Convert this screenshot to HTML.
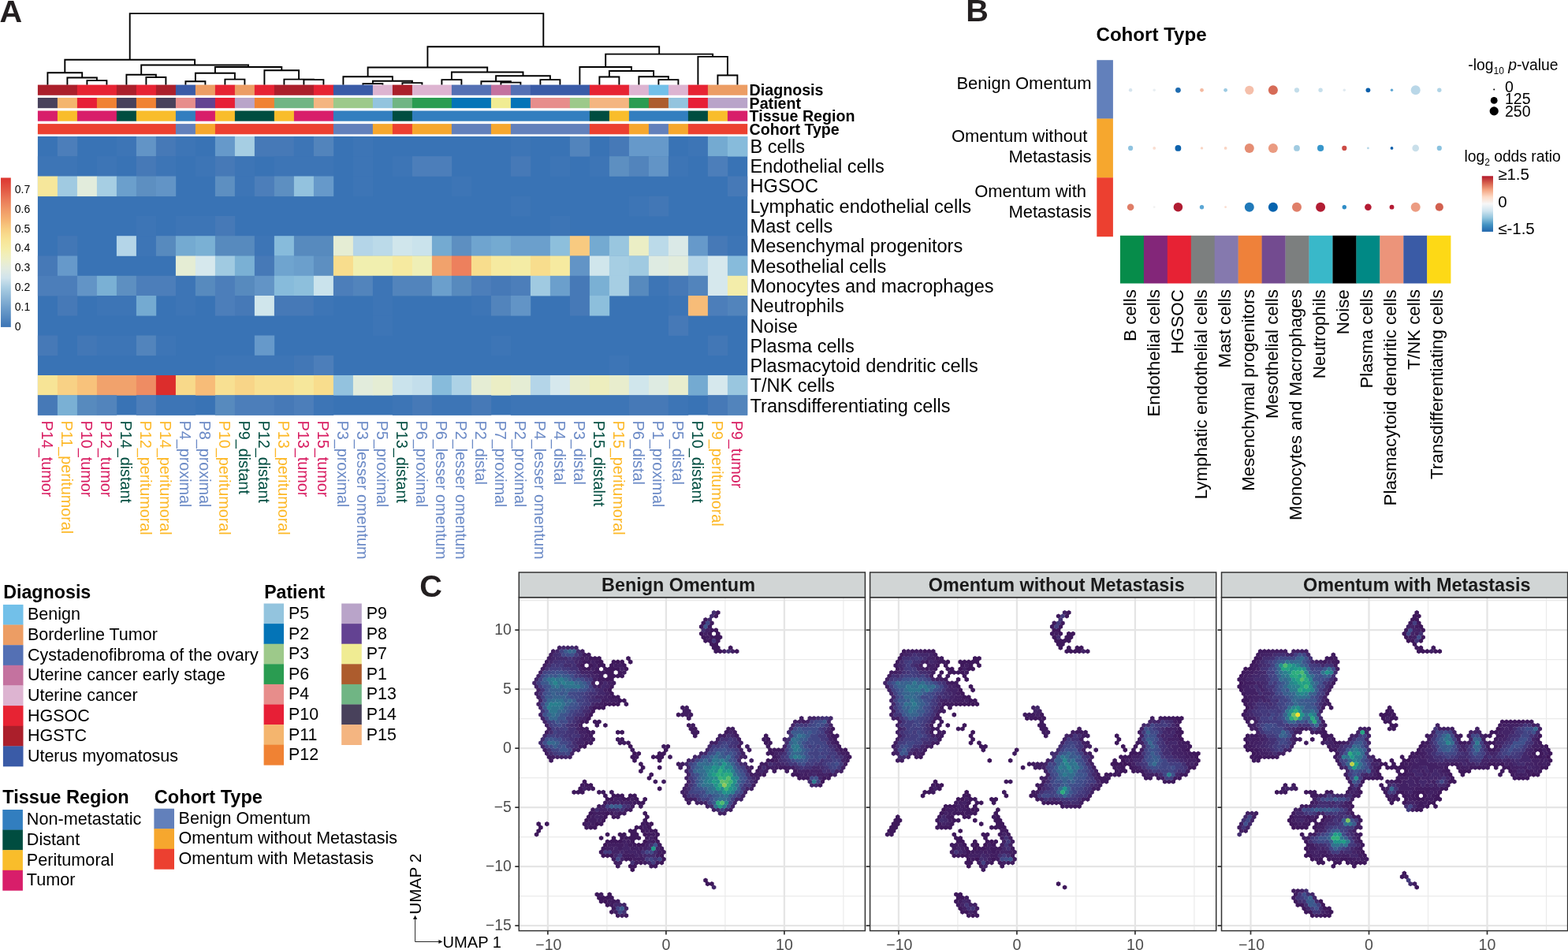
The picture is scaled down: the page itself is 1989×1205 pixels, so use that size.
<!DOCTYPE html>
<html lang="en">
<head>
<meta charset="utf-8">
<title>Figure</title>
<style>
html,body{margin:0;padding:0;background:#fff;}
body{width:1989px;height:1205px;overflow:hidden;}
svg{display:block;}
text{font-family:"Liberation Sans",sans-serif;}
.b{font-weight:bold;}
</style>
</head>
<body>
<svg width="1989" height="1205" viewBox="0 0 1989 1205">
<rect width="1989" height="1205" fill="#fff"/>
<g id="panelA">
<path d="M110.4 107.8V102.1H135.4V107.8M85.4 107.8V98.5H122.9V102.1M60.4 107.8V92.3H104.2V98.5M185.4 107.8V98H210.4V107.8M160.4 107.8V94.8H197.9V98M235.4 107.8V103.3H260.4V107.8M285.4 107.8V100.6H310.4V107.8M247.9 103.3V92.8H297.9V100.6M385.4 107.8V101.1H410.4V107.8M360.4 107.8V100.6H397.9V101.1M335.4 107.8V89.2H379.1V100.6M272.9 92.8V85H357.3V89.2M179.2 94.8V82.5H315.1V85M82.3 92.3V75.7H247.1V82.5M460.4 107.8V106.1H485.4V107.8M510.4 107.8V105.1H535.4V107.8M472.9 106.1V102.8H522.9V105.1M435.4 107.8V97.3H497.9V102.8M560.4 107.8V101.1H585.4V107.8M635.4 107.8V104.6H660.4V107.8M610.4 107.8V103.3H647.9V104.6M685.4 107.8V101.1H710.4V107.8M629.1 103.3V96.3H697.9V101.1M572.9 101.1V91.5H663.5V96.3M466.6 97.3V85.5H618.2V91.5M760.4 107.8V97.5H785.4V107.8M835.4 107.8V101.1H860.4V107.8M810.4 107.8V97.3H847.9V101.1M772.9 97.5V90H829.1V97.3M735.4 107.8V85H801V90M910.4 107.8V95.5H935.4V107.8M885.4 107.8V71.9H922.9V95.5M768.2 85V68.6H904.1V71.9M542.4 85.5V59.3H836.2V68.6M164.7 75.7V17.1H689.3V59.3" fill="none" stroke="#000" stroke-width="1.9" stroke-linejoin="miter"/>
<rect x="47.9" y="107.6" width="50.3" height="13.2" fill="#AB1F2B"/>
<rect x="97.9" y="107.6" width="50.3" height="13.2" fill="#E72333"/>
<rect x="147.9" y="107.6" width="25.3" height="13.2" fill="#AB1F2B"/>
<rect x="172.9" y="107.6" width="25.3" height="13.2" fill="#E72333"/>
<rect x="197.9" y="107.6" width="25.3" height="13.2" fill="#AB1F2B"/>
<rect x="222.9" y="107.6" width="25.3" height="13.2" fill="#3A5BA7"/>
<rect x="247.9" y="107.6" width="25.3" height="13.2" fill="#EC9D64"/>
<rect x="272.9" y="107.6" width="25.3" height="13.2" fill="#E72333"/>
<rect x="297.9" y="107.6" width="25.3" height="13.2" fill="#EC9D64"/>
<rect x="322.9" y="107.6" width="25.3" height="13.2" fill="#E72333"/>
<rect x="347.9" y="107.6" width="50.3" height="13.2" fill="#AB1F2B"/>
<rect x="397.9" y="107.6" width="25.3" height="13.2" fill="#E72333"/>
<rect x="422.9" y="107.6" width="50.3" height="13.2" fill="#3A5BA7"/>
<rect x="472.9" y="107.6" width="25.3" height="13.2" fill="#DDB4D1"/>
<rect x="497.9" y="107.6" width="25.3" height="13.2" fill="#AB1F2B"/>
<rect x="522.9" y="107.6" width="50.3" height="13.2" fill="#DDB4D1"/>
<rect x="572.9" y="107.6" width="50.3" height="13.2" fill="#5470B4"/>
<rect x="622.9" y="107.6" width="25.3" height="13.2" fill="#C4729F"/>
<rect x="647.9" y="107.6" width="25.3" height="13.2" fill="#5470B4"/>
<rect x="672.9" y="107.6" width="75.3" height="13.2" fill="#3A5BA7"/>
<rect x="747.9" y="107.6" width="50.3" height="13.2" fill="#E72333"/>
<rect x="797.9" y="107.6" width="25.3" height="13.2" fill="#DDB4D1"/>
<rect x="822.9" y="107.6" width="25.3" height="13.2" fill="#72C0E9"/>
<rect x="847.9" y="107.6" width="25.3" height="13.2" fill="#DDB4D1"/>
<rect x="872.9" y="107.6" width="25.3" height="13.2" fill="#E72333"/>
<rect x="897.9" y="107.6" width="50.3" height="13.2" fill="#EC9D64"/>
<rect x="47.9" y="124" width="25.3" height="13.2" fill="#48415B"/>
<rect x="72.9" y="124" width="25.3" height="13.2" fill="#F4B56E"/>
<rect x="97.9" y="124" width="25.3" height="13.2" fill="#E71F36"/>
<rect x="122.9" y="124" width="25.3" height="13.2" fill="#F08233"/>
<rect x="147.9" y="124" width="25.3" height="13.2" fill="#48415B"/>
<rect x="172.9" y="124" width="25.3" height="13.2" fill="#F08233"/>
<rect x="197.9" y="124" width="25.3" height="13.2" fill="#48415B"/>
<rect x="222.9" y="124" width="25.3" height="13.2" fill="#E78D8B"/>
<rect x="247.9" y="124" width="25.3" height="13.2" fill="#634292"/>
<rect x="272.9" y="124" width="25.3" height="13.2" fill="#E71F36"/>
<rect x="297.9" y="124" width="25.3" height="13.2" fill="#B9A4C9"/>
<rect x="322.9" y="124" width="25.3" height="13.2" fill="#F08233"/>
<rect x="347.9" y="124" width="50.3" height="13.2" fill="#70B584"/>
<rect x="397.9" y="124" width="25.3" height="13.2" fill="#F4B581"/>
<rect x="422.9" y="124" width="50.3" height="13.2" fill="#9DC98A"/>
<rect x="472.9" y="124" width="25.3" height="13.2" fill="#93C4DE"/>
<rect x="497.9" y="124" width="25.3" height="13.2" fill="#70B584"/>
<rect x="522.9" y="124" width="50.3" height="13.2" fill="#2A9C51"/>
<rect x="572.9" y="124" width="50.3" height="13.2" fill="#0474B7"/>
<rect x="622.9" y="124" width="25.3" height="13.2" fill="#F0EC93"/>
<rect x="647.9" y="124" width="25.3" height="13.2" fill="#0474B7"/>
<rect x="672.9" y="124" width="50.3" height="13.2" fill="#E78D8B"/>
<rect x="722.9" y="124" width="25.3" height="13.2" fill="#9DC98A"/>
<rect x="747.9" y="124" width="50.3" height="13.2" fill="#F4B581"/>
<rect x="797.9" y="124" width="25.3" height="13.2" fill="#2A9C51"/>
<rect x="822.9" y="124" width="25.3" height="13.2" fill="#AD5C2D"/>
<rect x="847.9" y="124" width="25.3" height="13.2" fill="#93C4DE"/>
<rect x="872.9" y="124" width="25.3" height="13.2" fill="#E71F36"/>
<rect x="897.9" y="124" width="50.3" height="13.2" fill="#B9A4C9"/>
<rect x="47.9" y="140.5" width="25.3" height="13.2" fill="#D81E6A"/>
<rect x="72.9" y="140.5" width="25.3" height="13.2" fill="#F9BD2B"/>
<rect x="97.9" y="140.5" width="50.3" height="13.2" fill="#D81E6A"/>
<rect x="147.9" y="140.5" width="25.3" height="13.2" fill="#004D40"/>
<rect x="172.9" y="140.5" width="50.3" height="13.2" fill="#F9BD2B"/>
<rect x="222.9" y="140.5" width="25.3" height="13.2" fill="#327EBF"/>
<rect x="247.9" y="140.5" width="25.3" height="13.2" fill="#D81E6A"/>
<rect x="272.9" y="140.5" width="25.3" height="13.2" fill="#F9BD2B"/>
<rect x="297.9" y="140.5" width="50.3" height="13.2" fill="#004D40"/>
<rect x="347.9" y="140.5" width="25.3" height="13.2" fill="#F9BD2B"/>
<rect x="372.9" y="140.5" width="50.3" height="13.2" fill="#D81E6A"/>
<rect x="422.9" y="140.5" width="75.3" height="13.2" fill="#327EBF"/>
<rect x="497.9" y="140.5" width="25.3" height="13.2" fill="#004D40"/>
<rect x="522.9" y="140.5" width="225.3" height="13.2" fill="#327EBF"/>
<rect x="747.9" y="140.5" width="25.3" height="13.2" fill="#004D40"/>
<rect x="772.9" y="140.5" width="25.3" height="13.2" fill="#F9BD2B"/>
<rect x="797.9" y="140.5" width="75.3" height="13.2" fill="#327EBF"/>
<rect x="872.9" y="140.5" width="25.3" height="13.2" fill="#004D40"/>
<rect x="897.9" y="140.5" width="25.3" height="13.2" fill="#F9BD2B"/>
<rect x="922.9" y="140.5" width="25.3" height="13.2" fill="#D81E6A"/>
<rect x="47.9" y="157.1" width="175.3" height="13.2" fill="#EC4030"/>
<rect x="222.9" y="157.1" width="25.3" height="13.2" fill="#6280BB"/>
<rect x="247.9" y="157.1" width="25.3" height="13.2" fill="#F6A72E"/>
<rect x="272.9" y="157.1" width="150.3" height="13.2" fill="#EC4030"/>
<rect x="422.9" y="157.1" width="50.3" height="13.2" fill="#6280BB"/>
<rect x="472.9" y="157.1" width="25.3" height="13.2" fill="#F6A72E"/>
<rect x="497.9" y="157.1" width="25.3" height="13.2" fill="#EC4030"/>
<rect x="522.9" y="157.1" width="50.3" height="13.2" fill="#F6A72E"/>
<rect x="572.9" y="157.1" width="50.3" height="13.2" fill="#6280BB"/>
<rect x="622.9" y="157.1" width="25.3" height="13.2" fill="#F6A72E"/>
<rect x="647.9" y="157.1" width="100.3" height="13.2" fill="#6280BB"/>
<rect x="747.9" y="157.1" width="50.3" height="13.2" fill="#EC4030"/>
<rect x="797.9" y="157.1" width="25.3" height="13.2" fill="#F6A72E"/>
<rect x="822.9" y="157.1" width="25.3" height="13.2" fill="#6280BB"/>
<rect x="847.9" y="157.1" width="25.3" height="13.2" fill="#F6A72E"/>
<rect x="872.9" y="157.1" width="75.3" height="13.2" fill="#EC4030"/>
<text x="950.6" y="121.2" class="b" font-size="19.65">Diagnosis</text>
<text x="950.6" y="137.6" class="b" font-size="19.65">Patient</text>
<text x="950.6" y="154.1" class="b" font-size="19.65">Tissue Region</text>
<text x="950.6" y="170.7" class="b" font-size="19.65">Cohort Type</text>
<rect x="47.9" y="173" width="900.3" height="353.5" fill="#3973B5"/>
<rect x="72.9" y="173" width="25.3" height="25.6" fill="#4C7EBA"/>
<rect x="147.9" y="173" width="25.3" height="25.6" fill="#3D75B6"/>
<rect x="172.9" y="173" width="25.3" height="25.6" fill="#6294C6"/>
<rect x="197.9" y="173" width="25.3" height="25.6" fill="#4679B7"/>
<rect x="222.9" y="173" width="25.3" height="25.6" fill="#3D75B6"/>
<rect x="272.9" y="173" width="25.3" height="25.6" fill="#6699CA"/>
<rect x="297.9" y="173" width="25.3" height="25.6" fill="#A6CEE3"/>
<rect x="322.9" y="173" width="50.3" height="25.6" fill="#4679B7"/>
<rect x="372.9" y="173" width="25.3" height="25.6" fill="#3D75B6"/>
<rect x="397.9" y="173" width="25.3" height="25.6" fill="#5284BC"/>
<rect x="447.9" y="173" width="25.3" height="25.6" fill="#3D75B6"/>
<rect x="647.9" y="173" width="25.3" height="25.6" fill="#3D75B6"/>
<rect x="722.9" y="173" width="25.3" height="25.6" fill="#5284BC"/>
<rect x="772.9" y="173" width="25.3" height="25.6" fill="#4679B7"/>
<rect x="797.9" y="173" width="50.3" height="25.6" fill="#6699CA"/>
<rect x="872.9" y="173" width="25.3" height="25.6" fill="#3D75B6"/>
<rect x="897.9" y="173" width="25.3" height="25.6" fill="#74AAD1"/>
<rect x="922.9" y="173" width="25.3" height="25.6" fill="#87BBDB"/>
<rect x="47.9" y="198.2" width="50.3" height="25.6" fill="#3D75B6"/>
<rect x="122.9" y="198.2" width="25.3" height="25.6" fill="#3D75B6"/>
<rect x="172.9" y="198.2" width="25.3" height="25.6" fill="#4679B7"/>
<rect x="197.9" y="198.2" width="25.3" height="25.6" fill="#3D75B6"/>
<rect x="247.9" y="198.2" width="25.3" height="25.6" fill="#3D75B6"/>
<rect x="272.9" y="198.2" width="25.3" height="25.6" fill="#4679B7"/>
<rect x="297.9" y="198.2" width="25.3" height="25.6" fill="#3D75B6"/>
<rect x="347.9" y="198.2" width="75.3" height="25.6" fill="#3D75B6"/>
<rect x="447.9" y="198.2" width="25.3" height="25.6" fill="#3D75B6"/>
<rect x="497.9" y="198.2" width="25.3" height="25.6" fill="#3D75B6"/>
<rect x="522.9" y="198.2" width="50.3" height="25.6" fill="#4C7EBA"/>
<rect x="647.9" y="198.2" width="25.3" height="25.6" fill="#4679B7"/>
<rect x="697.9" y="198.2" width="25.3" height="25.6" fill="#3D75B6"/>
<rect x="747.9" y="198.2" width="25.3" height="25.6" fill="#3D75B6"/>
<rect x="772.9" y="198.2" width="25.3" height="25.6" fill="#5D8FC1"/>
<rect x="797.9" y="198.2" width="25.3" height="25.6" fill="#5284BC"/>
<rect x="822.9" y="198.2" width="25.3" height="25.6" fill="#6294C6"/>
<rect x="847.9" y="198.2" width="25.3" height="25.6" fill="#3D75B6"/>
<rect x="897.9" y="198.2" width="25.3" height="25.6" fill="#4C7EBA"/>
<rect x="47.9" y="223.5" width="25.3" height="25.6" fill="#F6E79B"/>
<rect x="72.9" y="223.5" width="25.3" height="25.6" fill="#A0CAE1"/>
<rect x="97.9" y="223.5" width="25.3" height="25.6" fill="#E2ECDC"/>
<rect x="122.9" y="223.5" width="25.3" height="25.6" fill="#A6CEE3"/>
<rect x="147.9" y="223.5" width="25.3" height="25.6" fill="#6B9FCC"/>
<rect x="172.9" y="223.5" width="25.3" height="25.6" fill="#5D8FC1"/>
<rect x="197.9" y="223.5" width="25.3" height="25.6" fill="#6294C6"/>
<rect x="272.9" y="223.5" width="25.3" height="25.6" fill="#5D8FC1"/>
<rect x="297.9" y="223.5" width="25.3" height="25.6" fill="#3D75B6"/>
<rect x="322.9" y="223.5" width="25.3" height="25.6" fill="#4C7EBA"/>
<rect x="347.9" y="223.5" width="25.3" height="25.6" fill="#5D8FC1"/>
<rect x="372.9" y="223.5" width="25.3" height="25.6" fill="#93C2DE"/>
<rect x="397.9" y="223.5" width="25.3" height="25.6" fill="#6699CA"/>
<rect x="447.9" y="223.5" width="25.3" height="25.6" fill="#3D75B6"/>
<rect x="572.9" y="223.5" width="25.3" height="25.6" fill="#3D75B6"/>
<rect x="922.9" y="223.5" width="25.3" height="25.6" fill="#4679B7"/>
<rect x="647.9" y="248.8" width="25.3" height="25.6" fill="#3D75B6"/>
<rect x="797.9" y="248.8" width="25.3" height="25.6" fill="#3D75B6"/>
<rect x="822.9" y="248.8" width="25.3" height="25.6" fill="#4277B6"/>
<rect x="172.9" y="274" width="25.3" height="25.6" fill="#3D75B6"/>
<rect x="222.9" y="274" width="50.3" height="25.6" fill="#3D75B6"/>
<rect x="272.9" y="274" width="25.3" height="25.6" fill="#4679B7"/>
<rect x="697.9" y="274" width="25.3" height="25.6" fill="#3D75B6"/>
<rect x="72.9" y="299.2" width="25.3" height="25.6" fill="#4277B6"/>
<rect x="147.9" y="299.2" width="25.3" height="25.6" fill="#B4D5E8"/>
<rect x="172.9" y="299.2" width="25.3" height="25.6" fill="#3D75B6"/>
<rect x="197.9" y="299.2" width="25.3" height="25.6" fill="#578ABE"/>
<rect x="222.9" y="299.2" width="25.3" height="25.6" fill="#74AAD1"/>
<rect x="247.9" y="299.2" width="25.3" height="25.6" fill="#7AB0D4"/>
<rect x="272.9" y="299.2" width="50.3" height="25.6" fill="#578ABE"/>
<rect x="322.9" y="299.2" width="25.3" height="25.6" fill="#3D75B6"/>
<rect x="347.9" y="299.2" width="25.3" height="25.6" fill="#87BBDB"/>
<rect x="372.9" y="299.2" width="50.3" height="25.6" fill="#578ABE"/>
<rect x="422.9" y="299.2" width="25.3" height="25.6" fill="#E5EDD4"/>
<rect x="447.9" y="299.2" width="25.3" height="25.6" fill="#B4D5E8"/>
<rect x="472.9" y="299.2" width="25.3" height="25.6" fill="#BBDAE9"/>
<rect x="497.9" y="299.2" width="25.3" height="25.6" fill="#D0E6EC"/>
<rect x="522.9" y="299.2" width="25.3" height="25.6" fill="#CAE3EC"/>
<rect x="547.9" y="299.2" width="25.3" height="25.6" fill="#74AAD1"/>
<rect x="572.9" y="299.2" width="25.3" height="25.6" fill="#5D8FC1"/>
<rect x="597.9" y="299.2" width="25.3" height="25.6" fill="#6FA4CF"/>
<rect x="622.9" y="299.2" width="25.3" height="25.6" fill="#74AAD1"/>
<rect x="647.9" y="299.2" width="50.3" height="25.6" fill="#6B9FCC"/>
<rect x="697.9" y="299.2" width="25.3" height="25.6" fill="#8DBFDC"/>
<rect x="722.9" y="299.2" width="25.3" height="25.6" fill="#F8CA80"/>
<rect x="747.9" y="299.2" width="25.3" height="25.6" fill="#74AAD1"/>
<rect x="772.9" y="299.2" width="25.3" height="25.6" fill="#99C6DF"/>
<rect x="797.9" y="299.2" width="25.3" height="25.6" fill="#EBEEC5"/>
<rect x="822.9" y="299.2" width="25.3" height="25.6" fill="#BBDAE9"/>
<rect x="847.9" y="299.2" width="25.3" height="25.6" fill="#DAE9E7"/>
<rect x="872.9" y="299.2" width="25.3" height="25.6" fill="#6699CA"/>
<rect x="897.9" y="299.2" width="25.3" height="25.6" fill="#4679B7"/>
<rect x="922.9" y="299.2" width="25.3" height="25.6" fill="#3D75B6"/>
<rect x="47.9" y="324.5" width="25.3" height="25.6" fill="#4679B7"/>
<rect x="72.9" y="324.5" width="25.3" height="25.6" fill="#6699CA"/>
<rect x="222.9" y="324.5" width="25.3" height="25.6" fill="#E5EDD4"/>
<rect x="247.9" y="324.5" width="25.3" height="25.6" fill="#D6E8ED"/>
<rect x="272.9" y="324.5" width="25.3" height="25.6" fill="#A0CAE1"/>
<rect x="297.9" y="324.5" width="25.3" height="25.6" fill="#7AB0D4"/>
<rect x="322.9" y="324.5" width="25.3" height="25.6" fill="#4679B7"/>
<rect x="347.9" y="324.5" width="25.3" height="25.6" fill="#6FA4CF"/>
<rect x="372.9" y="324.5" width="25.3" height="25.6" fill="#6B9FCC"/>
<rect x="397.9" y="324.5" width="25.3" height="25.6" fill="#5D8FC1"/>
<rect x="422.9" y="324.5" width="25.3" height="25.6" fill="#F8DD8D"/>
<rect x="447.9" y="324.5" width="50.3" height="25.6" fill="#F1EFAF"/>
<rect x="497.9" y="324.5" width="25.3" height="25.6" fill="#F6EAA0"/>
<rect x="522.9" y="324.5" width="25.3" height="25.6" fill="#EFEFB6"/>
<rect x="547.9" y="324.5" width="25.3" height="25.6" fill="#F1A26C"/>
<rect x="572.9" y="324.5" width="25.3" height="25.6" fill="#ED805D"/>
<rect x="597.9" y="324.5" width="25.3" height="25.6" fill="#F8DD8D"/>
<rect x="622.9" y="324.5" width="25.3" height="25.6" fill="#F6EAA0"/>
<rect x="647.9" y="324.5" width="25.3" height="25.6" fill="#F4ECA5"/>
<rect x="672.9" y="324.5" width="25.3" height="25.6" fill="#F8DD8D"/>
<rect x="697.9" y="324.5" width="25.3" height="25.6" fill="#F6EAA0"/>
<rect x="722.9" y="324.5" width="25.3" height="25.6" fill="#6294C6"/>
<rect x="747.9" y="324.5" width="25.3" height="25.6" fill="#D0E6EC"/>
<rect x="772.9" y="324.5" width="25.3" height="25.6" fill="#A6CEE3"/>
<rect x="797.9" y="324.5" width="25.3" height="25.6" fill="#A0CAE1"/>
<rect x="822.9" y="324.5" width="25.3" height="25.6" fill="#DEEBE2"/>
<rect x="847.9" y="324.5" width="25.3" height="25.6" fill="#E2ECDC"/>
<rect x="872.9" y="324.5" width="25.3" height="25.6" fill="#B4D5E8"/>
<rect x="897.9" y="324.5" width="25.3" height="25.6" fill="#D6E8ED"/>
<rect x="922.9" y="324.5" width="25.3" height="25.6" fill="#87BBDB"/>
<rect x="47.9" y="349.8" width="50.3" height="25.6" fill="#4C7EBA"/>
<rect x="97.9" y="349.8" width="25.3" height="25.6" fill="#6294C6"/>
<rect x="122.9" y="349.8" width="25.3" height="25.6" fill="#7AB0D4"/>
<rect x="147.9" y="349.8" width="25.3" height="25.6" fill="#5D8FC1"/>
<rect x="172.9" y="349.8" width="50.3" height="25.6" fill="#4C7EBA"/>
<rect x="222.9" y="349.8" width="25.3" height="25.6" fill="#3D75B6"/>
<rect x="247.9" y="349.8" width="25.3" height="25.6" fill="#578ABE"/>
<rect x="272.9" y="349.8" width="25.3" height="25.6" fill="#4C7EBA"/>
<rect x="297.9" y="349.8" width="25.3" height="25.6" fill="#578ABE"/>
<rect x="322.9" y="349.8" width="25.3" height="25.6" fill="#6294C6"/>
<rect x="347.9" y="349.8" width="25.3" height="25.6" fill="#87BBDB"/>
<rect x="372.9" y="349.8" width="25.3" height="25.6" fill="#8DBFDC"/>
<rect x="397.9" y="349.8" width="25.3" height="25.6" fill="#CAE3EC"/>
<rect x="422.9" y="349.8" width="25.3" height="25.6" fill="#4C7EBA"/>
<rect x="447.9" y="349.8" width="25.3" height="25.6" fill="#5284BC"/>
<rect x="472.9" y="349.8" width="25.3" height="25.6" fill="#3D75B6"/>
<rect x="497.9" y="349.8" width="50.3" height="25.6" fill="#5284BC"/>
<rect x="547.9" y="349.8" width="25.3" height="25.6" fill="#6B9FCC"/>
<rect x="572.9" y="349.8" width="25.3" height="25.6" fill="#578ABE"/>
<rect x="597.9" y="349.8" width="25.3" height="25.6" fill="#4C7EBA"/>
<rect x="622.9" y="349.8" width="25.3" height="25.6" fill="#4679B7"/>
<rect x="647.9" y="349.8" width="25.3" height="25.6" fill="#4C7EBA"/>
<rect x="672.9" y="349.8" width="25.3" height="25.6" fill="#A0CAE1"/>
<rect x="697.9" y="349.8" width="25.3" height="25.6" fill="#6B9FCC"/>
<rect x="722.9" y="349.8" width="25.3" height="25.6" fill="#4679B7"/>
<rect x="747.9" y="349.8" width="25.3" height="25.6" fill="#7AB0D4"/>
<rect x="772.9" y="349.8" width="25.3" height="25.6" fill="#A6CEE3"/>
<rect x="797.9" y="349.8" width="25.3" height="25.6" fill="#578ABE"/>
<rect x="822.9" y="349.8" width="25.3" height="25.6" fill="#3D75B6"/>
<rect x="847.9" y="349.8" width="25.3" height="25.6" fill="#4679B7"/>
<rect x="872.9" y="349.8" width="25.3" height="25.6" fill="#5284BC"/>
<rect x="897.9" y="349.8" width="25.3" height="25.6" fill="#D6E8ED"/>
<rect x="922.9" y="349.8" width="25.3" height="25.6" fill="#F3EDAA"/>
<rect x="72.9" y="375" width="25.3" height="25.6" fill="#4679B7"/>
<rect x="122.9" y="375" width="50.3" height="25.6" fill="#3D75B6"/>
<rect x="172.9" y="375" width="25.3" height="25.6" fill="#74AAD1"/>
<rect x="222.9" y="375" width="25.3" height="25.6" fill="#3D75B6"/>
<rect x="272.9" y="375" width="25.3" height="25.6" fill="#4C7EBA"/>
<rect x="297.9" y="375" width="25.3" height="25.6" fill="#4679B7"/>
<rect x="322.9" y="375" width="25.3" height="25.6" fill="#D0E6EC"/>
<rect x="347.9" y="375" width="50.3" height="25.6" fill="#4679B7"/>
<rect x="397.9" y="375" width="25.3" height="25.6" fill="#3D75B6"/>
<rect x="472.9" y="375" width="25.3" height="25.6" fill="#3D75B6"/>
<rect x="597.9" y="375" width="25.3" height="25.6" fill="#3D75B6"/>
<rect x="622.9" y="375" width="25.3" height="25.6" fill="#5284BC"/>
<rect x="647.9" y="375" width="25.3" height="25.6" fill="#6294C6"/>
<rect x="722.9" y="375" width="25.3" height="25.6" fill="#4679B7"/>
<rect x="747.9" y="375" width="25.3" height="25.6" fill="#8DBFDC"/>
<rect x="847.9" y="375" width="25.3" height="25.6" fill="#3D75B6"/>
<rect x="872.9" y="375" width="25.3" height="25.6" fill="#F7BC78"/>
<rect x="897.9" y="375" width="25.3" height="25.6" fill="#4C7EBA"/>
<rect x="922.9" y="375" width="25.3" height="25.6" fill="#5284BC"/>
<rect x="472.9" y="400.2" width="25.3" height="25.6" fill="#3D75B6"/>
<rect x="847.9" y="400.2" width="25.3" height="25.6" fill="#4679B7"/>
<rect x="47.9" y="425.5" width="25.3" height="25.6" fill="#4679B7"/>
<rect x="97.9" y="425.5" width="25.3" height="25.6" fill="#4277B6"/>
<rect x="122.9" y="425.5" width="50.3" height="25.6" fill="#3D75B6"/>
<rect x="172.9" y="425.5" width="25.3" height="25.6" fill="#5284BC"/>
<rect x="197.9" y="425.5" width="25.3" height="25.6" fill="#3D75B6"/>
<rect x="322.9" y="425.5" width="25.3" height="25.6" fill="#6699CA"/>
<rect x="622.9" y="425.5" width="25.3" height="25.6" fill="#3D75B6"/>
<rect x="897.9" y="425.5" width="25.3" height="25.6" fill="#4277B6"/>
<rect x="272.9" y="450.8" width="100.3" height="25.6" fill="#3D75B6"/>
<rect x="372.9" y="450.8" width="25.3" height="25.6" fill="#4277B6"/>
<rect x="397.9" y="450.8" width="25.3" height="25.6" fill="#4C7EBA"/>
<rect x="772.9" y="450.8" width="25.3" height="25.6" fill="#3D75B6"/>
<rect x="47.9" y="476" width="25.3" height="25.6" fill="#F7E496"/>
<rect x="72.9" y="476" width="25.3" height="25.6" fill="#F8D185"/>
<rect x="97.9" y="476" width="25.3" height="25.6" fill="#F8C27B"/>
<rect x="122.9" y="476" width="50.3" height="25.6" fill="#F1A26C"/>
<rect x="172.9" y="476" width="25.3" height="25.6" fill="#EE8C63"/>
<rect x="197.9" y="476" width="25.3" height="25.6" fill="#DC2D2C"/>
<rect x="222.9" y="476" width="25.3" height="25.6" fill="#F8D98A"/>
<rect x="247.9" y="476" width="25.3" height="25.6" fill="#F7BC78"/>
<rect x="272.9" y="476" width="25.3" height="25.6" fill="#F8E092"/>
<rect x="297.9" y="476" width="25.3" height="25.6" fill="#F8D588"/>
<rect x="322.9" y="476" width="50.3" height="25.6" fill="#F8E092"/>
<rect x="372.9" y="476" width="25.3" height="25.6" fill="#F6E79B"/>
<rect x="397.9" y="476" width="25.3" height="25.6" fill="#F8DD8D"/>
<rect x="422.9" y="476" width="25.3" height="25.6" fill="#93C2DE"/>
<rect x="447.9" y="476" width="25.3" height="25.6" fill="#E2ECDC"/>
<rect x="472.9" y="476" width="25.3" height="25.6" fill="#E5EDD4"/>
<rect x="497.9" y="476" width="25.3" height="25.6" fill="#CAE3EC"/>
<rect x="522.9" y="476" width="25.3" height="25.6" fill="#C3DEEB"/>
<rect x="547.9" y="476" width="25.3" height="25.6" fill="#87BBDB"/>
<rect x="572.9" y="476" width="25.3" height="25.6" fill="#ADD2E6"/>
<rect x="597.9" y="476" width="25.3" height="25.6" fill="#E5EDD4"/>
<rect x="622.9" y="476" width="25.3" height="25.6" fill="#EBEEC5"/>
<rect x="647.9" y="476" width="25.3" height="25.6" fill="#E5EDD4"/>
<rect x="672.9" y="476" width="25.3" height="25.6" fill="#B4D5E8"/>
<rect x="697.9" y="476" width="25.3" height="25.6" fill="#D6E8ED"/>
<rect x="722.9" y="476" width="25.3" height="25.6" fill="#E8EDCD"/>
<rect x="747.9" y="476" width="25.3" height="25.6" fill="#EDEEBE"/>
<rect x="772.9" y="476" width="25.3" height="25.6" fill="#E8EDCD"/>
<rect x="797.9" y="476" width="25.3" height="25.6" fill="#D0E6EC"/>
<rect x="822.9" y="476" width="25.3" height="25.6" fill="#DEEBE2"/>
<rect x="847.9" y="476" width="25.3" height="25.6" fill="#E8EDCD"/>
<rect x="872.9" y="476" width="25.3" height="25.6" fill="#74AAD1"/>
<rect x="897.9" y="476" width="25.3" height="25.6" fill="#D6E8ED"/>
<rect x="922.9" y="476" width="25.3" height="25.6" fill="#99C6DF"/>
<rect x="47.9" y="501.2" width="25.3" height="25.6" fill="#4679B7"/>
<rect x="72.9" y="501.2" width="25.3" height="25.6" fill="#7AB0D4"/>
<rect x="97.9" y="501.2" width="25.3" height="25.6" fill="#578ABE"/>
<rect x="122.9" y="501.2" width="25.3" height="25.6" fill="#5284BC"/>
<rect x="172.9" y="501.2" width="25.3" height="25.6" fill="#4C7EBA"/>
<rect x="197.9" y="501.2" width="50.3" height="25.6" fill="#3D75B6"/>
<rect x="272.9" y="501.2" width="25.3" height="25.6" fill="#578ABE"/>
<rect x="297.9" y="501.2" width="50.3" height="25.6" fill="#4C7EBA"/>
<rect x="347.9" y="501.2" width="25.3" height="25.6" fill="#4679B7"/>
<rect x="372.9" y="501.2" width="25.3" height="25.6" fill="#4C7EBA"/>
<rect x="397.9" y="501.2" width="25.3" height="25.6" fill="#3D75B6"/>
<rect x="497.9" y="501.2" width="25.3" height="25.6" fill="#3D75B6"/>
<rect x="522.9" y="501.2" width="25.3" height="25.6" fill="#4679B7"/>
<rect x="547.9" y="501.2" width="50.3" height="25.6" fill="#3D75B6"/>
<rect x="597.9" y="501.2" width="25.3" height="25.6" fill="#4679B7"/>
<rect x="647.9" y="501.2" width="150.3" height="25.6" fill="#3D75B6"/>
<rect x="797.9" y="501.2" width="50.3" height="25.6" fill="#4679B7"/>
<rect x="847.9" y="501.2" width="25.3" height="25.6" fill="#3D75B6"/>
<rect x="897.9" y="501.2" width="25.3" height="25.6" fill="#4679B7"/>
<rect x="922.9" y="501.2" width="25.3" height="25.6" fill="#5284BC"/>
<text x="951.6" y="193.6" font-size="23.55">B cells</text>
<text x="951.6" y="218.9" font-size="23.55">Endothelial cells</text>
<text x="951.6" y="244.2" font-size="23.55">HGSOC</text>
<text x="951.6" y="269.6" font-size="23.55">Lymphatic endothelial cells</text>
<text x="951.6" y="294.9" font-size="23.55">Mast cells</text>
<text x="951.6" y="320.2" font-size="23.55">Mesenchymal progenitors</text>
<text x="951.6" y="345.5" font-size="23.55">Mesothelial cells</text>
<text x="951.6" y="370.8" font-size="23.55">Monocytes and macrophages</text>
<text x="951.6" y="396.2" font-size="23.55">Neutrophils</text>
<text x="951.6" y="421.5" font-size="23.55">Noise</text>
<text x="951.6" y="446.8" font-size="23.55">Plasma cells</text>
<text x="951.6" y="472.1" font-size="23.55">Plasmacytoid dendritic cells</text>
<text x="951.6" y="497.4" font-size="23.55">T/NK cells</text>
<text x="951.6" y="522.8" font-size="23.55">Transdifferentiating cells</text>
<text transform="translate(53.2 533.5) rotate(90)" font-size="19.8" fill="#D81B60">P14_tumor</text>
<text transform="translate(78.2 533.5) rotate(90)" font-size="19.8" fill="#FDB827">P11_peritumoral</text>
<text transform="translate(103.2 533.5) rotate(90)" font-size="19.8" fill="#D81B60">P10_tumor</text>
<text transform="translate(128.2 533.5) rotate(90)" font-size="19.8" fill="#D81B60">P12_tumor</text>
<text transform="translate(153.2 533.5) rotate(90)" font-size="19.8" fill="#004D40">P14_distant</text>
<text transform="translate(178.2 533.5) rotate(90)" font-size="19.8" fill="#FDB827">P12_peritumoral</text>
<text transform="translate(203.2 533.5) rotate(90)" font-size="19.8" fill="#FDB827">P14_peritumoral</text>
<text transform="translate(228.2 533.5) rotate(90)" font-size="19.8" fill="#6B8AC6">P4_proximal</text>
<text transform="translate(253.2 533.5) rotate(90)" font-size="19.8" fill="#6B8AC6">P8_proximal</text>
<text transform="translate(278.2 533.5) rotate(90)" font-size="19.8" fill="#FDB827">P10_peritumoral</text>
<text transform="translate(303.2 533.5) rotate(90)" font-size="19.8" fill="#004D40">P9_distant</text>
<text transform="translate(328.2 533.5) rotate(90)" font-size="19.8" fill="#004D40">P12_distant</text>
<text transform="translate(353.2 533.5) rotate(90)" font-size="19.8" fill="#FDB827">P13_peritumoral</text>
<text transform="translate(378.2 533.5) rotate(90)" font-size="19.8" fill="#D81B60">P13_tumor</text>
<text transform="translate(403.2 533.5) rotate(90)" font-size="19.8" fill="#D81B60">P15_tumor</text>
<text transform="translate(428.2 533.5) rotate(90)" font-size="19.8" fill="#6B8AC6">P3_proximal</text>
<text transform="translate(453.2 533.5) rotate(90)" font-size="19.8" fill="#6B8AC6">P3_lesser omentum</text>
<text transform="translate(478.2 533.5) rotate(90)" font-size="19.8" fill="#6B8AC6">P5_proximal</text>
<text transform="translate(503.2 533.5) rotate(90)" font-size="19.8" fill="#004D40">P13_distant</text>
<text transform="translate(528.2 533.5) rotate(90)" font-size="19.8" fill="#6B8AC6">P6_proximal</text>
<text transform="translate(553.2 533.5) rotate(90)" font-size="19.8" fill="#6B8AC6">P6_lesser omentum</text>
<text transform="translate(578.2 533.5) rotate(90)" font-size="19.8" fill="#6B8AC6">P2_lesser omentum</text>
<text transform="translate(603.2 533.5) rotate(90)" font-size="19.8" fill="#6B8AC6">P2_distal</text>
<text transform="translate(628.2 533.5) rotate(90)" font-size="19.8" fill="#6B8AC6">P7_proximal</text>
<text transform="translate(653.2 533.5) rotate(90)" font-size="19.8" fill="#6B8AC6">P2_proximal</text>
<text transform="translate(678.2 533.5) rotate(90)" font-size="19.8" fill="#6B8AC6">P4_lesser omentum</text>
<text transform="translate(703.2 533.5) rotate(90)" font-size="19.8" fill="#6B8AC6">P4_distal</text>
<text transform="translate(728.2 533.5) rotate(90)" font-size="19.8" fill="#6B8AC6">P3_distal</text>
<text transform="translate(753.2 533.5) rotate(90)" font-size="19.8" fill="#004D40">P15_distalnt</text>
<text transform="translate(778.2 533.5) rotate(90)" font-size="19.8" fill="#FDB827">P15_peritumoral</text>
<text transform="translate(803.2 533.5) rotate(90)" font-size="19.8" fill="#6B8AC6">P6_distal</text>
<text transform="translate(828.2 533.5) rotate(90)" font-size="19.8" fill="#6B8AC6">P1_proximal</text>
<text transform="translate(853.2 533.5) rotate(90)" font-size="19.8" fill="#6B8AC6">P5_distal</text>
<text transform="translate(878.2 533.5) rotate(90)" font-size="19.8" fill="#004D40">P10_distant</text>
<text transform="translate(903.2 533.5) rotate(90)" font-size="19.8" fill="#FDB827">P9_peritumoral</text>
<text transform="translate(928.2 533.5) rotate(90)" font-size="19.8" fill="#D81B60">P9_tumor</text>
<defs><linearGradient id="hg" x1="0" y1="1" x2="0" y2="0">
<stop offset="0.000" stop-color="#3B74B5"/>
<stop offset="0.131" stop-color="#6F9FCB"/>
<stop offset="0.262" stop-color="#A9CDE2"/>
<stop offset="0.328" stop-color="#D0E3EC"/>
<stop offset="0.393" stop-color="#E2EBE0"/>
<stop offset="0.459" stop-color="#EEEFC5"/>
<stop offset="0.524" stop-color="#F5EDA8"/>
<stop offset="0.590" stop-color="#F8E394"/>
<stop offset="0.655" stop-color="#F8CF82"/>
<stop offset="0.721" stop-color="#F5B271"/>
<stop offset="0.786" stop-color="#F09866"/>
<stop offset="0.852" stop-color="#EA7A58"/>
<stop offset="0.917" stop-color="#E35A45"/>
<stop offset="1.000" stop-color="#DC3530"/>
</linearGradient></defs>
<rect x="1" y="225.5" width="12.8" height="189.4" fill="url(#hg)"/>
<text x="18.8" y="418.6" font-size="14">0</text>
<text x="18.8" y="393.8" font-size="14">0.1</text>
<text x="18.8" y="368.9" font-size="14">0.2</text>
<text x="18.8" y="344.1" font-size="14">0.3</text>
<text x="18.8" y="319.3" font-size="14">0.4</text>
<text x="18.8" y="294.5" font-size="14">0.5</text>
<text x="18.8" y="269.6" font-size="14">0.6</text>
<text x="18.8" y="244.8" font-size="14">0.7</text>
<text x="-0.6" y="27.6" class="b" font-size="39.7" fill="#231F20">A</text>
</g>
<g id="legends">
<text x="4.2" y="758.6" class="b" font-size="23.25">Diagnosis</text>
<rect x="3.9" y="766.9" width="25.6" height="25.9" fill="#72C0E9"/>
<text x="34.9" y="786.4" font-size="21.5">Benign</text>
<rect x="3.9" y="792.5" width="25.6" height="25.9" fill="#EC9D64"/>
<text x="34.9" y="812" font-size="21.5">Borderline Tumor</text>
<rect x="3.9" y="818.2" width="25.6" height="25.9" fill="#5470B4"/>
<text x="34.9" y="837.7" font-size="21.5">Cystadenofibroma of the ovary</text>
<rect x="3.9" y="843.8" width="25.6" height="25.9" fill="#C4729F"/>
<text x="34.9" y="863.3" font-size="21.5">Uterine cancer early stage</text>
<rect x="3.9" y="869.5" width="25.6" height="25.9" fill="#DDB4D1"/>
<text x="34.9" y="889" font-size="21.5">Uterine cancer</text>
<rect x="3.9" y="895.1" width="25.6" height="25.9" fill="#E72333"/>
<text x="34.9" y="914.6" font-size="21.5">HGSOC</text>
<rect x="3.9" y="920.8" width="25.6" height="25.9" fill="#AB1F2B"/>
<text x="34.9" y="940.3" font-size="21.5">HGSTC</text>
<rect x="3.9" y="946.4" width="25.6" height="25.9" fill="#3A5BA7"/>
<text x="34.9" y="965.9" font-size="21.5">Uterus myomatosus</text>
<text x="335.2" y="758.6" class="b" font-size="23.1">Patient</text>
<rect x="334.6" y="765.5" width="25.4" height="25.9" fill="#93C4DE"/>
<text x="366" y="784.9" font-size="21.4">P5</text>
<rect x="334.6" y="791.1" width="25.4" height="25.9" fill="#0474B7"/>
<text x="366" y="810.5" font-size="21.4">P2</text>
<rect x="334.6" y="816.7" width="25.4" height="25.9" fill="#9DC98A"/>
<text x="366" y="836.1" font-size="21.4">P3</text>
<rect x="334.6" y="842.3" width="25.4" height="25.9" fill="#2A9C51"/>
<text x="366" y="861.7" font-size="21.4">P6</text>
<rect x="334.6" y="867.9" width="25.4" height="25.9" fill="#E78D8B"/>
<text x="366" y="887.3" font-size="21.4">P4</text>
<rect x="334.6" y="893.5" width="25.4" height="25.9" fill="#E71F36"/>
<text x="366" y="912.9" font-size="21.4">P10</text>
<rect x="334.6" y="919.1" width="25.4" height="25.9" fill="#F4B56E"/>
<text x="366" y="938.5" font-size="21.4">P11</text>
<rect x="334.6" y="944.7" width="25.4" height="25.9" fill="#F08233"/>
<text x="366" y="964.1" font-size="21.4">P12</text>
<rect x="433.2" y="765.5" width="25.6" height="25.9" fill="#B9A4C9"/>
<text x="464.8" y="784.9" font-size="21.4">P9</text>
<rect x="433.2" y="791.1" width="25.6" height="25.9" fill="#634292"/>
<text x="464.8" y="810.5" font-size="21.4">P8</text>
<rect x="433.2" y="816.7" width="25.6" height="25.9" fill="#F0EC93"/>
<text x="464.8" y="836.1" font-size="21.4">P7</text>
<rect x="433.2" y="842.3" width="25.6" height="25.9" fill="#AD5C2D"/>
<text x="464.8" y="861.7" font-size="21.4">P1</text>
<rect x="433.2" y="867.9" width="25.6" height="25.9" fill="#70B584"/>
<text x="464.8" y="887.3" font-size="21.4">P13</text>
<rect x="433.2" y="893.5" width="25.6" height="25.9" fill="#48415B"/>
<text x="464.8" y="912.9" font-size="21.4">P14</text>
<rect x="433.2" y="919.1" width="25.6" height="25.9" fill="#F4B581"/>
<text x="464.8" y="938.5" font-size="21.4">P15</text>
<text x="3.2" y="1018.6" class="b" font-size="23.55">Tissue Region</text>
<rect x="3.3" y="1027" width="25.6" height="25.9" fill="#327EBF"/>
<text x="33.8" y="1046.3" font-size="21.65">Non-metastatic</text>
<rect x="3.3" y="1052.6" width="25.6" height="25.9" fill="#004D40"/>
<text x="33.8" y="1071.9" font-size="21.65">Distant</text>
<rect x="3.3" y="1078.2" width="25.6" height="25.9" fill="#F9BD2B"/>
<text x="33.8" y="1097.5" font-size="21.65">Peritumoral</text>
<rect x="3.3" y="1103.8" width="25.6" height="25.9" fill="#D81E6A"/>
<text x="33.8" y="1123.1" font-size="21.65">Tumor</text>
<text x="195.8" y="1018.6" class="b" font-size="23.6">Cohort Type</text>
<rect x="195.4" y="1025.7" width="25.6" height="25.9" fill="#6280BB"/>
<text x="226.6" y="1044.8" font-size="21.53">Benign Omentum</text>
<rect x="195.4" y="1051.2" width="25.6" height="25.9" fill="#F6A72E"/>
<text x="226.6" y="1070.3" font-size="21.53">Omentum without Metastasis</text>
<rect x="195.4" y="1076.8" width="25.6" height="25.9" fill="#EC4030"/>
<text x="226.6" y="1095.9" font-size="21.53">Omentum with Metastasis</text>
</g>
<g id="panelB">
<text x="1225.2" y="27.4" class="b" font-size="39.7" fill="#231F20">B</text>
<text x="1390.5" y="52" class="b" font-size="24.1">Cohort Type</text>
<rect x="1391.3" y="76.2" width="20.6" height="74.6" fill="#6280BB"/>
<rect x="1391.3" y="150.5" width="20.6" height="75.1" fill="#F6A72E"/>
<rect x="1391.3" y="225.3" width="20.6" height="74.9" fill="#EC4030"/>
<text x="1384.6" y="113" font-size="22" text-anchor="end">Benign Omentum</text>
<text x="1379.3" y="180.2" font-size="22" text-anchor="end">Omentum without</text>
<text x="1384.6" y="206.2" font-size="22" text-anchor="end">Metastasis</text>
<text x="1378" y="250.1" font-size="22" text-anchor="end">Omentum with</text>
<text x="1384.6" y="275.8" font-size="22" text-anchor="end">Metastasis</text>
<circle cx="1434.1" cy="114.3" r="2.2" fill="#D5E4EE"/>
<circle cx="1464.2" cy="114.3" r="1.7" fill="#E8EEF2"/>
<circle cx="1494.4" cy="114.3" r="3.4" fill="#1F6CB0"/>
<circle cx="1524.5" cy="114.3" r="2.4" fill="#F4B9A0"/>
<circle cx="1554.6" cy="114.3" r="2.4" fill="#9CCAE2"/>
<circle cx="1584.8" cy="114.3" r="5.6" fill="#F5BFAA"/>
<circle cx="1614.9" cy="114.3" r="6" fill="#D66B57"/>
<circle cx="1645" cy="114.3" r="3.1" fill="#C3DDEA"/>
<circle cx="1675.1" cy="114.3" r="2.7" fill="#C6DFEC"/>
<circle cx="1705.3" cy="114.3" r="1.7" fill="#E0EAF0"/>
<circle cx="1735.4" cy="114.3" r="2.9" fill="#0A5FAB"/>
<circle cx="1765.5" cy="114.3" r="1.7" fill="#5CA5D3"/>
<circle cx="1795.7" cy="114.3" r="6" fill="#B9D7E8"/>
<circle cx="1825.8" cy="114.3" r="2.7" fill="#B0D4E6"/>
<circle cx="1434.1" cy="187.9" r="3.1" fill="#8FC3E0"/>
<circle cx="1464.2" cy="187.9" r="1.9" fill="#FADDD0"/>
<circle cx="1494.4" cy="187.9" r="3.9" fill="#0D62AC"/>
<circle cx="1524.5" cy="187.9" r="1.7" fill="#F9D5C3"/>
<circle cx="1554.6" cy="187.9" r="1.9" fill="#FAD4C2"/>
<circle cx="1584.8" cy="187.9" r="6" fill="#E58D73"/>
<circle cx="1614.9" cy="187.9" r="6" fill="#EA9B81"/>
<circle cx="1645" cy="187.9" r="3.9" fill="#A1CBE1"/>
<circle cx="1675.1" cy="187.9" r="4.1" fill="#3796CB"/>
<circle cx="1705.3" cy="187.9" r="3.1" fill="#CC4B45"/>
<circle cx="1735.4" cy="187.9" r="1.4" fill="#B5D6E8"/>
<circle cx="1765.5" cy="187.9" r="1.9" fill="#0A5FAB"/>
<circle cx="1795.7" cy="187.9" r="4.3" fill="#C9DFEA"/>
<circle cx="1825.8" cy="187.9" r="3.1" fill="#8AC2DF"/>
<circle cx="1434.1" cy="262.7" r="4.3" fill="#DF7D67"/>
<circle cx="1464.2" cy="262.7" r="1.4" fill="#F2F2F2"/>
<circle cx="1494.4" cy="262.7" r="5.8" fill="#B01C32"/>
<circle cx="1524.5" cy="262.7" r="2.7" fill="#5BA7D5"/>
<circle cx="1554.6" cy="262.7" r="1.4" fill="#FBDDD0"/>
<circle cx="1584.8" cy="262.7" r="6" fill="#2079B9"/>
<circle cx="1614.9" cy="262.7" r="6" fill="#0563AE"/>
<circle cx="1645" cy="262.7" r="6" fill="#E07F69"/>
<circle cx="1675.1" cy="262.7" r="6" fill="#B21D33"/>
<circle cx="1705.3" cy="262.7" r="2.7" fill="#2E8CC6"/>
<circle cx="1735.4" cy="262.7" r="4.3" fill="#B41B33"/>
<circle cx="1765.5" cy="262.7" r="2.9" fill="#B41B33"/>
<circle cx="1795.7" cy="262.7" r="6" fill="#EC9C82"/>
<circle cx="1825.8" cy="262.7" r="5.1" fill="#D2604F"/>
<rect x="1420.9" y="298.8" width="30.2" height="60.7" fill="#068C4A"/>
<text transform="translate(1441.1 367.2) rotate(-90)" font-size="22.33" text-anchor="end">B cells</text>
<rect x="1450.9" y="298.8" width="30.2" height="60.7" fill="#832679"/>
<text transform="translate(1471 367.2) rotate(-90)" font-size="22.33" text-anchor="end">Endothelial cells</text>
<rect x="1480.8" y="298.8" width="30.2" height="60.7" fill="#E72234"/>
<text transform="translate(1501 367.2) rotate(-90)" font-size="22.33" text-anchor="end">HGSOC</text>
<rect x="1510.8" y="298.8" width="30.2" height="60.7" fill="#7C7F7F"/>
<text transform="translate(1530.9 367.2) rotate(-90)" font-size="22.33" text-anchor="end">Lymphatic endothelial cells</text>
<rect x="1540.7" y="298.8" width="30.2" height="60.7" fill="#8579AE"/>
<text transform="translate(1560.9 367.2) rotate(-90)" font-size="22.33" text-anchor="end">Mast cells</text>
<rect x="1570.7" y="298.8" width="30.2" height="60.7" fill="#EF813A"/>
<text transform="translate(1590.8 367.2) rotate(-90)" font-size="22.33" text-anchor="end">Mesenchymal progenitors</text>
<rect x="1600.6" y="298.8" width="30.2" height="60.7" fill="#734B90"/>
<text transform="translate(1620.8 367.2) rotate(-90)" font-size="22.33" text-anchor="end">Mesothelial cells</text>
<rect x="1630.6" y="298.8" width="30.2" height="60.7" fill="#7C7F7F"/>
<text transform="translate(1650.7 367.2) rotate(-90)" font-size="22.33" text-anchor="end">Monocytes and Macrophages</text>
<rect x="1660.5" y="298.8" width="30.2" height="60.7" fill="#39B8C9"/>
<text transform="translate(1680.7 367.2) rotate(-90)" font-size="22.33" text-anchor="end">Neutrophils</text>
<rect x="1690.5" y="298.8" width="30.2" height="60.7" fill="#000000"/>
<text transform="translate(1710.6 367.2) rotate(-90)" font-size="22.33" text-anchor="end">Noise</text>
<rect x="1720.4" y="298.8" width="30.2" height="60.7" fill="#008985"/>
<text transform="translate(1740.6 367.2) rotate(-90)" font-size="22.33" text-anchor="end">Plasma cells</text>
<rect x="1750.3" y="298.8" width="30.2" height="60.7" fill="#EC947A"/>
<text transform="translate(1770.5 367.2) rotate(-90)" font-size="22.33" text-anchor="end">Plasmacytoid dendritic cells</text>
<rect x="1780.3" y="298.8" width="30.2" height="60.7" fill="#3A5BA6"/>
<text transform="translate(1800.5 367.2) rotate(-90)" font-size="22.33" text-anchor="end">T/NK cells</text>
<rect x="1810.2" y="298.8" width="30.2" height="60.7" fill="#FDD916"/>
<text transform="translate(1830.4 367.2) rotate(-90)" font-size="22.33" text-anchor="end">Transdifferentiating cells</text>
<text x="1862.3" y="89.3" font-size="19.3">-log<tspan font-size="12" dy="5">10</tspan><tspan dy="-5"> </tspan><tspan font-style="italic">p</tspan>-value</text>
<circle cx="1895.2" cy="113.5" r="1" fill="#000"/>
<circle cx="1895.2" cy="127.4" r="4.4" fill="#000"/>
<circle cx="1895.2" cy="140.9" r="5.6" fill="#000"/>
<text x="1909" y="116.7" font-size="19.5">0</text>
<text x="1909" y="132.3" font-size="19.5">125</text>
<text x="1909" y="148.4" font-size="19.5">250</text>
<text x="1857.4" y="205.2" font-size="19.3">log<tspan font-size="12" dy="5">2</tspan><tspan dy="-5"> odds ratio</tspan></text>
<defs><linearGradient id="rb" x1="0" y1="0" x2="0" y2="1">
<stop offset="0.000" stop-color="#B2182B"/>
<stop offset="0.125" stop-color="#D6604D"/>
<stop offset="0.250" stop-color="#F4A582"/>
<stop offset="0.375" stop-color="#FDDBC7"/>
<stop offset="0.500" stop-color="#F7F7F7"/>
<stop offset="0.625" stop-color="#D1E5F0"/>
<stop offset="0.750" stop-color="#92C5DE"/>
<stop offset="0.875" stop-color="#4393C3"/>
<stop offset="1.000" stop-color="#2166AC"/>
</linearGradient></defs>
<rect x="1879.8" y="223.3" width="14.2" height="70.6" fill="url(#rb)"/>
<text x="1900.2" y="228.2" font-size="20.5">&#8805;1.5</text>
<text x="1900.2" y="262.6" font-size="20.5">0</text>
<text x="1900.2" y="297.4" font-size="20.5">&#8804;-1.5</text>
</g>
<g id="panelC">
<text x="532.3" y="756.9" class="b" font-size="39.7" fill="#231F20">C</text>
<clipPath id="cp0"><rect x="658.3" y="757.7" width="439.1" height="422.9"/></clipPath>
<g clip-path="url(#cp0)">
<path d="M769.9 757.7V1180.6M919.9 757.7V1180.6M1069.9 757.7V1180.6M658.3 761.7H1097.4M658.3 836.7H1097.4M658.3 911.7H1097.4M658.3 986.7H1097.4M658.3 1061.7H1097.4M658.3 1136.7H1097.4" stroke="#EBEBEB" stroke-width="1.2" fill="none"/>
<path d="M694.9 757.7V1180.6M844.9 757.7V1180.6M994.9 757.7V1180.6M658.3 799.2H1097.4M658.3 874.2H1097.4M658.3 949.2H1097.4M658.3 1024.2H1097.4M658.3 1099.2H1097.4M658.3 1174.2H1097.4" stroke="#E5E5E5" stroke-width="2.3" fill="none"/>
<g><path fill="#432467" d="M678 863.3l2.77 1.55v3.1l-2.77 1.55l-2.77 -1.55v-3.1zM683.2 854.4l2.77 1.55v3.1l-2.77 1.55l-2.77 -1.55v-3.1zM680.6 867.8l2.77 1.55v3.1l-2.77 1.55l-2.77 -1.55v-3.1zM685.9 885.6l2.77 1.55v3.1l-2.77 1.55l-2.77 -1.55v-3.1zM685.9 903.5l2.77 1.55v3.1l-2.77 1.55l-2.77 -1.55v-3.1zM688.5 908l2.77 1.55v3.1l-2.77 1.55l-2.77 -1.55v-3.1zM691.2 912.4l2.77 1.55v3.1l-2.77 1.55l-2.77 -1.55v-3.1zM712.4 957.1l2.77 1.55v3.1l-2.77 1.55l-2.77 -1.55v-3.1zM720.3 818.6l2.77 1.55v3.1l-2.77 1.55l-2.77 -1.55v-3.1zM725.6 952.7l2.77 1.55v3.1l-2.77 1.55l-2.77 -1.55v-3.1zM730.9 818.6l2.77 1.55v3.1l-2.77 1.55l-2.77 -1.55v-3.1zM728.2 948.2l2.77 1.55v3.1l-2.77 1.55l-2.77 -1.55v-3.1zM736.2 836.5l2.77 1.55v3.1l-2.77 1.55l-2.77 -1.55v-3.1zM733.5 841l2.77 1.55v3.1l-2.77 1.55l-2.77 -1.55v-3.1zM736.2 845.4l2.77 1.55v3.1l-2.77 1.55l-2.77 -1.55v-3.1zM733.5 921.4l2.77 1.55v3.1l-2.77 1.55l-2.77 -1.55v-3.1zM736.2 934.8l2.77 1.55v3.1l-2.77 1.55l-2.77 -1.55v-3.1zM733.5 939.2l2.77 1.55v3.1l-2.77 1.55l-2.77 -1.55v-3.1zM738.8 849.9l2.77 1.55v3.1l-2.77 1.55l-2.77 -1.55v-3.1zM741.5 908l2.77 1.55v3.1l-2.77 1.55l-2.77 -1.55v-3.1zM738.8 930.3l2.77 1.55v3.1l-2.77 1.55l-2.77 -1.55v-3.1zM738.8 939.2l2.77 1.55v3.1l-2.77 1.55l-2.77 -1.55v-3.1zM741.5 997.3l2.77 1.55v3.1l-2.77 1.55l-2.77 -1.55v-3.1zM744.1 849.9l2.77 1.55v3.1l-2.77 1.55l-2.77 -1.55v-3.1zM744.1 903.5l2.77 1.55v3.1l-2.77 1.55l-2.77 -1.55v-3.1zM749.4 849.9l2.77 1.55v3.1l-2.77 1.55l-2.77 -1.55v-3.1zM752.1 854.4l2.77 1.55v3.1l-2.77 1.55l-2.77 -1.55v-3.1zM749.4 894.6l2.77 1.55v3.1l-2.77 1.55l-2.77 -1.55v-3.1zM754.7 867.8l2.77 1.55v3.1l-2.77 1.55l-2.77 -1.55v-3.1zM757.3 881.2l2.77 1.55v3.1l-2.77 1.55l-2.77 -1.55v-3.1zM757.3 1033.1l2.77 1.55v3.1l-2.77 1.55l-2.77 -1.55v-3.1zM762.6 881.2l2.77 1.55v3.1l-2.77 1.55l-2.77 -1.55v-3.1zM762.6 1024.1l2.77 1.55v3.1l-2.77 1.55l-2.77 -1.55v-3.1zM767.9 1024.1l2.77 1.55v3.1l-2.77 1.55l-2.77 -1.55v-3.1zM770.6 867.8l2.77 1.55v3.1l-2.77 1.55l-2.77 -1.55v-3.1zM773.2 1015.2l2.77 1.55v3.1l-2.77 1.55l-2.77 -1.55v-3.1zM778.5 1077.8l2.77 1.55v3.1l-2.77 1.55l-2.77 -1.55v-3.1zM783.8 1015.2l2.77 1.55v3.1l-2.77 1.55l-2.77 -1.55v-3.1zM781.2 1028.6l2.77 1.55v3.1l-2.77 1.55l-2.77 -1.55v-3.1zM781.2 1073.3l2.77 1.55v3.1l-2.77 1.55l-2.77 -1.55v-3.1zM783.8 1077.8l2.77 1.55v3.1l-2.77 1.55l-2.77 -1.55v-3.1zM789.1 1086.7l2.77 1.55v3.1l-2.77 1.55l-2.77 -1.55v-3.1zM794.4 1015.2l2.77 1.55v3.1l-2.77 1.55l-2.77 -1.55v-3.1zM794.4 1068.8l2.77 1.55v3.1l-2.77 1.55l-2.77 -1.55v-3.1zM791.8 1073.3l2.77 1.55v3.1l-2.77 1.55l-2.77 -1.55v-3.1zM791.8 1144.8l2.77 1.55v3.1l-2.77 1.55l-2.77 -1.55v-3.1zM794.4 1149.2l2.77 1.55v3.1l-2.77 1.55l-2.77 -1.55v-3.1zM797 1073.3l2.77 1.55v3.1l-2.77 1.55l-2.77 -1.55v-3.1zM799.7 1077.8l2.77 1.55v3.1l-2.77 1.55l-2.77 -1.55v-3.1zM805 1077.8l2.77 1.55v3.1l-2.77 1.55l-2.77 -1.55v-3.1zM807.6 1082.2l2.77 1.55v3.1l-2.77 1.55l-2.77 -1.55v-3.1zM834.1 1073.3l2.77 1.55v3.1l-2.77 1.55l-2.77 -1.55v-3.1zM873.8 961.6l2.77 1.55v3.1l-2.77 1.55l-2.77 -1.55v-3.1zM871.1 975l2.77 1.55v3.1l-2.77 1.55l-2.77 -1.55v-3.1zM873.8 979.5l2.77 1.55v3.1l-2.77 1.55l-2.77 -1.55v-3.1zM873.8 988.4l2.77 1.55v3.1l-2.77 1.55l-2.77 -1.55v-3.1zM881.7 957.1l2.77 1.55v3.1l-2.77 1.55l-2.77 -1.55v-3.1zM889.7 952.7l2.77 1.55v3.1l-2.77 1.55l-2.77 -1.55v-3.1zM895 1015.2l2.77 1.55v3.1l-2.77 1.55l-2.77 -1.55v-3.1zM897.6 1019.7l2.77 1.55v3.1l-2.77 1.55l-2.77 -1.55v-3.1zM926.7 925.8l2.77 1.55v3.1l-2.77 1.55l-2.77 -1.55v-3.1zM932 1015.2l2.77 1.55v3.1l-2.77 1.55l-2.77 -1.55v-3.1zM929.4 1019.7l2.77 1.55v3.1l-2.77 1.55l-2.77 -1.55v-3.1zM934.7 1010.7l2.77 1.55v3.1l-2.77 1.55l-2.77 -1.55v-3.1zM940 957.1l2.77 1.55v3.1l-2.77 1.55l-2.77 -1.55v-3.1zM942.6 1006.3l2.77 1.55v3.1l-2.77 1.55l-2.77 -1.55v-3.1zM940 1010.7l2.77 1.55v3.1l-2.77 1.55l-2.77 -1.55v-3.1zM947.9 970.5l2.77 1.55v3.1l-2.77 1.55l-2.77 -1.55v-3.1zM947.9 997.3l2.77 1.55v3.1l-2.77 1.55l-2.77 -1.55v-3.1zM987.6 957.1l2.77 1.55v3.1l-2.77 1.55l-2.77 -1.55v-3.1zM987.6 966.1l2.77 1.55v3.1l-2.77 1.55l-2.77 -1.55v-3.1zM995.5 934.8l2.77 1.55v3.1l-2.77 1.55l-2.77 -1.55v-3.1zM1006.1 916.9l2.77 1.55v3.1l-2.77 1.55l-2.77 -1.55v-3.1zM1014.1 975l2.77 1.55v3.1l-2.77 1.55l-2.77 -1.55v-3.1zM1019.4 975l2.77 1.55v3.1l-2.77 1.55l-2.77 -1.55v-3.1zM1027.3 908l2.77 1.55v3.1l-2.77 1.55l-2.77 -1.55v-3.1zM1024.6 912.4l2.77 1.55v3.1l-2.77 1.55l-2.77 -1.55v-3.1zM1027.3 979.5l2.77 1.55v3.1l-2.77 1.55l-2.77 -1.55v-3.1zM1032.6 908l2.77 1.55v3.1l-2.77 1.55l-2.77 -1.55v-3.1zM1029.9 975l2.77 1.55v3.1l-2.77 1.55l-2.77 -1.55v-3.1zM1035.2 975l2.77 1.55v3.1l-2.77 1.55l-2.77 -1.55v-3.1zM1040.5 975l2.77 1.55v3.1l-2.77 1.55l-2.77 -1.55v-3.1zM1040.5 983.9l2.77 1.55v3.1l-2.77 1.55l-2.77 -1.55v-3.1zM1048.5 979.5l2.77 1.55v3.1l-2.77 1.55l-2.77 -1.55v-3.1zM1053.8 916.9l2.77 1.55v3.1l-2.77 1.55l-2.77 -1.55v-3.1zM1051.1 930.3l2.77 1.55v3.1l-2.77 1.55l-2.77 -1.55v-3.1zM1053.8 934.8l2.77 1.55v3.1l-2.77 1.55l-2.77 -1.55v-3.1zM1061.7 948.2l2.77 1.55v3.1l-2.77 1.55l-2.77 -1.55v-3.1zM1061.7 975l2.77 1.55v3.1l-2.77 1.55l-2.77 -1.55v-3.1zM1069.6 961.6l2.77 1.55v3.1l-2.77 1.55l-2.77 -1.55v-3.1zM1072.3 957.1l2.77 1.55v3.1l-2.77 1.55l-2.77 -1.55v-3.1z"/><path fill="#43286B" d="M680.6 858.8l2.77 1.55v3.1l-2.77 1.55l-2.77 -1.55v-3.1zM685.9 894.6l2.77 1.55v3.1l-2.77 1.55l-2.77 -1.55v-3.1zM688.5 943.7l2.77 1.55v3.1l-2.77 1.55l-2.77 -1.55v-3.1zM691.2 930.3l2.77 1.55v3.1l-2.77 1.55l-2.77 -1.55v-3.1zM699.1 836.5l2.77 1.55v3.1l-2.77 1.55l-2.77 -1.55v-3.1zM701.8 832l2.77 1.55v3.1l-2.77 1.55l-2.77 -1.55v-3.1zM707.1 823.1l2.77 1.55v3.1l-2.77 1.55l-2.77 -1.55v-3.1zM715 818.6l2.77 1.55v3.1l-2.77 1.55l-2.77 -1.55v-3.1zM717.6 957.1l2.77 1.55v3.1l-2.77 1.55l-2.77 -1.55v-3.1zM730.9 836.5l2.77 1.55v3.1l-2.77 1.55l-2.77 -1.55v-3.1zM730.9 916.9l2.77 1.55v3.1l-2.77 1.55l-2.77 -1.55v-3.1zM730.9 934.8l2.77 1.55v3.1l-2.77 1.55l-2.77 -1.55v-3.1zM733.5 832l2.77 1.55v3.1l-2.77 1.55l-2.77 -1.55v-3.1zM736.2 908l2.77 1.55v3.1l-2.77 1.55l-2.77 -1.55v-3.1zM733.5 912.4l2.77 1.55v3.1l-2.77 1.55l-2.77 -1.55v-3.1zM746.8 854.4l2.77 1.55v3.1l-2.77 1.55l-2.77 -1.55v-3.1zM746.8 899l2.77 1.55v3.1l-2.77 1.55l-2.77 -1.55v-3.1zM752.1 890.1l2.77 1.55v3.1l-2.77 1.55l-2.77 -1.55v-3.1zM762.6 872.2l2.77 1.55v3.1l-2.77 1.55l-2.77 -1.55v-3.1zM760 876.7l2.77 1.55v3.1l-2.77 1.55l-2.77 -1.55v-3.1zM767.9 863.3l2.77 1.55v3.1l-2.77 1.55l-2.77 -1.55v-3.1zM765.3 867.8l2.77 1.55v3.1l-2.77 1.55l-2.77 -1.55v-3.1zM765.3 876.7l2.77 1.55v3.1l-2.77 1.55l-2.77 -1.55v-3.1zM773.2 1024.1l2.77 1.55v3.1l-2.77 1.55l-2.77 -1.55v-3.1zM778.5 1024.1l2.77 1.55v3.1l-2.77 1.55l-2.77 -1.55v-3.1zM781.2 1082.2l2.77 1.55v3.1l-2.77 1.55l-2.77 -1.55v-3.1zM781.2 1144.8l2.77 1.55v3.1l-2.77 1.55l-2.77 -1.55v-3.1zM789.1 1077.8l2.77 1.55v3.1l-2.77 1.55l-2.77 -1.55v-3.1zM786.5 1144.8l2.77 1.55v3.1l-2.77 1.55l-2.77 -1.55v-3.1zM818.2 1082.2l2.77 1.55v3.1l-2.77 1.55l-2.77 -1.55v-3.1zM823.5 1073.3l2.77 1.55v3.1l-2.77 1.55l-2.77 -1.55v-3.1zM823.5 1091.2l2.77 1.55v3.1l-2.77 1.55l-2.77 -1.55v-3.1zM871.1 966.1l2.77 1.55v3.1l-2.77 1.55l-2.77 -1.55v-3.1zM873.8 970.5l2.77 1.55v3.1l-2.77 1.55l-2.77 -1.55v-3.1zM871.1 1001.8l2.77 1.55v3.1l-2.77 1.55l-2.77 -1.55v-3.1zM887 957.1l2.77 1.55v3.1l-2.77 1.55l-2.77 -1.55v-3.1zM895 952.7l2.77 1.55v3.1l-2.77 1.55l-2.77 -1.55v-3.1zM900.3 943.7l2.77 1.55v3.1l-2.77 1.55l-2.77 -1.55v-3.1zM897.6 948.2l2.77 1.55v3.1l-2.77 1.55l-2.77 -1.55v-3.1zM905.6 1122.4l2.77 1.55v3.1l-2.77 1.55l-2.77 -1.55v-3.1zM921.4 1024.1l2.77 1.55v3.1l-2.77 1.55l-2.77 -1.55v-3.1zM929.4 930.3l2.77 1.55v3.1l-2.77 1.55l-2.77 -1.55v-3.1zM937.3 961.6l2.77 1.55v3.1l-2.77 1.55l-2.77 -1.55v-3.1zM945.2 966.1l2.77 1.55v3.1l-2.77 1.55l-2.77 -1.55v-3.1zM955.8 983.9l2.77 1.55v3.1l-2.77 1.55l-2.77 -1.55v-3.1zM966.4 975l2.77 1.55v3.1l-2.77 1.55l-2.77 -1.55v-3.1zM982.3 966.1l2.77 1.55v3.1l-2.77 1.55l-2.77 -1.55v-3.1zM990.2 952.7l2.77 1.55v3.1l-2.77 1.55l-2.77 -1.55v-3.1zM992.9 966.1l2.77 1.55v3.1l-2.77 1.55l-2.77 -1.55v-3.1zM1003.5 921.4l2.77 1.55v3.1l-2.77 1.55l-2.77 -1.55v-3.1zM1032.6 970.5l2.77 1.55v3.1l-2.77 1.55l-2.77 -1.55v-3.1zM1032.6 979.5l2.77 1.55v3.1l-2.77 1.55l-2.77 -1.55v-3.1zM1029.9 992.9l2.77 1.55v3.1l-2.77 1.55l-2.77 -1.55v-3.1zM1037.9 970.5l2.77 1.55v3.1l-2.77 1.55l-2.77 -1.55v-3.1zM1035.2 992.9l2.77 1.55v3.1l-2.77 1.55l-2.77 -1.55v-3.1zM1048.5 925.8l2.77 1.55v3.1l-2.77 1.55l-2.77 -1.55v-3.1zM1053.8 908l2.77 1.55v3.1l-2.77 1.55l-2.77 -1.55v-3.1zM1051.1 912.4l2.77 1.55v3.1l-2.77 1.55l-2.77 -1.55v-3.1zM1051.1 921.4l2.77 1.55v3.1l-2.77 1.55l-2.77 -1.55v-3.1zM1059 943.7l2.77 1.55v3.1l-2.77 1.55l-2.77 -1.55v-3.1zM1064.3 952.7l2.77 1.55v3.1l-2.77 1.55l-2.77 -1.55v-3.1z"/><path fill="#433E80" d="M683.2 863.3l2.77 1.55v3.1l-2.77 1.55l-2.77 -1.55v-3.1zM685.9 867.8l2.77 1.55v3.1l-2.77 1.55l-2.77 -1.55v-3.1zM688.5 881.2l2.77 1.55v3.1l-2.77 1.55l-2.77 -1.55v-3.1zM699.1 845.4l2.77 1.55v3.1l-2.77 1.55l-2.77 -1.55v-3.1zM696.5 912.4l2.77 1.55v3.1l-2.77 1.55l-2.77 -1.55v-3.1zM699.1 916.9l2.77 1.55v3.1l-2.77 1.55l-2.77 -1.55v-3.1zM696.5 930.3l2.77 1.55v3.1l-2.77 1.55l-2.77 -1.55v-3.1zM704.4 845.4l2.77 1.55v3.1l-2.77 1.55l-2.77 -1.55v-3.1zM701.8 921.4l2.77 1.55v3.1l-2.77 1.55l-2.77 -1.55v-3.1zM712.4 921.4l2.77 1.55v3.1l-2.77 1.55l-2.77 -1.55v-3.1zM712.4 930.3l2.77 1.55v3.1l-2.77 1.55l-2.77 -1.55v-3.1zM715 934.8l2.77 1.55v3.1l-2.77 1.55l-2.77 -1.55v-3.1zM720.3 908l2.77 1.55v3.1l-2.77 1.55l-2.77 -1.55v-3.1zM720.3 943.7l2.77 1.55v3.1l-2.77 1.55l-2.77 -1.55v-3.1zM722.9 849.9l2.77 1.55v3.1l-2.77 1.55l-2.77 -1.55v-3.1zM725.6 908l2.77 1.55v3.1l-2.77 1.55l-2.77 -1.55v-3.1zM722.9 939.2l2.77 1.55v3.1l-2.77 1.55l-2.77 -1.55v-3.1zM728.2 849.9l2.77 1.55v3.1l-2.77 1.55l-2.77 -1.55v-3.1zM730.9 899l2.77 1.55v3.1l-2.77 1.55l-2.77 -1.55v-3.1zM728.2 903.5l2.77 1.55v3.1l-2.77 1.55l-2.77 -1.55v-3.1zM741.5 881.2l2.77 1.55v3.1l-2.77 1.55l-2.77 -1.55v-3.1zM741.5 890.1l2.77 1.55v3.1l-2.77 1.55l-2.77 -1.55v-3.1zM749.4 867.8l2.77 1.55v3.1l-2.77 1.55l-2.77 -1.55v-3.1zM767.9 1077.8l2.77 1.55v3.1l-2.77 1.55l-2.77 -1.55v-3.1zM773.2 1077.8l2.77 1.55v3.1l-2.77 1.55l-2.77 -1.55v-3.1zM828.8 1091.2l2.77 1.55v3.1l-2.77 1.55l-2.77 -1.55v-3.1zM876.4 975l2.77 1.55v3.1l-2.77 1.55l-2.77 -1.55v-3.1zM897.6 1010.7l2.77 1.55v3.1l-2.77 1.55l-2.77 -1.55v-3.1zM905.6 943.7l2.77 1.55v3.1l-2.77 1.55l-2.77 -1.55v-3.1zM902.9 948.2l2.77 1.55v3.1l-2.77 1.55l-2.77 -1.55v-3.1zM924.1 939.2l2.77 1.55v3.1l-2.77 1.55l-2.77 -1.55v-3.1zM942.6 970.5l2.77 1.55v3.1l-2.77 1.55l-2.77 -1.55v-3.1zM945.2 975l2.77 1.55v3.1l-2.77 1.55l-2.77 -1.55v-3.1zM947.9 988.4l2.77 1.55v3.1l-2.77 1.55l-2.77 -1.55v-3.1zM998.2 948.2l2.77 1.55v3.1l-2.77 1.55l-2.77 -1.55v-3.1zM998.2 957.1l2.77 1.55v3.1l-2.77 1.55l-2.77 -1.55v-3.1zM1027.3 943.7l2.77 1.55v3.1l-2.77 1.55l-2.77 -1.55v-3.1zM1029.9 912.4l2.77 1.55v3.1l-2.77 1.55l-2.77 -1.55v-3.1zM1032.6 961.6l2.77 1.55v3.1l-2.77 1.55l-2.77 -1.55v-3.1zM1029.9 966.1l2.77 1.55v3.1l-2.77 1.55l-2.77 -1.55v-3.1zM1037.9 943.7l2.77 1.55v3.1l-2.77 1.55l-2.77 -1.55v-3.1zM1040.5 921.4l2.77 1.55v3.1l-2.77 1.55l-2.77 -1.55v-3.1zM1043.2 925.8l2.77 1.55v3.1l-2.77 1.55l-2.77 -1.55v-3.1zM1043.2 952.7l2.77 1.55v3.1l-2.77 1.55l-2.77 -1.55v-3.1zM1051.1 948.2l2.77 1.55v3.1l-2.77 1.55l-2.77 -1.55v-3.1zM1064.3 961.6l2.77 1.55v3.1l-2.77 1.55l-2.77 -1.55v-3.1z"/><path fill="#422164" d="M683.2 872.2l2.77 1.55v3.1l-2.77 1.55l-2.77 -1.55v-3.1zM680.6 876.7l2.77 1.55v3.1l-2.77 1.55l-2.77 -1.55v-3.1zM683.2 881.2l2.77 1.55v3.1l-2.77 1.55l-2.77 -1.55v-3.1zM683.2 890.1l2.77 1.55v3.1l-2.77 1.55l-2.77 -1.55v-3.1zM685.9 849.9l2.77 1.55v3.1l-2.77 1.55l-2.77 -1.55v-3.1zM693.8 916.9l2.77 1.55v3.1l-2.77 1.55l-2.77 -1.55v-3.1zM696.5 921.4l2.77 1.55v3.1l-2.77 1.55l-2.77 -1.55v-3.1zM709.7 818.6l2.77 1.55v3.1l-2.77 1.55l-2.77 -1.55v-3.1zM707.1 957.1l2.77 1.55v3.1l-2.77 1.55l-2.77 -1.55v-3.1zM722.9 957.1l2.77 1.55v3.1l-2.77 1.55l-2.77 -1.55v-3.1zM736.2 925.8l2.77 1.55v3.1l-2.77 1.55l-2.77 -1.55v-3.1zM733.5 948.2l2.77 1.55v3.1l-2.77 1.55l-2.77 -1.55v-3.1zM738.8 823.1l2.77 1.55v3.1l-2.77 1.55l-2.77 -1.55v-3.1zM741.5 925.8l2.77 1.55v3.1l-2.77 1.55l-2.77 -1.55v-3.1zM744.1 832l2.77 1.55v3.1l-2.77 1.55l-2.77 -1.55v-3.1zM746.8 934.8l2.77 1.55v3.1l-2.77 1.55l-2.77 -1.55v-3.1zM746.8 1042l2.77 1.55v3.1l-2.77 1.55l-2.77 -1.55v-3.1zM752.1 836.5l2.77 1.55v3.1l-2.77 1.55l-2.77 -1.55v-3.1zM752.1 845.4l2.77 1.55v3.1l-2.77 1.55l-2.77 -1.55v-3.1zM752.1 863.3l2.77 1.55v3.1l-2.77 1.55l-2.77 -1.55v-3.1zM754.7 841l2.77 1.55v3.1l-2.77 1.55l-2.77 -1.55v-3.1zM757.3 854.4l2.77 1.55v3.1l-2.77 1.55l-2.77 -1.55v-3.1zM757.3 890.1l2.77 1.55v3.1l-2.77 1.55l-2.77 -1.55v-3.1zM762.6 1033.1l2.77 1.55v3.1l-2.77 1.55l-2.77 -1.55v-3.1zM760 1037.5l2.77 1.55v3.1l-2.77 1.55l-2.77 -1.55v-3.1zM767.9 881.2l2.77 1.55v3.1l-2.77 1.55l-2.77 -1.55v-3.1zM765.3 1019.7l2.77 1.55v3.1l-2.77 1.55l-2.77 -1.55v-3.1zM773.2 863.3l2.77 1.55v3.1l-2.77 1.55l-2.77 -1.55v-3.1zM770.6 876.7l2.77 1.55v3.1l-2.77 1.55l-2.77 -1.55v-3.1zM770.6 885.6l2.77 1.55v3.1l-2.77 1.55l-2.77 -1.55v-3.1zM770.6 1073.3l2.77 1.55v3.1l-2.77 1.55l-2.77 -1.55v-3.1zM778.5 1015.2l2.77 1.55v3.1l-2.77 1.55l-2.77 -1.55v-3.1zM775.9 1073.3l2.77 1.55v3.1l-2.77 1.55l-2.77 -1.55v-3.1zM781.2 1010.7l2.77 1.55v3.1l-2.77 1.55l-2.77 -1.55v-3.1zM781.2 1153.7l2.77 1.55v3.1l-2.77 1.55l-2.77 -1.55v-3.1zM789.1 845.4l2.77 1.55v3.1l-2.77 1.55l-2.77 -1.55v-3.1zM786.5 1010.7l2.77 1.55v3.1l-2.77 1.55l-2.77 -1.55v-3.1zM789.1 1015.2l2.77 1.55v3.1l-2.77 1.55l-2.77 -1.55v-3.1zM786.5 1091.2l2.77 1.55v3.1l-2.77 1.55l-2.77 -1.55v-3.1zM789.1 1158.2l2.77 1.55v3.1l-2.77 1.55l-2.77 -1.55v-3.1zM791.8 1064.4l2.77 1.55v3.1l-2.77 1.55l-2.77 -1.55v-3.1zM794.4 1077.8l2.77 1.55v3.1l-2.77 1.55l-2.77 -1.55v-3.1zM799.7 1015.2l2.77 1.55v3.1l-2.77 1.55l-2.77 -1.55v-3.1zM807.6 1073.3l2.77 1.55v3.1l-2.77 1.55l-2.77 -1.55v-3.1zM810.3 1077.8l2.77 1.55v3.1l-2.77 1.55l-2.77 -1.55v-3.1zM812.9 1082.2l2.77 1.55v3.1l-2.77 1.55l-2.77 -1.55v-3.1zM815.6 1086.7l2.77 1.55v3.1l-2.77 1.55l-2.77 -1.55v-3.1zM820.9 1068.8l2.77 1.55v3.1l-2.77 1.55l-2.77 -1.55v-3.1zM818.2 1073.3l2.77 1.55v3.1l-2.77 1.55l-2.77 -1.55v-3.1zM826.2 1059.9l2.77 1.55v3.1l-2.77 1.55l-2.77 -1.55v-3.1zM823.5 1064.4l2.77 1.55v3.1l-2.77 1.55l-2.77 -1.55v-3.1zM868.5 997.3l2.77 1.55v3.1l-2.77 1.55l-2.77 -1.55v-3.1zM865.9 1001.8l2.77 1.55v3.1l-2.77 1.55l-2.77 -1.55v-3.1zM871.1 983.9l2.77 1.55v3.1l-2.77 1.55l-2.77 -1.55v-3.1zM881.7 1010.7l2.77 1.55v3.1l-2.77 1.55l-2.77 -1.55v-3.1zM884.4 1015.2l2.77 1.55v3.1l-2.77 1.55l-2.77 -1.55v-3.1zM889.7 1015.2l2.77 1.55v3.1l-2.77 1.55l-2.77 -1.55v-3.1zM895 800.7l2.77 1.55v3.1l-2.77 1.55l-2.77 -1.55v-3.1zM897.6 796.3l2.77 1.55v3.1l-2.77 1.55l-2.77 -1.55v-3.1zM902.9 939.2l2.77 1.55v3.1l-2.77 1.55l-2.77 -1.55v-3.1zM905.6 1024.1l2.77 1.55v3.1l-2.77 1.55l-2.77 -1.55v-3.1zM910.8 934.8l2.77 1.55v3.1l-2.77 1.55l-2.77 -1.55v-3.1zM908.2 939.2l2.77 1.55v3.1l-2.77 1.55l-2.77 -1.55v-3.1zM913.5 930.3l2.77 1.55v3.1l-2.77 1.55l-2.77 -1.55v-3.1zM913.5 1028.6l2.77 1.55v3.1l-2.77 1.55l-2.77 -1.55v-3.1zM918.8 823.1l2.77 1.55v3.1l-2.77 1.55l-2.77 -1.55v-3.1zM918.8 1028.6l2.77 1.55v3.1l-2.77 1.55l-2.77 -1.55v-3.1zM929.4 823.1l2.77 1.55v3.1l-2.77 1.55l-2.77 -1.55v-3.1zM940 948.2l2.77 1.55v3.1l-2.77 1.55l-2.77 -1.55v-3.1zM942.6 952.7l2.77 1.55v3.1l-2.77 1.55l-2.77 -1.55v-3.1zM945.2 957.1l2.77 1.55v3.1l-2.77 1.55l-2.77 -1.55v-3.1zM945.2 1001.8l2.77 1.55v3.1l-2.77 1.55l-2.77 -1.55v-3.1zM953.2 961.6l2.77 1.55v3.1l-2.77 1.55l-2.77 -1.55v-3.1zM950.5 975l2.77 1.55v3.1l-2.77 1.55l-2.77 -1.55v-3.1zM953.2 997.3l2.77 1.55v3.1l-2.77 1.55l-2.77 -1.55v-3.1zM958.5 979.5l2.77 1.55v3.1l-2.77 1.55l-2.77 -1.55v-3.1zM958.5 988.4l2.77 1.55v3.1l-2.77 1.55l-2.77 -1.55v-3.1zM961.1 983.9l2.77 1.55v3.1l-2.77 1.55l-2.77 -1.55v-3.1zM979.7 970.5l2.77 1.55v3.1l-2.77 1.55l-2.77 -1.55v-3.1zM984.9 952.7l2.77 1.55v3.1l-2.77 1.55l-2.77 -1.55v-3.1zM995.5 943.7l2.77 1.55v3.1l-2.77 1.55l-2.77 -1.55v-3.1zM1008.8 912.4l2.77 1.55v3.1l-2.77 1.55l-2.77 -1.55v-3.1zM1014.1 912.4l2.77 1.55v3.1l-2.77 1.55l-2.77 -1.55v-3.1zM1016.7 979.5l2.77 1.55v3.1l-2.77 1.55l-2.77 -1.55v-3.1zM1024.6 975l2.77 1.55v3.1l-2.77 1.55l-2.77 -1.55v-3.1zM1037.9 979.5l2.77 1.55v3.1l-2.77 1.55l-2.77 -1.55v-3.1zM1043.2 979.5l2.77 1.55v3.1l-2.77 1.55l-2.77 -1.55v-3.1zM1056.4 939.2l2.77 1.55v3.1l-2.77 1.55l-2.77 -1.55v-3.1zM1059 979.5l2.77 1.55v3.1l-2.77 1.55l-2.77 -1.55v-3.1zM1069.6 970.5l2.77 1.55v3.1l-2.77 1.55l-2.77 -1.55v-3.1zM1067 975l2.77 1.55v3.1l-2.77 1.55l-2.77 -1.55v-3.1z"/><path fill="#3E185B" d="M683.2 1042l2.77 1.55v3.1l-2.77 1.55l-2.77 -1.55v-3.1zM683.2 1050.9l2.77 1.55v3.1l-2.77 1.55l-2.77 -1.55v-3.1zM680.6 1055.4l2.77 1.55v3.1l-2.77 1.55l-2.77 -1.55v-3.1zM685.9 1046.5l2.77 1.55v3.1l-2.77 1.55l-2.77 -1.55v-3.1zM693.8 1042l2.77 1.55v3.1l-2.77 1.55l-2.77 -1.55v-3.1zM728.2 1001.8l2.77 1.55v3.1l-2.77 1.55l-2.77 -1.55v-3.1zM736.2 997.3l2.77 1.55v3.1l-2.77 1.55l-2.77 -1.55v-3.1zM733.5 1001.8l2.77 1.55v3.1l-2.77 1.55l-2.77 -1.55v-3.1zM738.8 841l2.77 1.55v3.1l-2.77 1.55l-2.77 -1.55v-3.1zM741.5 943.7l2.77 1.55v3.1l-2.77 1.55l-2.77 -1.55v-3.1zM741.5 988.4l2.77 1.55v3.1l-2.77 1.55l-2.77 -1.55v-3.1zM738.8 1001.8l2.77 1.55v3.1l-2.77 1.55l-2.77 -1.55v-3.1zM746.8 845.4l2.77 1.55v3.1l-2.77 1.55l-2.77 -1.55v-3.1zM746.8 908l2.77 1.55v3.1l-2.77 1.55l-2.77 -1.55v-3.1zM744.1 912.4l2.77 1.55v3.1l-2.77 1.55l-2.77 -1.55v-3.1zM744.1 939.2l2.77 1.55v3.1l-2.77 1.55l-2.77 -1.55v-3.1zM744.1 992.9l2.77 1.55v3.1l-2.77 1.55l-2.77 -1.55v-3.1zM746.8 1033.1l2.77 1.55v3.1l-2.77 1.55l-2.77 -1.55v-3.1zM749.4 832l2.77 1.55v3.1l-2.77 1.55l-2.77 -1.55v-3.1zM749.4 841l2.77 1.55v3.1l-2.77 1.55l-2.77 -1.55v-3.1zM752.1 899l2.77 1.55v3.1l-2.77 1.55l-2.77 -1.55v-3.1zM749.4 903.5l2.77 1.55v3.1l-2.77 1.55l-2.77 -1.55v-3.1zM752.1 925.8l2.77 1.55v3.1l-2.77 1.55l-2.77 -1.55v-3.1zM752.1 934.8l2.77 1.55v3.1l-2.77 1.55l-2.77 -1.55v-3.1zM749.4 992.9l2.77 1.55v3.1l-2.77 1.55l-2.77 -1.55v-3.1zM752.1 997.3l2.77 1.55v3.1l-2.77 1.55l-2.77 -1.55v-3.1zM749.4 1028.6l2.77 1.55v3.1l-2.77 1.55l-2.77 -1.55v-3.1zM749.4 1046.5l2.77 1.55v3.1l-2.77 1.55l-2.77 -1.55v-3.1zM754.7 832l2.77 1.55v3.1l-2.77 1.55l-2.77 -1.55v-3.1zM754.7 894.6l2.77 1.55v3.1l-2.77 1.55l-2.77 -1.55v-3.1zM754.7 912.4l2.77 1.55v3.1l-2.77 1.55l-2.77 -1.55v-3.1zM757.3 916.9l2.77 1.55v3.1l-2.77 1.55l-2.77 -1.55v-3.1zM754.7 1046.5l2.77 1.55v3.1l-2.77 1.55l-2.77 -1.55v-3.1zM757.3 1131.4l2.77 1.55v3.1l-2.77 1.55l-2.77 -1.55v-3.1zM760 832l2.77 1.55v3.1l-2.77 1.55l-2.77 -1.55v-3.1zM762.6 836.5l2.77 1.55v3.1l-2.77 1.55l-2.77 -1.55v-3.1zM760 841l2.77 1.55v3.1l-2.77 1.55l-2.77 -1.55v-3.1zM760 894.6l2.77 1.55v3.1l-2.77 1.55l-2.77 -1.55v-3.1zM760 912.4l2.77 1.55v3.1l-2.77 1.55l-2.77 -1.55v-3.1zM760 1001.8l2.77 1.55v3.1l-2.77 1.55l-2.77 -1.55v-3.1zM762.6 1042l2.77 1.55v3.1l-2.77 1.55l-2.77 -1.55v-3.1zM762.6 1059.9l2.77 1.55v3.1l-2.77 1.55l-2.77 -1.55v-3.1zM760 1135.8l2.77 1.55v3.1l-2.77 1.55l-2.77 -1.55v-3.1zM762.6 1140.3l2.77 1.55v3.1l-2.77 1.55l-2.77 -1.55v-3.1zM765.3 841l2.77 1.55v3.1l-2.77 1.55l-2.77 -1.55v-3.1zM767.9 845.4l2.77 1.55v3.1l-2.77 1.55l-2.77 -1.55v-3.1zM767.9 890.1l2.77 1.55v3.1l-2.77 1.55l-2.77 -1.55v-3.1zM765.3 894.6l2.77 1.55v3.1l-2.77 1.55l-2.77 -1.55v-3.1zM767.9 916.9l2.77 1.55v3.1l-2.77 1.55l-2.77 -1.55v-3.1zM767.9 1006.3l2.77 1.55v3.1l-2.77 1.55l-2.77 -1.55v-3.1zM767.9 1033.1l2.77 1.55v3.1l-2.77 1.55l-2.77 -1.55v-3.1zM765.3 1037.5l2.77 1.55v3.1l-2.77 1.55l-2.77 -1.55v-3.1zM765.3 1082.2l2.77 1.55v3.1l-2.77 1.55l-2.77 -1.55v-3.1zM765.3 1135.8l2.77 1.55v3.1l-2.77 1.55l-2.77 -1.55v-3.1zM773.2 845.4l2.77 1.55v3.1l-2.77 1.55l-2.77 -1.55v-3.1zM770.6 849.9l2.77 1.55v3.1l-2.77 1.55l-2.77 -1.55v-3.1zM773.2 854.4l2.77 1.55v3.1l-2.77 1.55l-2.77 -1.55v-3.1zM770.6 858.8l2.77 1.55v3.1l-2.77 1.55l-2.77 -1.55v-3.1zM773.2 872.2l2.77 1.55v3.1l-2.77 1.55l-2.77 -1.55v-3.1zM773.2 890.1l2.77 1.55v3.1l-2.77 1.55l-2.77 -1.55v-3.1zM770.6 1010.7l2.77 1.55v3.1l-2.77 1.55l-2.77 -1.55v-3.1zM770.6 1028.6l2.77 1.55v3.1l-2.77 1.55l-2.77 -1.55v-3.1zM770.6 1055.4l2.77 1.55v3.1l-2.77 1.55l-2.77 -1.55v-3.1zM770.6 1064.4l2.77 1.55v3.1l-2.77 1.55l-2.77 -1.55v-3.1zM770.6 1082.2l2.77 1.55v3.1l-2.77 1.55l-2.77 -1.55v-3.1zM773.2 1131.4l2.77 1.55v3.1l-2.77 1.55l-2.77 -1.55v-3.1zM770.6 1135.8l2.77 1.55v3.1l-2.77 1.55l-2.77 -1.55v-3.1zM770.6 1144.8l2.77 1.55v3.1l-2.77 1.55l-2.77 -1.55v-3.1zM778.5 836.5l2.77 1.55v3.1l-2.77 1.55l-2.77 -1.55v-3.1zM775.9 841l2.77 1.55v3.1l-2.77 1.55l-2.77 -1.55v-3.1zM778.5 845.4l2.77 1.55v3.1l-2.77 1.55l-2.77 -1.55v-3.1zM775.9 849.9l2.77 1.55v3.1l-2.77 1.55l-2.77 -1.55v-3.1zM778.5 854.4l2.77 1.55v3.1l-2.77 1.55l-2.77 -1.55v-3.1zM775.9 858.8l2.77 1.55v3.1l-2.77 1.55l-2.77 -1.55v-3.1zM775.9 867.8l2.77 1.55v3.1l-2.77 1.55l-2.77 -1.55v-3.1zM775.9 876.7l2.77 1.55v3.1l-2.77 1.55l-2.77 -1.55v-3.1zM778.5 881.2l2.77 1.55v3.1l-2.77 1.55l-2.77 -1.55v-3.1zM778.5 1006.3l2.77 1.55v3.1l-2.77 1.55l-2.77 -1.55v-3.1zM775.9 1010.7l2.77 1.55v3.1l-2.77 1.55l-2.77 -1.55v-3.1zM778.5 1033.1l2.77 1.55v3.1l-2.77 1.55l-2.77 -1.55v-3.1zM778.5 1059.9l2.77 1.55v3.1l-2.77 1.55l-2.77 -1.55v-3.1zM775.9 1064.4l2.77 1.55v3.1l-2.77 1.55l-2.77 -1.55v-3.1zM775.9 1082.2l2.77 1.55v3.1l-2.77 1.55l-2.77 -1.55v-3.1zM775.9 1135.8l2.77 1.55v3.1l-2.77 1.55l-2.77 -1.55v-3.1zM775.9 1153.7l2.77 1.55v3.1l-2.77 1.55l-2.77 -1.55v-3.1zM783.8 845.4l2.77 1.55v3.1l-2.77 1.55l-2.77 -1.55v-3.1zM783.8 854.4l2.77 1.55v3.1l-2.77 1.55l-2.77 -1.55v-3.1zM783.8 881.2l2.77 1.55v3.1l-2.77 1.55l-2.77 -1.55v-3.1zM783.8 890.1l2.77 1.55v3.1l-2.77 1.55l-2.77 -1.55v-3.1zM783.8 925.8l2.77 1.55v3.1l-2.77 1.55l-2.77 -1.55v-3.1zM783.8 1006.3l2.77 1.55v3.1l-2.77 1.55l-2.77 -1.55v-3.1zM781.2 1064.4l2.77 1.55v3.1l-2.77 1.55l-2.77 -1.55v-3.1zM789.1 836.5l2.77 1.55v3.1l-2.77 1.55l-2.77 -1.55v-3.1zM786.5 849.9l2.77 1.55v3.1l-2.77 1.55l-2.77 -1.55v-3.1zM789.1 854.4l2.77 1.55v3.1l-2.77 1.55l-2.77 -1.55v-3.1zM786.5 885.6l2.77 1.55v3.1l-2.77 1.55l-2.77 -1.55v-3.1zM789.1 925.8l2.77 1.55v3.1l-2.77 1.55l-2.77 -1.55v-3.1zM789.1 934.8l2.77 1.55v3.1l-2.77 1.55l-2.77 -1.55v-3.1zM789.1 1006.3l2.77 1.55v3.1l-2.77 1.55l-2.77 -1.55v-3.1zM786.5 1055.4l2.77 1.55v3.1l-2.77 1.55l-2.77 -1.55v-3.1zM789.1 1059.9l2.77 1.55v3.1l-2.77 1.55l-2.77 -1.55v-3.1zM786.5 1064.4l2.77 1.55v3.1l-2.77 1.55l-2.77 -1.55v-3.1zM791.8 841l2.77 1.55v3.1l-2.77 1.55l-2.77 -1.55v-3.1zM794.4 845.4l2.77 1.55v3.1l-2.77 1.55l-2.77 -1.55v-3.1zM791.8 885.6l2.77 1.55v3.1l-2.77 1.55l-2.77 -1.55v-3.1zM791.8 1010.7l2.77 1.55v3.1l-2.77 1.55l-2.77 -1.55v-3.1zM791.8 1055.4l2.77 1.55v3.1l-2.77 1.55l-2.77 -1.55v-3.1zM794.4 1086.7l2.77 1.55v3.1l-2.77 1.55l-2.77 -1.55v-3.1zM797 832l2.77 1.55v3.1l-2.77 1.55l-2.77 -1.55v-3.1zM799.7 836.5l2.77 1.55v3.1l-2.77 1.55l-2.77 -1.55v-3.1zM797 939.2l2.77 1.55v3.1l-2.77 1.55l-2.77 -1.55v-3.1zM799.7 1006.3l2.77 1.55v3.1l-2.77 1.55l-2.77 -1.55v-3.1zM797 1010.7l2.77 1.55v3.1l-2.77 1.55l-2.77 -1.55v-3.1zM799.7 1050.9l2.77 1.55v3.1l-2.77 1.55l-2.77 -1.55v-3.1zM799.7 1059.9l2.77 1.55v3.1l-2.77 1.55l-2.77 -1.55v-3.1zM799.7 1086.7l2.77 1.55v3.1l-2.77 1.55l-2.77 -1.55v-3.1zM799.7 1095.6l2.77 1.55v3.1l-2.77 1.55l-2.77 -1.55v-3.1zM802.3 957.1l2.77 1.55v3.1l-2.77 1.55l-2.77 -1.55v-3.1zM805 961.6l2.77 1.55v3.1l-2.77 1.55l-2.77 -1.55v-3.1zM805 1006.3l2.77 1.55v3.1l-2.77 1.55l-2.77 -1.55v-3.1zM805 1050.9l2.77 1.55v3.1l-2.77 1.55l-2.77 -1.55v-3.1zM802.3 1055.4l2.77 1.55v3.1l-2.77 1.55l-2.77 -1.55v-3.1zM805 1059.9l2.77 1.55v3.1l-2.77 1.55l-2.77 -1.55v-3.1zM802.3 1064.4l2.77 1.55v3.1l-2.77 1.55l-2.77 -1.55v-3.1zM805 1068.8l2.77 1.55v3.1l-2.77 1.55l-2.77 -1.55v-3.1zM805 1095.6l2.77 1.55v3.1l-2.77 1.55l-2.77 -1.55v-3.1zM810.3 952.7l2.77 1.55v3.1l-2.77 1.55l-2.77 -1.55v-3.1zM807.6 1010.7l2.77 1.55v3.1l-2.77 1.55l-2.77 -1.55v-3.1zM810.3 1015.2l2.77 1.55v3.1l-2.77 1.55l-2.77 -1.55v-3.1zM807.6 1046.5l2.77 1.55v3.1l-2.77 1.55l-2.77 -1.55v-3.1zM807.6 1055.4l2.77 1.55v3.1l-2.77 1.55l-2.77 -1.55v-3.1zM810.3 1059.9l2.77 1.55v3.1l-2.77 1.55l-2.77 -1.55v-3.1zM812.9 966.1l2.77 1.55v3.1l-2.77 1.55l-2.77 -1.55v-3.1zM815.6 970.5l2.77 1.55v3.1l-2.77 1.55l-2.77 -1.55v-3.1zM812.9 975l2.77 1.55v3.1l-2.77 1.55l-2.77 -1.55v-3.1zM815.6 1015.2l2.77 1.55v3.1l-2.77 1.55l-2.77 -1.55v-3.1zM812.9 1046.5l2.77 1.55v3.1l-2.77 1.55l-2.77 -1.55v-3.1zM815.6 1050.9l2.77 1.55v3.1l-2.77 1.55l-2.77 -1.55v-3.1zM815.6 1068.8l2.77 1.55v3.1l-2.77 1.55l-2.77 -1.55v-3.1zM812.9 1091.2l2.77 1.55v3.1l-2.77 1.55l-2.77 -1.55v-3.1zM818.2 1010.7l2.77 1.55v3.1l-2.77 1.55l-2.77 -1.55v-3.1zM818.2 1028.6l2.77 1.55v3.1l-2.77 1.55l-2.77 -1.55v-3.1zM820.9 1033.1l2.77 1.55v3.1l-2.77 1.55l-2.77 -1.55v-3.1zM818.2 1037.5l2.77 1.55v3.1l-2.77 1.55l-2.77 -1.55v-3.1zM820.9 1042l2.77 1.55v3.1l-2.77 1.55l-2.77 -1.55v-3.1zM826.2 979.5l2.77 1.55v3.1l-2.77 1.55l-2.77 -1.55v-3.1zM823.5 983.9l2.77 1.55v3.1l-2.77 1.55l-2.77 -1.55v-3.1zM823.5 1046.5l2.77 1.55v3.1l-2.77 1.55l-2.77 -1.55v-3.1zM826.2 1050.9l2.77 1.55v3.1l-2.77 1.55l-2.77 -1.55v-3.1zM828.8 957.1l2.77 1.55v3.1l-2.77 1.55l-2.77 -1.55v-3.1zM831.4 1050.9l2.77 1.55v3.1l-2.77 1.55l-2.77 -1.55v-3.1zM831.4 1059.9l2.77 1.55v3.1l-2.77 1.55l-2.77 -1.55v-3.1zM836.7 952.7l2.77 1.55v3.1l-2.77 1.55l-2.77 -1.55v-3.1zM834.1 957.1l2.77 1.55v3.1l-2.77 1.55l-2.77 -1.55v-3.1zM836.7 961.6l2.77 1.55v3.1l-2.77 1.55l-2.77 -1.55v-3.1zM836.7 970.5l2.77 1.55v3.1l-2.77 1.55l-2.77 -1.55v-3.1zM836.7 997.3l2.77 1.55v3.1l-2.77 1.55l-2.77 -1.55v-3.1zM834.1 1055.4l2.77 1.55v3.1l-2.77 1.55l-2.77 -1.55v-3.1zM834.1 1064.4l2.77 1.55v3.1l-2.77 1.55l-2.77 -1.55v-3.1zM842 952.7l2.77 1.55v3.1l-2.77 1.55l-2.77 -1.55v-3.1zM839.4 957.1l2.77 1.55v3.1l-2.77 1.55l-2.77 -1.55v-3.1zM839.4 1082.2l2.77 1.55v3.1l-2.77 1.55l-2.77 -1.55v-3.1zM842 1086.7l2.77 1.55v3.1l-2.77 1.55l-2.77 -1.55v-3.1zM839.4 1091.2l2.77 1.55v3.1l-2.77 1.55l-2.77 -1.55v-3.1zM847.3 943.7l2.77 1.55v3.1l-2.77 1.55l-2.77 -1.55v-3.1zM844.7 948.2l2.77 1.55v3.1l-2.77 1.55l-2.77 -1.55v-3.1zM860.6 903.5l2.77 1.55v3.1l-2.77 1.55l-2.77 -1.55v-3.1zM873.8 916.9l2.77 1.55v3.1l-2.77 1.55l-2.77 -1.55v-3.1zM881.7 921.4l2.77 1.55v3.1l-2.77 1.55l-2.77 -1.55v-3.1zM889.7 800.7l2.77 1.55v3.1l-2.77 1.55l-2.77 -1.55v-3.1zM892.3 787.3l2.77 1.55v3.1l-2.77 1.55l-2.77 -1.55v-3.1zM892.3 805.2l2.77 1.55v3.1l-2.77 1.55l-2.77 -1.55v-3.1zM895 809.7l2.77 1.55v3.1l-2.77 1.55l-2.77 -1.55v-3.1zM895 1113.5l2.77 1.55v3.1l-2.77 1.55l-2.77 -1.55v-3.1zM900.3 800.7l2.77 1.55v3.1l-2.77 1.55l-2.77 -1.55v-3.1zM900.3 809.7l2.77 1.55v3.1l-2.77 1.55l-2.77 -1.55v-3.1zM897.6 1118l2.77 1.55v3.1l-2.77 1.55l-2.77 -1.55v-3.1zM902.9 796.3l2.77 1.55v3.1l-2.77 1.55l-2.77 -1.55v-3.1zM902.9 805.2l2.77 1.55v3.1l-2.77 1.55l-2.77 -1.55v-3.1zM902.9 814.1l2.77 1.55v3.1l-2.77 1.55l-2.77 -1.55v-3.1zM905.6 818.6l2.77 1.55v3.1l-2.77 1.55l-2.77 -1.55v-3.1zM902.9 1118l2.77 1.55v3.1l-2.77 1.55l-2.77 -1.55v-3.1zM908.2 796.3l2.77 1.55v3.1l-2.77 1.55l-2.77 -1.55v-3.1zM910.8 800.7l2.77 1.55v3.1l-2.77 1.55l-2.77 -1.55v-3.1zM908.2 805.2l2.77 1.55v3.1l-2.77 1.55l-2.77 -1.55v-3.1zM910.8 809.7l2.77 1.55v3.1l-2.77 1.55l-2.77 -1.55v-3.1zM908.2 814.1l2.77 1.55v3.1l-2.77 1.55l-2.77 -1.55v-3.1zM910.8 818.6l2.77 1.55v3.1l-2.77 1.55l-2.77 -1.55v-3.1zM908.2 823.1l2.77 1.55v3.1l-2.77 1.55l-2.77 -1.55v-3.1zM913.5 805.2l2.77 1.55v3.1l-2.77 1.55l-2.77 -1.55v-3.1zM913.5 823.1l2.77 1.55v3.1l-2.77 1.55l-2.77 -1.55v-3.1zM926.7 818.6l2.77 1.55v3.1l-2.77 1.55l-2.77 -1.55v-3.1zM934.7 823.1l2.77 1.55v3.1l-2.77 1.55l-2.77 -1.55v-3.1zM969.1 979.5l2.77 1.55v3.1l-2.77 1.55l-2.77 -1.55v-3.1zM971.7 930.3l2.77 1.55v3.1l-2.77 1.55l-2.77 -1.55v-3.1zM974.4 934.8l2.77 1.55v3.1l-2.77 1.55l-2.77 -1.55v-3.1zM971.7 939.2l2.77 1.55v3.1l-2.77 1.55l-2.77 -1.55v-3.1zM974.4 961.6l2.77 1.55v3.1l-2.77 1.55l-2.77 -1.55v-3.1zM977 948.2l2.77 1.55v3.1l-2.77 1.55l-2.77 -1.55v-3.1zM979.7 952.7l2.77 1.55v3.1l-2.77 1.55l-2.77 -1.55v-3.1zM979.7 961.6l2.77 1.55v3.1l-2.77 1.55l-2.77 -1.55v-3.1zM1006.1 979.5l2.77 1.55v3.1l-2.77 1.55l-2.77 -1.55v-3.1zM1011.4 979.5l2.77 1.55v3.1l-2.77 1.55l-2.77 -1.55v-3.1zM1014.1 983.9l2.77 1.55v3.1l-2.77 1.55l-2.77 -1.55v-3.1zM1043.2 988.4l2.77 1.55v3.1l-2.77 1.55l-2.77 -1.55v-3.1zM1045.8 983.9l2.77 1.55v3.1l-2.77 1.55l-2.77 -1.55v-3.1zM1056.4 921.4l2.77 1.55v3.1l-2.77 1.55l-2.77 -1.55v-3.1zM1072.3 948.2l2.77 1.55v3.1l-2.77 1.55l-2.77 -1.55v-3.1zM1077.6 957.1l2.77 1.55v3.1l-2.77 1.55l-2.77 -1.55v-3.1z"/><path fill="#411E61" d="M688.5 845.4l2.77 1.55v3.1l-2.77 1.55l-2.77 -1.55v-3.1zM691.2 841l2.77 1.55v3.1l-2.77 1.55l-2.77 -1.55v-3.1zM693.8 925.8l2.77 1.55v3.1l-2.77 1.55l-2.77 -1.55v-3.1zM691.2 948.2l2.77 1.55v3.1l-2.77 1.55l-2.77 -1.55v-3.1zM693.8 952.7l2.77 1.55v3.1l-2.77 1.55l-2.77 -1.55v-3.1zM699.1 827.5l2.77 1.55v3.1l-2.77 1.55l-2.77 -1.55v-3.1zM696.5 832l2.77 1.55v3.1l-2.77 1.55l-2.77 -1.55v-3.1zM701.8 823.1l2.77 1.55v3.1l-2.77 1.55l-2.77 -1.55v-3.1zM701.8 957.1l2.77 1.55v3.1l-2.77 1.55l-2.77 -1.55v-3.1zM738.8 832l2.77 1.55v3.1l-2.77 1.55l-2.77 -1.55v-3.1zM741.5 934.8l2.77 1.55v3.1l-2.77 1.55l-2.77 -1.55v-3.1zM744.1 930.3l2.77 1.55v3.1l-2.77 1.55l-2.77 -1.55v-3.1zM752.1 1033.1l2.77 1.55v3.1l-2.77 1.55l-2.77 -1.55v-3.1zM749.4 1037.5l2.77 1.55v3.1l-2.77 1.55l-2.77 -1.55v-3.1zM752.1 1042l2.77 1.55v3.1l-2.77 1.55l-2.77 -1.55v-3.1zM754.7 858.8l2.77 1.55v3.1l-2.77 1.55l-2.77 -1.55v-3.1zM754.7 1028.6l2.77 1.55v3.1l-2.77 1.55l-2.77 -1.55v-3.1zM754.7 1037.5l2.77 1.55v3.1l-2.77 1.55l-2.77 -1.55v-3.1zM762.6 863.3l2.77 1.55v3.1l-2.77 1.55l-2.77 -1.55v-3.1zM760 867.8l2.77 1.55v3.1l-2.77 1.55l-2.77 -1.55v-3.1zM762.6 890.1l2.77 1.55v3.1l-2.77 1.55l-2.77 -1.55v-3.1zM760 1028.6l2.77 1.55v3.1l-2.77 1.55l-2.77 -1.55v-3.1zM767.9 872.2l2.77 1.55v3.1l-2.77 1.55l-2.77 -1.55v-3.1zM765.3 885.6l2.77 1.55v3.1l-2.77 1.55l-2.77 -1.55v-3.1zM765.3 1028.6l2.77 1.55v3.1l-2.77 1.55l-2.77 -1.55v-3.1zM773.2 881.2l2.77 1.55v3.1l-2.77 1.55l-2.77 -1.55v-3.1zM773.2 1068.8l2.77 1.55v3.1l-2.77 1.55l-2.77 -1.55v-3.1zM773.2 1140.3l2.77 1.55v3.1l-2.77 1.55l-2.77 -1.55v-3.1zM775.9 885.6l2.77 1.55v3.1l-2.77 1.55l-2.77 -1.55v-3.1zM778.5 1068.8l2.77 1.55v3.1l-2.77 1.55l-2.77 -1.55v-3.1zM781.2 885.6l2.77 1.55v3.1l-2.77 1.55l-2.77 -1.55v-3.1zM783.8 1068.8l2.77 1.55v3.1l-2.77 1.55l-2.77 -1.55v-3.1zM781.2 1091.2l2.77 1.55v3.1l-2.77 1.55l-2.77 -1.55v-3.1zM783.8 1140.3l2.77 1.55v3.1l-2.77 1.55l-2.77 -1.55v-3.1zM786.5 841l2.77 1.55v3.1l-2.77 1.55l-2.77 -1.55v-3.1zM789.1 1068.8l2.77 1.55v3.1l-2.77 1.55l-2.77 -1.55v-3.1zM786.5 1073.3l2.77 1.55v3.1l-2.77 1.55l-2.77 -1.55v-3.1zM794.4 1024.1l2.77 1.55v3.1l-2.77 1.55l-2.77 -1.55v-3.1zM791.8 1082.2l2.77 1.55v3.1l-2.77 1.55l-2.77 -1.55v-3.1zM797 1064.4l2.77 1.55v3.1l-2.77 1.55l-2.77 -1.55v-3.1zM797 1082.2l2.77 1.55v3.1l-2.77 1.55l-2.77 -1.55v-3.1zM802.3 1010.7l2.77 1.55v3.1l-2.77 1.55l-2.77 -1.55v-3.1zM802.3 1019.7l2.77 1.55v3.1l-2.77 1.55l-2.77 -1.55v-3.1zM802.3 1073.3l2.77 1.55v3.1l-2.77 1.55l-2.77 -1.55v-3.1zM802.3 1082.2l2.77 1.55v3.1l-2.77 1.55l-2.77 -1.55v-3.1zM805 1086.7l2.77 1.55v3.1l-2.77 1.55l-2.77 -1.55v-3.1zM810.3 1086.7l2.77 1.55v3.1l-2.77 1.55l-2.77 -1.55v-3.1zM812.9 1073.3l2.77 1.55v3.1l-2.77 1.55l-2.77 -1.55v-3.1zM818.2 1046.5l2.77 1.55v3.1l-2.77 1.55l-2.77 -1.55v-3.1zM820.9 1050.9l2.77 1.55v3.1l-2.77 1.55l-2.77 -1.55v-3.1zM818.2 1091.2l2.77 1.55v3.1l-2.77 1.55l-2.77 -1.55v-3.1zM828.8 1064.4l2.77 1.55v3.1l-2.77 1.55l-2.77 -1.55v-3.1zM836.7 1077.8l2.77 1.55v3.1l-2.77 1.55l-2.77 -1.55v-3.1zM834.1 1082.2l2.77 1.55v3.1l-2.77 1.55l-2.77 -1.55v-3.1zM863.2 970.5l2.77 1.55v3.1l-2.77 1.55l-2.77 -1.55v-3.1zM868.5 899l2.77 1.55v3.1l-2.77 1.55l-2.77 -1.55v-3.1zM865.9 903.5l2.77 1.55v3.1l-2.77 1.55l-2.77 -1.55v-3.1zM865.9 966.1l2.77 1.55v3.1l-2.77 1.55l-2.77 -1.55v-3.1zM868.5 1006.3l2.77 1.55v3.1l-2.77 1.55l-2.77 -1.55v-3.1zM871.1 894.6l2.77 1.55v3.1l-2.77 1.55l-2.77 -1.55v-3.1zM873.8 899l2.77 1.55v3.1l-2.77 1.55l-2.77 -1.55v-3.1zM871.1 903.5l2.77 1.55v3.1l-2.77 1.55l-2.77 -1.55v-3.1zM871.1 992.9l2.77 1.55v3.1l-2.77 1.55l-2.77 -1.55v-3.1zM871.1 1010.7l2.77 1.55v3.1l-2.77 1.55l-2.77 -1.55v-3.1zM876.4 1010.7l2.77 1.55v3.1l-2.77 1.55l-2.77 -1.55v-3.1zM897.6 805.2l2.77 1.55v3.1l-2.77 1.55l-2.77 -1.55v-3.1zM918.8 930.3l2.77 1.55v3.1l-2.77 1.55l-2.77 -1.55v-3.1zM926.7 1024.1l2.77 1.55v3.1l-2.77 1.55l-2.77 -1.55v-3.1zM929.4 921.4l2.77 1.55v3.1l-2.77 1.55l-2.77 -1.55v-3.1zM937.3 934.8l2.77 1.55v3.1l-2.77 1.55l-2.77 -1.55v-3.1zM937.3 943.7l2.77 1.55v3.1l-2.77 1.55l-2.77 -1.55v-3.1zM940 939.2l2.77 1.55v3.1l-2.77 1.55l-2.77 -1.55v-3.1zM947.9 943.7l2.77 1.55v3.1l-2.77 1.55l-2.77 -1.55v-3.1zM950.5 948.2l2.77 1.55v3.1l-2.77 1.55l-2.77 -1.55v-3.1zM953.2 970.5l2.77 1.55v3.1l-2.77 1.55l-2.77 -1.55v-3.1zM953.2 979.5l2.77 1.55v3.1l-2.77 1.55l-2.77 -1.55v-3.1zM955.8 992.9l2.77 1.55v3.1l-2.77 1.55l-2.77 -1.55v-3.1zM963.8 979.5l2.77 1.55v3.1l-2.77 1.55l-2.77 -1.55v-3.1zM966.4 966.1l2.77 1.55v3.1l-2.77 1.55l-2.77 -1.55v-3.1zM971.7 966.1l2.77 1.55v3.1l-2.77 1.55l-2.77 -1.55v-3.1zM974.4 970.5l2.77 1.55v3.1l-2.77 1.55l-2.77 -1.55v-3.1zM971.7 975l2.77 1.55v3.1l-2.77 1.55l-2.77 -1.55v-3.1zM984.9 961.6l2.77 1.55v3.1l-2.77 1.55l-2.77 -1.55v-3.1zM984.9 970.5l2.77 1.55v3.1l-2.77 1.55l-2.77 -1.55v-3.1zM1000.8 970.5l2.77 1.55v3.1l-2.77 1.55l-2.77 -1.55v-3.1zM1006.1 970.5l2.77 1.55v3.1l-2.77 1.55l-2.77 -1.55v-3.1zM1016.7 908l2.77 1.55v3.1l-2.77 1.55l-2.77 -1.55v-3.1zM1019.4 912.4l2.77 1.55v3.1l-2.77 1.55l-2.77 -1.55v-3.1zM1022 979.5l2.77 1.55v3.1l-2.77 1.55l-2.77 -1.55v-3.1zM1053.8 925.8l2.77 1.55v3.1l-2.77 1.55l-2.77 -1.55v-3.1zM1069.6 952.7l2.77 1.55v3.1l-2.77 1.55l-2.77 -1.55v-3.1zM1072.3 966.1l2.77 1.55v3.1l-2.77 1.55l-2.77 -1.55v-3.1z"/><path fill="#414685" d="M688.5 854.4l2.77 1.55v3.1l-2.77 1.55l-2.77 -1.55v-3.1zM688.5 890.1l2.77 1.55v3.1l-2.77 1.55l-2.77 -1.55v-3.1zM693.8 908l2.77 1.55v3.1l-2.77 1.55l-2.77 -1.55v-3.1zM701.8 912.4l2.77 1.55v3.1l-2.77 1.55l-2.77 -1.55v-3.1zM704.4 916.9l2.77 1.55v3.1l-2.77 1.55l-2.77 -1.55v-3.1zM701.8 948.2l2.77 1.55v3.1l-2.77 1.55l-2.77 -1.55v-3.1zM707.1 948.2l2.77 1.55v3.1l-2.77 1.55l-2.77 -1.55v-3.1zM717.6 939.2l2.77 1.55v3.1l-2.77 1.55l-2.77 -1.55v-3.1zM720.3 952.7l2.77 1.55v3.1l-2.77 1.55l-2.77 -1.55v-3.1zM725.6 899l2.77 1.55v3.1l-2.77 1.55l-2.77 -1.55v-3.1zM722.9 903.5l2.77 1.55v3.1l-2.77 1.55l-2.77 -1.55v-3.1zM722.9 948.2l2.77 1.55v3.1l-2.77 1.55l-2.77 -1.55v-3.1zM733.5 876.7l2.77 1.55v3.1l-2.77 1.55l-2.77 -1.55v-3.1zM736.2 881.2l2.77 1.55v3.1l-2.77 1.55l-2.77 -1.55v-3.1zM736.2 890.1l2.77 1.55v3.1l-2.77 1.55l-2.77 -1.55v-3.1zM783.8 1149.2l2.77 1.55v3.1l-2.77 1.55l-2.77 -1.55v-3.1zM820.9 1077.8l2.77 1.55v3.1l-2.77 1.55l-2.77 -1.55v-3.1zM826.2 1086.7l2.77 1.55v3.1l-2.77 1.55l-2.77 -1.55v-3.1zM836.7 1086.7l2.77 1.55v3.1l-2.77 1.55l-2.77 -1.55v-3.1zM879.1 979.5l2.77 1.55v3.1l-2.77 1.55l-2.77 -1.55v-3.1zM884.4 961.6l2.77 1.55v3.1l-2.77 1.55l-2.77 -1.55v-3.1zM881.7 992.9l2.77 1.55v3.1l-2.77 1.55l-2.77 -1.55v-3.1zM881.7 1001.8l2.77 1.55v3.1l-2.77 1.55l-2.77 -1.55v-3.1zM887 1001.8l2.77 1.55v3.1l-2.77 1.55l-2.77 -1.55v-3.1zM916.1 943.7l2.77 1.55v3.1l-2.77 1.55l-2.77 -1.55v-3.1zM926.7 1015.2l2.77 1.55v3.1l-2.77 1.55l-2.77 -1.55v-3.1zM929.4 948.2l2.77 1.55v3.1l-2.77 1.55l-2.77 -1.55v-3.1zM940 1001.8l2.77 1.55v3.1l-2.77 1.55l-2.77 -1.55v-3.1zM1014.1 966.1l2.77 1.55v3.1l-2.77 1.55l-2.77 -1.55v-3.1zM1024.6 939.2l2.77 1.55v3.1l-2.77 1.55l-2.77 -1.55v-3.1zM1029.9 930.3l2.77 1.55v3.1l-2.77 1.55l-2.77 -1.55v-3.1zM1032.6 934.8l2.77 1.55v3.1l-2.77 1.55l-2.77 -1.55v-3.1zM1032.6 943.7l2.77 1.55v3.1l-2.77 1.55l-2.77 -1.55v-3.1zM1029.9 948.2l2.77 1.55v3.1l-2.77 1.55l-2.77 -1.55v-3.1zM1029.9 957.1l2.77 1.55v3.1l-2.77 1.55l-2.77 -1.55v-3.1zM1037.9 925.8l2.77 1.55v3.1l-2.77 1.55l-2.77 -1.55v-3.1zM1035.2 930.3l2.77 1.55v3.1l-2.77 1.55l-2.77 -1.55v-3.1zM1037.9 934.8l2.77 1.55v3.1l-2.77 1.55l-2.77 -1.55v-3.1zM1035.2 939.2l2.77 1.55v3.1l-2.77 1.55l-2.77 -1.55v-3.1zM1040.5 939.2l2.77 1.55v3.1l-2.77 1.55l-2.77 -1.55v-3.1zM1043.2 943.7l2.77 1.55v3.1l-2.77 1.55l-2.77 -1.55v-3.1zM1045.8 957.1l2.77 1.55v3.1l-2.77 1.55l-2.77 -1.55v-3.1zM1056.4 966.1l2.77 1.55v3.1l-2.77 1.55l-2.77 -1.55v-3.1zM1059 970.5l2.77 1.55v3.1l-2.77 1.55l-2.77 -1.55v-3.1z"/><path fill="#424282" d="M685.9 858.8l2.77 1.55v3.1l-2.77 1.55l-2.77 -1.55v-3.1zM691.2 849.9l2.77 1.55v3.1l-2.77 1.55l-2.77 -1.55v-3.1zM693.8 943.7l2.77 1.55v3.1l-2.77 1.55l-2.77 -1.55v-3.1zM704.4 925.8l2.77 1.55v3.1l-2.77 1.55l-2.77 -1.55v-3.1zM701.8 930.3l2.77 1.55v3.1l-2.77 1.55l-2.77 -1.55v-3.1zM709.7 845.4l2.77 1.55v3.1l-2.77 1.55l-2.77 -1.55v-3.1zM709.7 952.7l2.77 1.55v3.1l-2.77 1.55l-2.77 -1.55v-3.1zM712.4 823.1l2.77 1.55v3.1l-2.77 1.55l-2.77 -1.55v-3.1zM715 916.9l2.77 1.55v3.1l-2.77 1.55l-2.77 -1.55v-3.1zM715 952.7l2.77 1.55v3.1l-2.77 1.55l-2.77 -1.55v-3.1zM717.6 921.4l2.77 1.55v3.1l-2.77 1.55l-2.77 -1.55v-3.1zM733.5 885.6l2.77 1.55v3.1l-2.77 1.55l-2.77 -1.55v-3.1zM738.8 876.7l2.77 1.55v3.1l-2.77 1.55l-2.77 -1.55v-3.1zM738.8 885.6l2.77 1.55v3.1l-2.77 1.55l-2.77 -1.55v-3.1zM746.8 872.2l2.77 1.55v3.1l-2.77 1.55l-2.77 -1.55v-3.1zM770.6 1019.7l2.77 1.55v3.1l-2.77 1.55l-2.77 -1.55v-3.1zM876.4 966.1l2.77 1.55v3.1l-2.77 1.55l-2.77 -1.55v-3.1zM879.1 997.3l2.77 1.55v3.1l-2.77 1.55l-2.77 -1.55v-3.1zM876.4 1001.8l2.77 1.55v3.1l-2.77 1.55l-2.77 -1.55v-3.1zM892.3 1010.7l2.77 1.55v3.1l-2.77 1.55l-2.77 -1.55v-3.1zM900.3 1015.2l2.77 1.55v3.1l-2.77 1.55l-2.77 -1.55v-3.1zM916.1 1024.1l2.77 1.55v3.1l-2.77 1.55l-2.77 -1.55v-3.1zM918.8 939.2l2.77 1.55v3.1l-2.77 1.55l-2.77 -1.55v-3.1zM929.4 1010.7l2.77 1.55v3.1l-2.77 1.55l-2.77 -1.55v-3.1zM1027.3 916.9l2.77 1.55v3.1l-2.77 1.55l-2.77 -1.55v-3.1zM1027.3 952.7l2.77 1.55v3.1l-2.77 1.55l-2.77 -1.55v-3.1zM1027.3 961.6l2.77 1.55v3.1l-2.77 1.55l-2.77 -1.55v-3.1zM1032.6 952.7l2.77 1.55v3.1l-2.77 1.55l-2.77 -1.55v-3.1zM1035.2 948.2l2.77 1.55v3.1l-2.77 1.55l-2.77 -1.55v-3.1zM1037.9 952.7l2.77 1.55v3.1l-2.77 1.55l-2.77 -1.55v-3.1zM1035.2 957.1l2.77 1.55v3.1l-2.77 1.55l-2.77 -1.55v-3.1zM1037.9 961.6l2.77 1.55v3.1l-2.77 1.55l-2.77 -1.55v-3.1zM1037.9 988.4l2.77 1.55v3.1l-2.77 1.55l-2.77 -1.55v-3.1zM1045.8 939.2l2.77 1.55v3.1l-2.77 1.55l-2.77 -1.55v-3.1zM1048.5 943.7l2.77 1.55v3.1l-2.77 1.55l-2.77 -1.55v-3.1zM1045.8 948.2l2.77 1.55v3.1l-2.77 1.55l-2.77 -1.55v-3.1zM1048.5 952.7l2.77 1.55v3.1l-2.77 1.55l-2.77 -1.55v-3.1zM1051.1 966.1l2.77 1.55v3.1l-2.77 1.55l-2.77 -1.55v-3.1zM1053.8 970.5l2.77 1.55v3.1l-2.77 1.55l-2.77 -1.55v-3.1zM1056.4 957.1l2.77 1.55v3.1l-2.77 1.55l-2.77 -1.55v-3.1zM1059 961.6l2.77 1.55v3.1l-2.77 1.55l-2.77 -1.55v-3.1z"/><path fill="#3D568D" d="M688.5 863.3l2.77 1.55v3.1l-2.77 1.55l-2.77 -1.55v-3.1zM693.8 854.4l2.77 1.55v3.1l-2.77 1.55l-2.77 -1.55v-3.1zM691.2 894.6l2.77 1.55v3.1l-2.77 1.55l-2.77 -1.55v-3.1zM696.5 867.8l2.77 1.55v3.1l-2.77 1.55l-2.77 -1.55v-3.1zM696.5 876.7l2.77 1.55v3.1l-2.77 1.55l-2.77 -1.55v-3.1zM699.1 934.8l2.77 1.55v3.1l-2.77 1.55l-2.77 -1.55v-3.1zM704.4 854.4l2.77 1.55v3.1l-2.77 1.55l-2.77 -1.55v-3.1zM709.7 908l2.77 1.55v3.1l-2.77 1.55l-2.77 -1.55v-3.1zM707.1 912.4l2.77 1.55v3.1l-2.77 1.55l-2.77 -1.55v-3.1zM712.4 876.7l2.77 1.55v3.1l-2.77 1.55l-2.77 -1.55v-3.1zM712.4 903.5l2.77 1.55v3.1l-2.77 1.55l-2.77 -1.55v-3.1zM715 908l2.77 1.55v3.1l-2.77 1.55l-2.77 -1.55v-3.1zM715 943.7l2.77 1.55v3.1l-2.77 1.55l-2.77 -1.55v-3.1zM712.4 948.2l2.77 1.55v3.1l-2.77 1.55l-2.77 -1.55v-3.1zM720.3 881.2l2.77 1.55v3.1l-2.77 1.55l-2.77 -1.55v-3.1zM720.3 899l2.77 1.55v3.1l-2.77 1.55l-2.77 -1.55v-3.1zM717.6 948.2l2.77 1.55v3.1l-2.77 1.55l-2.77 -1.55v-3.1zM725.6 872.2l2.77 1.55v3.1l-2.77 1.55l-2.77 -1.55v-3.1zM725.6 890.1l2.77 1.55v3.1l-2.77 1.55l-2.77 -1.55v-3.1zM730.9 872.2l2.77 1.55v3.1l-2.77 1.55l-2.77 -1.55v-3.1zM733.5 858.8l2.77 1.55v3.1l-2.77 1.55l-2.77 -1.55v-3.1zM744.1 867.8l2.77 1.55v3.1l-2.77 1.55l-2.77 -1.55v-3.1zM884.4 988.4l2.77 1.55v3.1l-2.77 1.55l-2.77 -1.55v-3.1zM889.7 961.6l2.77 1.55v3.1l-2.77 1.55l-2.77 -1.55v-3.1zM889.7 997.3l2.77 1.55v3.1l-2.77 1.55l-2.77 -1.55v-3.1zM895 791.8l2.77 1.55v3.1l-2.77 1.55l-2.77 -1.55v-3.1zM900.3 961.6l2.77 1.55v3.1l-2.77 1.55l-2.77 -1.55v-3.1zM918.8 948.2l2.77 1.55v3.1l-2.77 1.55l-2.77 -1.55v-3.1zM926.7 952.7l2.77 1.55v3.1l-2.77 1.55l-2.77 -1.55v-3.1zM926.7 961.6l2.77 1.55v3.1l-2.77 1.55l-2.77 -1.55v-3.1zM934.7 1001.8l2.77 1.55v3.1l-2.77 1.55l-2.77 -1.55v-3.1zM940 983.9l2.77 1.55v3.1l-2.77 1.55l-2.77 -1.55v-3.1zM1011.4 961.6l2.77 1.55v3.1l-2.77 1.55l-2.77 -1.55v-3.1zM1014.1 921.4l2.77 1.55v3.1l-2.77 1.55l-2.77 -1.55v-3.1zM1016.7 961.6l2.77 1.55v3.1l-2.77 1.55l-2.77 -1.55v-3.1z"/><path fill="#433578" d="M688.5 872.2l2.77 1.55v3.1l-2.77 1.55l-2.77 -1.55v-3.1zM688.5 899l2.77 1.55v3.1l-2.77 1.55l-2.77 -1.55v-3.1zM709.7 836.5l2.77 1.55v3.1l-2.77 1.55l-2.77 -1.55v-3.1zM707.1 841l2.77 1.55v3.1l-2.77 1.55l-2.77 -1.55v-3.1zM715 836.5l2.77 1.55v3.1l-2.77 1.55l-2.77 -1.55v-3.1zM720.3 916.9l2.77 1.55v3.1l-2.77 1.55l-2.77 -1.55v-3.1zM720.3 925.8l2.77 1.55v3.1l-2.77 1.55l-2.77 -1.55v-3.1zM717.6 930.3l2.77 1.55v3.1l-2.77 1.55l-2.77 -1.55v-3.1zM722.9 832l2.77 1.55v3.1l-2.77 1.55l-2.77 -1.55v-3.1zM725.6 943.7l2.77 1.55v3.1l-2.77 1.55l-2.77 -1.55v-3.1zM728.2 930.3l2.77 1.55v3.1l-2.77 1.55l-2.77 -1.55v-3.1zM736.2 854.4l2.77 1.55v3.1l-2.77 1.55l-2.77 -1.55v-3.1zM733.5 903.5l2.77 1.55v3.1l-2.77 1.55l-2.77 -1.55v-3.1zM746.8 881.2l2.77 1.55v3.1l-2.77 1.55l-2.77 -1.55v-3.1zM749.4 858.8l2.77 1.55v3.1l-2.77 1.55l-2.77 -1.55v-3.1zM791.8 1019.7l2.77 1.55v3.1l-2.77 1.55l-2.77 -1.55v-3.1zM831.4 1086.7l2.77 1.55v3.1l-2.77 1.55l-2.77 -1.55v-3.1zM876.4 992.9l2.77 1.55v3.1l-2.77 1.55l-2.77 -1.55v-3.1zM879.1 1006.3l2.77 1.55v3.1l-2.77 1.55l-2.77 -1.55v-3.1zM887 1010.7l2.77 1.55v3.1l-2.77 1.55l-2.77 -1.55v-3.1zM905.6 809.7l2.77 1.55v3.1l-2.77 1.55l-2.77 -1.55v-3.1zM926.7 943.7l2.77 1.55v3.1l-2.77 1.55l-2.77 -1.55v-3.1zM929.4 939.2l2.77 1.55v3.1l-2.77 1.55l-2.77 -1.55v-3.1zM937.3 952.7l2.77 1.55v3.1l-2.77 1.55l-2.77 -1.55v-3.1zM947.9 979.5l2.77 1.55v3.1l-2.77 1.55l-2.77 -1.55v-3.1zM945.2 992.9l2.77 1.55v3.1l-2.77 1.55l-2.77 -1.55v-3.1zM950.5 983.9l2.77 1.55v3.1l-2.77 1.55l-2.77 -1.55v-3.1zM992.9 957.1l2.77 1.55v3.1l-2.77 1.55l-2.77 -1.55v-3.1zM1008.8 966.1l2.77 1.55v3.1l-2.77 1.55l-2.77 -1.55v-3.1zM1016.7 970.5l2.77 1.55v3.1l-2.77 1.55l-2.77 -1.55v-3.1zM1022 916.9l2.77 1.55v3.1l-2.77 1.55l-2.77 -1.55v-3.1zM1035.2 966.1l2.77 1.55v3.1l-2.77 1.55l-2.77 -1.55v-3.1zM1048.5 908l2.77 1.55v3.1l-2.77 1.55l-2.77 -1.55v-3.1zM1045.8 921.4l2.77 1.55v3.1l-2.77 1.55l-2.77 -1.55v-3.1zM1048.5 934.8l2.77 1.55v3.1l-2.77 1.55l-2.77 -1.55v-3.1zM1048.5 970.5l2.77 1.55v3.1l-2.77 1.55l-2.77 -1.55v-3.1zM1051.1 957.1l2.77 1.55v3.1l-2.77 1.55l-2.77 -1.55v-3.1zM1056.4 948.2l2.77 1.55v3.1l-2.77 1.55l-2.77 -1.55v-3.1zM1061.7 957.1l2.77 1.55v3.1l-2.77 1.55l-2.77 -1.55v-3.1z"/><path fill="#433174" d="M685.9 876.7l2.77 1.55v3.1l-2.77 1.55l-2.77 -1.55v-3.1zM693.8 845.4l2.77 1.55v3.1l-2.77 1.55l-2.77 -1.55v-3.1zM696.5 948.2l2.77 1.55v3.1l-2.77 1.55l-2.77 -1.55v-3.1zM704.4 836.5l2.77 1.55v3.1l-2.77 1.55l-2.77 -1.55v-3.1zM709.7 827.5l2.77 1.55v3.1l-2.77 1.55l-2.77 -1.55v-3.1zM720.3 836.5l2.77 1.55v3.1l-2.77 1.55l-2.77 -1.55v-3.1zM725.6 836.5l2.77 1.55v3.1l-2.77 1.55l-2.77 -1.55v-3.1zM725.6 845.4l2.77 1.55v3.1l-2.77 1.55l-2.77 -1.55v-3.1zM722.9 921.4l2.77 1.55v3.1l-2.77 1.55l-2.77 -1.55v-3.1zM725.6 925.8l2.77 1.55v3.1l-2.77 1.55l-2.77 -1.55v-3.1zM722.9 930.3l2.77 1.55v3.1l-2.77 1.55l-2.77 -1.55v-3.1zM725.6 934.8l2.77 1.55v3.1l-2.77 1.55l-2.77 -1.55v-3.1zM728.2 841l2.77 1.55v3.1l-2.77 1.55l-2.77 -1.55v-3.1zM730.9 845.4l2.77 1.55v3.1l-2.77 1.55l-2.77 -1.55v-3.1zM728.2 912.4l2.77 1.55v3.1l-2.77 1.55l-2.77 -1.55v-3.1zM728.2 921.4l2.77 1.55v3.1l-2.77 1.55l-2.77 -1.55v-3.1zM733.5 849.9l2.77 1.55v3.1l-2.77 1.55l-2.77 -1.55v-3.1zM733.5 930.3l2.77 1.55v3.1l-2.77 1.55l-2.77 -1.55v-3.1zM741.5 854.4l2.77 1.55v3.1l-2.77 1.55l-2.77 -1.55v-3.1zM738.8 903.5l2.77 1.55v3.1l-2.77 1.55l-2.77 -1.55v-3.1zM744.1 894.6l2.77 1.55v3.1l-2.77 1.55l-2.77 -1.55v-3.1zM749.4 876.7l2.77 1.55v3.1l-2.77 1.55l-2.77 -1.55v-3.1zM749.4 885.6l2.77 1.55v3.1l-2.77 1.55l-2.77 -1.55v-3.1zM754.7 876.7l2.77 1.55v3.1l-2.77 1.55l-2.77 -1.55v-3.1zM789.1 1024.1l2.77 1.55v3.1l-2.77 1.55l-2.77 -1.55v-3.1zM791.8 1153.7l2.77 1.55v3.1l-2.77 1.55l-2.77 -1.55v-3.1zM802.3 1091.2l2.77 1.55v3.1l-2.77 1.55l-2.77 -1.55v-3.1zM815.6 1077.8l2.77 1.55v3.1l-2.77 1.55l-2.77 -1.55v-3.1zM873.8 1006.3l2.77 1.55v3.1l-2.77 1.55l-2.77 -1.55v-3.1zM916.1 934.8l2.77 1.55v3.1l-2.77 1.55l-2.77 -1.55v-3.1zM921.4 934.8l2.77 1.55v3.1l-2.77 1.55l-2.77 -1.55v-3.1zM932 934.8l2.77 1.55v3.1l-2.77 1.55l-2.77 -1.55v-3.1zM932 943.7l2.77 1.55v3.1l-2.77 1.55l-2.77 -1.55v-3.1zM934.7 939.2l2.77 1.55v3.1l-2.77 1.55l-2.77 -1.55v-3.1zM953.2 988.4l2.77 1.55v3.1l-2.77 1.55l-2.77 -1.55v-3.1zM995.5 952.7l2.77 1.55v3.1l-2.77 1.55l-2.77 -1.55v-3.1zM995.5 961.6l2.77 1.55v3.1l-2.77 1.55l-2.77 -1.55v-3.1zM1000.8 934.8l2.77 1.55v3.1l-2.77 1.55l-2.77 -1.55v-3.1zM1022 970.5l2.77 1.55v3.1l-2.77 1.55l-2.77 -1.55v-3.1zM1027.3 970.5l2.77 1.55v3.1l-2.77 1.55l-2.77 -1.55v-3.1zM1043.2 908l2.77 1.55v3.1l-2.77 1.55l-2.77 -1.55v-3.1zM1043.2 961.6l2.77 1.55v3.1l-2.77 1.55l-2.77 -1.55v-3.1zM1040.5 966.1l2.77 1.55v3.1l-2.77 1.55l-2.77 -1.55v-3.1zM1045.8 975l2.77 1.55v3.1l-2.77 1.55l-2.77 -1.55v-3.1zM1053.8 943.7l2.77 1.55v3.1l-2.77 1.55l-2.77 -1.55v-3.1zM1067 957.1l2.77 1.55v3.1l-2.77 1.55l-2.77 -1.55v-3.1z"/><path fill="#432D6F" d="M688.5 934.8l2.77 1.55v3.1l-2.77 1.55l-2.77 -1.55v-3.1zM685.9 939.2l2.77 1.55v3.1l-2.77 1.55l-2.77 -1.55v-3.1zM696.5 841l2.77 1.55v3.1l-2.77 1.55l-2.77 -1.55v-3.1zM699.1 925.8l2.77 1.55v3.1l-2.77 1.55l-2.77 -1.55v-3.1zM699.1 952.7l2.77 1.55v3.1l-2.77 1.55l-2.77 -1.55v-3.1zM704.4 827.5l2.77 1.55v3.1l-2.77 1.55l-2.77 -1.55v-3.1zM707.1 832l2.77 1.55v3.1l-2.77 1.55l-2.77 -1.55v-3.1zM712.4 832l2.77 1.55v3.1l-2.77 1.55l-2.77 -1.55v-3.1zM717.6 832l2.77 1.55v3.1l-2.77 1.55l-2.77 -1.55v-3.1zM717.6 841l2.77 1.55v3.1l-2.77 1.55l-2.77 -1.55v-3.1zM725.6 818.6l2.77 1.55v3.1l-2.77 1.55l-2.77 -1.55v-3.1zM722.9 841l2.77 1.55v3.1l-2.77 1.55l-2.77 -1.55v-3.1zM725.6 916.9l2.77 1.55v3.1l-2.77 1.55l-2.77 -1.55v-3.1zM728.2 832l2.77 1.55v3.1l-2.77 1.55l-2.77 -1.55v-3.1zM730.9 908l2.77 1.55v3.1l-2.77 1.55l-2.77 -1.55v-3.1zM730.9 925.8l2.77 1.55v3.1l-2.77 1.55l-2.77 -1.55v-3.1zM728.2 939.2l2.77 1.55v3.1l-2.77 1.55l-2.77 -1.55v-3.1zM730.9 943.7l2.77 1.55v3.1l-2.77 1.55l-2.77 -1.55v-3.1zM733.5 823.1l2.77 1.55v3.1l-2.77 1.55l-2.77 -1.55v-3.1zM736.2 827.5l2.77 1.55v3.1l-2.77 1.55l-2.77 -1.55v-3.1zM741.5 899l2.77 1.55v3.1l-2.77 1.55l-2.77 -1.55v-3.1zM752.1 881.2l2.77 1.55v3.1l-2.77 1.55l-2.77 -1.55v-3.1zM757.3 872.2l2.77 1.55v3.1l-2.77 1.55l-2.77 -1.55v-3.1zM754.7 885.6l2.77 1.55v3.1l-2.77 1.55l-2.77 -1.55v-3.1zM757.3 1024.1l2.77 1.55v3.1l-2.77 1.55l-2.77 -1.55v-3.1zM760 885.6l2.77 1.55v3.1l-2.77 1.55l-2.77 -1.55v-3.1zM783.8 1024.1l2.77 1.55v3.1l-2.77 1.55l-2.77 -1.55v-3.1zM797 1019.7l2.77 1.55v3.1l-2.77 1.55l-2.77 -1.55v-3.1zM826.2 1068.8l2.77 1.55v3.1l-2.77 1.55l-2.77 -1.55v-3.1zM823.5 1082.2l2.77 1.55v3.1l-2.77 1.55l-2.77 -1.55v-3.1zM831.4 1077.8l2.77 1.55v3.1l-2.77 1.55l-2.77 -1.55v-3.1zM828.8 1082.2l2.77 1.55v3.1l-2.77 1.55l-2.77 -1.55v-3.1zM873.8 997.3l2.77 1.55v3.1l-2.77 1.55l-2.77 -1.55v-3.1zM879.1 961.6l2.77 1.55v3.1l-2.77 1.55l-2.77 -1.55v-3.1zM892.3 796.3l2.77 1.55v3.1l-2.77 1.55l-2.77 -1.55v-3.1zM900.3 782.9l2.77 1.55v3.1l-2.77 1.55l-2.77 -1.55v-3.1zM905.6 773.9l2.77 1.55v3.1l-2.77 1.55l-2.77 -1.55v-3.1zM902.9 778.4l2.77 1.55v3.1l-2.77 1.55l-2.77 -1.55v-3.1zM902.9 1019.7l2.77 1.55v3.1l-2.77 1.55l-2.77 -1.55v-3.1zM910.8 1024.1l2.77 1.55v3.1l-2.77 1.55l-2.77 -1.55v-3.1zM924.1 823.1l2.77 1.55v3.1l-2.77 1.55l-2.77 -1.55v-3.1zM924.1 930.3l2.77 1.55v3.1l-2.77 1.55l-2.77 -1.55v-3.1zM940 966.1l2.77 1.55v3.1l-2.77 1.55l-2.77 -1.55v-3.1zM969.1 970.5l2.77 1.55v3.1l-2.77 1.55l-2.77 -1.55v-3.1zM977 966.1l2.77 1.55v3.1l-2.77 1.55l-2.77 -1.55v-3.1zM990.2 961.6l2.77 1.55v3.1l-2.77 1.55l-2.77 -1.55v-3.1zM1000.8 925.8l2.77 1.55v3.1l-2.77 1.55l-2.77 -1.55v-3.1zM998.2 939.2l2.77 1.55v3.1l-2.77 1.55l-2.77 -1.55v-3.1zM998.2 966.1l2.77 1.55v3.1l-2.77 1.55l-2.77 -1.55v-3.1zM1011.4 970.5l2.77 1.55v3.1l-2.77 1.55l-2.77 -1.55v-3.1zM1027.3 988.4l2.77 1.55v3.1l-2.77 1.55l-2.77 -1.55v-3.1zM1037.9 908l2.77 1.55v3.1l-2.77 1.55l-2.77 -1.55v-3.1zM1043.2 970.5l2.77 1.55v3.1l-2.77 1.55l-2.77 -1.55v-3.1zM1051.1 939.2l2.77 1.55v3.1l-2.77 1.55l-2.77 -1.55v-3.1zM1051.1 975l2.77 1.55v3.1l-2.77 1.55l-2.77 -1.55v-3.1z"/><path fill="#3F1B5E" d="M693.8 836.5l2.77 1.55v3.1l-2.77 1.55l-2.77 -1.55v-3.1zM696.5 957.1l2.77 1.55v3.1l-2.77 1.55l-2.77 -1.55v-3.1zM699.1 961.6l2.77 1.55v3.1l-2.77 1.55l-2.77 -1.55v-3.1zM736.2 916.9l2.77 1.55v3.1l-2.77 1.55l-2.77 -1.55v-3.1zM736.2 943.7l2.77 1.55v3.1l-2.77 1.55l-2.77 -1.55v-3.1zM741.5 827.5l2.77 1.55v3.1l-2.77 1.55l-2.77 -1.55v-3.1zM741.5 836.5l2.77 1.55v3.1l-2.77 1.55l-2.77 -1.55v-3.1zM741.5 845.4l2.77 1.55v3.1l-2.77 1.55l-2.77 -1.55v-3.1zM738.8 912.4l2.77 1.55v3.1l-2.77 1.55l-2.77 -1.55v-3.1zM738.8 921.4l2.77 1.55v3.1l-2.77 1.55l-2.77 -1.55v-3.1zM738.8 992.9l2.77 1.55v3.1l-2.77 1.55l-2.77 -1.55v-3.1zM741.5 1042l2.77 1.55v3.1l-2.77 1.55l-2.77 -1.55v-3.1zM746.8 827.5l2.77 1.55v3.1l-2.77 1.55l-2.77 -1.55v-3.1zM746.8 836.5l2.77 1.55v3.1l-2.77 1.55l-2.77 -1.55v-3.1zM744.1 921.4l2.77 1.55v3.1l-2.77 1.55l-2.77 -1.55v-3.1zM746.8 925.8l2.77 1.55v3.1l-2.77 1.55l-2.77 -1.55v-3.1zM746.8 997.3l2.77 1.55v3.1l-2.77 1.55l-2.77 -1.55v-3.1zM744.1 1046.5l2.77 1.55v3.1l-2.77 1.55l-2.77 -1.55v-3.1zM749.4 930.3l2.77 1.55v3.1l-2.77 1.55l-2.77 -1.55v-3.1zM749.4 939.2l2.77 1.55v3.1l-2.77 1.55l-2.77 -1.55v-3.1zM752.1 1024.1l2.77 1.55v3.1l-2.77 1.55l-2.77 -1.55v-3.1zM757.3 836.5l2.77 1.55v3.1l-2.77 1.55l-2.77 -1.55v-3.1zM757.3 845.4l2.77 1.55v3.1l-2.77 1.55l-2.77 -1.55v-3.1zM754.7 849.9l2.77 1.55v3.1l-2.77 1.55l-2.77 -1.55v-3.1zM760 849.9l2.77 1.55v3.1l-2.77 1.55l-2.77 -1.55v-3.1zM762.6 854.4l2.77 1.55v3.1l-2.77 1.55l-2.77 -1.55v-3.1zM760 858.8l2.77 1.55v3.1l-2.77 1.55l-2.77 -1.55v-3.1zM760 1019.7l2.77 1.55v3.1l-2.77 1.55l-2.77 -1.55v-3.1zM762.6 1077.8l2.77 1.55v3.1l-2.77 1.55l-2.77 -1.55v-3.1zM762.6 1131.4l2.77 1.55v3.1l-2.77 1.55l-2.77 -1.55v-3.1zM765.3 849.9l2.77 1.55v3.1l-2.77 1.55l-2.77 -1.55v-3.1zM765.3 858.8l2.77 1.55v3.1l-2.77 1.55l-2.77 -1.55v-3.1zM765.3 1001.8l2.77 1.55v3.1l-2.77 1.55l-2.77 -1.55v-3.1zM767.9 1015.2l2.77 1.55v3.1l-2.77 1.55l-2.77 -1.55v-3.1zM765.3 1073.3l2.77 1.55v3.1l-2.77 1.55l-2.77 -1.55v-3.1zM778.5 863.3l2.77 1.55v3.1l-2.77 1.55l-2.77 -1.55v-3.1zM775.9 1001.8l2.77 1.55v3.1l-2.77 1.55l-2.77 -1.55v-3.1zM775.9 1028.6l2.77 1.55v3.1l-2.77 1.55l-2.77 -1.55v-3.1zM778.5 1086.7l2.77 1.55v3.1l-2.77 1.55l-2.77 -1.55v-3.1zM778.5 1140.3l2.77 1.55v3.1l-2.77 1.55l-2.77 -1.55v-3.1zM775.9 1144.8l2.77 1.55v3.1l-2.77 1.55l-2.77 -1.55v-3.1zM778.5 1149.2l2.77 1.55v3.1l-2.77 1.55l-2.77 -1.55v-3.1zM781.2 841l2.77 1.55v3.1l-2.77 1.55l-2.77 -1.55v-3.1zM783.8 934.8l2.77 1.55v3.1l-2.77 1.55l-2.77 -1.55v-3.1zM783.8 1033.1l2.77 1.55v3.1l-2.77 1.55l-2.77 -1.55v-3.1zM783.8 1095.6l2.77 1.55v3.1l-2.77 1.55l-2.77 -1.55v-3.1zM783.8 1158.2l2.77 1.55v3.1l-2.77 1.55l-2.77 -1.55v-3.1zM786.5 939.2l2.77 1.55v3.1l-2.77 1.55l-2.77 -1.55v-3.1zM786.5 1028.6l2.77 1.55v3.1l-2.77 1.55l-2.77 -1.55v-3.1zM791.8 849.9l2.77 1.55v3.1l-2.77 1.55l-2.77 -1.55v-3.1zM794.4 890.1l2.77 1.55v3.1l-2.77 1.55l-2.77 -1.55v-3.1zM791.8 939.2l2.77 1.55v3.1l-2.77 1.55l-2.77 -1.55v-3.1zM791.8 1028.6l2.77 1.55v3.1l-2.77 1.55l-2.77 -1.55v-3.1zM794.4 1059.9l2.77 1.55v3.1l-2.77 1.55l-2.77 -1.55v-3.1zM794.4 1158.2l2.77 1.55v3.1l-2.77 1.55l-2.77 -1.55v-3.1zM799.7 1024.1l2.77 1.55v3.1l-2.77 1.55l-2.77 -1.55v-3.1zM799.7 1068.8l2.77 1.55v3.1l-2.77 1.55l-2.77 -1.55v-3.1zM802.3 948.2l2.77 1.55v3.1l-2.77 1.55l-2.77 -1.55v-3.1zM805 1015.2l2.77 1.55v3.1l-2.77 1.55l-2.77 -1.55v-3.1zM807.6 957.1l2.77 1.55v3.1l-2.77 1.55l-2.77 -1.55v-3.1zM807.6 1091.2l2.77 1.55v3.1l-2.77 1.55l-2.77 -1.55v-3.1zM812.9 1019.7l2.77 1.55v3.1l-2.77 1.55l-2.77 -1.55v-3.1zM815.6 1042l2.77 1.55v3.1l-2.77 1.55l-2.77 -1.55v-3.1zM820.9 1059.9l2.77 1.55v3.1l-2.77 1.55l-2.77 -1.55v-3.1zM823.5 1055.4l2.77 1.55v3.1l-2.77 1.55l-2.77 -1.55v-3.1zM826.2 1095.6l2.77 1.55v3.1l-2.77 1.55l-2.77 -1.55v-3.1zM831.4 988.4l2.77 1.55v3.1l-2.77 1.55l-2.77 -1.55v-3.1zM828.8 1055.4l2.77 1.55v3.1l-2.77 1.55l-2.77 -1.55v-3.1zM831.4 1095.6l2.77 1.55v3.1l-2.77 1.55l-2.77 -1.55v-3.1zM836.7 1068.8l2.77 1.55v3.1l-2.77 1.55l-2.77 -1.55v-3.1zM834.1 1091.2l2.77 1.55v3.1l-2.77 1.55l-2.77 -1.55v-3.1zM842 943.7l2.77 1.55v3.1l-2.77 1.55l-2.77 -1.55v-3.1zM842 988.4l2.77 1.55v3.1l-2.77 1.55l-2.77 -1.55v-3.1zM839.4 1073.3l2.77 1.55v3.1l-2.77 1.55l-2.77 -1.55v-3.1zM842 1077.8l2.77 1.55v3.1l-2.77 1.55l-2.77 -1.55v-3.1zM850 957.1l2.77 1.55v3.1l-2.77 1.55l-2.77 -1.55v-3.1zM860.6 966.1l2.77 1.55v3.1l-2.77 1.55l-2.77 -1.55v-3.1zM865.9 894.6l2.77 1.55v3.1l-2.77 1.55l-2.77 -1.55v-3.1zM873.8 908l2.77 1.55v3.1l-2.77 1.55l-2.77 -1.55v-3.1zM873.8 1015.2l2.77 1.55v3.1l-2.77 1.55l-2.77 -1.55v-3.1zM876.4 903.5l2.77 1.55v3.1l-2.77 1.55l-2.77 -1.55v-3.1zM879.1 916.9l2.77 1.55v3.1l-2.77 1.55l-2.77 -1.55v-3.1zM876.4 921.4l2.77 1.55v3.1l-2.77 1.55l-2.77 -1.55v-3.1zM879.1 925.8l2.77 1.55v3.1l-2.77 1.55l-2.77 -1.55v-3.1zM884.4 925.8l2.77 1.55v3.1l-2.77 1.55l-2.77 -1.55v-3.1zM881.7 930.3l2.77 1.55v3.1l-2.77 1.55l-2.77 -1.55v-3.1zM889.7 791.8l2.77 1.55v3.1l-2.77 1.55l-2.77 -1.55v-3.1zM895 782.9l2.77 1.55v3.1l-2.77 1.55l-2.77 -1.55v-3.1zM900.3 791.8l2.77 1.55v3.1l-2.77 1.55l-2.77 -1.55v-3.1zM902.9 787.3l2.77 1.55v3.1l-2.77 1.55l-2.77 -1.55v-3.1zM910.8 773.9l2.77 1.55v3.1l-2.77 1.55l-2.77 -1.55v-3.1zM908.2 778.4l2.77 1.55v3.1l-2.77 1.55l-2.77 -1.55v-3.1zM921.4 925.8l2.77 1.55v3.1l-2.77 1.55l-2.77 -1.55v-3.1zM924.1 921.4l2.77 1.55v3.1l-2.77 1.55l-2.77 -1.55v-3.1zM932 925.8l2.77 1.55v3.1l-2.77 1.55l-2.77 -1.55v-3.1zM934.7 930.3l2.77 1.55v3.1l-2.77 1.55l-2.77 -1.55v-3.1zM963.8 970.5l2.77 1.55v3.1l-2.77 1.55l-2.77 -1.55v-3.1zM961.1 975l2.77 1.55v3.1l-2.77 1.55l-2.77 -1.55v-3.1zM969.1 934.8l2.77 1.55v3.1l-2.77 1.55l-2.77 -1.55v-3.1zM974.4 943.7l2.77 1.55v3.1l-2.77 1.55l-2.77 -1.55v-3.1zM974.4 952.7l2.77 1.55v3.1l-2.77 1.55l-2.77 -1.55v-3.1zM977 939.2l2.77 1.55v3.1l-2.77 1.55l-2.77 -1.55v-3.1zM982.3 948.2l2.77 1.55v3.1l-2.77 1.55l-2.77 -1.55v-3.1zM982.3 957.1l2.77 1.55v3.1l-2.77 1.55l-2.77 -1.55v-3.1zM982.3 975l2.77 1.55v3.1l-2.77 1.55l-2.77 -1.55v-3.1zM987.6 948.2l2.77 1.55v3.1l-2.77 1.55l-2.77 -1.55v-3.1zM990.2 970.5l2.77 1.55v3.1l-2.77 1.55l-2.77 -1.55v-3.1zM992.9 948.2l2.77 1.55v3.1l-2.77 1.55l-2.77 -1.55v-3.1zM995.5 970.5l2.77 1.55v3.1l-2.77 1.55l-2.77 -1.55v-3.1zM998.2 975l2.77 1.55v3.1l-2.77 1.55l-2.77 -1.55v-3.1zM1008.8 975l2.77 1.55v3.1l-2.77 1.55l-2.77 -1.55v-3.1zM1019.4 983.9l2.77 1.55v3.1l-2.77 1.55l-2.77 -1.55v-3.1zM1024.6 983.9l2.77 1.55v3.1l-2.77 1.55l-2.77 -1.55v-3.1zM1040.5 992.9l2.77 1.55v3.1l-2.77 1.55l-2.77 -1.55v-3.1zM1053.8 979.5l2.77 1.55v3.1l-2.77 1.55l-2.77 -1.55v-3.1zM1051.1 983.9l2.77 1.55v3.1l-2.77 1.55l-2.77 -1.55v-3.1zM1056.4 930.3l2.77 1.55v3.1l-2.77 1.55l-2.77 -1.55v-3.1zM1059 934.8l2.77 1.55v3.1l-2.77 1.55l-2.77 -1.55v-3.1zM1061.7 930.3l2.77 1.55v3.1l-2.77 1.55l-2.77 -1.55v-3.1zM1061.7 939.2l2.77 1.55v3.1l-2.77 1.55l-2.77 -1.55v-3.1zM1064.3 943.7l2.77 1.55v3.1l-2.77 1.55l-2.77 -1.55v-3.1zM1067 948.2l2.77 1.55v3.1l-2.77 1.55l-2.77 -1.55v-3.1zM1074.9 952.7l2.77 1.55v3.1l-2.77 1.55l-2.77 -1.55v-3.1zM1074.9 961.6l2.77 1.55v3.1l-2.77 1.55l-2.77 -1.55v-3.1z"/><path fill="#3A5F8E" d="M691.2 858.8l2.77 1.55v3.1l-2.77 1.55l-2.77 -1.55v-3.1zM699.1 872.2l2.77 1.55v3.1l-2.77 1.55l-2.77 -1.55v-3.1zM704.4 872.2l2.77 1.55v3.1l-2.77 1.55l-2.77 -1.55v-3.1zM704.4 943.7l2.77 1.55v3.1l-2.77 1.55l-2.77 -1.55v-3.1zM707.1 939.2l2.77 1.55v3.1l-2.77 1.55l-2.77 -1.55v-3.1zM717.6 876.7l2.77 1.55v3.1l-2.77 1.55l-2.77 -1.55v-3.1zM717.6 885.6l2.77 1.55v3.1l-2.77 1.55l-2.77 -1.55v-3.1zM722.9 858.8l2.77 1.55v3.1l-2.77 1.55l-2.77 -1.55v-3.1zM775.9 1019.7l2.77 1.55v3.1l-2.77 1.55l-2.77 -1.55v-3.1zM786.5 1019.7l2.77 1.55v3.1l-2.77 1.55l-2.77 -1.55v-3.1zM789.1 1149.2l2.77 1.55v3.1l-2.77 1.55l-2.77 -1.55v-3.1zM884.4 970.5l2.77 1.55v3.1l-2.77 1.55l-2.77 -1.55v-3.1zM887 983.9l2.77 1.55v3.1l-2.77 1.55l-2.77 -1.55v-3.1zM895 997.3l2.77 1.55v3.1l-2.77 1.55l-2.77 -1.55v-3.1zM910.8 1006.3l2.77 1.55v3.1l-2.77 1.55l-2.77 -1.55v-3.1zM924.1 1010.7l2.77 1.55v3.1l-2.77 1.55l-2.77 -1.55v-3.1zM932 970.5l2.77 1.55v3.1l-2.77 1.55l-2.77 -1.55v-3.1zM934.7 975l2.77 1.55v3.1l-2.77 1.55l-2.77 -1.55v-3.1zM937.3 979.5l2.77 1.55v3.1l-2.77 1.55l-2.77 -1.55v-3.1zM937.3 997.3l2.77 1.55v3.1l-2.77 1.55l-2.77 -1.55v-3.1zM1003.5 948.2l2.77 1.55v3.1l-2.77 1.55l-2.77 -1.55v-3.1zM1008.8 930.3l2.77 1.55v3.1l-2.77 1.55l-2.77 -1.55v-3.1zM1016.7 934.8l2.77 1.55v3.1l-2.77 1.55l-2.77 -1.55v-3.1zM1016.7 943.7l2.77 1.55v3.1l-2.77 1.55l-2.77 -1.55v-3.1zM1016.7 952.7l2.77 1.55v3.1l-2.77 1.55l-2.77 -1.55v-3.1zM1019.4 948.2l2.77 1.55v3.1l-2.77 1.55l-2.77 -1.55v-3.1z"/><path fill="#3B5A8D" d="M693.8 863.3l2.77 1.55v3.1l-2.77 1.55l-2.77 -1.55v-3.1zM693.8 881.2l2.77 1.55v3.1l-2.77 1.55l-2.77 -1.55v-3.1zM699.1 854.4l2.77 1.55v3.1l-2.77 1.55l-2.77 -1.55v-3.1zM699.1 881.2l2.77 1.55v3.1l-2.77 1.55l-2.77 -1.55v-3.1zM707.1 876.7l2.77 1.55v3.1l-2.77 1.55l-2.77 -1.55v-3.1zM715 854.4l2.77 1.55v3.1l-2.77 1.55l-2.77 -1.55v-3.1zM715 872.2l2.77 1.55v3.1l-2.77 1.55l-2.77 -1.55v-3.1zM717.6 823.1l2.77 1.55v3.1l-2.77 1.55l-2.77 -1.55v-3.1zM720.3 854.4l2.77 1.55v3.1l-2.77 1.55l-2.77 -1.55v-3.1zM717.6 894.6l2.77 1.55v3.1l-2.77 1.55l-2.77 -1.55v-3.1zM728.2 885.6l2.77 1.55v3.1l-2.77 1.55l-2.77 -1.55v-3.1zM741.5 863.3l2.77 1.55v3.1l-2.77 1.55l-2.77 -1.55v-3.1zM781.2 1019.7l2.77 1.55v3.1l-2.77 1.55l-2.77 -1.55v-3.1zM905.6 1006.3l2.77 1.55v3.1l-2.77 1.55l-2.77 -1.55v-3.1zM905.6 1015.2l2.77 1.55v3.1l-2.77 1.55l-2.77 -1.55v-3.1zM916.1 952.7l2.77 1.55v3.1l-2.77 1.55l-2.77 -1.55v-3.1zM918.8 957.1l2.77 1.55v3.1l-2.77 1.55l-2.77 -1.55v-3.1zM926.7 1006.3l2.77 1.55v3.1l-2.77 1.55l-2.77 -1.55v-3.1zM1006.1 925.8l2.77 1.55v3.1l-2.77 1.55l-2.77 -1.55v-3.1zM1011.4 925.8l2.77 1.55v3.1l-2.77 1.55l-2.77 -1.55v-3.1zM1016.7 925.8l2.77 1.55v3.1l-2.77 1.55l-2.77 -1.55v-3.1zM1022 934.8l2.77 1.55v3.1l-2.77 1.55l-2.77 -1.55v-3.1zM1027.3 925.8l2.77 1.55v3.1l-2.77 1.55l-2.77 -1.55v-3.1zM1024.6 930.3l2.77 1.55v3.1l-2.77 1.55l-2.77 -1.55v-3.1zM1045.8 912.4l2.77 1.55v3.1l-2.77 1.55l-2.77 -1.55v-3.1z"/><path fill="#404D8A" d="M691.2 867.8l2.77 1.55v3.1l-2.77 1.55l-2.77 -1.55v-3.1zM691.2 876.7l2.77 1.55v3.1l-2.77 1.55l-2.77 -1.55v-3.1zM693.8 934.8l2.77 1.55v3.1l-2.77 1.55l-2.77 -1.55v-3.1zM691.2 939.2l2.77 1.55v3.1l-2.77 1.55l-2.77 -1.55v-3.1zM699.1 943.7l2.77 1.55v3.1l-2.77 1.55l-2.77 -1.55v-3.1zM701.8 849.9l2.77 1.55v3.1l-2.77 1.55l-2.77 -1.55v-3.1zM709.7 916.9l2.77 1.55v3.1l-2.77 1.55l-2.77 -1.55v-3.1zM709.7 934.8l2.77 1.55v3.1l-2.77 1.55l-2.77 -1.55v-3.1zM720.3 827.5l2.77 1.55v3.1l-2.77 1.55l-2.77 -1.55v-3.1zM717.6 912.4l2.77 1.55v3.1l-2.77 1.55l-2.77 -1.55v-3.1zM725.6 854.4l2.77 1.55v3.1l-2.77 1.55l-2.77 -1.55v-3.1zM725.6 881.2l2.77 1.55v3.1l-2.77 1.55l-2.77 -1.55v-3.1zM728.2 858.8l2.77 1.55v3.1l-2.77 1.55l-2.77 -1.55v-3.1zM879.1 970.5l2.77 1.55v3.1l-2.77 1.55l-2.77 -1.55v-3.1zM884.4 997.3l2.77 1.55v3.1l-2.77 1.55l-2.77 -1.55v-3.1zM908.2 948.2l2.77 1.55v3.1l-2.77 1.55l-2.77 -1.55v-3.1zM921.4 952.7l2.77 1.55v3.1l-2.77 1.55l-2.77 -1.55v-3.1zM932 961.6l2.77 1.55v3.1l-2.77 1.55l-2.77 -1.55v-3.1zM940 975l2.77 1.55v3.1l-2.77 1.55l-2.77 -1.55v-3.1zM940 992.9l2.77 1.55v3.1l-2.77 1.55l-2.77 -1.55v-3.1zM945.2 983.9l2.77 1.55v3.1l-2.77 1.55l-2.77 -1.55v-3.1zM1000.8 952.7l2.77 1.55v3.1l-2.77 1.55l-2.77 -1.55v-3.1zM1019.4 921.4l2.77 1.55v3.1l-2.77 1.55l-2.77 -1.55v-3.1zM1019.4 966.1l2.77 1.55v3.1l-2.77 1.55l-2.77 -1.55v-3.1zM1024.6 921.4l2.77 1.55v3.1l-2.77 1.55l-2.77 -1.55v-3.1zM1029.9 921.4l2.77 1.55v3.1l-2.77 1.55l-2.77 -1.55v-3.1zM1032.6 925.8l2.77 1.55v3.1l-2.77 1.55l-2.77 -1.55v-3.1zM1035.2 921.4l2.77 1.55v3.1l-2.77 1.55l-2.77 -1.55v-3.1zM1040.5 912.4l2.77 1.55v3.1l-2.77 1.55l-2.77 -1.55v-3.1zM1061.7 966.1l2.77 1.55v3.1l-2.77 1.55l-2.77 -1.55v-3.1z"/><path fill="#3F518C" d="M693.8 872.2l2.77 1.55v3.1l-2.77 1.55l-2.77 -1.55v-3.1zM693.8 899l2.77 1.55v3.1l-2.77 1.55l-2.77 -1.55v-3.1zM691.2 903.5l2.77 1.55v3.1l-2.77 1.55l-2.77 -1.55v-3.1zM704.4 934.8l2.77 1.55v3.1l-2.77 1.55l-2.77 -1.55v-3.1zM707.1 849.9l2.77 1.55v3.1l-2.77 1.55l-2.77 -1.55v-3.1zM709.7 943.7l2.77 1.55v3.1l-2.77 1.55l-2.77 -1.55v-3.1zM712.4 849.9l2.77 1.55v3.1l-2.77 1.55l-2.77 -1.55v-3.1zM717.6 903.5l2.77 1.55v3.1l-2.77 1.55l-2.77 -1.55v-3.1zM725.6 827.5l2.77 1.55v3.1l-2.77 1.55l-2.77 -1.55v-3.1zM722.9 894.6l2.77 1.55v3.1l-2.77 1.55l-2.77 -1.55v-3.1zM730.9 890.1l2.77 1.55v3.1l-2.77 1.55l-2.77 -1.55v-3.1zM728.2 894.6l2.77 1.55v3.1l-2.77 1.55l-2.77 -1.55v-3.1zM736.2 872.2l2.77 1.55v3.1l-2.77 1.55l-2.77 -1.55v-3.1zM741.5 872.2l2.77 1.55v3.1l-2.77 1.55l-2.77 -1.55v-3.1zM831.4 1068.8l2.77 1.55v3.1l-2.77 1.55l-2.77 -1.55v-3.1zM881.7 966.1l2.77 1.55v3.1l-2.77 1.55l-2.77 -1.55v-3.1zM884.4 979.5l2.77 1.55v3.1l-2.77 1.55l-2.77 -1.55v-3.1zM895 1006.3l2.77 1.55v3.1l-2.77 1.55l-2.77 -1.55v-3.1zM897.6 957.1l2.77 1.55v3.1l-2.77 1.55l-2.77 -1.55v-3.1zM905.6 952.7l2.77 1.55v3.1l-2.77 1.55l-2.77 -1.55v-3.1zM902.9 1010.7l2.77 1.55v3.1l-2.77 1.55l-2.77 -1.55v-3.1zM913.5 948.2l2.77 1.55v3.1l-2.77 1.55l-2.77 -1.55v-3.1zM929.4 957.1l2.77 1.55v3.1l-2.77 1.55l-2.77 -1.55v-3.1zM942.6 979.5l2.77 1.55v3.1l-2.77 1.55l-2.77 -1.55v-3.1zM942.6 988.4l2.77 1.55v3.1l-2.77 1.55l-2.77 -1.55v-3.1zM1022 925.8l2.77 1.55v3.1l-2.77 1.55l-2.77 -1.55v-3.1zM1019.4 939.2l2.77 1.55v3.1l-2.77 1.55l-2.77 -1.55v-3.1zM1022 952.7l2.77 1.55v3.1l-2.77 1.55l-2.77 -1.55v-3.1zM1022 961.6l2.77 1.55v3.1l-2.77 1.55l-2.77 -1.55v-3.1zM1024.6 948.2l2.77 1.55v3.1l-2.77 1.55l-2.77 -1.55v-3.1zM1024.6 957.1l2.77 1.55v3.1l-2.77 1.55l-2.77 -1.55v-3.1zM1037.9 916.9l2.77 1.55v3.1l-2.77 1.55l-2.77 -1.55v-3.1zM1035.2 983.9l2.77 1.55v3.1l-2.77 1.55l-2.77 -1.55v-3.1z"/><path fill="#414987" d="M691.2 885.6l2.77 1.55v3.1l-2.77 1.55l-2.77 -1.55v-3.1zM696.5 849.9l2.77 1.55v3.1l-2.77 1.55l-2.77 -1.55v-3.1zM715 827.5l2.77 1.55v3.1l-2.77 1.55l-2.77 -1.55v-3.1zM712.4 912.4l2.77 1.55v3.1l-2.77 1.55l-2.77 -1.55v-3.1zM712.4 939.2l2.77 1.55v3.1l-2.77 1.55l-2.77 -1.55v-3.1zM717.6 849.9l2.77 1.55v3.1l-2.77 1.55l-2.77 -1.55v-3.1zM722.9 876.7l2.77 1.55v3.1l-2.77 1.55l-2.77 -1.55v-3.1zM728.2 876.7l2.77 1.55v3.1l-2.77 1.55l-2.77 -1.55v-3.1zM730.9 881.2l2.77 1.55v3.1l-2.77 1.55l-2.77 -1.55v-3.1zM733.5 894.6l2.77 1.55v3.1l-2.77 1.55l-2.77 -1.55v-3.1zM738.8 858.8l2.77 1.55v3.1l-2.77 1.55l-2.77 -1.55v-3.1zM746.8 863.3l2.77 1.55v3.1l-2.77 1.55l-2.77 -1.55v-3.1zM783.8 1086.7l2.77 1.55v3.1l-2.77 1.55l-2.77 -1.55v-3.1zM786.5 1153.7l2.77 1.55v3.1l-2.77 1.55l-2.77 -1.55v-3.1zM826.2 1077.8l2.77 1.55v3.1l-2.77 1.55l-2.77 -1.55v-3.1zM881.7 983.9l2.77 1.55v3.1l-2.77 1.55l-2.77 -1.55v-3.1zM889.7 1006.3l2.77 1.55v3.1l-2.77 1.55l-2.77 -1.55v-3.1zM892.3 957.1l2.77 1.55v3.1l-2.77 1.55l-2.77 -1.55v-3.1zM892.3 1001.8l2.77 1.55v3.1l-2.77 1.55l-2.77 -1.55v-3.1zM897.6 787.3l2.77 1.55v3.1l-2.77 1.55l-2.77 -1.55v-3.1zM900.3 952.7l2.77 1.55v3.1l-2.77 1.55l-2.77 -1.55v-3.1zM900.3 1006.3l2.77 1.55v3.1l-2.77 1.55l-2.77 -1.55v-3.1zM921.4 943.7l2.77 1.55v3.1l-2.77 1.55l-2.77 -1.55v-3.1zM924.1 948.2l2.77 1.55v3.1l-2.77 1.55l-2.77 -1.55v-3.1zM924.1 1019.7l2.77 1.55v3.1l-2.77 1.55l-2.77 -1.55v-3.1zM932 952.7l2.77 1.55v3.1l-2.77 1.55l-2.77 -1.55v-3.1zM932 1006.3l2.77 1.55v3.1l-2.77 1.55l-2.77 -1.55v-3.1zM934.7 966.1l2.77 1.55v3.1l-2.77 1.55l-2.77 -1.55v-3.1zM937.3 970.5l2.77 1.55v3.1l-2.77 1.55l-2.77 -1.55v-3.1zM1000.8 943.7l2.77 1.55v3.1l-2.77 1.55l-2.77 -1.55v-3.1zM1006.1 961.6l2.77 1.55v3.1l-2.77 1.55l-2.77 -1.55v-3.1zM1008.8 921.4l2.77 1.55v3.1l-2.77 1.55l-2.77 -1.55v-3.1zM1022 943.7l2.77 1.55v3.1l-2.77 1.55l-2.77 -1.55v-3.1zM1027.3 934.8l2.77 1.55v3.1l-2.77 1.55l-2.77 -1.55v-3.1zM1032.6 916.9l2.77 1.55v3.1l-2.77 1.55l-2.77 -1.55v-3.1zM1029.9 939.2l2.77 1.55v3.1l-2.77 1.55l-2.77 -1.55v-3.1zM1029.9 983.9l2.77 1.55v3.1l-2.77 1.55l-2.77 -1.55v-3.1zM1035.2 912.4l2.77 1.55v3.1l-2.77 1.55l-2.77 -1.55v-3.1zM1043.2 916.9l2.77 1.55v3.1l-2.77 1.55l-2.77 -1.55v-3.1zM1040.5 948.2l2.77 1.55v3.1l-2.77 1.55l-2.77 -1.55v-3.1zM1040.5 957.1l2.77 1.55v3.1l-2.77 1.55l-2.77 -1.55v-3.1z"/><path fill="#36688F" d="M693.8 890.1l2.77 1.55v3.1l-2.77 1.55l-2.77 -1.55v-3.1zM696.5 885.6l2.77 1.55v3.1l-2.77 1.55l-2.77 -1.55v-3.1zM699.1 908l2.77 1.55v3.1l-2.77 1.55l-2.77 -1.55v-3.1zM704.4 908l2.77 1.55v3.1l-2.77 1.55l-2.77 -1.55v-3.1zM701.8 939.2l2.77 1.55v3.1l-2.77 1.55l-2.77 -1.55v-3.1zM709.7 899l2.77 1.55v3.1l-2.77 1.55l-2.77 -1.55v-3.1zM707.1 903.5l2.77 1.55v3.1l-2.77 1.55l-2.77 -1.55v-3.1zM722.9 823.1l2.77 1.55v3.1l-2.77 1.55l-2.77 -1.55v-3.1zM722.9 885.6l2.77 1.55v3.1l-2.77 1.55l-2.77 -1.55v-3.1zM730.9 863.3l2.77 1.55v3.1l-2.77 1.55l-2.77 -1.55v-3.1zM889.7 970.5l2.77 1.55v3.1l-2.77 1.55l-2.77 -1.55v-3.1zM889.7 979.5l2.77 1.55v3.1l-2.77 1.55l-2.77 -1.55v-3.1zM889.7 988.4l2.77 1.55v3.1l-2.77 1.55l-2.77 -1.55v-3.1zM895 961.6l2.77 1.55v3.1l-2.77 1.55l-2.77 -1.55v-3.1zM897.6 966.1l2.77 1.55v3.1l-2.77 1.55l-2.77 -1.55v-3.1zM910.8 952.7l2.77 1.55v3.1l-2.77 1.55l-2.77 -1.55v-3.1zM908.2 1001.8l2.77 1.55v3.1l-2.77 1.55l-2.77 -1.55v-3.1zM916.1 1006.3l2.77 1.55v3.1l-2.77 1.55l-2.77 -1.55v-3.1zM1006.1 952.7l2.77 1.55v3.1l-2.77 1.55l-2.77 -1.55v-3.1zM1003.5 957.1l2.77 1.55v3.1l-2.77 1.55l-2.77 -1.55v-3.1zM1011.4 952.7l2.77 1.55v3.1l-2.77 1.55l-2.77 -1.55v-3.1zM1019.4 930.3l2.77 1.55v3.1l-2.77 1.55l-2.77 -1.55v-3.1zM1019.4 957.1l2.77 1.55v3.1l-2.77 1.55l-2.77 -1.55v-3.1z"/><path fill="#31728F" d="M696.5 858.8l2.77 1.55v3.1l-2.77 1.55l-2.77 -1.55v-3.1zM699.1 863.3l2.77 1.55v3.1l-2.77 1.55l-2.77 -1.55v-3.1zM701.8 903.5l2.77 1.55v3.1l-2.77 1.55l-2.77 -1.55v-3.1zM707.1 858.8l2.77 1.55v3.1l-2.77 1.55l-2.77 -1.55v-3.1zM709.7 863.3l2.77 1.55v3.1l-2.77 1.55l-2.77 -1.55v-3.1zM707.1 885.6l2.77 1.55v3.1l-2.77 1.55l-2.77 -1.55v-3.1zM712.4 885.6l2.77 1.55v3.1l-2.77 1.55l-2.77 -1.55v-3.1zM715 890.1l2.77 1.55v3.1l-2.77 1.55l-2.77 -1.55v-3.1zM712.4 894.6l2.77 1.55v3.1l-2.77 1.55l-2.77 -1.55v-3.1zM717.6 867.8l2.77 1.55v3.1l-2.77 1.55l-2.77 -1.55v-3.1zM722.9 867.8l2.77 1.55v3.1l-2.77 1.55l-2.77 -1.55v-3.1zM728.2 867.8l2.77 1.55v3.1l-2.77 1.55l-2.77 -1.55v-3.1zM895 979.5l2.77 1.55v3.1l-2.77 1.55l-2.77 -1.55v-3.1zM892.3 992.9l2.77 1.55v3.1l-2.77 1.55l-2.77 -1.55v-3.1zM902.9 966.1l2.77 1.55v3.1l-2.77 1.55l-2.77 -1.55v-3.1zM908.2 957.1l2.77 1.55v3.1l-2.77 1.55l-2.77 -1.55v-3.1zM908.2 1019.7l2.77 1.55v3.1l-2.77 1.55l-2.77 -1.55v-3.1zM913.5 966.1l2.77 1.55v3.1l-2.77 1.55l-2.77 -1.55v-3.1zM913.5 1010.7l2.77 1.55v3.1l-2.77 1.55l-2.77 -1.55v-3.1zM932 979.5l2.77 1.55v3.1l-2.77 1.55l-2.77 -1.55v-3.1zM934.7 992.9l2.77 1.55v3.1l-2.77 1.55l-2.77 -1.55v-3.1zM1006.1 934.8l2.77 1.55v3.1l-2.77 1.55l-2.77 -1.55v-3.1zM1008.8 939.2l2.77 1.55v3.1l-2.77 1.55l-2.77 -1.55v-3.1zM1014.1 930.3l2.77 1.55v3.1l-2.77 1.55l-2.77 -1.55v-3.1zM1014.1 948.2l2.77 1.55v3.1l-2.77 1.55l-2.77 -1.55v-3.1z"/><path fill="#2A808E" d="M699.1 890.1l2.77 1.55v3.1l-2.77 1.55l-2.77 -1.55v-3.1zM696.5 894.6l2.77 1.55v3.1l-2.77 1.55l-2.77 -1.55v-3.1zM704.4 890.1l2.77 1.55v3.1l-2.77 1.55l-2.77 -1.55v-3.1zM715 863.3l2.77 1.55v3.1l-2.77 1.55l-2.77 -1.55v-3.1zM897.6 975l2.77 1.55v3.1l-2.77 1.55l-2.77 -1.55v-3.1zM908.2 966.1l2.77 1.55v3.1l-2.77 1.55l-2.77 -1.55v-3.1zM916.1 961.6l2.77 1.55v3.1l-2.77 1.55l-2.77 -1.55v-3.1zM921.4 970.5l2.77 1.55v3.1l-2.77 1.55l-2.77 -1.55v-3.1zM929.4 975l2.77 1.55v3.1l-2.77 1.55l-2.77 -1.55v-3.1zM929.4 1001.8l2.77 1.55v3.1l-2.77 1.55l-2.77 -1.55v-3.1zM934.7 983.9l2.77 1.55v3.1l-2.77 1.55l-2.77 -1.55v-3.1zM1008.8 957.1l2.77 1.55v3.1l-2.77 1.55l-2.77 -1.55v-3.1z"/><path fill="#2F768E" d="M699.1 899l2.77 1.55v3.1l-2.77 1.55l-2.77 -1.55v-3.1zM701.8 894.6l2.77 1.55v3.1l-2.77 1.55l-2.77 -1.55v-3.1zM704.4 899l2.77 1.55v3.1l-2.77 1.55l-2.77 -1.55v-3.1zM707.1 867.8l2.77 1.55v3.1l-2.77 1.55l-2.77 -1.55v-3.1zM707.1 894.6l2.77 1.55v3.1l-2.77 1.55l-2.77 -1.55v-3.1zM720.3 863.3l2.77 1.55v3.1l-2.77 1.55l-2.77 -1.55v-3.1zM733.5 867.8l2.77 1.55v3.1l-2.77 1.55l-2.77 -1.55v-3.1zM897.6 992.9l2.77 1.55v3.1l-2.77 1.55l-2.77 -1.55v-3.1zM902.9 992.9l2.77 1.55v3.1l-2.77 1.55l-2.77 -1.55v-3.1zM905.6 997.3l2.77 1.55v3.1l-2.77 1.55l-2.77 -1.55v-3.1zM910.8 961.6l2.77 1.55v3.1l-2.77 1.55l-2.77 -1.55v-3.1zM913.5 1001.8l2.77 1.55v3.1l-2.77 1.55l-2.77 -1.55v-3.1zM921.4 1006.3l2.77 1.55v3.1l-2.77 1.55l-2.77 -1.55v-3.1zM1006.1 943.7l2.77 1.55v3.1l-2.77 1.55l-2.77 -1.55v-3.1zM1014.1 957.1l2.77 1.55v3.1l-2.77 1.55l-2.77 -1.55v-3.1z"/><path fill="#38638E" d="M696.5 903.5l2.77 1.55v3.1l-2.77 1.55l-2.77 -1.55v-3.1zM701.8 876.7l2.77 1.55v3.1l-2.77 1.55l-2.77 -1.55v-3.1zM704.4 881.2l2.77 1.55v3.1l-2.77 1.55l-2.77 -1.55v-3.1zM709.7 854.4l2.77 1.55v3.1l-2.77 1.55l-2.77 -1.55v-3.1zM709.7 872.2l2.77 1.55v3.1l-2.77 1.55l-2.77 -1.55v-3.1zM709.7 881.2l2.77 1.55v3.1l-2.77 1.55l-2.77 -1.55v-3.1zM712.4 867.8l2.77 1.55v3.1l-2.77 1.55l-2.77 -1.55v-3.1zM715 881.2l2.77 1.55v3.1l-2.77 1.55l-2.77 -1.55v-3.1zM715 899l2.77 1.55v3.1l-2.77 1.55l-2.77 -1.55v-3.1zM720.3 872.2l2.77 1.55v3.1l-2.77 1.55l-2.77 -1.55v-3.1zM720.3 890.1l2.77 1.55v3.1l-2.77 1.55l-2.77 -1.55v-3.1zM728.2 823.1l2.77 1.55v3.1l-2.77 1.55l-2.77 -1.55v-3.1zM736.2 863.3l2.77 1.55v3.1l-2.77 1.55l-2.77 -1.55v-3.1zM738.8 867.8l2.77 1.55v3.1l-2.77 1.55l-2.77 -1.55v-3.1zM881.7 975l2.77 1.55v3.1l-2.77 1.55l-2.77 -1.55v-3.1zM887 992.9l2.77 1.55v3.1l-2.77 1.55l-2.77 -1.55v-3.1zM897.6 1001.8l2.77 1.55v3.1l-2.77 1.55l-2.77 -1.55v-3.1zM902.9 957.1l2.77 1.55v3.1l-2.77 1.55l-2.77 -1.55v-3.1zM908.2 1010.7l2.77 1.55v3.1l-2.77 1.55l-2.77 -1.55v-3.1zM913.5 957.1l2.77 1.55v3.1l-2.77 1.55l-2.77 -1.55v-3.1zM929.4 966.1l2.77 1.55v3.1l-2.77 1.55l-2.77 -1.55v-3.1zM937.3 988.4l2.77 1.55v3.1l-2.77 1.55l-2.77 -1.55v-3.1zM1003.5 939.2l2.77 1.55v3.1l-2.77 1.55l-2.77 -1.55v-3.1zM1014.1 939.2l2.77 1.55v3.1l-2.77 1.55l-2.77 -1.55v-3.1z"/><path fill="#346D8F" d="M696.5 939.2l2.77 1.55v3.1l-2.77 1.55l-2.77 -1.55v-3.1zM701.8 867.8l2.77 1.55v3.1l-2.77 1.55l-2.77 -1.55v-3.1zM701.8 885.6l2.77 1.55v3.1l-2.77 1.55l-2.77 -1.55v-3.1zM717.6 858.8l2.77 1.55v3.1l-2.77 1.55l-2.77 -1.55v-3.1zM887 966.1l2.77 1.55v3.1l-2.77 1.55l-2.77 -1.55v-3.1zM887 975l2.77 1.55v3.1l-2.77 1.55l-2.77 -1.55v-3.1zM892.3 966.1l2.77 1.55v3.1l-2.77 1.55l-2.77 -1.55v-3.1zM892.3 975l2.77 1.55v3.1l-2.77 1.55l-2.77 -1.55v-3.1zM892.3 983.9l2.77 1.55v3.1l-2.77 1.55l-2.77 -1.55v-3.1zM900.3 997.3l2.77 1.55v3.1l-2.77 1.55l-2.77 -1.55v-3.1zM902.9 1001.8l2.77 1.55v3.1l-2.77 1.55l-2.77 -1.55v-3.1zM921.4 961.6l2.77 1.55v3.1l-2.77 1.55l-2.77 -1.55v-3.1zM918.8 1010.7l2.77 1.55v3.1l-2.77 1.55l-2.77 -1.55v-3.1zM924.1 957.1l2.77 1.55v3.1l-2.77 1.55l-2.77 -1.55v-3.1zM1011.4 934.8l2.77 1.55v3.1l-2.77 1.55l-2.77 -1.55v-3.1z"/><path fill="#433A7C" d="M701.8 841l2.77 1.55v3.1l-2.77 1.55l-2.77 -1.55v-3.1zM704.4 952.7l2.77 1.55v3.1l-2.77 1.55l-2.77 -1.55v-3.1zM707.1 921.4l2.77 1.55v3.1l-2.77 1.55l-2.77 -1.55v-3.1zM709.7 925.8l2.77 1.55v3.1l-2.77 1.55l-2.77 -1.55v-3.1zM707.1 930.3l2.77 1.55v3.1l-2.77 1.55l-2.77 -1.55v-3.1zM712.4 841l2.77 1.55v3.1l-2.77 1.55l-2.77 -1.55v-3.1zM715 845.4l2.77 1.55v3.1l-2.77 1.55l-2.77 -1.55v-3.1zM715 925.8l2.77 1.55v3.1l-2.77 1.55l-2.77 -1.55v-3.1zM720.3 845.4l2.77 1.55v3.1l-2.77 1.55l-2.77 -1.55v-3.1zM720.3 934.8l2.77 1.55v3.1l-2.77 1.55l-2.77 -1.55v-3.1zM722.9 912.4l2.77 1.55v3.1l-2.77 1.55l-2.77 -1.55v-3.1zM730.9 827.5l2.77 1.55v3.1l-2.77 1.55l-2.77 -1.55v-3.1zM730.9 854.4l2.77 1.55v3.1l-2.77 1.55l-2.77 -1.55v-3.1zM736.2 899l2.77 1.55v3.1l-2.77 1.55l-2.77 -1.55v-3.1zM738.8 894.6l2.77 1.55v3.1l-2.77 1.55l-2.77 -1.55v-3.1zM744.1 858.8l2.77 1.55v3.1l-2.77 1.55l-2.77 -1.55v-3.1zM744.1 876.7l2.77 1.55v3.1l-2.77 1.55l-2.77 -1.55v-3.1zM744.1 885.6l2.77 1.55v3.1l-2.77 1.55l-2.77 -1.55v-3.1zM746.8 890.1l2.77 1.55v3.1l-2.77 1.55l-2.77 -1.55v-3.1zM752.1 872.2l2.77 1.55v3.1l-2.77 1.55l-2.77 -1.55v-3.1zM786.5 1082.2l2.77 1.55v3.1l-2.77 1.55l-2.77 -1.55v-3.1zM820.9 1086.7l2.77 1.55v3.1l-2.77 1.55l-2.77 -1.55v-3.1zM876.4 983.9l2.77 1.55v3.1l-2.77 1.55l-2.77 -1.55v-3.1zM879.1 988.4l2.77 1.55v3.1l-2.77 1.55l-2.77 -1.55v-3.1zM884.4 1006.3l2.77 1.55v3.1l-2.77 1.55l-2.77 -1.55v-3.1zM910.8 943.7l2.77 1.55v3.1l-2.77 1.55l-2.77 -1.55v-3.1zM913.5 939.2l2.77 1.55v3.1l-2.77 1.55l-2.77 -1.55v-3.1zM926.7 934.8l2.77 1.55v3.1l-2.77 1.55l-2.77 -1.55v-3.1zM934.7 948.2l2.77 1.55v3.1l-2.77 1.55l-2.77 -1.55v-3.1zM934.7 957.1l2.77 1.55v3.1l-2.77 1.55l-2.77 -1.55v-3.1zM937.3 1006.3l2.77 1.55v3.1l-2.77 1.55l-2.77 -1.55v-3.1zM942.6 997.3l2.77 1.55v3.1l-2.77 1.55l-2.77 -1.55v-3.1zM950.5 992.9l2.77 1.55v3.1l-2.77 1.55l-2.77 -1.55v-3.1zM1000.8 961.6l2.77 1.55v3.1l-2.77 1.55l-2.77 -1.55v-3.1zM1003.5 930.3l2.77 1.55v3.1l-2.77 1.55l-2.77 -1.55v-3.1zM1003.5 966.1l2.77 1.55v3.1l-2.77 1.55l-2.77 -1.55v-3.1zM1011.4 916.9l2.77 1.55v3.1l-2.77 1.55l-2.77 -1.55v-3.1zM1016.7 916.9l2.77 1.55v3.1l-2.77 1.55l-2.77 -1.55v-3.1zM1024.6 966.1l2.77 1.55v3.1l-2.77 1.55l-2.77 -1.55v-3.1zM1040.5 930.3l2.77 1.55v3.1l-2.77 1.55l-2.77 -1.55v-3.1zM1043.2 934.8l2.77 1.55v3.1l-2.77 1.55l-2.77 -1.55v-3.1zM1048.5 916.9l2.77 1.55v3.1l-2.77 1.55l-2.77 -1.55v-3.1zM1045.8 930.3l2.77 1.55v3.1l-2.77 1.55l-2.77 -1.55v-3.1zM1048.5 961.6l2.77 1.55v3.1l-2.77 1.55l-2.77 -1.55v-3.1zM1045.8 966.1l2.77 1.55v3.1l-2.77 1.55l-2.77 -1.55v-3.1zM1053.8 952.7l2.77 1.55v3.1l-2.77 1.55l-2.77 -1.55v-3.1zM1053.8 961.6l2.77 1.55v3.1l-2.77 1.55l-2.77 -1.55v-3.1zM1059 952.7l2.77 1.55v3.1l-2.77 1.55l-2.77 -1.55v-3.1zM1056.4 975l2.77 1.55v3.1l-2.77 1.55l-2.77 -1.55v-3.1zM1064.3 970.5l2.77 1.55v3.1l-2.77 1.55l-2.77 -1.55v-3.1zM1067 966.1l2.77 1.55v3.1l-2.77 1.55l-2.77 -1.55v-3.1z"/><path fill="#2C7B8E" d="M701.8 858.8l2.77 1.55v3.1l-2.77 1.55l-2.77 -1.55v-3.1zM709.7 890.1l2.77 1.55v3.1l-2.77 1.55l-2.77 -1.55v-3.1zM712.4 858.8l2.77 1.55v3.1l-2.77 1.55l-2.77 -1.55v-3.1zM725.6 863.3l2.77 1.55v3.1l-2.77 1.55l-2.77 -1.55v-3.1zM895 970.5l2.77 1.55v3.1l-2.77 1.55l-2.77 -1.55v-3.1zM895 988.4l2.77 1.55v3.1l-2.77 1.55l-2.77 -1.55v-3.1zM900.3 970.5l2.77 1.55v3.1l-2.77 1.55l-2.77 -1.55v-3.1zM897.6 983.9l2.77 1.55v3.1l-2.77 1.55l-2.77 -1.55v-3.1zM905.6 961.6l2.77 1.55v3.1l-2.77 1.55l-2.77 -1.55v-3.1zM918.8 1019.7l2.77 1.55v3.1l-2.77 1.55l-2.77 -1.55v-3.1zM924.1 966.1l2.77 1.55v3.1l-2.77 1.55l-2.77 -1.55v-3.1zM1011.4 943.7l2.77 1.55v3.1l-2.77 1.55l-2.77 -1.55v-3.1zM1008.8 948.2l2.77 1.55v3.1l-2.77 1.55l-2.77 -1.55v-3.1zM1032.6 988.4l2.77 1.55v3.1l-2.77 1.55l-2.77 -1.55v-3.1z"/><path fill="#28858D" d="M704.4 863.3l2.77 1.55v3.1l-2.77 1.55l-2.77 -1.55v-3.1zM900.3 988.4l2.77 1.55v3.1l-2.77 1.55l-2.77 -1.55v-3.1zM902.9 983.9l2.77 1.55v3.1l-2.77 1.55l-2.77 -1.55v-3.1zM921.4 1015.2l2.77 1.55v3.1l-2.77 1.55l-2.77 -1.55v-3.1zM926.7 970.5l2.77 1.55v3.1l-2.77 1.55l-2.77 -1.55v-3.1zM932 997.3l2.77 1.55v3.1l-2.77 1.55l-2.77 -1.55v-3.1z"/><path fill="#3D1558" d="M744.1 1037.5l2.77 1.55v3.1l-2.77 1.55l-2.77 -1.55v-3.1zM757.3 1042l2.77 1.55v3.1l-2.77 1.55l-2.77 -1.55v-3.1zM767.9 1068.8l2.77 1.55v3.1l-2.77 1.55l-2.77 -1.55v-3.1zM767.9 1140.3l2.77 1.55v3.1l-2.77 1.55l-2.77 -1.55v-3.1zM778.5 890.1l2.77 1.55v3.1l-2.77 1.55l-2.77 -1.55v-3.1zM783.8 836.5l2.77 1.55v3.1l-2.77 1.55l-2.77 -1.55v-3.1zM799.7 943.7l2.77 1.55v3.1l-2.77 1.55l-2.77 -1.55v-3.1zM805 952.7l2.77 1.55v3.1l-2.77 1.55l-2.77 -1.55v-3.1zM802.3 1100.1l2.77 1.55v3.1l-2.77 1.55l-2.77 -1.55v-3.1zM810.3 1068.8l2.77 1.55v3.1l-2.77 1.55l-2.77 -1.55v-3.1zM818.2 1055.4l2.77 1.55v3.1l-2.77 1.55l-2.77 -1.55v-3.1zM818.2 1064.4l2.77 1.55v3.1l-2.77 1.55l-2.77 -1.55v-3.1zM826.2 1042l2.77 1.55v3.1l-2.77 1.55l-2.77 -1.55v-3.1z"/><path fill="#1F9A89" d="M828.8 1073.3l2.77 1.55v3.1l-2.77 1.55l-2.77 -1.55v-3.1zM910.8 997.3l2.77 1.55v3.1l-2.77 1.55l-2.77 -1.55v-3.1zM924.1 975l2.77 1.55v3.1l-2.77 1.55l-2.77 -1.55v-3.1z"/><path fill="#268A8C" d="M900.3 979.5l2.77 1.55v3.1l-2.77 1.55l-2.77 -1.55v-3.1zM910.8 970.5l2.77 1.55v3.1l-2.77 1.55l-2.77 -1.55v-3.1zM908.2 975l2.77 1.55v3.1l-2.77 1.55l-2.77 -1.55v-3.1zM908.2 983.9l2.77 1.55v3.1l-2.77 1.55l-2.77 -1.55v-3.1zM916.1 997.3l2.77 1.55v3.1l-2.77 1.55l-2.77 -1.55v-3.1z"/><path fill="#21958A" d="M905.6 970.5l2.77 1.55v3.1l-2.77 1.55l-2.77 -1.55v-3.1zM910.8 988.4l2.77 1.55v3.1l-2.77 1.55l-2.77 -1.55v-3.1zM918.8 966.1l2.77 1.55v3.1l-2.77 1.55l-2.77 -1.55v-3.1zM918.8 975l2.77 1.55v3.1l-2.77 1.55l-2.77 -1.55v-3.1zM918.8 1001.8l2.77 1.55v3.1l-2.77 1.55l-2.77 -1.55v-3.1zM926.7 997.3l2.77 1.55v3.1l-2.77 1.55l-2.77 -1.55v-3.1z"/><path fill="#23908B" d="M902.9 975l2.77 1.55v3.1l-2.77 1.55l-2.77 -1.55v-3.1zM908.2 992.9l2.77 1.55v3.1l-2.77 1.55l-2.77 -1.55v-3.1zM924.1 1001.8l2.77 1.55v3.1l-2.77 1.55l-2.77 -1.55v-3.1zM929.4 983.9l2.77 1.55v3.1l-2.77 1.55l-2.77 -1.55v-3.1zM932 988.4l2.77 1.55v3.1l-2.77 1.55l-2.77 -1.55v-3.1zM929.4 992.9l2.77 1.55v3.1l-2.77 1.55l-2.77 -1.55v-3.1z"/><path fill="#229E86" d="M905.6 979.5l2.77 1.55v3.1l-2.77 1.55l-2.77 -1.55v-3.1zM905.6 988.4l2.77 1.55v3.1l-2.77 1.55l-2.77 -1.55v-3.1zM916.1 970.5l2.77 1.55v3.1l-2.77 1.55l-2.77 -1.55v-3.1zM913.5 1019.7l2.77 1.55v3.1l-2.77 1.55l-2.77 -1.55v-3.1z"/><path fill="#2CAC7E" d="M910.8 979.5l2.77 1.55v3.1l-2.77 1.55l-2.77 -1.55v-3.1zM913.5 992.9l2.77 1.55v3.1l-2.77 1.55l-2.77 -1.55v-3.1zM921.4 979.5l2.77 1.55v3.1l-2.77 1.55l-2.77 -1.55v-3.1zM918.8 983.9l2.77 1.55v3.1l-2.77 1.55l-2.77 -1.55v-3.1z"/><path fill="#29A781" d="M910.8 1015.2l2.77 1.55v3.1l-2.77 1.55l-2.77 -1.55v-3.1zM926.7 979.5l2.77 1.55v3.1l-2.77 1.55l-2.77 -1.55v-3.1z"/><path fill="#2FB07B" d="M913.5 975l2.77 1.55v3.1l-2.77 1.55l-2.77 -1.55v-3.1z"/><path fill="#25A383" d="M916.1 979.5l2.77 1.55v3.1l-2.77 1.55l-2.77 -1.55v-3.1z"/><path fill="#39B377" d="M913.5 983.9l2.77 1.55v3.1l-2.77 1.55l-2.77 -1.55v-3.1zM921.4 997.3l2.77 1.55v3.1l-2.77 1.55l-2.77 -1.55v-3.1zM926.7 988.4l2.77 1.55v3.1l-2.77 1.55l-2.77 -1.55v-3.1zM924.1 992.9l2.77 1.55v3.1l-2.77 1.55l-2.77 -1.55v-3.1z"/><path fill="#62BF68" d="M916.1 988.4l2.77 1.55v3.1l-2.77 1.55l-2.77 -1.55v-3.1z"/><path fill="#4EB970" d="M916.1 1015.2l2.77 1.55v3.1l-2.77 1.55l-2.77 -1.55v-3.1z"/><path fill="#58BC6C" d="M921.4 988.4l2.77 1.55v3.1l-2.77 1.55l-2.77 -1.55v-3.1zM924.1 983.9l2.77 1.55v3.1l-2.77 1.55l-2.77 -1.55v-3.1z"/><path fill="#8EC85A" d="M918.8 992.9l2.77 1.55v3.1l-2.77 1.55l-2.77 -1.55v-3.1z"/></g>
</g>
<rect x="658.3" y="757.7" width="439.1" height="422.9" fill="none" stroke="#333" stroke-width="1.5"/>
<rect x="658.3" y="726" width="439.1" height="31.7" fill="#D1D5D5" stroke="#333" stroke-width="1.5"/>
<text x="860.5" y="749.6" class="b" font-size="23.4" fill="#1A1A1A" text-anchor="middle">Benign Omentum</text>
<text x="695.9" y="1205.3" font-size="19.6" fill="#4D4D4D" text-anchor="middle">&#8722;10</text>
<text x="844.9" y="1205.3" font-size="19.6" fill="#4D4D4D" text-anchor="middle">0</text>
<text x="994.9" y="1205.3" font-size="19.6" fill="#4D4D4D" text-anchor="middle">10</text>
<text x="648.8" y="805.2" font-size="19.4" fill="#4D4D4D" text-anchor="end">10</text>
<text x="648.8" y="880.2" font-size="19.4" fill="#4D4D4D" text-anchor="end">5</text>
<text x="648.8" y="955.2" font-size="19.4" fill="#4D4D4D" text-anchor="end">0</text>
<text x="648.8" y="1030.2" font-size="19.4" fill="#4D4D4D" text-anchor="end">&#8722;5</text>
<text x="648.8" y="1105.2" font-size="19.4" fill="#4D4D4D" text-anchor="end">&#8722;10</text>
<text x="648.8" y="1180.2" font-size="19.4" fill="#4D4D4D" text-anchor="end">&#8722;15</text>
<path d="M694.9 1180.6v5M844.9 1180.6v5M994.9 1180.6v5M658.3 799.2h-5M658.3 874.2h-5M658.3 949.2h-5M658.3 1024.2h-5M658.3 1099.2h-5M658.3 1174.2h-5" stroke="#333" stroke-width="1.7" fill="none"/>
<clipPath id="cp1"><rect x="1103.6" y="757.7" width="439.1" height="422.9"/></clipPath>
<g clip-path="url(#cp1)">
<path d="M1214.9 757.7V1180.6M1364.9 757.7V1180.6M1514.9 757.7V1180.6M1103.6 761.7H1542.7M1103.6 836.7H1542.7M1103.6 911.7H1542.7M1103.6 986.7H1542.7M1103.6 1061.7H1542.7M1103.6 1136.7H1542.7" stroke="#EBEBEB" stroke-width="1.2" fill="none"/>
<path d="M1139.9 757.7V1180.6M1289.9 757.7V1180.6M1439.9 757.7V1180.6M1103.6 799.2H1542.7M1103.6 874.2H1542.7M1103.6 949.2H1542.7M1103.6 1024.2H1542.7M1103.6 1099.2H1542.7M1103.6 1174.2H1542.7" stroke="#E5E5E5" stroke-width="2.3" fill="none"/>
<g><path fill="#432467" d="M1123 863.3l2.77 1.55v3.1l-2.77 1.55l-2.77 -1.55v-3.1zM1128.2 872.2l2.77 1.55v3.1l-2.77 1.55l-2.77 -1.55v-3.1zM1130.9 876.7l2.77 1.55v3.1l-2.77 1.55l-2.77 -1.55v-3.1zM1130.9 885.6l2.77 1.55v3.1l-2.77 1.55l-2.77 -1.55v-3.1zM1136.2 948.2l2.77 1.55v3.1l-2.77 1.55l-2.77 -1.55v-3.1zM1138.8 952.7l2.77 1.55v3.1l-2.77 1.55l-2.77 -1.55v-3.1zM1141.5 849.9l2.77 1.55v3.1l-2.77 1.55l-2.77 -1.55v-3.1zM1149.4 827.5l2.77 1.55v3.1l-2.77 1.55l-2.77 -1.55v-3.1zM1162.6 948.2l2.77 1.55v3.1l-2.77 1.55l-2.77 -1.55v-3.1zM1165.3 952.7l2.77 1.55v3.1l-2.77 1.55l-2.77 -1.55v-3.1zM1181.2 827.5l2.77 1.55v3.1l-2.77 1.55l-2.77 -1.55v-3.1zM1178.5 832l2.77 1.55v3.1l-2.77 1.55l-2.77 -1.55v-3.1zM1186.5 836.5l2.77 1.55v3.1l-2.77 1.55l-2.77 -1.55v-3.1zM1183.8 858.8l2.77 1.55v3.1l-2.77 1.55l-2.77 -1.55v-3.1zM1186.5 997.3l2.77 1.55v3.1l-2.77 1.55l-2.77 -1.55v-3.1zM1194.4 885.6l2.77 1.55v3.1l-2.77 1.55l-2.77 -1.55v-3.1zM1197.1 1042l2.77 1.55v3.1l-2.77 1.55l-2.77 -1.55v-3.1zM1205 867.8l2.77 1.55v3.1l-2.77 1.55l-2.77 -1.55v-3.1zM1207.6 872.2l2.77 1.55v3.1l-2.77 1.55l-2.77 -1.55v-3.1zM1207.6 881.2l2.77 1.55v3.1l-2.77 1.55l-2.77 -1.55v-3.1zM1205 885.6l2.77 1.55v3.1l-2.77 1.55l-2.77 -1.55v-3.1zM1212.9 872.2l2.77 1.55v3.1l-2.77 1.55l-2.77 -1.55v-3.1zM1210.3 876.7l2.77 1.55v3.1l-2.77 1.55l-2.77 -1.55v-3.1zM1215.6 1073.3l2.77 1.55v3.1l-2.77 1.55l-2.77 -1.55v-3.1zM1220.9 1144.8l2.77 1.55v3.1l-2.77 1.55l-2.77 -1.55v-3.1zM1228.8 1140.3l2.77 1.55v3.1l-2.77 1.55l-2.77 -1.55v-3.1zM1231.5 1144.8l2.77 1.55v3.1l-2.77 1.55l-2.77 -1.55v-3.1zM1231.5 1153.7l2.77 1.55v3.1l-2.77 1.55l-2.77 -1.55v-3.1zM1250 1095.6l2.77 1.55v3.1l-2.77 1.55l-2.77 -1.55v-3.1zM1252.6 1082.2l2.77 1.55v3.1l-2.77 1.55l-2.77 -1.55v-3.1zM1271.2 1077.8l2.77 1.55v3.1l-2.77 1.55l-2.77 -1.55v-3.1zM1273.8 1055.4l2.77 1.55v3.1l-2.77 1.55l-2.77 -1.55v-3.1zM1273.8 1064.4l2.77 1.55v3.1l-2.77 1.55l-2.77 -1.55v-3.1zM1276.4 1077.8l2.77 1.55v3.1l-2.77 1.55l-2.77 -1.55v-3.1zM1313.5 899l2.77 1.55v3.1l-2.77 1.55l-2.77 -1.55v-3.1zM1329.4 961.6l2.77 1.55v3.1l-2.77 1.55l-2.77 -1.55v-3.1zM1326.7 966.1l2.77 1.55v3.1l-2.77 1.55l-2.77 -1.55v-3.1zM1326.7 975l2.77 1.55v3.1l-2.77 1.55l-2.77 -1.55v-3.1zM1350.6 934.8l2.77 1.55v3.1l-2.77 1.55l-2.77 -1.55v-3.1zM1347.9 939.2l2.77 1.55v3.1l-2.77 1.55l-2.77 -1.55v-3.1zM1353.2 930.3l2.77 1.55v3.1l-2.77 1.55l-2.77 -1.55v-3.1zM1374.4 823.1l2.77 1.55v3.1l-2.77 1.55l-2.77 -1.55v-3.1zM1390.2 983.9l2.77 1.55v3.1l-2.77 1.55l-2.77 -1.55v-3.1zM1392.9 988.4l2.77 1.55v3.1l-2.77 1.55l-2.77 -1.55v-3.1zM1445.8 970.5l2.77 1.55v3.1l-2.77 1.55l-2.77 -1.55v-3.1zM1456.4 979.5l2.77 1.55v3.1l-2.77 1.55l-2.77 -1.55v-3.1zM1459.1 912.4l2.77 1.55v3.1l-2.77 1.55l-2.77 -1.55v-3.1zM1469.6 912.4l2.77 1.55v3.1l-2.77 1.55l-2.77 -1.55v-3.1zM1474.9 930.3l2.77 1.55v3.1l-2.77 1.55l-2.77 -1.55v-3.1zM1480.2 921.4l2.77 1.55v3.1l-2.77 1.55l-2.77 -1.55v-3.1zM1482.9 925.8l2.77 1.55v3.1l-2.77 1.55l-2.77 -1.55v-3.1zM1480.2 939.2l2.77 1.55v3.1l-2.77 1.55l-2.77 -1.55v-3.1zM1485.5 921.4l2.77 1.55v3.1l-2.77 1.55l-2.77 -1.55v-3.1zM1488.2 943.7l2.77 1.55v3.1l-2.77 1.55l-2.77 -1.55v-3.1zM1488.2 952.7l2.77 1.55v3.1l-2.77 1.55l-2.77 -1.55v-3.1zM1493.5 943.7l2.77 1.55v3.1l-2.77 1.55l-2.77 -1.55v-3.1zM1490.8 948.2l2.77 1.55v3.1l-2.77 1.55l-2.77 -1.55v-3.1zM1493.5 952.7l2.77 1.55v3.1l-2.77 1.55l-2.77 -1.55v-3.1zM1496.1 957.1l2.77 1.55v3.1l-2.77 1.55l-2.77 -1.55v-3.1zM1501.4 957.1l2.77 1.55v3.1l-2.77 1.55l-2.77 -1.55v-3.1zM1504 961.6l2.77 1.55v3.1l-2.77 1.55l-2.77 -1.55v-3.1zM1512 966.1l2.77 1.55v3.1l-2.77 1.55l-2.77 -1.55v-3.1z"/><path fill="#411E61" d="M1128.2 854.4l2.77 1.55v3.1l-2.77 1.55l-2.77 -1.55v-3.1zM1130.9 849.9l2.77 1.55v3.1l-2.77 1.55l-2.77 -1.55v-3.1zM1130.9 903.5l2.77 1.55v3.1l-2.77 1.55l-2.77 -1.55v-3.1zM1133.5 943.7l2.77 1.55v3.1l-2.77 1.55l-2.77 -1.55v-3.1zM1133.5 952.7l2.77 1.55v3.1l-2.77 1.55l-2.77 -1.55v-3.1zM1136.2 849.9l2.77 1.55v3.1l-2.77 1.55l-2.77 -1.55v-3.1zM1136.2 939.2l2.77 1.55v3.1l-2.77 1.55l-2.77 -1.55v-3.1zM1138.8 961.6l2.77 1.55v3.1l-2.77 1.55l-2.77 -1.55v-3.1zM1144.1 961.6l2.77 1.55v3.1l-2.77 1.55l-2.77 -1.55v-3.1zM1152.1 823.1l2.77 1.55v3.1l-2.77 1.55l-2.77 -1.55v-3.1zM1162.6 823.1l2.77 1.55v3.1l-2.77 1.55l-2.77 -1.55v-3.1zM1162.6 957.1l2.77 1.55v3.1l-2.77 1.55l-2.77 -1.55v-3.1zM1167.9 841l2.77 1.55v3.1l-2.77 1.55l-2.77 -1.55v-3.1zM1175.9 943.7l2.77 1.55v3.1l-2.77 1.55l-2.77 -1.55v-3.1zM1178.5 841l2.77 1.55v3.1l-2.77 1.55l-2.77 -1.55v-3.1zM1181.2 854.4l2.77 1.55v3.1l-2.77 1.55l-2.77 -1.55v-3.1zM1181.2 943.7l2.77 1.55v3.1l-2.77 1.55l-2.77 -1.55v-3.1zM1183.8 849.9l2.77 1.55v3.1l-2.77 1.55l-2.77 -1.55v-3.1zM1186.5 908l2.77 1.55v3.1l-2.77 1.55l-2.77 -1.55v-3.1zM1183.8 912.4l2.77 1.55v3.1l-2.77 1.55l-2.77 -1.55v-3.1zM1183.8 939.2l2.77 1.55v3.1l-2.77 1.55l-2.77 -1.55v-3.1zM1189.1 858.8l2.77 1.55v3.1l-2.77 1.55l-2.77 -1.55v-3.1zM1191.8 899l2.77 1.55v3.1l-2.77 1.55l-2.77 -1.55v-3.1zM1191.8 925.8l2.77 1.55v3.1l-2.77 1.55l-2.77 -1.55v-3.1zM1189.1 930.3l2.77 1.55v3.1l-2.77 1.55l-2.77 -1.55v-3.1zM1189.1 939.2l2.77 1.55v3.1l-2.77 1.55l-2.77 -1.55v-3.1zM1197.1 899l2.77 1.55v3.1l-2.77 1.55l-2.77 -1.55v-3.1zM1202.3 863.3l2.77 1.55v3.1l-2.77 1.55l-2.77 -1.55v-3.1zM1202.3 1024.1l2.77 1.55v3.1l-2.77 1.55l-2.77 -1.55v-3.1zM1202.3 1033.1l2.77 1.55v3.1l-2.77 1.55l-2.77 -1.55v-3.1zM1207.6 1024.1l2.77 1.55v3.1l-2.77 1.55l-2.77 -1.55v-3.1zM1205 1028.6l2.77 1.55v3.1l-2.77 1.55l-2.77 -1.55v-3.1zM1205 1037.5l2.77 1.55v3.1l-2.77 1.55l-2.77 -1.55v-3.1zM1207.6 1077.8l2.77 1.55v3.1l-2.77 1.55l-2.77 -1.55v-3.1zM1215.6 876.7l2.77 1.55v3.1l-2.77 1.55l-2.77 -1.55v-3.1zM1215.6 885.6l2.77 1.55v3.1l-2.77 1.55l-2.77 -1.55v-3.1zM1218.2 1015.2l2.77 1.55v3.1l-2.77 1.55l-2.77 -1.55v-3.1zM1218.2 1140.3l2.77 1.55v3.1l-2.77 1.55l-2.77 -1.55v-3.1zM1220.9 885.6l2.77 1.55v3.1l-2.77 1.55l-2.77 -1.55v-3.1zM1220.9 1019.7l2.77 1.55v3.1l-2.77 1.55l-2.77 -1.55v-3.1zM1223.5 1024.1l2.77 1.55v3.1l-2.77 1.55l-2.77 -1.55v-3.1zM1226.2 841l2.77 1.55v3.1l-2.77 1.55l-2.77 -1.55v-3.1zM1226.2 1135.8l2.77 1.55v3.1l-2.77 1.55l-2.77 -1.55v-3.1zM1239.4 1077.8l2.77 1.55v3.1l-2.77 1.55l-2.77 -1.55v-3.1zM1239.4 1149.2l2.77 1.55v3.1l-2.77 1.55l-2.77 -1.55v-3.1zM1244.7 1095.6l2.77 1.55v3.1l-2.77 1.55l-2.77 -1.55v-3.1zM1250 1077.8l2.77 1.55v3.1l-2.77 1.55l-2.77 -1.55v-3.1zM1252.6 1091.2l2.77 1.55v3.1l-2.77 1.55l-2.77 -1.55v-3.1zM1257.9 1082.2l2.77 1.55v3.1l-2.77 1.55l-2.77 -1.55v-3.1zM1265.9 1077.8l2.77 1.55v3.1l-2.77 1.55l-2.77 -1.55v-3.1zM1263.2 1082.2l2.77 1.55v3.1l-2.77 1.55l-2.77 -1.55v-3.1zM1265.9 1086.7l2.77 1.55v3.1l-2.77 1.55l-2.77 -1.55v-3.1zM1271.2 1059.9l2.77 1.55v3.1l-2.77 1.55l-2.77 -1.55v-3.1zM1271.2 1068.8l2.77 1.55v3.1l-2.77 1.55l-2.77 -1.55v-3.1zM1281.7 1059.9l2.77 1.55v3.1l-2.77 1.55l-2.77 -1.55v-3.1zM1284.4 1064.4l2.77 1.55v3.1l-2.77 1.55l-2.77 -1.55v-3.1zM1284.4 1091.2l2.77 1.55v3.1l-2.77 1.55l-2.77 -1.55v-3.1zM1310.9 894.6l2.77 1.55v3.1l-2.77 1.55l-2.77 -1.55v-3.1zM1313.5 970.5l2.77 1.55v3.1l-2.77 1.55l-2.77 -1.55v-3.1zM1316.1 966.1l2.77 1.55v3.1l-2.77 1.55l-2.77 -1.55v-3.1zM1318.8 970.5l2.77 1.55v3.1l-2.77 1.55l-2.77 -1.55v-3.1zM1316.1 1001.8l2.77 1.55v3.1l-2.77 1.55l-2.77 -1.55v-3.1zM1321.4 966.1l2.77 1.55v3.1l-2.77 1.55l-2.77 -1.55v-3.1zM1324.1 988.4l2.77 1.55v3.1l-2.77 1.55l-2.77 -1.55v-3.1zM1321.4 992.9l2.77 1.55v3.1l-2.77 1.55l-2.77 -1.55v-3.1zM1329.4 925.8l2.77 1.55v3.1l-2.77 1.55l-2.77 -1.55v-3.1zM1340 800.7l2.77 1.55v3.1l-2.77 1.55l-2.77 -1.55v-3.1zM1353.2 1019.7l2.77 1.55v3.1l-2.77 1.55l-2.77 -1.55v-3.1zM1361.1 925.8l2.77 1.55v3.1l-2.77 1.55l-2.77 -1.55v-3.1zM1358.5 1019.7l2.77 1.55v3.1l-2.77 1.55l-2.77 -1.55v-3.1zM1369.1 921.4l2.77 1.55v3.1l-2.77 1.55l-2.77 -1.55v-3.1zM1371.7 934.8l2.77 1.55v3.1l-2.77 1.55l-2.77 -1.55v-3.1zM1371.7 1015.2l2.77 1.55v3.1l-2.77 1.55l-2.77 -1.55v-3.1zM1374.4 930.3l2.77 1.55v3.1l-2.77 1.55l-2.77 -1.55v-3.1zM1377 943.7l2.77 1.55v3.1l-2.77 1.55l-2.77 -1.55v-3.1zM1374.4 1010.7l2.77 1.55v3.1l-2.77 1.55l-2.77 -1.55v-3.1zM1382.3 943.7l2.77 1.55v3.1l-2.77 1.55l-2.77 -1.55v-3.1zM1382.3 952.7l2.77 1.55v3.1l-2.77 1.55l-2.77 -1.55v-3.1zM1382.3 1006.3l2.77 1.55v3.1l-2.77 1.55l-2.77 -1.55v-3.1zM1385 957.1l2.77 1.55v3.1l-2.77 1.55l-2.77 -1.55v-3.1zM1387.6 970.5l2.77 1.55v3.1l-2.77 1.55l-2.77 -1.55v-3.1zM1387.6 997.3l2.77 1.55v3.1l-2.77 1.55l-2.77 -1.55v-3.1zM1395.5 992.9l2.77 1.55v3.1l-2.77 1.55l-2.77 -1.55v-3.1zM1419.4 970.5l2.77 1.55v3.1l-2.77 1.55l-2.77 -1.55v-3.1zM1435.2 961.6l2.77 1.55v3.1l-2.77 1.55l-2.77 -1.55v-3.1zM1440.5 970.5l2.77 1.55v3.1l-2.77 1.55l-2.77 -1.55v-3.1zM1445.8 925.8l2.77 1.55v3.1l-2.77 1.55l-2.77 -1.55v-3.1zM1445.8 934.8l2.77 1.55v3.1l-2.77 1.55l-2.77 -1.55v-3.1zM1448.5 948.2l2.77 1.55v3.1l-2.77 1.55l-2.77 -1.55v-3.1zM1461.7 908l2.77 1.55v3.1l-2.77 1.55l-2.77 -1.55v-3.1zM1467 979.5l2.77 1.55v3.1l-2.77 1.55l-2.77 -1.55v-3.1zM1474.9 983.9l2.77 1.55v3.1l-2.77 1.55l-2.77 -1.55v-3.1zM1490.8 912.4l2.77 1.55v3.1l-2.77 1.55l-2.77 -1.55v-3.1zM1490.8 930.3l2.77 1.55v3.1l-2.77 1.55l-2.77 -1.55v-3.1zM1496.1 939.2l2.77 1.55v3.1l-2.77 1.55l-2.77 -1.55v-3.1zM1498.8 943.7l2.77 1.55v3.1l-2.77 1.55l-2.77 -1.55v-3.1zM1504 943.7l2.77 1.55v3.1l-2.77 1.55l-2.77 -1.55v-3.1zM1501.4 948.2l2.77 1.55v3.1l-2.77 1.55l-2.77 -1.55v-3.1zM1504 952.7l2.77 1.55v3.1l-2.77 1.55l-2.77 -1.55v-3.1zM1506.7 957.1l2.77 1.55v3.1l-2.77 1.55l-2.77 -1.55v-3.1zM1506.7 975l2.77 1.55v3.1l-2.77 1.55l-2.77 -1.55v-3.1z"/><path fill="#422164" d="M1125.6 858.8l2.77 1.55v3.1l-2.77 1.55l-2.77 -1.55v-3.1zM1125.6 867.8l2.77 1.55v3.1l-2.77 1.55l-2.77 -1.55v-3.1zM1130.9 894.6l2.77 1.55v3.1l-2.77 1.55l-2.77 -1.55v-3.1zM1133.5 899l2.77 1.55v3.1l-2.77 1.55l-2.77 -1.55v-3.1zM1133.5 908l2.77 1.55v3.1l-2.77 1.55l-2.77 -1.55v-3.1zM1138.8 908l2.77 1.55v3.1l-2.77 1.55l-2.77 -1.55v-3.1zM1138.8 916.9l2.77 1.55v3.1l-2.77 1.55l-2.77 -1.55v-3.1zM1138.8 925.8l2.77 1.55v3.1l-2.77 1.55l-2.77 -1.55v-3.1zM1138.8 934.8l2.77 1.55v3.1l-2.77 1.55l-2.77 -1.55v-3.1zM1141.5 912.4l2.77 1.55v3.1l-2.77 1.55l-2.77 -1.55v-3.1zM1141.5 921.4l2.77 1.55v3.1l-2.77 1.55l-2.77 -1.55v-3.1zM1141.5 930.3l2.77 1.55v3.1l-2.77 1.55l-2.77 -1.55v-3.1zM1152.1 957.1l2.77 1.55v3.1l-2.77 1.55l-2.77 -1.55v-3.1zM1170.6 836.5l2.77 1.55v3.1l-2.77 1.55l-2.77 -1.55v-3.1zM1170.6 845.4l2.77 1.55v3.1l-2.77 1.55l-2.77 -1.55v-3.1zM1181.2 845.4l2.77 1.55v3.1l-2.77 1.55l-2.77 -1.55v-3.1zM1183.8 832l2.77 1.55v3.1l-2.77 1.55l-2.77 -1.55v-3.1zM1183.8 841l2.77 1.55v3.1l-2.77 1.55l-2.77 -1.55v-3.1zM1183.8 930.3l2.77 1.55v3.1l-2.77 1.55l-2.77 -1.55v-3.1zM1194.4 858.8l2.77 1.55v3.1l-2.77 1.55l-2.77 -1.55v-3.1zM1199.7 885.6l2.77 1.55v3.1l-2.77 1.55l-2.77 -1.55v-3.1zM1199.7 1028.6l2.77 1.55v3.1l-2.77 1.55l-2.77 -1.55v-3.1zM1202.3 1042l2.77 1.55v3.1l-2.77 1.55l-2.77 -1.55v-3.1zM1210.3 867.8l2.77 1.55v3.1l-2.77 1.55l-2.77 -1.55v-3.1zM1212.9 881.2l2.77 1.55v3.1l-2.77 1.55l-2.77 -1.55v-3.1zM1210.3 885.6l2.77 1.55v3.1l-2.77 1.55l-2.77 -1.55v-3.1zM1218.2 881.2l2.77 1.55v3.1l-2.77 1.55l-2.77 -1.55v-3.1zM1215.6 1019.7l2.77 1.55v3.1l-2.77 1.55l-2.77 -1.55v-3.1zM1218.2 1024.1l2.77 1.55v3.1l-2.77 1.55l-2.77 -1.55v-3.1zM1218.2 1068.8l2.77 1.55v3.1l-2.77 1.55l-2.77 -1.55v-3.1zM1223.5 845.4l2.77 1.55v3.1l-2.77 1.55l-2.77 -1.55v-3.1zM1223.5 1015.2l2.77 1.55v3.1l-2.77 1.55l-2.77 -1.55v-3.1zM1220.9 1073.3l2.77 1.55v3.1l-2.77 1.55l-2.77 -1.55v-3.1zM1223.5 1077.8l2.77 1.55v3.1l-2.77 1.55l-2.77 -1.55v-3.1zM1223.5 1149.2l2.77 1.55v3.1l-2.77 1.55l-2.77 -1.55v-3.1zM1226.2 885.6l2.77 1.55v3.1l-2.77 1.55l-2.77 -1.55v-3.1zM1226.2 1010.7l2.77 1.55v3.1l-2.77 1.55l-2.77 -1.55v-3.1zM1231.5 1082.2l2.77 1.55v3.1l-2.77 1.55l-2.77 -1.55v-3.1zM1236.8 1082.2l2.77 1.55v3.1l-2.77 1.55l-2.77 -1.55v-3.1zM1236.8 1144.8l2.77 1.55v3.1l-2.77 1.55l-2.77 -1.55v-3.1zM1244.7 1077.8l2.77 1.55v3.1l-2.77 1.55l-2.77 -1.55v-3.1zM1242 1082.2l2.77 1.55v3.1l-2.77 1.55l-2.77 -1.55v-3.1zM1255.3 1068.8l2.77 1.55v3.1l-2.77 1.55l-2.77 -1.55v-3.1zM1252.6 1073.3l2.77 1.55v3.1l-2.77 1.55l-2.77 -1.55v-3.1zM1255.3 1077.8l2.77 1.55v3.1l-2.77 1.55l-2.77 -1.55v-3.1zM1255.3 1086.7l2.77 1.55v3.1l-2.77 1.55l-2.77 -1.55v-3.1zM1273.8 1091.2l2.77 1.55v3.1l-2.77 1.55l-2.77 -1.55v-3.1zM1281.7 1068.8l2.77 1.55v3.1l-2.77 1.55l-2.77 -1.55v-3.1zM1281.7 1077.8l2.77 1.55v3.1l-2.77 1.55l-2.77 -1.55v-3.1zM1318.8 899l2.77 1.55v3.1l-2.77 1.55l-2.77 -1.55v-3.1zM1316.1 903.5l2.77 1.55v3.1l-2.77 1.55l-2.77 -1.55v-3.1zM1324.1 970.5l2.77 1.55v3.1l-2.77 1.55l-2.77 -1.55v-3.1zM1321.4 983.9l2.77 1.55v3.1l-2.77 1.55l-2.77 -1.55v-3.1zM1321.4 1010.7l2.77 1.55v3.1l-2.77 1.55l-2.77 -1.55v-3.1zM1329.4 979.5l2.77 1.55v3.1l-2.77 1.55l-2.77 -1.55v-3.1zM1326.7 983.9l2.77 1.55v3.1l-2.77 1.55l-2.77 -1.55v-3.1zM1350.6 773.9l2.77 1.55v3.1l-2.77 1.55l-2.77 -1.55v-3.1zM1358.5 930.3l2.77 1.55v3.1l-2.77 1.55l-2.77 -1.55v-3.1zM1374.4 939.2l2.77 1.55v3.1l-2.77 1.55l-2.77 -1.55v-3.1zM1374.4 948.2l2.77 1.55v3.1l-2.77 1.55l-2.77 -1.55v-3.1zM1377 952.7l2.77 1.55v3.1l-2.77 1.55l-2.77 -1.55v-3.1zM1382.3 961.6l2.77 1.55v3.1l-2.77 1.55l-2.77 -1.55v-3.1zM1385 966.1l2.77 1.55v3.1l-2.77 1.55l-2.77 -1.55v-3.1zM1385 1001.8l2.77 1.55v3.1l-2.77 1.55l-2.77 -1.55v-3.1zM1390.2 975l2.77 1.55v3.1l-2.77 1.55l-2.77 -1.55v-3.1zM1429.9 961.6l2.77 1.55v3.1l-2.77 1.55l-2.77 -1.55v-3.1zM1437.9 957.1l2.77 1.55v3.1l-2.77 1.55l-2.77 -1.55v-3.1zM1437.9 966.1l2.77 1.55v3.1l-2.77 1.55l-2.77 -1.55v-3.1zM1443.2 957.1l2.77 1.55v3.1l-2.77 1.55l-2.77 -1.55v-3.1zM1448.5 921.4l2.77 1.55v3.1l-2.77 1.55l-2.77 -1.55v-3.1zM1448.5 930.3l2.77 1.55v3.1l-2.77 1.55l-2.77 -1.55v-3.1zM1448.5 939.2l2.77 1.55v3.1l-2.77 1.55l-2.77 -1.55v-3.1zM1461.7 979.5l2.77 1.55v3.1l-2.77 1.55l-2.77 -1.55v-3.1zM1482.9 934.8l2.77 1.55v3.1l-2.77 1.55l-2.77 -1.55v-3.1zM1488.2 934.8l2.77 1.55v3.1l-2.77 1.55l-2.77 -1.55v-3.1zM1490.8 921.4l2.77 1.55v3.1l-2.77 1.55l-2.77 -1.55v-3.1zM1493.5 934.8l2.77 1.55v3.1l-2.77 1.55l-2.77 -1.55v-3.1zM1496.1 948.2l2.77 1.55v3.1l-2.77 1.55l-2.77 -1.55v-3.1zM1498.8 952.7l2.77 1.55v3.1l-2.77 1.55l-2.77 -1.55v-3.1zM1509.3 961.6l2.77 1.55v3.1l-2.77 1.55l-2.77 -1.55v-3.1zM1506.7 966.1l2.77 1.55v3.1l-2.77 1.55l-2.77 -1.55v-3.1zM1514.6 961.6l2.77 1.55v3.1l-2.77 1.55l-2.77 -1.55v-3.1z"/><path fill="#424282" d="M1128.2 863.3l2.77 1.55v3.1l-2.77 1.55l-2.77 -1.55v-3.1zM1133.5 872.2l2.77 1.55v3.1l-2.77 1.55l-2.77 -1.55v-3.1zM1136.2 876.7l2.77 1.55v3.1l-2.77 1.55l-2.77 -1.55v-3.1zM1136.2 885.6l2.77 1.55v3.1l-2.77 1.55l-2.77 -1.55v-3.1zM1141.5 858.8l2.77 1.55v3.1l-2.77 1.55l-2.77 -1.55v-3.1zM1149.4 854.4l2.77 1.55v3.1l-2.77 1.55l-2.77 -1.55v-3.1zM1154.7 836.5l2.77 1.55v3.1l-2.77 1.55l-2.77 -1.55v-3.1zM1154.7 854.4l2.77 1.55v3.1l-2.77 1.55l-2.77 -1.55v-3.1zM1154.7 925.8l2.77 1.55v3.1l-2.77 1.55l-2.77 -1.55v-3.1zM1152.1 948.2l2.77 1.55v3.1l-2.77 1.55l-2.77 -1.55v-3.1zM1160 916.9l2.77 1.55v3.1l-2.77 1.55l-2.77 -1.55v-3.1zM1157.4 921.4l2.77 1.55v3.1l-2.77 1.55l-2.77 -1.55v-3.1zM1165.3 934.8l2.77 1.55v3.1l-2.77 1.55l-2.77 -1.55v-3.1zM1170.6 854.4l2.77 1.55v3.1l-2.77 1.55l-2.77 -1.55v-3.1zM1170.6 908l2.77 1.55v3.1l-2.77 1.55l-2.77 -1.55v-3.1zM1167.9 912.4l2.77 1.55v3.1l-2.77 1.55l-2.77 -1.55v-3.1zM1178.5 858.8l2.77 1.55v3.1l-2.77 1.55l-2.77 -1.55v-3.1zM1181.2 890.1l2.77 1.55v3.1l-2.77 1.55l-2.77 -1.55v-3.1zM1247.3 1091.2l2.77 1.55v3.1l-2.77 1.55l-2.77 -1.55v-3.1zM1332 975l2.77 1.55v3.1l-2.77 1.55l-2.77 -1.55v-3.1zM1334.7 1006.3l2.77 1.55v3.1l-2.77 1.55l-2.77 -1.55v-3.1zM1337.3 966.1l2.77 1.55v3.1l-2.77 1.55l-2.77 -1.55v-3.1zM1337.3 1001.8l2.77 1.55v3.1l-2.77 1.55l-2.77 -1.55v-3.1zM1350.6 943.7l2.77 1.55v3.1l-2.77 1.55l-2.77 -1.55v-3.1zM1347.9 948.2l2.77 1.55v3.1l-2.77 1.55l-2.77 -1.55v-3.1zM1361.1 1006.3l2.77 1.55v3.1l-2.77 1.55l-2.77 -1.55v-3.1zM1371.7 997.3l2.77 1.55v3.1l-2.77 1.55l-2.77 -1.55v-3.1zM1379.7 975l2.77 1.55v3.1l-2.77 1.55l-2.77 -1.55v-3.1zM1379.7 983.9l2.77 1.55v3.1l-2.77 1.55l-2.77 -1.55v-3.1zM1453.8 939.2l2.77 1.55v3.1l-2.77 1.55l-2.77 -1.55v-3.1zM1453.8 948.2l2.77 1.55v3.1l-2.77 1.55l-2.77 -1.55v-3.1zM1456.4 970.5l2.77 1.55v3.1l-2.77 1.55l-2.77 -1.55v-3.1zM1474.9 975l2.77 1.55v3.1l-2.77 1.55l-2.77 -1.55v-3.1zM1480.2 975l2.77 1.55v3.1l-2.77 1.55l-2.77 -1.55v-3.1z"/><path fill="#3E185B" d="M1128.2 1050.9l2.77 1.55v3.1l-2.77 1.55l-2.77 -1.55v-3.1zM1133.5 1042l2.77 1.55v3.1l-2.77 1.55l-2.77 -1.55v-3.1zM1130.9 1046.5l2.77 1.55v3.1l-2.77 1.55l-2.77 -1.55v-3.1zM1133.5 1050.9l2.77 1.55v3.1l-2.77 1.55l-2.77 -1.55v-3.1zM1130.9 1055.4l2.77 1.55v3.1l-2.77 1.55l-2.77 -1.55v-3.1zM1138.8 1033.1l2.77 1.55v3.1l-2.77 1.55l-2.77 -1.55v-3.1zM1136.2 1037.5l2.77 1.55v3.1l-2.77 1.55l-2.77 -1.55v-3.1zM1138.8 1042l2.77 1.55v3.1l-2.77 1.55l-2.77 -1.55v-3.1zM1136.2 1046.5l2.77 1.55v3.1l-2.77 1.55l-2.77 -1.55v-3.1zM1141.5 1037.5l2.77 1.55v3.1l-2.77 1.55l-2.77 -1.55v-3.1zM1146.8 823.1l2.77 1.55v3.1l-2.77 1.55l-2.77 -1.55v-3.1zM1167.9 957.1l2.77 1.55v3.1l-2.77 1.55l-2.77 -1.55v-3.1zM1170.6 1006.3l2.77 1.55v3.1l-2.77 1.55l-2.77 -1.55v-3.1zM1173.2 823.1l2.77 1.55v3.1l-2.77 1.55l-2.77 -1.55v-3.1zM1173.2 1001.8l2.77 1.55v3.1l-2.77 1.55l-2.77 -1.55v-3.1zM1181.2 997.3l2.77 1.55v3.1l-2.77 1.55l-2.77 -1.55v-3.1zM1178.5 1001.8l2.77 1.55v3.1l-2.77 1.55l-2.77 -1.55v-3.1zM1183.8 823.1l2.77 1.55v3.1l-2.77 1.55l-2.77 -1.55v-3.1zM1186.5 988.4l2.77 1.55v3.1l-2.77 1.55l-2.77 -1.55v-3.1zM1189.1 832l2.77 1.55v3.1l-2.77 1.55l-2.77 -1.55v-3.1zM1189.1 841l2.77 1.55v3.1l-2.77 1.55l-2.77 -1.55v-3.1zM1189.1 992.9l2.77 1.55v3.1l-2.77 1.55l-2.77 -1.55v-3.1zM1191.8 997.3l2.77 1.55v3.1l-2.77 1.55l-2.77 -1.55v-3.1zM1194.4 849.9l2.77 1.55v3.1l-2.77 1.55l-2.77 -1.55v-3.1zM1194.4 1028.6l2.77 1.55v3.1l-2.77 1.55l-2.77 -1.55v-3.1zM1194.4 1046.5l2.77 1.55v3.1l-2.77 1.55l-2.77 -1.55v-3.1zM1202.3 836.5l2.77 1.55v3.1l-2.77 1.55l-2.77 -1.55v-3.1zM1199.7 841l2.77 1.55v3.1l-2.77 1.55l-2.77 -1.55v-3.1zM1202.3 916.9l2.77 1.55v3.1l-2.77 1.55l-2.77 -1.55v-3.1zM1199.7 1019.7l2.77 1.55v3.1l-2.77 1.55l-2.77 -1.55v-3.1zM1199.7 1046.5l2.77 1.55v3.1l-2.77 1.55l-2.77 -1.55v-3.1zM1207.6 845.4l2.77 1.55v3.1l-2.77 1.55l-2.77 -1.55v-3.1zM1205 849.9l2.77 1.55v3.1l-2.77 1.55l-2.77 -1.55v-3.1zM1205 894.6l2.77 1.55v3.1l-2.77 1.55l-2.77 -1.55v-3.1zM1205 1019.7l2.77 1.55v3.1l-2.77 1.55l-2.77 -1.55v-3.1zM1207.6 1033.1l2.77 1.55v3.1l-2.77 1.55l-2.77 -1.55v-3.1zM1207.6 1042l2.77 1.55v3.1l-2.77 1.55l-2.77 -1.55v-3.1zM1205 1046.5l2.77 1.55v3.1l-2.77 1.55l-2.77 -1.55v-3.1zM1210.3 849.9l2.77 1.55v3.1l-2.77 1.55l-2.77 -1.55v-3.1zM1212.9 890.1l2.77 1.55v3.1l-2.77 1.55l-2.77 -1.55v-3.1zM1210.3 903.5l2.77 1.55v3.1l-2.77 1.55l-2.77 -1.55v-3.1zM1210.3 1019.7l2.77 1.55v3.1l-2.77 1.55l-2.77 -1.55v-3.1zM1210.3 1037.5l2.77 1.55v3.1l-2.77 1.55l-2.77 -1.55v-3.1zM1210.3 1055.4l2.77 1.55v3.1l-2.77 1.55l-2.77 -1.55v-3.1zM1212.9 1059.9l2.77 1.55v3.1l-2.77 1.55l-2.77 -1.55v-3.1zM1210.3 1082.2l2.77 1.55v3.1l-2.77 1.55l-2.77 -1.55v-3.1zM1212.9 1131.4l2.77 1.55v3.1l-2.77 1.55l-2.77 -1.55v-3.1zM1212.9 1140.3l2.77 1.55v3.1l-2.77 1.55l-2.77 -1.55v-3.1zM1218.2 836.5l2.77 1.55v3.1l-2.77 1.55l-2.77 -1.55v-3.1zM1215.6 849.9l2.77 1.55v3.1l-2.77 1.55l-2.77 -1.55v-3.1zM1215.6 858.8l2.77 1.55v3.1l-2.77 1.55l-2.77 -1.55v-3.1zM1218.2 872.2l2.77 1.55v3.1l-2.77 1.55l-2.77 -1.55v-3.1zM1218.2 890.1l2.77 1.55v3.1l-2.77 1.55l-2.77 -1.55v-3.1zM1215.6 1010.7l2.77 1.55v3.1l-2.77 1.55l-2.77 -1.55v-3.1zM1215.6 1028.6l2.77 1.55v3.1l-2.77 1.55l-2.77 -1.55v-3.1zM1215.6 1037.5l2.77 1.55v3.1l-2.77 1.55l-2.77 -1.55v-3.1zM1218.2 1059.9l2.77 1.55v3.1l-2.77 1.55l-2.77 -1.55v-3.1zM1215.6 1064.4l2.77 1.55v3.1l-2.77 1.55l-2.77 -1.55v-3.1zM1218.2 1131.4l2.77 1.55v3.1l-2.77 1.55l-2.77 -1.55v-3.1zM1215.6 1135.8l2.77 1.55v3.1l-2.77 1.55l-2.77 -1.55v-3.1zM1218.2 1149.2l2.77 1.55v3.1l-2.77 1.55l-2.77 -1.55v-3.1zM1223.5 836.5l2.77 1.55v3.1l-2.77 1.55l-2.77 -1.55v-3.1zM1220.9 841l2.77 1.55v3.1l-2.77 1.55l-2.77 -1.55v-3.1zM1220.9 849.9l2.77 1.55v3.1l-2.77 1.55l-2.77 -1.55v-3.1zM1223.5 854.4l2.77 1.55v3.1l-2.77 1.55l-2.77 -1.55v-3.1zM1220.9 876.7l2.77 1.55v3.1l-2.77 1.55l-2.77 -1.55v-3.1zM1223.5 881.2l2.77 1.55v3.1l-2.77 1.55l-2.77 -1.55v-3.1zM1223.5 890.1l2.77 1.55v3.1l-2.77 1.55l-2.77 -1.55v-3.1zM1223.5 916.9l2.77 1.55v3.1l-2.77 1.55l-2.77 -1.55v-3.1zM1220.9 921.4l2.77 1.55v3.1l-2.77 1.55l-2.77 -1.55v-3.1zM1220.9 1028.6l2.77 1.55v3.1l-2.77 1.55l-2.77 -1.55v-3.1zM1223.5 1033.1l2.77 1.55v3.1l-2.77 1.55l-2.77 -1.55v-3.1zM1220.9 1064.4l2.77 1.55v3.1l-2.77 1.55l-2.77 -1.55v-3.1zM1223.5 1068.8l2.77 1.55v3.1l-2.77 1.55l-2.77 -1.55v-3.1zM1220.9 1082.2l2.77 1.55v3.1l-2.77 1.55l-2.77 -1.55v-3.1zM1220.9 1135.8l2.77 1.55v3.1l-2.77 1.55l-2.77 -1.55v-3.1zM1220.9 1153.7l2.77 1.55v3.1l-2.77 1.55l-2.77 -1.55v-3.1zM1228.8 836.5l2.77 1.55v3.1l-2.77 1.55l-2.77 -1.55v-3.1zM1228.8 845.4l2.77 1.55v3.1l-2.77 1.55l-2.77 -1.55v-3.1zM1226.2 858.8l2.77 1.55v3.1l-2.77 1.55l-2.77 -1.55v-3.1zM1228.8 881.2l2.77 1.55v3.1l-2.77 1.55l-2.77 -1.55v-3.1zM1228.8 890.1l2.77 1.55v3.1l-2.77 1.55l-2.77 -1.55v-3.1zM1228.8 1006.3l2.77 1.55v3.1l-2.77 1.55l-2.77 -1.55v-3.1zM1228.8 1015.2l2.77 1.55v3.1l-2.77 1.55l-2.77 -1.55v-3.1zM1226.2 1019.7l2.77 1.55v3.1l-2.77 1.55l-2.77 -1.55v-3.1zM1228.8 1033.1l2.77 1.55v3.1l-2.77 1.55l-2.77 -1.55v-3.1zM1226.2 1073.3l2.77 1.55v3.1l-2.77 1.55l-2.77 -1.55v-3.1zM1228.8 1077.8l2.77 1.55v3.1l-2.77 1.55l-2.77 -1.55v-3.1zM1226.2 1082.2l2.77 1.55v3.1l-2.77 1.55l-2.77 -1.55v-3.1zM1228.8 1086.7l2.77 1.55v3.1l-2.77 1.55l-2.77 -1.55v-3.1zM1226.2 1091.2l2.77 1.55v3.1l-2.77 1.55l-2.77 -1.55v-3.1zM1226.2 1153.7l2.77 1.55v3.1l-2.77 1.55l-2.77 -1.55v-3.1zM1234.1 836.5l2.77 1.55v3.1l-2.77 1.55l-2.77 -1.55v-3.1zM1231.5 841l2.77 1.55v3.1l-2.77 1.55l-2.77 -1.55v-3.1zM1234.1 845.4l2.77 1.55v3.1l-2.77 1.55l-2.77 -1.55v-3.1zM1231.5 867.8l2.77 1.55v3.1l-2.77 1.55l-2.77 -1.55v-3.1zM1234.1 872.2l2.77 1.55v3.1l-2.77 1.55l-2.77 -1.55v-3.1zM1231.5 885.6l2.77 1.55v3.1l-2.77 1.55l-2.77 -1.55v-3.1zM1231.5 930.3l2.77 1.55v3.1l-2.77 1.55l-2.77 -1.55v-3.1zM1234.1 934.8l2.77 1.55v3.1l-2.77 1.55l-2.77 -1.55v-3.1zM1231.5 939.2l2.77 1.55v3.1l-2.77 1.55l-2.77 -1.55v-3.1zM1231.5 1010.7l2.77 1.55v3.1l-2.77 1.55l-2.77 -1.55v-3.1zM1234.1 1068.8l2.77 1.55v3.1l-2.77 1.55l-2.77 -1.55v-3.1zM1231.5 1091.2l2.77 1.55v3.1l-2.77 1.55l-2.77 -1.55v-3.1zM1234.1 1158.2l2.77 1.55v3.1l-2.77 1.55l-2.77 -1.55v-3.1zM1236.8 832l2.77 1.55v3.1l-2.77 1.55l-2.77 -1.55v-3.1zM1239.4 836.5l2.77 1.55v3.1l-2.77 1.55l-2.77 -1.55v-3.1zM1236.8 885.6l2.77 1.55v3.1l-2.77 1.55l-2.77 -1.55v-3.1zM1239.4 890.1l2.77 1.55v3.1l-2.77 1.55l-2.77 -1.55v-3.1zM1239.4 1015.2l2.77 1.55v3.1l-2.77 1.55l-2.77 -1.55v-3.1zM1236.8 1019.7l2.77 1.55v3.1l-2.77 1.55l-2.77 -1.55v-3.1zM1239.4 1024.1l2.77 1.55v3.1l-2.77 1.55l-2.77 -1.55v-3.1zM1236.8 1028.6l2.77 1.55v3.1l-2.77 1.55l-2.77 -1.55v-3.1zM1236.8 1037.5l2.77 1.55v3.1l-2.77 1.55l-2.77 -1.55v-3.1zM1236.8 1064.4l2.77 1.55v3.1l-2.77 1.55l-2.77 -1.55v-3.1zM1242 832l2.77 1.55v3.1l-2.77 1.55l-2.77 -1.55v-3.1zM1242 841l2.77 1.55v3.1l-2.77 1.55l-2.77 -1.55v-3.1zM1242 939.2l2.77 1.55v3.1l-2.77 1.55l-2.77 -1.55v-3.1zM1244.7 943.7l2.77 1.55v3.1l-2.77 1.55l-2.77 -1.55v-3.1zM1244.7 1015.2l2.77 1.55v3.1l-2.77 1.55l-2.77 -1.55v-3.1zM1244.7 1042l2.77 1.55v3.1l-2.77 1.55l-2.77 -1.55v-3.1zM1242 1073.3l2.77 1.55v3.1l-2.77 1.55l-2.77 -1.55v-3.1zM1250 943.7l2.77 1.55v3.1l-2.77 1.55l-2.77 -1.55v-3.1zM1247.3 948.2l2.77 1.55v3.1l-2.77 1.55l-2.77 -1.55v-3.1zM1247.3 1055.4l2.77 1.55v3.1l-2.77 1.55l-2.77 -1.55v-3.1zM1250 1059.9l2.77 1.55v3.1l-2.77 1.55l-2.77 -1.55v-3.1zM1247.3 1073.3l2.77 1.55v3.1l-2.77 1.55l-2.77 -1.55v-3.1zM1252.6 1055.4l2.77 1.55v3.1l-2.77 1.55l-2.77 -1.55v-3.1zM1252.6 1064.4l2.77 1.55v3.1l-2.77 1.55l-2.77 -1.55v-3.1zM1257.9 1010.7l2.77 1.55v3.1l-2.77 1.55l-2.77 -1.55v-3.1zM1260.6 1015.2l2.77 1.55v3.1l-2.77 1.55l-2.77 -1.55v-3.1zM1257.9 1046.5l2.77 1.55v3.1l-2.77 1.55l-2.77 -1.55v-3.1zM1260.6 1068.8l2.77 1.55v3.1l-2.77 1.55l-2.77 -1.55v-3.1zM1260.6 1086.7l2.77 1.55v3.1l-2.77 1.55l-2.77 -1.55v-3.1zM1257.9 1091.2l2.77 1.55v3.1l-2.77 1.55l-2.77 -1.55v-3.1zM1263.2 1010.7l2.77 1.55v3.1l-2.77 1.55l-2.77 -1.55v-3.1zM1265.9 1024.1l2.77 1.55v3.1l-2.77 1.55l-2.77 -1.55v-3.1zM1263.2 1028.6l2.77 1.55v3.1l-2.77 1.55l-2.77 -1.55v-3.1zM1265.9 1033.1l2.77 1.55v3.1l-2.77 1.55l-2.77 -1.55v-3.1zM1263.2 1037.5l2.77 1.55v3.1l-2.77 1.55l-2.77 -1.55v-3.1zM1265.9 1042l2.77 1.55v3.1l-2.77 1.55l-2.77 -1.55v-3.1zM1263.2 1046.5l2.77 1.55v3.1l-2.77 1.55l-2.77 -1.55v-3.1zM1263.2 1064.4l2.77 1.55v3.1l-2.77 1.55l-2.77 -1.55v-3.1zM1268.5 1037.5l2.77 1.55v3.1l-2.77 1.55l-2.77 -1.55v-3.1zM1271.2 1042l2.77 1.55v3.1l-2.77 1.55l-2.77 -1.55v-3.1zM1268.5 1046.5l2.77 1.55v3.1l-2.77 1.55l-2.77 -1.55v-3.1zM1271.2 1095.6l2.77 1.55v3.1l-2.77 1.55l-2.77 -1.55v-3.1zM1276.4 988.4l2.77 1.55v3.1l-2.77 1.55l-2.77 -1.55v-3.1zM1276.4 1006.3l2.77 1.55v3.1l-2.77 1.55l-2.77 -1.55v-3.1zM1273.8 1046.5l2.77 1.55v3.1l-2.77 1.55l-2.77 -1.55v-3.1zM1281.7 961.6l2.77 1.55v3.1l-2.77 1.55l-2.77 -1.55v-3.1zM1289.7 948.2l2.77 1.55v3.1l-2.77 1.55l-2.77 -1.55v-3.1zM1297.6 970.5l2.77 1.55v3.1l-2.77 1.55l-2.77 -1.55v-3.1zM1302.9 908l2.77 1.55v3.1l-2.77 1.55l-2.77 -1.55v-3.1zM1308.2 1006.3l2.77 1.55v3.1l-2.77 1.55l-2.77 -1.55v-3.1zM1313.5 908l2.77 1.55v3.1l-2.77 1.55l-2.77 -1.55v-3.1zM1318.8 997.3l2.77 1.55v3.1l-2.77 1.55l-2.77 -1.55v-3.1zM1321.4 903.5l2.77 1.55v3.1l-2.77 1.55l-2.77 -1.55v-3.1zM1324.1 908l2.77 1.55v3.1l-2.77 1.55l-2.77 -1.55v-3.1zM1329.4 1015.2l2.77 1.55v3.1l-2.77 1.55l-2.77 -1.55v-3.1zM1337.3 796.3l2.77 1.55v3.1l-2.77 1.55l-2.77 -1.55v-3.1zM1337.3 805.2l2.77 1.55v3.1l-2.77 1.55l-2.77 -1.55v-3.1zM1340 809.7l2.77 1.55v3.1l-2.77 1.55l-2.77 -1.55v-3.1zM1342.6 778.4l2.77 1.55v3.1l-2.77 1.55l-2.77 -1.55v-3.1zM1345.3 791.8l2.77 1.55v3.1l-2.77 1.55l-2.77 -1.55v-3.1zM1342.6 796.3l2.77 1.55v3.1l-2.77 1.55l-2.77 -1.55v-3.1zM1345.3 800.7l2.77 1.55v3.1l-2.77 1.55l-2.77 -1.55v-3.1zM1345.3 809.7l2.77 1.55v3.1l-2.77 1.55l-2.77 -1.55v-3.1zM1342.6 814.1l2.77 1.55v3.1l-2.77 1.55l-2.77 -1.55v-3.1zM1345.3 818.6l2.77 1.55v3.1l-2.77 1.55l-2.77 -1.55v-3.1zM1342.6 1118l2.77 1.55v3.1l-2.77 1.55l-2.77 -1.55v-3.1zM1350.6 809.7l2.77 1.55v3.1l-2.77 1.55l-2.77 -1.55v-3.1zM1347.9 814.1l2.77 1.55v3.1l-2.77 1.55l-2.77 -1.55v-3.1zM1350.6 1122.4l2.77 1.55v3.1l-2.77 1.55l-2.77 -1.55v-3.1zM1355.8 773.9l2.77 1.55v3.1l-2.77 1.55l-2.77 -1.55v-3.1zM1353.2 778.4l2.77 1.55v3.1l-2.77 1.55l-2.77 -1.55v-3.1zM1355.8 800.7l2.77 1.55v3.1l-2.77 1.55l-2.77 -1.55v-3.1zM1353.2 805.2l2.77 1.55v3.1l-2.77 1.55l-2.77 -1.55v-3.1zM1355.8 809.7l2.77 1.55v3.1l-2.77 1.55l-2.77 -1.55v-3.1zM1355.8 818.6l2.77 1.55v3.1l-2.77 1.55l-2.77 -1.55v-3.1zM1353.2 823.1l2.77 1.55v3.1l-2.77 1.55l-2.77 -1.55v-3.1zM1361.1 800.7l2.77 1.55v3.1l-2.77 1.55l-2.77 -1.55v-3.1zM1358.5 805.2l2.77 1.55v3.1l-2.77 1.55l-2.77 -1.55v-3.1zM1358.5 823.1l2.77 1.55v3.1l-2.77 1.55l-2.77 -1.55v-3.1zM1366.4 818.6l2.77 1.55v3.1l-2.77 1.55l-2.77 -1.55v-3.1zM1363.8 823.1l2.77 1.55v3.1l-2.77 1.55l-2.77 -1.55v-3.1zM1371.7 818.6l2.77 1.55v3.1l-2.77 1.55l-2.77 -1.55v-3.1zM1369.1 823.1l2.77 1.55v3.1l-2.77 1.55l-2.77 -1.55v-3.1zM1377 925.8l2.77 1.55v3.1l-2.77 1.55l-2.77 -1.55v-3.1zM1403.5 979.5l2.77 1.55v3.1l-2.77 1.55l-2.77 -1.55v-3.1zM1408.8 979.5l2.77 1.55v3.1l-2.77 1.55l-2.77 -1.55v-3.1zM1414.1 961.6l2.77 1.55v3.1l-2.77 1.55l-2.77 -1.55v-3.1zM1411.4 966.1l2.77 1.55v3.1l-2.77 1.55l-2.77 -1.55v-3.1zM1416.7 930.3l2.77 1.55v3.1l-2.77 1.55l-2.77 -1.55v-3.1zM1419.4 934.8l2.77 1.55v3.1l-2.77 1.55l-2.77 -1.55v-3.1zM1416.7 939.2l2.77 1.55v3.1l-2.77 1.55l-2.77 -1.55v-3.1zM1416.7 966.1l2.77 1.55v3.1l-2.77 1.55l-2.77 -1.55v-3.1zM1419.4 979.5l2.77 1.55v3.1l-2.77 1.55l-2.77 -1.55v-3.1zM1424.7 943.7l2.77 1.55v3.1l-2.77 1.55l-2.77 -1.55v-3.1zM1422 957.1l2.77 1.55v3.1l-2.77 1.55l-2.77 -1.55v-3.1zM1422 966.1l2.77 1.55v3.1l-2.77 1.55l-2.77 -1.55v-3.1zM1424.7 970.5l2.77 1.55v3.1l-2.77 1.55l-2.77 -1.55v-3.1zM1422 975l2.77 1.55v3.1l-2.77 1.55l-2.77 -1.55v-3.1zM1427.3 957.1l2.77 1.55v3.1l-2.77 1.55l-2.77 -1.55v-3.1zM1427.3 975l2.77 1.55v3.1l-2.77 1.55l-2.77 -1.55v-3.1zM1435.2 952.7l2.77 1.55v3.1l-2.77 1.55l-2.77 -1.55v-3.1zM1432.6 957.1l2.77 1.55v3.1l-2.77 1.55l-2.77 -1.55v-3.1zM1432.6 966.1l2.77 1.55v3.1l-2.77 1.55l-2.77 -1.55v-3.1zM1435.2 970.5l2.77 1.55v3.1l-2.77 1.55l-2.77 -1.55v-3.1zM1440.5 943.7l2.77 1.55v3.1l-2.77 1.55l-2.77 -1.55v-3.1zM1437.9 948.2l2.77 1.55v3.1l-2.77 1.55l-2.77 -1.55v-3.1zM1440.5 952.7l2.77 1.55v3.1l-2.77 1.55l-2.77 -1.55v-3.1zM1437.9 975l2.77 1.55v3.1l-2.77 1.55l-2.77 -1.55v-3.1zM1493.5 908l2.77 1.55v3.1l-2.77 1.55l-2.77 -1.55v-3.1zM1498.8 908l2.77 1.55v3.1l-2.77 1.55l-2.77 -1.55v-3.1zM1496.1 912.4l2.77 1.55v3.1l-2.77 1.55l-2.77 -1.55v-3.1zM1496.1 921.4l2.77 1.55v3.1l-2.77 1.55l-2.77 -1.55v-3.1zM1498.8 925.8l2.77 1.55v3.1l-2.77 1.55l-2.77 -1.55v-3.1zM1496.1 930.3l2.77 1.55v3.1l-2.77 1.55l-2.77 -1.55v-3.1zM1496.1 983.9l2.77 1.55v3.1l-2.77 1.55l-2.77 -1.55v-3.1zM1506.7 939.2l2.77 1.55v3.1l-2.77 1.55l-2.77 -1.55v-3.1zM1509.3 943.7l2.77 1.55v3.1l-2.77 1.55l-2.77 -1.55v-3.1zM1506.7 948.2l2.77 1.55v3.1l-2.77 1.55l-2.77 -1.55v-3.1zM1514.6 952.7l2.77 1.55v3.1l-2.77 1.55l-2.77 -1.55v-3.1zM1514.6 970.5l2.77 1.55v3.1l-2.77 1.55l-2.77 -1.55v-3.1zM1519.9 952.7l2.77 1.55v3.1l-2.77 1.55l-2.77 -1.55v-3.1zM1517.3 957.1l2.77 1.55v3.1l-2.77 1.55l-2.77 -1.55v-3.1zM1519.9 961.6l2.77 1.55v3.1l-2.77 1.55l-2.77 -1.55v-3.1z"/><path fill="#3F1B5E" d="M1125.6 1055.4l2.77 1.55v3.1l-2.77 1.55l-2.77 -1.55v-3.1zM1138.8 836.5l2.77 1.55v3.1l-2.77 1.55l-2.77 -1.55v-3.1zM1136.2 841l2.77 1.55v3.1l-2.77 1.55l-2.77 -1.55v-3.1zM1138.8 845.4l2.77 1.55v3.1l-2.77 1.55l-2.77 -1.55v-3.1zM1144.1 827.5l2.77 1.55v3.1l-2.77 1.55l-2.77 -1.55v-3.1zM1141.5 832l2.77 1.55v3.1l-2.77 1.55l-2.77 -1.55v-3.1zM1157.4 823.1l2.77 1.55v3.1l-2.77 1.55l-2.77 -1.55v-3.1zM1160 952.7l2.77 1.55v3.1l-2.77 1.55l-2.77 -1.55v-3.1zM1167.9 823.1l2.77 1.55v3.1l-2.77 1.55l-2.77 -1.55v-3.1zM1170.6 952.7l2.77 1.55v3.1l-2.77 1.55l-2.77 -1.55v-3.1zM1175.9 836.5l2.77 1.55v3.1l-2.77 1.55l-2.77 -1.55v-3.1zM1175.9 845.4l2.77 1.55v3.1l-2.77 1.55l-2.77 -1.55v-3.1zM1173.2 948.2l2.77 1.55v3.1l-2.77 1.55l-2.77 -1.55v-3.1zM1178.5 823.1l2.77 1.55v3.1l-2.77 1.55l-2.77 -1.55v-3.1zM1181.2 916.9l2.77 1.55v3.1l-2.77 1.55l-2.77 -1.55v-3.1zM1181.2 925.8l2.77 1.55v3.1l-2.77 1.55l-2.77 -1.55v-3.1zM1186.5 827.5l2.77 1.55v3.1l-2.77 1.55l-2.77 -1.55v-3.1zM1186.5 845.4l2.77 1.55v3.1l-2.77 1.55l-2.77 -1.55v-3.1zM1183.8 921.4l2.77 1.55v3.1l-2.77 1.55l-2.77 -1.55v-3.1zM1183.8 992.9l2.77 1.55v3.1l-2.77 1.55l-2.77 -1.55v-3.1zM1183.8 1001.8l2.77 1.55v3.1l-2.77 1.55l-2.77 -1.55v-3.1zM1191.8 836.5l2.77 1.55v3.1l-2.77 1.55l-2.77 -1.55v-3.1zM1191.8 854.4l2.77 1.55v3.1l-2.77 1.55l-2.77 -1.55v-3.1zM1189.1 903.5l2.77 1.55v3.1l-2.77 1.55l-2.77 -1.55v-3.1zM1191.8 908l2.77 1.55v3.1l-2.77 1.55l-2.77 -1.55v-3.1zM1191.8 916.9l2.77 1.55v3.1l-2.77 1.55l-2.77 -1.55v-3.1zM1189.1 921.4l2.77 1.55v3.1l-2.77 1.55l-2.77 -1.55v-3.1zM1191.8 934.8l2.77 1.55v3.1l-2.77 1.55l-2.77 -1.55v-3.1zM1191.8 1033.1l2.77 1.55v3.1l-2.77 1.55l-2.77 -1.55v-3.1zM1189.1 1037.5l2.77 1.55v3.1l-2.77 1.55l-2.77 -1.55v-3.1zM1191.8 1042l2.77 1.55v3.1l-2.77 1.55l-2.77 -1.55v-3.1zM1189.1 1046.5l2.77 1.55v3.1l-2.77 1.55l-2.77 -1.55v-3.1zM1194.4 832l2.77 1.55v3.1l-2.77 1.55l-2.77 -1.55v-3.1zM1197.1 836.5l2.77 1.55v3.1l-2.77 1.55l-2.77 -1.55v-3.1zM1197.1 890.1l2.77 1.55v3.1l-2.77 1.55l-2.77 -1.55v-3.1zM1194.4 894.6l2.77 1.55v3.1l-2.77 1.55l-2.77 -1.55v-3.1zM1194.4 912.4l2.77 1.55v3.1l-2.77 1.55l-2.77 -1.55v-3.1zM1197.1 925.8l2.77 1.55v3.1l-2.77 1.55l-2.77 -1.55v-3.1zM1194.4 930.3l2.77 1.55v3.1l-2.77 1.55l-2.77 -1.55v-3.1zM1202.3 845.4l2.77 1.55v3.1l-2.77 1.55l-2.77 -1.55v-3.1zM1202.3 854.4l2.77 1.55v3.1l-2.77 1.55l-2.77 -1.55v-3.1zM1199.7 858.8l2.77 1.55v3.1l-2.77 1.55l-2.77 -1.55v-3.1zM1202.3 890.1l2.77 1.55v3.1l-2.77 1.55l-2.77 -1.55v-3.1zM1207.6 863.3l2.77 1.55v3.1l-2.77 1.55l-2.77 -1.55v-3.1zM1207.6 890.1l2.77 1.55v3.1l-2.77 1.55l-2.77 -1.55v-3.1zM1207.6 1068.8l2.77 1.55v3.1l-2.77 1.55l-2.77 -1.55v-3.1zM1212.9 863.3l2.77 1.55v3.1l-2.77 1.55l-2.77 -1.55v-3.1zM1212.9 1015.2l2.77 1.55v3.1l-2.77 1.55l-2.77 -1.55v-3.1zM1212.9 1024.1l2.77 1.55v3.1l-2.77 1.55l-2.77 -1.55v-3.1zM1210.3 1028.6l2.77 1.55v3.1l-2.77 1.55l-2.77 -1.55v-3.1zM1212.9 1068.8l2.77 1.55v3.1l-2.77 1.55l-2.77 -1.55v-3.1zM1210.3 1073.3l2.77 1.55v3.1l-2.77 1.55l-2.77 -1.55v-3.1zM1215.6 867.8l2.77 1.55v3.1l-2.77 1.55l-2.77 -1.55v-3.1zM1215.6 921.4l2.77 1.55v3.1l-2.77 1.55l-2.77 -1.55v-3.1zM1215.6 1082.2l2.77 1.55v3.1l-2.77 1.55l-2.77 -1.55v-3.1zM1215.6 1144.8l2.77 1.55v3.1l-2.77 1.55l-2.77 -1.55v-3.1zM1223.5 1006.3l2.77 1.55v3.1l-2.77 1.55l-2.77 -1.55v-3.1zM1226.2 849.9l2.77 1.55v3.1l-2.77 1.55l-2.77 -1.55v-3.1zM1228.8 1024.1l2.77 1.55v3.1l-2.77 1.55l-2.77 -1.55v-3.1zM1226.2 1028.6l2.77 1.55v3.1l-2.77 1.55l-2.77 -1.55v-3.1zM1228.8 1158.2l2.77 1.55v3.1l-2.77 1.55l-2.77 -1.55v-3.1zM1231.5 1028.6l2.77 1.55v3.1l-2.77 1.55l-2.77 -1.55v-3.1zM1234.1 1077.8l2.77 1.55v3.1l-2.77 1.55l-2.77 -1.55v-3.1zM1234.1 1086.7l2.77 1.55v3.1l-2.77 1.55l-2.77 -1.55v-3.1zM1236.8 1010.7l2.77 1.55v3.1l-2.77 1.55l-2.77 -1.55v-3.1zM1236.8 1153.7l2.77 1.55v3.1l-2.77 1.55l-2.77 -1.55v-3.1zM1239.4 1158.2l2.77 1.55v3.1l-2.77 1.55l-2.77 -1.55v-3.1zM1242 1091.2l2.77 1.55v3.1l-2.77 1.55l-2.77 -1.55v-3.1zM1247.3 1100.1l2.77 1.55v3.1l-2.77 1.55l-2.77 -1.55v-3.1zM1260.6 1033.1l2.77 1.55v3.1l-2.77 1.55l-2.77 -1.55v-3.1zM1257.9 1073.3l2.77 1.55v3.1l-2.77 1.55l-2.77 -1.55v-3.1zM1260.6 1077.8l2.77 1.55v3.1l-2.77 1.55l-2.77 -1.55v-3.1zM1263.2 1073.3l2.77 1.55v3.1l-2.77 1.55l-2.77 -1.55v-3.1zM1271.2 1050.9l2.77 1.55v3.1l-2.77 1.55l-2.77 -1.55v-3.1zM1268.5 1055.4l2.77 1.55v3.1l-2.77 1.55l-2.77 -1.55v-3.1zM1268.5 1073.3l2.77 1.55v3.1l-2.77 1.55l-2.77 -1.55v-3.1zM1268.5 1091.2l2.77 1.55v3.1l-2.77 1.55l-2.77 -1.55v-3.1zM1273.8 1001.8l2.77 1.55v3.1l-2.77 1.55l-2.77 -1.55v-3.1zM1276.4 1050.9l2.77 1.55v3.1l-2.77 1.55l-2.77 -1.55v-3.1zM1281.7 988.4l2.77 1.55v3.1l-2.77 1.55l-2.77 -1.55v-3.1zM1279.1 1055.4l2.77 1.55v3.1l-2.77 1.55l-2.77 -1.55v-3.1zM1279.1 1091.2l2.77 1.55v3.1l-2.77 1.55l-2.77 -1.55v-3.1zM1287 952.7l2.77 1.55v3.1l-2.77 1.55l-2.77 -1.55v-3.1zM1284.4 1073.3l2.77 1.55v3.1l-2.77 1.55l-2.77 -1.55v-3.1zM1287 1077.8l2.77 1.55v3.1l-2.77 1.55l-2.77 -1.55v-3.1zM1284.4 1082.2l2.77 1.55v3.1l-2.77 1.55l-2.77 -1.55v-3.1zM1287 1086.7l2.77 1.55v3.1l-2.77 1.55l-2.77 -1.55v-3.1zM1300.3 903.5l2.77 1.55v3.1l-2.77 1.55l-2.77 -1.55v-3.1zM1305.6 903.5l2.77 1.55v3.1l-2.77 1.55l-2.77 -1.55v-3.1zM1308.2 908l2.77 1.55v3.1l-2.77 1.55l-2.77 -1.55v-3.1zM1305.6 966.1l2.77 1.55v3.1l-2.77 1.55l-2.77 -1.55v-3.1zM1310.9 903.5l2.77 1.55v3.1l-2.77 1.55l-2.77 -1.55v-3.1zM1310.9 966.1l2.77 1.55v3.1l-2.77 1.55l-2.77 -1.55v-3.1zM1310.9 1001.8l2.77 1.55v3.1l-2.77 1.55l-2.77 -1.55v-3.1zM1313.5 1006.3l2.77 1.55v3.1l-2.77 1.55l-2.77 -1.55v-3.1zM1318.8 908l2.77 1.55v3.1l-2.77 1.55l-2.77 -1.55v-3.1zM1318.8 916.9l2.77 1.55v3.1l-2.77 1.55l-2.77 -1.55v-3.1zM1316.1 992.9l2.77 1.55v3.1l-2.77 1.55l-2.77 -1.55v-3.1zM1316.1 1010.7l2.77 1.55v3.1l-2.77 1.55l-2.77 -1.55v-3.1zM1321.4 912.4l2.77 1.55v3.1l-2.77 1.55l-2.77 -1.55v-3.1zM1324.1 916.9l2.77 1.55v3.1l-2.77 1.55l-2.77 -1.55v-3.1zM1321.4 921.4l2.77 1.55v3.1l-2.77 1.55l-2.77 -1.55v-3.1zM1324.1 925.8l2.77 1.55v3.1l-2.77 1.55l-2.77 -1.55v-3.1zM1324.1 1015.2l2.77 1.55v3.1l-2.77 1.55l-2.77 -1.55v-3.1zM1326.7 921.4l2.77 1.55v3.1l-2.77 1.55l-2.77 -1.55v-3.1zM1326.7 930.3l2.77 1.55v3.1l-2.77 1.55l-2.77 -1.55v-3.1zM1334.7 791.8l2.77 1.55v3.1l-2.77 1.55l-2.77 -1.55v-3.1zM1334.7 800.7l2.77 1.55v3.1l-2.77 1.55l-2.77 -1.55v-3.1zM1334.7 1015.2l2.77 1.55v3.1l-2.77 1.55l-2.77 -1.55v-3.1zM1337.3 787.3l2.77 1.55v3.1l-2.77 1.55l-2.77 -1.55v-3.1zM1340 1015.2l2.77 1.55v3.1l-2.77 1.55l-2.77 -1.55v-3.1zM1345.3 1015.2l2.77 1.55v3.1l-2.77 1.55l-2.77 -1.55v-3.1zM1347.9 787.3l2.77 1.55v3.1l-2.77 1.55l-2.77 -1.55v-3.1zM1347.9 1019.7l2.77 1.55v3.1l-2.77 1.55l-2.77 -1.55v-3.1zM1366.4 925.8l2.77 1.55v3.1l-2.77 1.55l-2.77 -1.55v-3.1zM1363.8 1019.7l2.77 1.55v3.1l-2.77 1.55l-2.77 -1.55v-3.1zM1371.7 925.8l2.77 1.55v3.1l-2.77 1.55l-2.77 -1.55v-3.1zM1369.1 1019.7l2.77 1.55v3.1l-2.77 1.55l-2.77 -1.55v-3.1zM1379.7 823.1l2.77 1.55v3.1l-2.77 1.55l-2.77 -1.55v-3.1zM1379.7 930.3l2.77 1.55v3.1l-2.77 1.55l-2.77 -1.55v-3.1zM1379.7 939.2l2.77 1.55v3.1l-2.77 1.55l-2.77 -1.55v-3.1zM1379.7 1010.7l2.77 1.55v3.1l-2.77 1.55l-2.77 -1.55v-3.1zM1390.2 948.2l2.77 1.55v3.1l-2.77 1.55l-2.77 -1.55v-3.1zM1392.9 979.5l2.77 1.55v3.1l-2.77 1.55l-2.77 -1.55v-3.1zM1392.9 997.3l2.77 1.55v3.1l-2.77 1.55l-2.77 -1.55v-3.1zM1395.5 983.9l2.77 1.55v3.1l-2.77 1.55l-2.77 -1.55v-3.1zM1398.2 988.4l2.77 1.55v3.1l-2.77 1.55l-2.77 -1.55v-3.1zM1400.8 983.9l2.77 1.55v3.1l-2.77 1.55l-2.77 -1.55v-3.1zM1403.5 988.4l2.77 1.55v3.1l-2.77 1.55l-2.77 -1.55v-3.1zM1406.1 983.9l2.77 1.55v3.1l-2.77 1.55l-2.77 -1.55v-3.1zM1414.1 970.5l2.77 1.55v3.1l-2.77 1.55l-2.77 -1.55v-3.1zM1414.1 979.5l2.77 1.55v3.1l-2.77 1.55l-2.77 -1.55v-3.1zM1416.7 975l2.77 1.55v3.1l-2.77 1.55l-2.77 -1.55v-3.1zM1443.2 939.2l2.77 1.55v3.1l-2.77 1.55l-2.77 -1.55v-3.1zM1445.8 952.7l2.77 1.55v3.1l-2.77 1.55l-2.77 -1.55v-3.1zM1443.2 975l2.77 1.55v3.1l-2.77 1.55l-2.77 -1.55v-3.1zM1448.5 975l2.77 1.55v3.1l-2.77 1.55l-2.77 -1.55v-3.1zM1451.1 979.5l2.77 1.55v3.1l-2.77 1.55l-2.77 -1.55v-3.1zM1453.8 983.9l2.77 1.55v3.1l-2.77 1.55l-2.77 -1.55v-3.1zM1459.1 983.9l2.77 1.55v3.1l-2.77 1.55l-2.77 -1.55v-3.1zM1472.3 908l2.77 1.55v3.1l-2.77 1.55l-2.77 -1.55v-3.1zM1469.6 983.9l2.77 1.55v3.1l-2.77 1.55l-2.77 -1.55v-3.1zM1477.6 908l2.77 1.55v3.1l-2.77 1.55l-2.77 -1.55v-3.1zM1477.6 988.4l2.77 1.55v3.1l-2.77 1.55l-2.77 -1.55v-3.1zM1482.9 908l2.77 1.55v3.1l-2.77 1.55l-2.77 -1.55v-3.1zM1482.9 988.4l2.77 1.55v3.1l-2.77 1.55l-2.77 -1.55v-3.1zM1488.2 908l2.77 1.55v3.1l-2.77 1.55l-2.77 -1.55v-3.1zM1488.2 988.4l2.77 1.55v3.1l-2.77 1.55l-2.77 -1.55v-3.1zM1493.5 916.9l2.77 1.55v3.1l-2.77 1.55l-2.77 -1.55v-3.1zM1493.5 925.8l2.77 1.55v3.1l-2.77 1.55l-2.77 -1.55v-3.1zM1490.8 983.9l2.77 1.55v3.1l-2.77 1.55l-2.77 -1.55v-3.1zM1498.8 979.5l2.77 1.55v3.1l-2.77 1.55l-2.77 -1.55v-3.1zM1501.4 939.2l2.77 1.55v3.1l-2.77 1.55l-2.77 -1.55v-3.1zM1504 979.5l2.77 1.55v3.1l-2.77 1.55l-2.77 -1.55v-3.1zM1509.3 952.7l2.77 1.55v3.1l-2.77 1.55l-2.77 -1.55v-3.1zM1509.3 970.5l2.77 1.55v3.1l-2.77 1.55l-2.77 -1.55v-3.1zM1512 957.1l2.77 1.55v3.1l-2.77 1.55l-2.77 -1.55v-3.1zM1517.3 966.1l2.77 1.55v3.1l-2.77 1.55l-2.77 -1.55v-3.1z"/><path fill="#433174" d="M1133.5 854.4l2.77 1.55v3.1l-2.77 1.55l-2.77 -1.55v-3.1zM1138.8 943.7l2.77 1.55v3.1l-2.77 1.55l-2.77 -1.55v-3.1zM1144.1 925.8l2.77 1.55v3.1l-2.77 1.55l-2.77 -1.55v-3.1zM1144.1 934.8l2.77 1.55v3.1l-2.77 1.55l-2.77 -1.55v-3.1zM1146.8 832l2.77 1.55v3.1l-2.77 1.55l-2.77 -1.55v-3.1zM1146.8 841l2.77 1.55v3.1l-2.77 1.55l-2.77 -1.55v-3.1zM1146.8 849.9l2.77 1.55v3.1l-2.77 1.55l-2.77 -1.55v-3.1zM1146.8 930.3l2.77 1.55v3.1l-2.77 1.55l-2.77 -1.55v-3.1zM1152.1 832l2.77 1.55v3.1l-2.77 1.55l-2.77 -1.55v-3.1zM1160 827.5l2.77 1.55v3.1l-2.77 1.55l-2.77 -1.55v-3.1zM1160 836.5l2.77 1.55v3.1l-2.77 1.55l-2.77 -1.55v-3.1zM1157.4 841l2.77 1.55v3.1l-2.77 1.55l-2.77 -1.55v-3.1zM1165.3 836.5l2.77 1.55v3.1l-2.77 1.55l-2.77 -1.55v-3.1zM1175.9 854.4l2.77 1.55v3.1l-2.77 1.55l-2.77 -1.55v-3.1zM1181.2 908l2.77 1.55v3.1l-2.77 1.55l-2.77 -1.55v-3.1zM1178.5 912.4l2.77 1.55v3.1l-2.77 1.55l-2.77 -1.55v-3.1zM1178.5 930.3l2.77 1.55v3.1l-2.77 1.55l-2.77 -1.55v-3.1zM1183.8 903.5l2.77 1.55v3.1l-2.77 1.55l-2.77 -1.55v-3.1zM1189.1 885.6l2.77 1.55v3.1l-2.77 1.55l-2.77 -1.55v-3.1zM1197.1 863.3l2.77 1.55v3.1l-2.77 1.55l-2.77 -1.55v-3.1zM1197.1 881.2l2.77 1.55v3.1l-2.77 1.55l-2.77 -1.55v-3.1zM1199.7 867.8l2.77 1.55v3.1l-2.77 1.55l-2.77 -1.55v-3.1zM1228.8 1149.2l2.77 1.55v3.1l-2.77 1.55l-2.77 -1.55v-3.1zM1276.4 1059.9l2.77 1.55v3.1l-2.77 1.55l-2.77 -1.55v-3.1zM1279.1 1073.3l2.77 1.55v3.1l-2.77 1.55l-2.77 -1.55v-3.1zM1321.4 1001.8l2.77 1.55v3.1l-2.77 1.55l-2.77 -1.55v-3.1zM1326.7 992.9l2.77 1.55v3.1l-2.77 1.55l-2.77 -1.55v-3.1zM1329.4 997.3l2.77 1.55v3.1l-2.77 1.55l-2.77 -1.55v-3.1zM1326.7 1010.7l2.77 1.55v3.1l-2.77 1.55l-2.77 -1.55v-3.1zM1334.7 961.6l2.77 1.55v3.1l-2.77 1.55l-2.77 -1.55v-3.1zM1337.3 957.1l2.77 1.55v3.1l-2.77 1.55l-2.77 -1.55v-3.1zM1345.3 782.9l2.77 1.55v3.1l-2.77 1.55l-2.77 -1.55v-3.1zM1342.6 1010.7l2.77 1.55v3.1l-2.77 1.55l-2.77 -1.55v-3.1zM1361.1 934.8l2.77 1.55v3.1l-2.77 1.55l-2.77 -1.55v-3.1zM1366.4 934.8l2.77 1.55v3.1l-2.77 1.55l-2.77 -1.55v-3.1zM1377 1006.3l2.77 1.55v3.1l-2.77 1.55l-2.77 -1.55v-3.1zM1379.7 957.1l2.77 1.55v3.1l-2.77 1.55l-2.77 -1.55v-3.1zM1379.7 966.1l2.77 1.55v3.1l-2.77 1.55l-2.77 -1.55v-3.1zM1382.3 997.3l2.77 1.55v3.1l-2.77 1.55l-2.77 -1.55v-3.1zM1379.7 1001.8l2.77 1.55v3.1l-2.77 1.55l-2.77 -1.55v-3.1zM1385 975l2.77 1.55v3.1l-2.77 1.55l-2.77 -1.55v-3.1zM1451.1 970.5l2.77 1.55v3.1l-2.77 1.55l-2.77 -1.55v-3.1zM1459.1 975l2.77 1.55v3.1l-2.77 1.55l-2.77 -1.55v-3.1zM1469.6 930.3l2.77 1.55v3.1l-2.77 1.55l-2.77 -1.55v-3.1zM1474.9 939.2l2.77 1.55v3.1l-2.77 1.55l-2.77 -1.55v-3.1zM1477.6 943.7l2.77 1.55v3.1l-2.77 1.55l-2.77 -1.55v-3.1zM1474.9 948.2l2.77 1.55v3.1l-2.77 1.55l-2.77 -1.55v-3.1zM1480.2 912.4l2.77 1.55v3.1l-2.77 1.55l-2.77 -1.55v-3.1zM1480.2 957.1l2.77 1.55v3.1l-2.77 1.55l-2.77 -1.55v-3.1zM1485.5 957.1l2.77 1.55v3.1l-2.77 1.55l-2.77 -1.55v-3.1zM1493.5 961.6l2.77 1.55v3.1l-2.77 1.55l-2.77 -1.55v-3.1zM1496.1 975l2.77 1.55v3.1l-2.77 1.55l-2.77 -1.55v-3.1zM1501.4 966.1l2.77 1.55v3.1l-2.77 1.55l-2.77 -1.55v-3.1zM1504 970.5l2.77 1.55v3.1l-2.77 1.55l-2.77 -1.55v-3.1z"/><path fill="#433578" d="M1130.9 858.8l2.77 1.55v3.1l-2.77 1.55l-2.77 -1.55v-3.1zM1136.2 903.5l2.77 1.55v3.1l-2.77 1.55l-2.77 -1.55v-3.1zM1141.5 903.5l2.77 1.55v3.1l-2.77 1.55l-2.77 -1.55v-3.1zM1144.1 908l2.77 1.55v3.1l-2.77 1.55l-2.77 -1.55v-3.1zM1144.1 916.9l2.77 1.55v3.1l-2.77 1.55l-2.77 -1.55v-3.1zM1146.8 912.4l2.77 1.55v3.1l-2.77 1.55l-2.77 -1.55v-3.1zM1152.1 849.9l2.77 1.55v3.1l-2.77 1.55l-2.77 -1.55v-3.1zM1157.4 832l2.77 1.55v3.1l-2.77 1.55l-2.77 -1.55v-3.1zM1160 943.7l2.77 1.55v3.1l-2.77 1.55l-2.77 -1.55v-3.1zM1165.3 943.7l2.77 1.55v3.1l-2.77 1.55l-2.77 -1.55v-3.1zM1167.9 832l2.77 1.55v3.1l-2.77 1.55l-2.77 -1.55v-3.1zM1170.6 934.8l2.77 1.55v3.1l-2.77 1.55l-2.77 -1.55v-3.1zM1173.2 921.4l2.77 1.55v3.1l-2.77 1.55l-2.77 -1.55v-3.1zM1175.9 934.8l2.77 1.55v3.1l-2.77 1.55l-2.77 -1.55v-3.1zM1183.8 894.6l2.77 1.55v3.1l-2.77 1.55l-2.77 -1.55v-3.1zM1197.1 872.2l2.77 1.55v3.1l-2.77 1.55l-2.77 -1.55v-3.1zM1194.4 876.7l2.77 1.55v3.1l-2.77 1.55l-2.77 -1.55v-3.1zM1212.9 1077.8l2.77 1.55v3.1l-2.77 1.55l-2.77 -1.55v-3.1zM1226.2 1144.8l2.77 1.55v3.1l-2.77 1.55l-2.77 -1.55v-3.1zM1234.1 1149.2l2.77 1.55v3.1l-2.77 1.55l-2.77 -1.55v-3.1zM1276.4 1068.8l2.77 1.55v3.1l-2.77 1.55l-2.77 -1.55v-3.1zM1332 983.9l2.77 1.55v3.1l-2.77 1.55l-2.77 -1.55v-3.1zM1347.9 1010.7l2.77 1.55v3.1l-2.77 1.55l-2.77 -1.55v-3.1zM1353.2 1010.7l2.77 1.55v3.1l-2.77 1.55l-2.77 -1.55v-3.1zM1363.8 930.3l2.77 1.55v3.1l-2.77 1.55l-2.77 -1.55v-3.1zM1363.8 1010.7l2.77 1.55v3.1l-2.77 1.55l-2.77 -1.55v-3.1zM1369.1 939.2l2.77 1.55v3.1l-2.77 1.55l-2.77 -1.55v-3.1zM1371.7 943.7l2.77 1.55v3.1l-2.77 1.55l-2.77 -1.55v-3.1zM1369.1 948.2l2.77 1.55v3.1l-2.77 1.55l-2.77 -1.55v-3.1zM1371.7 1006.3l2.77 1.55v3.1l-2.77 1.55l-2.77 -1.55v-3.1zM1377 997.3l2.77 1.55v3.1l-2.77 1.55l-2.77 -1.55v-3.1zM1382.3 970.5l2.77 1.55v3.1l-2.77 1.55l-2.77 -1.55v-3.1zM1451.1 952.7l2.77 1.55v3.1l-2.77 1.55l-2.77 -1.55v-3.1zM1448.5 966.1l2.77 1.55v3.1l-2.77 1.55l-2.77 -1.55v-3.1zM1469.6 921.4l2.77 1.55v3.1l-2.77 1.55l-2.77 -1.55v-3.1zM1472.3 925.8l2.77 1.55v3.1l-2.77 1.55l-2.77 -1.55v-3.1zM1472.3 934.8l2.77 1.55v3.1l-2.77 1.55l-2.77 -1.55v-3.1zM1472.3 943.7l2.77 1.55v3.1l-2.77 1.55l-2.77 -1.55v-3.1zM1482.9 916.9l2.77 1.55v3.1l-2.77 1.55l-2.77 -1.55v-3.1zM1482.9 961.6l2.77 1.55v3.1l-2.77 1.55l-2.77 -1.55v-3.1zM1488.2 961.6l2.77 1.55v3.1l-2.77 1.55l-2.77 -1.55v-3.1zM1501.4 975l2.77 1.55v3.1l-2.77 1.55l-2.77 -1.55v-3.1z"/><path fill="#3F518C" d="M1133.5 863.3l2.77 1.55v3.1l-2.77 1.55l-2.77 -1.55v-3.1zM1138.8 872.2l2.77 1.55v3.1l-2.77 1.55l-2.77 -1.55v-3.1zM1144.1 881.2l2.77 1.55v3.1l-2.77 1.55l-2.77 -1.55v-3.1zM1144.1 899l2.77 1.55v3.1l-2.77 1.55l-2.77 -1.55v-3.1zM1146.8 858.8l2.77 1.55v3.1l-2.77 1.55l-2.77 -1.55v-3.1zM1149.4 943.7l2.77 1.55v3.1l-2.77 1.55l-2.77 -1.55v-3.1zM1149.4 952.7l2.77 1.55v3.1l-2.77 1.55l-2.77 -1.55v-3.1zM1152.1 858.8l2.77 1.55v3.1l-2.77 1.55l-2.77 -1.55v-3.1zM1160 908l2.77 1.55v3.1l-2.77 1.55l-2.77 -1.55v-3.1zM1173.2 885.6l2.77 1.55v3.1l-2.77 1.55l-2.77 -1.55v-3.1zM1175.9 890.1l2.77 1.55v3.1l-2.77 1.55l-2.77 -1.55v-3.1zM1337.3 975l2.77 1.55v3.1l-2.77 1.55l-2.77 -1.55v-3.1zM1340 988.4l2.77 1.55v3.1l-2.77 1.55l-2.77 -1.55v-3.1zM1345.3 952.7l2.77 1.55v3.1l-2.77 1.55l-2.77 -1.55v-3.1zM1345.3 988.4l2.77 1.55v3.1l-2.77 1.55l-2.77 -1.55v-3.1zM1353.2 948.2l2.77 1.55v3.1l-2.77 1.55l-2.77 -1.55v-3.1zM1355.8 1006.3l2.77 1.55v3.1l-2.77 1.55l-2.77 -1.55v-3.1zM1358.5 992.9l2.77 1.55v3.1l-2.77 1.55l-2.77 -1.55v-3.1zM1363.8 948.2l2.77 1.55v3.1l-2.77 1.55l-2.77 -1.55v-3.1zM1366.4 961.6l2.77 1.55v3.1l-2.77 1.55l-2.77 -1.55v-3.1zM1366.4 988.4l2.77 1.55v3.1l-2.77 1.55l-2.77 -1.55v-3.1zM1369.1 975l2.77 1.55v3.1l-2.77 1.55l-2.77 -1.55v-3.1zM1369.1 983.9l2.77 1.55v3.1l-2.77 1.55l-2.77 -1.55v-3.1zM1377 979.5l2.77 1.55v3.1l-2.77 1.55l-2.77 -1.55v-3.1zM1374.4 983.9l2.77 1.55v3.1l-2.77 1.55l-2.77 -1.55v-3.1zM1456.4 961.6l2.77 1.55v3.1l-2.77 1.55l-2.77 -1.55v-3.1zM1459.1 930.3l2.77 1.55v3.1l-2.77 1.55l-2.77 -1.55v-3.1zM1459.1 948.2l2.77 1.55v3.1l-2.77 1.55l-2.77 -1.55v-3.1zM1459.1 957.1l2.77 1.55v3.1l-2.77 1.55l-2.77 -1.55v-3.1zM1464.4 930.3l2.77 1.55v3.1l-2.77 1.55l-2.77 -1.55v-3.1zM1467 943.7l2.77 1.55v3.1l-2.77 1.55l-2.77 -1.55v-3.1zM1464.4 948.2l2.77 1.55v3.1l-2.77 1.55l-2.77 -1.55v-3.1zM1472.3 961.6l2.77 1.55v3.1l-2.77 1.55l-2.77 -1.55v-3.1zM1469.6 966.1l2.77 1.55v3.1l-2.77 1.55l-2.77 -1.55v-3.1zM1488.2 979.5l2.77 1.55v3.1l-2.77 1.55l-2.77 -1.55v-3.1z"/><path fill="#433E80" d="M1130.9 867.8l2.77 1.55v3.1l-2.77 1.55l-2.77 -1.55v-3.1zM1136.2 858.8l2.77 1.55v3.1l-2.77 1.55l-2.77 -1.55v-3.1zM1138.8 899l2.77 1.55v3.1l-2.77 1.55l-2.77 -1.55v-3.1zM1149.4 916.9l2.77 1.55v3.1l-2.77 1.55l-2.77 -1.55v-3.1zM1149.4 934.8l2.77 1.55v3.1l-2.77 1.55l-2.77 -1.55v-3.1zM1146.8 939.2l2.77 1.55v3.1l-2.77 1.55l-2.77 -1.55v-3.1zM1152.1 841l2.77 1.55v3.1l-2.77 1.55l-2.77 -1.55v-3.1zM1154.7 845.4l2.77 1.55v3.1l-2.77 1.55l-2.77 -1.55v-3.1zM1152.1 912.4l2.77 1.55v3.1l-2.77 1.55l-2.77 -1.55v-3.1zM1154.7 916.9l2.77 1.55v3.1l-2.77 1.55l-2.77 -1.55v-3.1zM1152.1 921.4l2.77 1.55v3.1l-2.77 1.55l-2.77 -1.55v-3.1zM1154.7 934.8l2.77 1.55v3.1l-2.77 1.55l-2.77 -1.55v-3.1zM1157.4 849.9l2.77 1.55v3.1l-2.77 1.55l-2.77 -1.55v-3.1zM1160 854.4l2.77 1.55v3.1l-2.77 1.55l-2.77 -1.55v-3.1zM1157.4 912.4l2.77 1.55v3.1l-2.77 1.55l-2.77 -1.55v-3.1zM1157.4 930.3l2.77 1.55v3.1l-2.77 1.55l-2.77 -1.55v-3.1zM1160 934.8l2.77 1.55v3.1l-2.77 1.55l-2.77 -1.55v-3.1zM1162.6 921.4l2.77 1.55v3.1l-2.77 1.55l-2.77 -1.55v-3.1zM1162.6 930.3l2.77 1.55v3.1l-2.77 1.55l-2.77 -1.55v-3.1zM1162.6 939.2l2.77 1.55v3.1l-2.77 1.55l-2.77 -1.55v-3.1zM1167.9 921.4l2.77 1.55v3.1l-2.77 1.55l-2.77 -1.55v-3.1zM1167.9 939.2l2.77 1.55v3.1l-2.77 1.55l-2.77 -1.55v-3.1zM1173.2 930.3l2.77 1.55v3.1l-2.77 1.55l-2.77 -1.55v-3.1zM1181.2 899l2.77 1.55v3.1l-2.77 1.55l-2.77 -1.55v-3.1zM1178.5 903.5l2.77 1.55v3.1l-2.77 1.55l-2.77 -1.55v-3.1zM1186.5 881.2l2.77 1.55v3.1l-2.77 1.55l-2.77 -1.55v-3.1zM1329.4 970.5l2.77 1.55v3.1l-2.77 1.55l-2.77 -1.55v-3.1zM1326.7 1001.8l2.77 1.55v3.1l-2.77 1.55l-2.77 -1.55v-3.1zM1334.7 997.3l2.77 1.55v3.1l-2.77 1.55l-2.77 -1.55v-3.1zM1332 1001.8l2.77 1.55v3.1l-2.77 1.55l-2.77 -1.55v-3.1zM1340 791.8l2.77 1.55v3.1l-2.77 1.55l-2.77 -1.55v-3.1zM1353.2 939.2l2.77 1.55v3.1l-2.77 1.55l-2.77 -1.55v-3.1zM1363.8 939.2l2.77 1.55v3.1l-2.77 1.55l-2.77 -1.55v-3.1zM1371.7 952.7l2.77 1.55v3.1l-2.77 1.55l-2.77 -1.55v-3.1zM1369.1 1001.8l2.77 1.55v3.1l-2.77 1.55l-2.77 -1.55v-3.1zM1382.3 988.4l2.77 1.55v3.1l-2.77 1.55l-2.77 -1.55v-3.1zM1451.1 934.8l2.77 1.55v3.1l-2.77 1.55l-2.77 -1.55v-3.1zM1451.1 961.6l2.77 1.55v3.1l-2.77 1.55l-2.77 -1.55v-3.1zM1464.4 921.4l2.77 1.55v3.1l-2.77 1.55l-2.77 -1.55v-3.1zM1464.4 975l2.77 1.55v3.1l-2.77 1.55l-2.77 -1.55v-3.1zM1472.3 952.7l2.77 1.55v3.1l-2.77 1.55l-2.77 -1.55v-3.1zM1477.6 916.9l2.77 1.55v3.1l-2.77 1.55l-2.77 -1.55v-3.1zM1480.2 983.9l2.77 1.55v3.1l-2.77 1.55l-2.77 -1.55v-3.1zM1485.5 966.1l2.77 1.55v3.1l-2.77 1.55l-2.77 -1.55v-3.1zM1485.5 983.9l2.77 1.55v3.1l-2.77 1.55l-2.77 -1.55v-3.1zM1490.8 966.1l2.77 1.55v3.1l-2.77 1.55l-2.77 -1.55v-3.1zM1493.5 970.5l2.77 1.55v3.1l-2.77 1.55l-2.77 -1.55v-3.1zM1490.8 975l2.77 1.55v3.1l-2.77 1.55l-2.77 -1.55v-3.1zM1496.1 966.1l2.77 1.55v3.1l-2.77 1.55l-2.77 -1.55v-3.1z"/><path fill="#43286B" d="M1133.5 881.2l2.77 1.55v3.1l-2.77 1.55l-2.77 -1.55v-3.1zM1133.5 890.1l2.77 1.55v3.1l-2.77 1.55l-2.77 -1.55v-3.1zM1141.5 841l2.77 1.55v3.1l-2.77 1.55l-2.77 -1.55v-3.1zM1144.1 845.4l2.77 1.55v3.1l-2.77 1.55l-2.77 -1.55v-3.1zM1154.7 827.5l2.77 1.55v3.1l-2.77 1.55l-2.77 -1.55v-3.1zM1154.7 952.7l2.77 1.55v3.1l-2.77 1.55l-2.77 -1.55v-3.1zM1162.6 841l2.77 1.55v3.1l-2.77 1.55l-2.77 -1.55v-3.1zM1165.3 845.4l2.77 1.55v3.1l-2.77 1.55l-2.77 -1.55v-3.1zM1170.6 827.5l2.77 1.55v3.1l-2.77 1.55l-2.77 -1.55v-3.1zM1170.6 943.7l2.77 1.55v3.1l-2.77 1.55l-2.77 -1.55v-3.1zM1167.9 948.2l2.77 1.55v3.1l-2.77 1.55l-2.77 -1.55v-3.1zM1175.9 827.5l2.77 1.55v3.1l-2.77 1.55l-2.77 -1.55v-3.1zM1181.2 836.5l2.77 1.55v3.1l-2.77 1.55l-2.77 -1.55v-3.1zM1178.5 849.9l2.77 1.55v3.1l-2.77 1.55l-2.77 -1.55v-3.1zM1191.8 890.1l2.77 1.55v3.1l-2.77 1.55l-2.77 -1.55v-3.1zM1197.1 1033.1l2.77 1.55v3.1l-2.77 1.55l-2.77 -1.55v-3.1zM1202.3 872.2l2.77 1.55v3.1l-2.77 1.55l-2.77 -1.55v-3.1zM1199.7 1037.5l2.77 1.55v3.1l-2.77 1.55l-2.77 -1.55v-3.1zM1205 876.7l2.77 1.55v3.1l-2.77 1.55l-2.77 -1.55v-3.1zM1218.2 1077.8l2.77 1.55v3.1l-2.77 1.55l-2.77 -1.55v-3.1zM1223.5 1140.3l2.77 1.55v3.1l-2.77 1.55l-2.77 -1.55v-3.1zM1247.3 1082.2l2.77 1.55v3.1l-2.77 1.55l-2.77 -1.55v-3.1zM1250 1086.7l2.77 1.55v3.1l-2.77 1.55l-2.77 -1.55v-3.1zM1273.8 1073.3l2.77 1.55v3.1l-2.77 1.55l-2.77 -1.55v-3.1zM1316.1 894.6l2.77 1.55v3.1l-2.77 1.55l-2.77 -1.55v-3.1zM1324.1 997.3l2.77 1.55v3.1l-2.77 1.55l-2.77 -1.55v-3.1zM1337.3 1010.7l2.77 1.55v3.1l-2.77 1.55l-2.77 -1.55v-3.1zM1355.8 1015.2l2.77 1.55v3.1l-2.77 1.55l-2.77 -1.55v-3.1zM1387.6 979.5l2.77 1.55v3.1l-2.77 1.55l-2.77 -1.55v-3.1zM1390.2 992.9l2.77 1.55v3.1l-2.77 1.55l-2.77 -1.55v-3.1zM1440.5 961.6l2.77 1.55v3.1l-2.77 1.55l-2.77 -1.55v-3.1zM1445.8 961.6l2.77 1.55v3.1l-2.77 1.55l-2.77 -1.55v-3.1zM1451.1 916.9l2.77 1.55v3.1l-2.77 1.55l-2.77 -1.55v-3.1zM1451.1 943.7l2.77 1.55v3.1l-2.77 1.55l-2.77 -1.55v-3.1zM1448.5 957.1l2.77 1.55v3.1l-2.77 1.55l-2.77 -1.55v-3.1zM1453.8 975l2.77 1.55v3.1l-2.77 1.55l-2.77 -1.55v-3.1zM1464.4 912.4l2.77 1.55v3.1l-2.77 1.55l-2.77 -1.55v-3.1zM1477.6 925.8l2.77 1.55v3.1l-2.77 1.55l-2.77 -1.55v-3.1zM1477.6 934.8l2.77 1.55v3.1l-2.77 1.55l-2.77 -1.55v-3.1zM1480.2 930.3l2.77 1.55v3.1l-2.77 1.55l-2.77 -1.55v-3.1zM1482.9 943.7l2.77 1.55v3.1l-2.77 1.55l-2.77 -1.55v-3.1zM1488.2 916.9l2.77 1.55v3.1l-2.77 1.55l-2.77 -1.55v-3.1zM1488.2 925.8l2.77 1.55v3.1l-2.77 1.55l-2.77 -1.55v-3.1zM1485.5 930.3l2.77 1.55v3.1l-2.77 1.55l-2.77 -1.55v-3.1zM1485.5 939.2l2.77 1.55v3.1l-2.77 1.55l-2.77 -1.55v-3.1zM1485.5 948.2l2.77 1.55v3.1l-2.77 1.55l-2.77 -1.55v-3.1zM1490.8 939.2l2.77 1.55v3.1l-2.77 1.55l-2.77 -1.55v-3.1zM1490.8 957.1l2.77 1.55v3.1l-2.77 1.55l-2.77 -1.55v-3.1zM1493.5 979.5l2.77 1.55v3.1l-2.77 1.55l-2.77 -1.55v-3.1zM1498.8 961.6l2.77 1.55v3.1l-2.77 1.55l-2.77 -1.55v-3.1z"/><path fill="#432D6F" d="M1138.8 854.4l2.77 1.55v3.1l-2.77 1.55l-2.77 -1.55v-3.1zM1144.1 836.5l2.77 1.55v3.1l-2.77 1.55l-2.77 -1.55v-3.1zM1141.5 957.1l2.77 1.55v3.1l-2.77 1.55l-2.77 -1.55v-3.1zM1146.8 921.4l2.77 1.55v3.1l-2.77 1.55l-2.77 -1.55v-3.1zM1146.8 957.1l2.77 1.55v3.1l-2.77 1.55l-2.77 -1.55v-3.1zM1157.4 948.2l2.77 1.55v3.1l-2.77 1.55l-2.77 -1.55v-3.1zM1165.3 827.5l2.77 1.55v3.1l-2.77 1.55l-2.77 -1.55v-3.1zM1167.9 849.9l2.77 1.55v3.1l-2.77 1.55l-2.77 -1.55v-3.1zM1173.2 832l2.77 1.55v3.1l-2.77 1.55l-2.77 -1.55v-3.1zM1173.2 849.9l2.77 1.55v3.1l-2.77 1.55l-2.77 -1.55v-3.1zM1175.9 916.9l2.77 1.55v3.1l-2.77 1.55l-2.77 -1.55v-3.1zM1175.9 925.8l2.77 1.55v3.1l-2.77 1.55l-2.77 -1.55v-3.1zM1173.2 939.2l2.77 1.55v3.1l-2.77 1.55l-2.77 -1.55v-3.1zM1178.5 921.4l2.77 1.55v3.1l-2.77 1.55l-2.77 -1.55v-3.1zM1181.2 934.8l2.77 1.55v3.1l-2.77 1.55l-2.77 -1.55v-3.1zM1178.5 939.2l2.77 1.55v3.1l-2.77 1.55l-2.77 -1.55v-3.1zM1186.5 899l2.77 1.55v3.1l-2.77 1.55l-2.77 -1.55v-3.1zM1186.5 934.8l2.77 1.55v3.1l-2.77 1.55l-2.77 -1.55v-3.1zM1191.8 881.2l2.77 1.55v3.1l-2.77 1.55l-2.77 -1.55v-3.1zM1189.1 894.6l2.77 1.55v3.1l-2.77 1.55l-2.77 -1.55v-3.1zM1194.4 1037.5l2.77 1.55v3.1l-2.77 1.55l-2.77 -1.55v-3.1zM1199.7 876.7l2.77 1.55v3.1l-2.77 1.55l-2.77 -1.55v-3.1zM1202.3 881.2l2.77 1.55v3.1l-2.77 1.55l-2.77 -1.55v-3.1zM1244.7 1086.7l2.77 1.55v3.1l-2.77 1.55l-2.77 -1.55v-3.1zM1268.5 1082.2l2.77 1.55v3.1l-2.77 1.55l-2.77 -1.55v-3.1zM1279.1 1082.2l2.77 1.55v3.1l-2.77 1.55l-2.77 -1.55v-3.1zM1329.4 988.4l2.77 1.55v3.1l-2.77 1.55l-2.77 -1.55v-3.1zM1334.7 952.7l2.77 1.55v3.1l-2.77 1.55l-2.77 -1.55v-3.1zM1332 1010.7l2.77 1.55v3.1l-2.77 1.55l-2.77 -1.55v-3.1zM1340 952.7l2.77 1.55v3.1l-2.77 1.55l-2.77 -1.55v-3.1zM1342.6 805.2l2.77 1.55v3.1l-2.77 1.55l-2.77 -1.55v-3.1zM1345.3 943.7l2.77 1.55v3.1l-2.77 1.55l-2.77 -1.55v-3.1zM1342.6 948.2l2.77 1.55v3.1l-2.77 1.55l-2.77 -1.55v-3.1zM1350.6 1015.2l2.77 1.55v3.1l-2.77 1.55l-2.77 -1.55v-3.1zM1361.1 1015.2l2.77 1.55v3.1l-2.77 1.55l-2.77 -1.55v-3.1zM1366.4 1015.2l2.77 1.55v3.1l-2.77 1.55l-2.77 -1.55v-3.1zM1369.1 930.3l2.77 1.55v3.1l-2.77 1.55l-2.77 -1.55v-3.1zM1369.1 1010.7l2.77 1.55v3.1l-2.77 1.55l-2.77 -1.55v-3.1zM1385 992.9l2.77 1.55v3.1l-2.77 1.55l-2.77 -1.55v-3.1zM1443.2 966.1l2.77 1.55v3.1l-2.77 1.55l-2.77 -1.55v-3.1zM1456.4 916.9l2.77 1.55v3.1l-2.77 1.55l-2.77 -1.55v-3.1zM1472.3 979.5l2.77 1.55v3.1l-2.77 1.55l-2.77 -1.55v-3.1zM1474.9 921.4l2.77 1.55v3.1l-2.77 1.55l-2.77 -1.55v-3.1zM1477.6 952.7l2.77 1.55v3.1l-2.77 1.55l-2.77 -1.55v-3.1zM1480.2 948.2l2.77 1.55v3.1l-2.77 1.55l-2.77 -1.55v-3.1zM1482.9 952.7l2.77 1.55v3.1l-2.77 1.55l-2.77 -1.55v-3.1zM1485.5 912.4l2.77 1.55v3.1l-2.77 1.55l-2.77 -1.55v-3.1z"/><path fill="#36688F" d="M1138.8 863.3l2.77 1.55v3.1l-2.77 1.55l-2.77 -1.55v-3.1zM1160 881.2l2.77 1.55v3.1l-2.77 1.55l-2.77 -1.55v-3.1zM1160 899l2.77 1.55v3.1l-2.77 1.55l-2.77 -1.55v-3.1zM1162.6 885.6l2.77 1.55v3.1l-2.77 1.55l-2.77 -1.55v-3.1zM1165.3 890.1l2.77 1.55v3.1l-2.77 1.55l-2.77 -1.55v-3.1zM1167.9 876.7l2.77 1.55v3.1l-2.77 1.55l-2.77 -1.55v-3.1zM1178.5 867.8l2.77 1.55v3.1l-2.77 1.55l-2.77 -1.55v-3.1zM1342.6 975l2.77 1.55v3.1l-2.77 1.55l-2.77 -1.55v-3.1zM1345.3 979.5l2.77 1.55v3.1l-2.77 1.55l-2.77 -1.55v-3.1zM1342.6 1001.8l2.77 1.55v3.1l-2.77 1.55l-2.77 -1.55v-3.1zM1350.6 1006.3l2.77 1.55v3.1l-2.77 1.55l-2.77 -1.55v-3.1zM1355.8 952.7l2.77 1.55v3.1l-2.77 1.55l-2.77 -1.55v-3.1zM1355.8 961.6l2.77 1.55v3.1l-2.77 1.55l-2.77 -1.55v-3.1zM1355.8 997.3l2.77 1.55v3.1l-2.77 1.55l-2.77 -1.55v-3.1zM1363.8 975l2.77 1.55v3.1l-2.77 1.55l-2.77 -1.55v-3.1zM1459.1 939.2l2.77 1.55v3.1l-2.77 1.55l-2.77 -1.55v-3.1z"/><path fill="#3D568D" d="M1136.2 867.8l2.77 1.55v3.1l-2.77 1.55l-2.77 -1.55v-3.1zM1141.5 876.7l2.77 1.55v3.1l-2.77 1.55l-2.77 -1.55v-3.1zM1144.1 890.1l2.77 1.55v3.1l-2.77 1.55l-2.77 -1.55v-3.1zM1144.1 952.7l2.77 1.55v3.1l-2.77 1.55l-2.77 -1.55v-3.1zM1146.8 903.5l2.77 1.55v3.1l-2.77 1.55l-2.77 -1.55v-3.1zM1157.4 858.8l2.77 1.55v3.1l-2.77 1.55l-2.77 -1.55v-3.1zM1167.9 903.5l2.77 1.55v3.1l-2.77 1.55l-2.77 -1.55v-3.1zM1173.2 876.7l2.77 1.55v3.1l-2.77 1.55l-2.77 -1.55v-3.1zM1181.2 863.3l2.77 1.55v3.1l-2.77 1.55l-2.77 -1.55v-3.1zM1189.1 867.8l2.77 1.55v3.1l-2.77 1.55l-2.77 -1.55v-3.1zM1281.7 1086.7l2.77 1.55v3.1l-2.77 1.55l-2.77 -1.55v-3.1zM1355.8 988.4l2.77 1.55v3.1l-2.77 1.55l-2.77 -1.55v-3.1zM1358.5 1001.8l2.77 1.55v3.1l-2.77 1.55l-2.77 -1.55v-3.1zM1363.8 983.9l2.77 1.55v3.1l-2.77 1.55l-2.77 -1.55v-3.1zM1371.7 979.5l2.77 1.55v3.1l-2.77 1.55l-2.77 -1.55v-3.1zM1461.7 934.8l2.77 1.55v3.1l-2.77 1.55l-2.77 -1.55v-3.1zM1469.6 957.1l2.77 1.55v3.1l-2.77 1.55l-2.77 -1.55v-3.1z"/><path fill="#414685" d="M1138.8 881.2l2.77 1.55v3.1l-2.77 1.55l-2.77 -1.55v-3.1zM1138.8 890.1l2.77 1.55v3.1l-2.77 1.55l-2.77 -1.55v-3.1zM1141.5 948.2l2.77 1.55v3.1l-2.77 1.55l-2.77 -1.55v-3.1zM1149.4 908l2.77 1.55v3.1l-2.77 1.55l-2.77 -1.55v-3.1zM1152.1 939.2l2.77 1.55v3.1l-2.77 1.55l-2.77 -1.55v-3.1zM1154.7 943.7l2.77 1.55v3.1l-2.77 1.55l-2.77 -1.55v-3.1zM1157.4 939.2l2.77 1.55v3.1l-2.77 1.55l-2.77 -1.55v-3.1zM1165.3 908l2.77 1.55v3.1l-2.77 1.55l-2.77 -1.55v-3.1zM1162.6 912.4l2.77 1.55v3.1l-2.77 1.55l-2.77 -1.55v-3.1zM1165.3 916.9l2.77 1.55v3.1l-2.77 1.55l-2.77 -1.55v-3.1zM1165.3 925.8l2.77 1.55v3.1l-2.77 1.55l-2.77 -1.55v-3.1zM1167.9 930.3l2.77 1.55v3.1l-2.77 1.55l-2.77 -1.55v-3.1zM1173.2 903.5l2.77 1.55v3.1l-2.77 1.55l-2.77 -1.55v-3.1zM1178.5 894.6l2.77 1.55v3.1l-2.77 1.55l-2.77 -1.55v-3.1zM1183.8 876.7l2.77 1.55v3.1l-2.77 1.55l-2.77 -1.55v-3.1zM1191.8 872.2l2.77 1.55v3.1l-2.77 1.55l-2.77 -1.55v-3.1zM1194.4 867.8l2.77 1.55v3.1l-2.77 1.55l-2.77 -1.55v-3.1zM1271.2 1086.7l2.77 1.55v3.1l-2.77 1.55l-2.77 -1.55v-3.1zM1332 966.1l2.77 1.55v3.1l-2.77 1.55l-2.77 -1.55v-3.1zM1334.7 979.5l2.77 1.55v3.1l-2.77 1.55l-2.77 -1.55v-3.1zM1334.7 988.4l2.77 1.55v3.1l-2.77 1.55l-2.77 -1.55v-3.1zM1337.3 983.9l2.77 1.55v3.1l-2.77 1.55l-2.77 -1.55v-3.1zM1340 1006.3l2.77 1.55v3.1l-2.77 1.55l-2.77 -1.55v-3.1zM1342.6 992.9l2.77 1.55v3.1l-2.77 1.55l-2.77 -1.55v-3.1zM1355.8 943.7l2.77 1.55v3.1l-2.77 1.55l-2.77 -1.55v-3.1zM1358.5 939.2l2.77 1.55v3.1l-2.77 1.55l-2.77 -1.55v-3.1zM1366.4 997.3l2.77 1.55v3.1l-2.77 1.55l-2.77 -1.55v-3.1zM1377 988.4l2.77 1.55v3.1l-2.77 1.55l-2.77 -1.55v-3.1zM1374.4 992.9l2.77 1.55v3.1l-2.77 1.55l-2.77 -1.55v-3.1zM1453.8 957.1l2.77 1.55v3.1l-2.77 1.55l-2.77 -1.55v-3.1zM1461.7 916.9l2.77 1.55v3.1l-2.77 1.55l-2.77 -1.55v-3.1zM1467 925.8l2.77 1.55v3.1l-2.77 1.55l-2.77 -1.55v-3.1zM1477.6 961.6l2.77 1.55v3.1l-2.77 1.55l-2.77 -1.55v-3.1zM1474.9 966.1l2.77 1.55v3.1l-2.77 1.55l-2.77 -1.55v-3.1zM1477.6 970.5l2.77 1.55v3.1l-2.77 1.55l-2.77 -1.55v-3.1zM1477.6 979.5l2.77 1.55v3.1l-2.77 1.55l-2.77 -1.55v-3.1zM1480.2 966.1l2.77 1.55v3.1l-2.77 1.55l-2.77 -1.55v-3.1z"/><path fill="#433A7C" d="M1136.2 894.6l2.77 1.55v3.1l-2.77 1.55l-2.77 -1.55v-3.1zM1144.1 854.4l2.77 1.55v3.1l-2.77 1.55l-2.77 -1.55v-3.1zM1141.5 939.2l2.77 1.55v3.1l-2.77 1.55l-2.77 -1.55v-3.1zM1149.4 836.5l2.77 1.55v3.1l-2.77 1.55l-2.77 -1.55v-3.1zM1149.4 845.4l2.77 1.55v3.1l-2.77 1.55l-2.77 -1.55v-3.1zM1149.4 925.8l2.77 1.55v3.1l-2.77 1.55l-2.77 -1.55v-3.1zM1152.1 930.3l2.77 1.55v3.1l-2.77 1.55l-2.77 -1.55v-3.1zM1160 845.4l2.77 1.55v3.1l-2.77 1.55l-2.77 -1.55v-3.1zM1160 925.8l2.77 1.55v3.1l-2.77 1.55l-2.77 -1.55v-3.1zM1162.6 832l2.77 1.55v3.1l-2.77 1.55l-2.77 -1.55v-3.1zM1162.6 849.9l2.77 1.55v3.1l-2.77 1.55l-2.77 -1.55v-3.1zM1165.3 854.4l2.77 1.55v3.1l-2.77 1.55l-2.77 -1.55v-3.1zM1170.6 916.9l2.77 1.55v3.1l-2.77 1.55l-2.77 -1.55v-3.1zM1170.6 925.8l2.77 1.55v3.1l-2.77 1.55l-2.77 -1.55v-3.1zM1175.9 908l2.77 1.55v3.1l-2.77 1.55l-2.77 -1.55v-3.1zM1173.2 912.4l2.77 1.55v3.1l-2.77 1.55l-2.77 -1.55v-3.1zM1183.8 885.6l2.77 1.55v3.1l-2.77 1.55l-2.77 -1.55v-3.1zM1186.5 890.1l2.77 1.55v3.1l-2.77 1.55l-2.77 -1.55v-3.1zM1191.8 863.3l2.77 1.55v3.1l-2.77 1.55l-2.77 -1.55v-3.1zM1189.1 876.7l2.77 1.55v3.1l-2.77 1.55l-2.77 -1.55v-3.1zM1273.8 1082.2l2.77 1.55v3.1l-2.77 1.55l-2.77 -1.55v-3.1zM1279.1 1064.4l2.77 1.55v3.1l-2.77 1.55l-2.77 -1.55v-3.1zM1318.8 1006.3l2.77 1.55v3.1l-2.77 1.55l-2.77 -1.55v-3.1zM1332 992.9l2.77 1.55v3.1l-2.77 1.55l-2.77 -1.55v-3.1zM1342.6 787.3l2.77 1.55v3.1l-2.77 1.55l-2.77 -1.55v-3.1zM1347.9 778.4l2.77 1.55v3.1l-2.77 1.55l-2.77 -1.55v-3.1zM1355.8 934.8l2.77 1.55v3.1l-2.77 1.55l-2.77 -1.55v-3.1zM1358.5 1010.7l2.77 1.55v3.1l-2.77 1.55l-2.77 -1.55v-3.1zM1366.4 943.7l2.77 1.55v3.1l-2.77 1.55l-2.77 -1.55v-3.1zM1366.4 1006.3l2.77 1.55v3.1l-2.77 1.55l-2.77 -1.55v-3.1zM1374.4 957.1l2.77 1.55v3.1l-2.77 1.55l-2.77 -1.55v-3.1zM1377 961.6l2.77 1.55v3.1l-2.77 1.55l-2.77 -1.55v-3.1zM1374.4 1001.8l2.77 1.55v3.1l-2.77 1.55l-2.77 -1.55v-3.1zM1382.3 979.5l2.77 1.55v3.1l-2.77 1.55l-2.77 -1.55v-3.1zM1379.7 992.9l2.77 1.55v3.1l-2.77 1.55l-2.77 -1.55v-3.1zM1385 983.9l2.77 1.55v3.1l-2.77 1.55l-2.77 -1.55v-3.1zM1387.6 988.4l2.77 1.55v3.1l-2.77 1.55l-2.77 -1.55v-3.1zM1451.1 925.8l2.77 1.55v3.1l-2.77 1.55l-2.77 -1.55v-3.1zM1453.8 966.1l2.77 1.55v3.1l-2.77 1.55l-2.77 -1.55v-3.1zM1467 916.9l2.77 1.55v3.1l-2.77 1.55l-2.77 -1.55v-3.1zM1472.3 916.9l2.77 1.55v3.1l-2.77 1.55l-2.77 -1.55v-3.1zM1469.6 939.2l2.77 1.55v3.1l-2.77 1.55l-2.77 -1.55v-3.1zM1469.6 975l2.77 1.55v3.1l-2.77 1.55l-2.77 -1.55v-3.1zM1474.9 912.4l2.77 1.55v3.1l-2.77 1.55l-2.77 -1.55v-3.1zM1474.9 957.1l2.77 1.55v3.1l-2.77 1.55l-2.77 -1.55v-3.1zM1498.8 970.5l2.77 1.55v3.1l-2.77 1.55l-2.77 -1.55v-3.1z"/><path fill="#3A5F8E" d="M1144.1 863.3l2.77 1.55v3.1l-2.77 1.55l-2.77 -1.55v-3.1zM1149.4 899l2.77 1.55v3.1l-2.77 1.55l-2.77 -1.55v-3.1zM1152.1 885.6l2.77 1.55v3.1l-2.77 1.55l-2.77 -1.55v-3.1zM1152.1 894.6l2.77 1.55v3.1l-2.77 1.55l-2.77 -1.55v-3.1zM1152.1 903.5l2.77 1.55v3.1l-2.77 1.55l-2.77 -1.55v-3.1zM1165.3 881.2l2.77 1.55v3.1l-2.77 1.55l-2.77 -1.55v-3.1zM1167.9 885.6l2.77 1.55v3.1l-2.77 1.55l-2.77 -1.55v-3.1zM1170.6 890.1l2.77 1.55v3.1l-2.77 1.55l-2.77 -1.55v-3.1zM1167.9 894.6l2.77 1.55v3.1l-2.77 1.55l-2.77 -1.55v-3.1zM1340 961.6l2.77 1.55v3.1l-2.77 1.55l-2.77 -1.55v-3.1zM1342.6 957.1l2.77 1.55v3.1l-2.77 1.55l-2.77 -1.55v-3.1zM1345.3 961.6l2.77 1.55v3.1l-2.77 1.55l-2.77 -1.55v-3.1zM1342.6 966.1l2.77 1.55v3.1l-2.77 1.55l-2.77 -1.55v-3.1zM1353.2 992.9l2.77 1.55v3.1l-2.77 1.55l-2.77 -1.55v-3.1zM1361.1 988.4l2.77 1.55v3.1l-2.77 1.55l-2.77 -1.55v-3.1zM1363.8 957.1l2.77 1.55v3.1l-2.77 1.55l-2.77 -1.55v-3.1zM1371.7 970.5l2.77 1.55v3.1l-2.77 1.55l-2.77 -1.55v-3.1zM1456.4 934.8l2.77 1.55v3.1l-2.77 1.55l-2.77 -1.55v-3.1zM1461.7 952.7l2.77 1.55v3.1l-2.77 1.55l-2.77 -1.55v-3.1zM1464.4 957.1l2.77 1.55v3.1l-2.77 1.55l-2.77 -1.55v-3.1zM1467 961.6l2.77 1.55v3.1l-2.77 1.55l-2.77 -1.55v-3.1z"/><path fill="#38638E" d="M1141.5 867.8l2.77 1.55v3.1l-2.77 1.55l-2.77 -1.55v-3.1zM1149.4 863.3l2.77 1.55v3.1l-2.77 1.55l-2.77 -1.55v-3.1zM1146.8 867.8l2.77 1.55v3.1l-2.77 1.55l-2.77 -1.55v-3.1zM1146.8 876.7l2.77 1.55v3.1l-2.77 1.55l-2.77 -1.55v-3.1zM1146.8 894.6l2.77 1.55v3.1l-2.77 1.55l-2.77 -1.55v-3.1zM1154.7 863.3l2.77 1.55v3.1l-2.77 1.55l-2.77 -1.55v-3.1zM1152.1 876.7l2.77 1.55v3.1l-2.77 1.55l-2.77 -1.55v-3.1zM1157.4 903.5l2.77 1.55v3.1l-2.77 1.55l-2.77 -1.55v-3.1zM1165.3 863.3l2.77 1.55v3.1l-2.77 1.55l-2.77 -1.55v-3.1zM1162.6 876.7l2.77 1.55v3.1l-2.77 1.55l-2.77 -1.55v-3.1zM1162.6 903.5l2.77 1.55v3.1l-2.77 1.55l-2.77 -1.55v-3.1zM1170.6 872.2l2.77 1.55v3.1l-2.77 1.55l-2.77 -1.55v-3.1zM1181.2 872.2l2.77 1.55v3.1l-2.77 1.55l-2.77 -1.55v-3.1zM1347.9 983.9l2.77 1.55v3.1l-2.77 1.55l-2.77 -1.55v-3.1zM1350.6 988.4l2.77 1.55v3.1l-2.77 1.55l-2.77 -1.55v-3.1zM1353.2 983.9l2.77 1.55v3.1l-2.77 1.55l-2.77 -1.55v-3.1zM1456.4 925.8l2.77 1.55v3.1l-2.77 1.55l-2.77 -1.55v-3.1zM1461.7 943.7l2.77 1.55v3.1l-2.77 1.55l-2.77 -1.55v-3.1z"/><path fill="#3B5A8D" d="M1144.1 872.2l2.77 1.55v3.1l-2.77 1.55l-2.77 -1.55v-3.1zM1141.5 885.6l2.77 1.55v3.1l-2.77 1.55l-2.77 -1.55v-3.1zM1146.8 885.6l2.77 1.55v3.1l-2.77 1.55l-2.77 -1.55v-3.1zM1146.8 948.2l2.77 1.55v3.1l-2.77 1.55l-2.77 -1.55v-3.1zM1154.7 908l2.77 1.55v3.1l-2.77 1.55l-2.77 -1.55v-3.1zM1162.6 858.8l2.77 1.55v3.1l-2.77 1.55l-2.77 -1.55v-3.1zM1165.3 899l2.77 1.55v3.1l-2.77 1.55l-2.77 -1.55v-3.1zM1170.6 899l2.77 1.55v3.1l-2.77 1.55l-2.77 -1.55v-3.1zM1175.9 863.3l2.77 1.55v3.1l-2.77 1.55l-2.77 -1.55v-3.1zM1340 970.5l2.77 1.55v3.1l-2.77 1.55l-2.77 -1.55v-3.1zM1342.6 983.9l2.77 1.55v3.1l-2.77 1.55l-2.77 -1.55v-3.1zM1350.6 952.7l2.77 1.55v3.1l-2.77 1.55l-2.77 -1.55v-3.1zM1347.9 992.9l2.77 1.55v3.1l-2.77 1.55l-2.77 -1.55v-3.1zM1361.1 952.7l2.77 1.55v3.1l-2.77 1.55l-2.77 -1.55v-3.1zM1358.5 957.1l2.77 1.55v3.1l-2.77 1.55l-2.77 -1.55v-3.1zM1366.4 979.5l2.77 1.55v3.1l-2.77 1.55l-2.77 -1.55v-3.1zM1369.1 957.1l2.77 1.55v3.1l-2.77 1.55l-2.77 -1.55v-3.1zM1369.1 966.1l2.77 1.55v3.1l-2.77 1.55l-2.77 -1.55v-3.1zM1461.7 961.6l2.77 1.55v3.1l-2.77 1.55l-2.77 -1.55v-3.1zM1459.1 966.1l2.77 1.55v3.1l-2.77 1.55l-2.77 -1.55v-3.1z"/><path fill="#404D8A" d="M1141.5 894.6l2.77 1.55v3.1l-2.77 1.55l-2.77 -1.55v-3.1zM1167.9 858.8l2.77 1.55v3.1l-2.77 1.55l-2.77 -1.55v-3.1zM1173.2 894.6l2.77 1.55v3.1l-2.77 1.55l-2.77 -1.55v-3.1zM1178.5 876.7l2.77 1.55v3.1l-2.77 1.55l-2.77 -1.55v-3.1zM1181.2 881.2l2.77 1.55v3.1l-2.77 1.55l-2.77 -1.55v-3.1zM1186.5 872.2l2.77 1.55v3.1l-2.77 1.55l-2.77 -1.55v-3.1zM1276.4 1086.7l2.77 1.55v3.1l-2.77 1.55l-2.77 -1.55v-3.1zM1340 979.5l2.77 1.55v3.1l-2.77 1.55l-2.77 -1.55v-3.1zM1340 997.3l2.77 1.55v3.1l-2.77 1.55l-2.77 -1.55v-3.1zM1345.3 1006.3l2.77 1.55v3.1l-2.77 1.55l-2.77 -1.55v-3.1zM1358.5 948.2l2.77 1.55v3.1l-2.77 1.55l-2.77 -1.55v-3.1zM1366.4 952.7l2.77 1.55v3.1l-2.77 1.55l-2.77 -1.55v-3.1zM1363.8 992.9l2.77 1.55v3.1l-2.77 1.55l-2.77 -1.55v-3.1zM1371.7 961.6l2.77 1.55v3.1l-2.77 1.55l-2.77 -1.55v-3.1zM1371.7 988.4l2.77 1.55v3.1l-2.77 1.55l-2.77 -1.55v-3.1zM1369.1 992.9l2.77 1.55v3.1l-2.77 1.55l-2.77 -1.55v-3.1zM1374.4 966.1l2.77 1.55v3.1l-2.77 1.55l-2.77 -1.55v-3.1zM1374.4 975l2.77 1.55v3.1l-2.77 1.55l-2.77 -1.55v-3.1zM1453.8 921.4l2.77 1.55v3.1l-2.77 1.55l-2.77 -1.55v-3.1zM1453.8 930.3l2.77 1.55v3.1l-2.77 1.55l-2.77 -1.55v-3.1zM1461.7 970.5l2.77 1.55v3.1l-2.77 1.55l-2.77 -1.55v-3.1zM1464.4 939.2l2.77 1.55v3.1l-2.77 1.55l-2.77 -1.55v-3.1zM1467 952.7l2.77 1.55v3.1l-2.77 1.55l-2.77 -1.55v-3.1zM1467 970.5l2.77 1.55v3.1l-2.77 1.55l-2.77 -1.55v-3.1zM1488.2 970.5l2.77 1.55v3.1l-2.77 1.55l-2.77 -1.55v-3.1z"/><path fill="#414987" d="M1144.1 943.7l2.77 1.55v3.1l-2.77 1.55l-2.77 -1.55v-3.1zM1170.6 881.2l2.77 1.55v3.1l-2.77 1.55l-2.77 -1.55v-3.1zM1173.2 858.8l2.77 1.55v3.1l-2.77 1.55l-2.77 -1.55v-3.1zM1175.9 881.2l2.77 1.55v3.1l-2.77 1.55l-2.77 -1.55v-3.1zM1175.9 899l2.77 1.55v3.1l-2.77 1.55l-2.77 -1.55v-3.1zM1178.5 885.6l2.77 1.55v3.1l-2.77 1.55l-2.77 -1.55v-3.1zM1186.5 863.3l2.77 1.55v3.1l-2.77 1.55l-2.77 -1.55v-3.1zM1324.1 1006.3l2.77 1.55v3.1l-2.77 1.55l-2.77 -1.55v-3.1zM1329.4 1006.3l2.77 1.55v3.1l-2.77 1.55l-2.77 -1.55v-3.1zM1334.7 970.5l2.77 1.55v3.1l-2.77 1.55l-2.77 -1.55v-3.1zM1337.3 992.9l2.77 1.55v3.1l-2.77 1.55l-2.77 -1.55v-3.1zM1361.1 943.7l2.77 1.55v3.1l-2.77 1.55l-2.77 -1.55v-3.1zM1361.1 997.3l2.77 1.55v3.1l-2.77 1.55l-2.77 -1.55v-3.1zM1363.8 1001.8l2.77 1.55v3.1l-2.77 1.55l-2.77 -1.55v-3.1zM1377 970.5l2.77 1.55v3.1l-2.77 1.55l-2.77 -1.55v-3.1zM1456.4 943.7l2.77 1.55v3.1l-2.77 1.55l-2.77 -1.55v-3.1zM1456.4 952.7l2.77 1.55v3.1l-2.77 1.55l-2.77 -1.55v-3.1zM1459.1 921.4l2.77 1.55v3.1l-2.77 1.55l-2.77 -1.55v-3.1zM1461.7 925.8l2.77 1.55v3.1l-2.77 1.55l-2.77 -1.55v-3.1zM1467 934.8l2.77 1.55v3.1l-2.77 1.55l-2.77 -1.55v-3.1zM1469.6 948.2l2.77 1.55v3.1l-2.77 1.55l-2.77 -1.55v-3.1zM1472.3 970.5l2.77 1.55v3.1l-2.77 1.55l-2.77 -1.55v-3.1zM1482.9 970.5l2.77 1.55v3.1l-2.77 1.55l-2.77 -1.55v-3.1zM1485.5 975l2.77 1.55v3.1l-2.77 1.55l-2.77 -1.55v-3.1z"/><path fill="#346D8F" d="M1149.4 872.2l2.77 1.55v3.1l-2.77 1.55l-2.77 -1.55v-3.1zM1149.4 881.2l2.77 1.55v3.1l-2.77 1.55l-2.77 -1.55v-3.1zM1154.7 881.2l2.77 1.55v3.1l-2.77 1.55l-2.77 -1.55v-3.1zM1154.7 890.1l2.77 1.55v3.1l-2.77 1.55l-2.77 -1.55v-3.1zM1157.4 876.7l2.77 1.55v3.1l-2.77 1.55l-2.77 -1.55v-3.1zM1162.6 867.8l2.77 1.55v3.1l-2.77 1.55l-2.77 -1.55v-3.1zM1162.6 894.6l2.77 1.55v3.1l-2.77 1.55l-2.77 -1.55v-3.1zM1170.6 863.3l2.77 1.55v3.1l-2.77 1.55l-2.77 -1.55v-3.1zM1183.8 867.8l2.77 1.55v3.1l-2.77 1.55l-2.77 -1.55v-3.1zM1345.3 997.3l2.77 1.55v3.1l-2.77 1.55l-2.77 -1.55v-3.1zM1347.9 975l2.77 1.55v3.1l-2.77 1.55l-2.77 -1.55v-3.1zM1353.2 957.1l2.77 1.55v3.1l-2.77 1.55l-2.77 -1.55v-3.1zM1355.8 979.5l2.77 1.55v3.1l-2.77 1.55l-2.77 -1.55v-3.1zM1361.1 970.5l2.77 1.55v3.1l-2.77 1.55l-2.77 -1.55v-3.1zM1361.1 979.5l2.77 1.55v3.1l-2.77 1.55l-2.77 -1.55v-3.1zM1358.5 983.9l2.77 1.55v3.1l-2.77 1.55l-2.77 -1.55v-3.1zM1464.4 966.1l2.77 1.55v3.1l-2.77 1.55l-2.77 -1.55v-3.1z"/><path fill="#31728F" d="M1149.4 890.1l2.77 1.55v3.1l-2.77 1.55l-2.77 -1.55v-3.1zM1154.7 899l2.77 1.55v3.1l-2.77 1.55l-2.77 -1.55v-3.1zM1157.4 867.8l2.77 1.55v3.1l-2.77 1.55l-2.77 -1.55v-3.1zM1157.4 894.6l2.77 1.55v3.1l-2.77 1.55l-2.77 -1.55v-3.1zM1347.9 966.1l2.77 1.55v3.1l-2.77 1.55l-2.77 -1.55v-3.1zM1350.6 970.5l2.77 1.55v3.1l-2.77 1.55l-2.77 -1.55v-3.1zM1353.2 975l2.77 1.55v3.1l-2.77 1.55l-2.77 -1.55v-3.1zM1353.2 1001.8l2.77 1.55v3.1l-2.77 1.55l-2.77 -1.55v-3.1zM1361.1 961.6l2.77 1.55v3.1l-2.77 1.55l-2.77 -1.55v-3.1zM1358.5 966.1l2.77 1.55v3.1l-2.77 1.55l-2.77 -1.55v-3.1z"/><path fill="#2F768E" d="M1152.1 867.8l2.77 1.55v3.1l-2.77 1.55l-2.77 -1.55v-3.1zM1154.7 872.2l2.77 1.55v3.1l-2.77 1.55l-2.77 -1.55v-3.1zM1160 863.3l2.77 1.55v3.1l-2.77 1.55l-2.77 -1.55v-3.1zM1160 872.2l2.77 1.55v3.1l-2.77 1.55l-2.77 -1.55v-3.1zM1157.4 885.6l2.77 1.55v3.1l-2.77 1.55l-2.77 -1.55v-3.1zM1165.3 872.2l2.77 1.55v3.1l-2.77 1.55l-2.77 -1.55v-3.1zM1173.2 867.8l2.77 1.55v3.1l-2.77 1.55l-2.77 -1.55v-3.1zM1175.9 872.2l2.77 1.55v3.1l-2.77 1.55l-2.77 -1.55v-3.1zM1347.9 957.1l2.77 1.55v3.1l-2.77 1.55l-2.77 -1.55v-3.1zM1363.8 966.1l2.77 1.55v3.1l-2.77 1.55l-2.77 -1.55v-3.1zM1366.4 970.5l2.77 1.55v3.1l-2.77 1.55l-2.77 -1.55v-3.1z"/><path fill="#2C7B8E" d="M1160 890.1l2.77 1.55v3.1l-2.77 1.55l-2.77 -1.55v-3.1zM1167.9 867.8l2.77 1.55v3.1l-2.77 1.55l-2.77 -1.55v-3.1zM1345.3 970.5l2.77 1.55v3.1l-2.77 1.55l-2.77 -1.55v-3.1zM1350.6 979.5l2.77 1.55v3.1l-2.77 1.55l-2.77 -1.55v-3.1z"/><path fill="#3D1558" d="M1194.4 992.9l2.77 1.55v3.1l-2.77 1.55l-2.77 -1.55v-3.1zM1197.1 1024.1l2.77 1.55v3.1l-2.77 1.55l-2.77 -1.55v-3.1zM1218.2 845.4l2.77 1.55v3.1l-2.77 1.55l-2.77 -1.55v-3.1zM1218.2 1050.9l2.77 1.55v3.1l-2.77 1.55l-2.77 -1.55v-3.1zM1220.9 1010.7l2.77 1.55v3.1l-2.77 1.55l-2.77 -1.55v-3.1zM1226.2 1001.8l2.77 1.55v3.1l-2.77 1.55l-2.77 -1.55v-3.1zM1228.8 1095.6l2.77 1.55v3.1l-2.77 1.55l-2.77 -1.55v-3.1zM1234.1 890.1l2.77 1.55v3.1l-2.77 1.55l-2.77 -1.55v-3.1zM1234.1 925.8l2.77 1.55v3.1l-2.77 1.55l-2.77 -1.55v-3.1zM1234.1 1024.1l2.77 1.55v3.1l-2.77 1.55l-2.77 -1.55v-3.1zM1239.4 1068.8l2.77 1.55v3.1l-2.77 1.55l-2.77 -1.55v-3.1zM1236.8 1073.3l2.77 1.55v3.1l-2.77 1.55l-2.77 -1.55v-3.1zM1239.4 1086.7l2.77 1.55v3.1l-2.77 1.55l-2.77 -1.55v-3.1zM1250 1068.8l2.77 1.55v3.1l-2.77 1.55l-2.77 -1.55v-3.1zM1255.3 961.6l2.77 1.55v3.1l-2.77 1.55l-2.77 -1.55v-3.1zM1257.9 1064.4l2.77 1.55v3.1l-2.77 1.55l-2.77 -1.55v-3.1zM1424.7 961.6l2.77 1.55v3.1l-2.77 1.55l-2.77 -1.55v-3.1zM1427.3 948.2l2.77 1.55v3.1l-2.77 1.55l-2.77 -1.55v-3.1zM1427.3 966.1l2.77 1.55v3.1l-2.77 1.55l-2.77 -1.55v-3.1zM1498.8 934.8l2.77 1.55v3.1l-2.77 1.55l-2.77 -1.55v-3.1z"/><path fill="#268A8C" d="M1350.6 961.6l2.77 1.55v3.1l-2.77 1.55l-2.77 -1.55v-3.1zM1355.8 970.5l2.77 1.55v3.1l-2.77 1.55l-2.77 -1.55v-3.1z"/><path fill="#21958A" d="M1350.6 997.3l2.77 1.55v3.1l-2.77 1.55l-2.77 -1.55v-3.1z"/><path fill="#2CAC7E" d="M1347.9 1001.8l2.77 1.55v3.1l-2.77 1.55l-2.77 -1.55v-3.1z"/><path fill="#28858D" d="M1353.2 966.1l2.77 1.55v3.1l-2.77 1.55l-2.77 -1.55v-3.1z"/><path fill="#2A808E" d="M1358.5 975l2.77 1.55v3.1l-2.77 1.55l-2.77 -1.55v-3.1zM1482.9 979.5l2.77 1.55v3.1l-2.77 1.55l-2.77 -1.55v-3.1z"/></g>
</g>
<rect x="1103.6" y="757.7" width="439.1" height="422.9" fill="none" stroke="#333" stroke-width="1.5"/>
<rect x="1103.6" y="726" width="439.1" height="31.7" fill="#D1D5D5" stroke="#333" stroke-width="1.5"/>
<text x="1340.3" y="749.6" class="b" font-size="23.4" fill="#1A1A1A" text-anchor="middle">Omentum without Metastasis</text>
<text x="1140.9" y="1205.3" font-size="19.6" fill="#4D4D4D" text-anchor="middle">&#8722;10</text>
<text x="1289.9" y="1205.3" font-size="19.6" fill="#4D4D4D" text-anchor="middle">0</text>
<text x="1439.9" y="1205.3" font-size="19.6" fill="#4D4D4D" text-anchor="middle">10</text>
<path d="M1139.9 1180.6v5M1289.9 1180.6v5M1439.9 1180.6v5M1103.6 799.2h-5M1103.6 874.2h-5M1103.6 949.2h-5M1103.6 1024.2h-5M1103.6 1099.2h-5M1103.6 1174.2h-5" stroke="#333" stroke-width="1.7" fill="none"/>
<clipPath id="cp2"><rect x="1549.5" y="757.7" width="439.1" height="422.9"/></clipPath>
<g clip-path="url(#cp2)">
<path d="M1661.5 757.7V1180.6M1811.5 757.7V1180.6M1961.5 757.7V1180.6M1549.5 761.7H1988.6M1549.5 836.7H1988.6M1549.5 911.7H1988.6M1549.5 986.7H1988.6M1549.5 1061.7H1988.6M1549.5 1136.7H1988.6" stroke="#EBEBEB" stroke-width="1.2" fill="none"/>
<path d="M1586.5 757.7V1180.6M1736.5 757.7V1180.6M1886.5 757.7V1180.6M1549.5 799.2H1988.6M1549.5 874.2H1988.6M1549.5 949.2H1988.6M1549.5 1024.2H1988.6M1549.5 1099.2H1988.6M1549.5 1174.2H1988.6" stroke="#E5E5E5" stroke-width="2.3" fill="none"/>
<g><path fill="#3E185B" d="M1574.8 854.4l2.77 1.55v3.1l-2.77 1.55l-2.77 -1.55v-3.1zM1574.8 863.3l2.77 1.55v3.1l-2.77 1.55l-2.77 -1.55v-3.1zM1572.2 867.8l2.77 1.55v3.1l-2.77 1.55l-2.77 -1.55v-3.1zM1574.8 872.2l2.77 1.55v3.1l-2.77 1.55l-2.77 -1.55v-3.1zM1577.5 849.9l2.77 1.55v3.1l-2.77 1.55l-2.77 -1.55v-3.1zM1577.5 885.6l2.77 1.55v3.1l-2.77 1.55l-2.77 -1.55v-3.1zM1580.1 890.1l2.77 1.55v3.1l-2.77 1.55l-2.77 -1.55v-3.1zM1580.1 899l2.77 1.55v3.1l-2.77 1.55l-2.77 -1.55v-3.1zM1580.1 934.8l2.77 1.55v3.1l-2.77 1.55l-2.77 -1.55v-3.1zM1580.1 943.7l2.77 1.55v3.1l-2.77 1.55l-2.77 -1.55v-3.1zM1585.4 845.4l2.77 1.55v3.1l-2.77 1.55l-2.77 -1.55v-3.1zM1582.8 894.6l2.77 1.55v3.1l-2.77 1.55l-2.77 -1.55v-3.1zM1582.8 930.3l2.77 1.55v3.1l-2.77 1.55l-2.77 -1.55v-3.1zM1582.8 939.2l2.77 1.55v3.1l-2.77 1.55l-2.77 -1.55v-3.1zM1582.8 948.2l2.77 1.55v3.1l-2.77 1.55l-2.77 -1.55v-3.1zM1590.7 836.5l2.77 1.55v3.1l-2.77 1.55l-2.77 -1.55v-3.1zM1588.1 841l2.77 1.55v3.1l-2.77 1.55l-2.77 -1.55v-3.1zM1588.1 948.2l2.77 1.55v3.1l-2.77 1.55l-2.77 -1.55v-3.1zM1590.7 952.7l2.77 1.55v3.1l-2.77 1.55l-2.77 -1.55v-3.1zM1588.1 957.1l2.77 1.55v3.1l-2.77 1.55l-2.77 -1.55v-3.1zM1593.4 832l2.77 1.55v3.1l-2.77 1.55l-2.77 -1.55v-3.1zM1596 961.6l2.77 1.55v3.1l-2.77 1.55l-2.77 -1.55v-3.1zM1598.7 957.1l2.77 1.55v3.1l-2.77 1.55l-2.77 -1.55v-3.1zM1614.5 957.1l2.77 1.55v3.1l-2.77 1.55l-2.77 -1.55v-3.1zM1630.4 992.9l2.77 1.55v3.1l-2.77 1.55l-2.77 -1.55v-3.1zM1630.4 1001.8l2.77 1.55v3.1l-2.77 1.55l-2.77 -1.55v-3.1zM1638.4 1033.1l2.77 1.55v3.1l-2.77 1.55l-2.77 -1.55v-3.1zM1635.7 1037.5l2.77 1.55v3.1l-2.77 1.55l-2.77 -1.55v-3.1zM1638.4 1042l2.77 1.55v3.1l-2.77 1.55l-2.77 -1.55v-3.1zM1646.3 1046.5l2.77 1.55v3.1l-2.77 1.55l-2.77 -1.55v-3.1zM1646.3 1144.8l2.77 1.55v3.1l-2.77 1.55l-2.77 -1.55v-3.1zM1651.6 1046.5l2.77 1.55v3.1l-2.77 1.55l-2.77 -1.55v-3.1zM1651.6 1055.4l2.77 1.55v3.1l-2.77 1.55l-2.77 -1.55v-3.1zM1651.6 1144.8l2.77 1.55v3.1l-2.77 1.55l-2.77 -1.55v-3.1zM1654.2 1149.2l2.77 1.55v3.1l-2.77 1.55l-2.77 -1.55v-3.1zM1656.9 1001.8l2.77 1.55v3.1l-2.77 1.55l-2.77 -1.55v-3.1zM1656.9 1046.5l2.77 1.55v3.1l-2.77 1.55l-2.77 -1.55v-3.1zM1656.9 1064.4l2.77 1.55v3.1l-2.77 1.55l-2.77 -1.55v-3.1zM1659.5 1068.8l2.77 1.55v3.1l-2.77 1.55l-2.77 -1.55v-3.1zM1656.9 1082.2l2.77 1.55v3.1l-2.77 1.55l-2.77 -1.55v-3.1zM1656.9 1153.7l2.77 1.55v3.1l-2.77 1.55l-2.77 -1.55v-3.1zM1664.8 934.8l2.77 1.55v3.1l-2.77 1.55l-2.77 -1.55v-3.1zM1662.2 1001.8l2.77 1.55v3.1l-2.77 1.55l-2.77 -1.55v-3.1zM1662.2 1082.2l2.77 1.55v3.1l-2.77 1.55l-2.77 -1.55v-3.1zM1664.8 1086.7l2.77 1.55v3.1l-2.77 1.55l-2.77 -1.55v-3.1zM1662.2 1153.7l2.77 1.55v3.1l-2.77 1.55l-2.77 -1.55v-3.1zM1664.8 1158.2l2.77 1.55v3.1l-2.77 1.55l-2.77 -1.55v-3.1zM1670.1 1033.1l2.77 1.55v3.1l-2.77 1.55l-2.77 -1.55v-3.1zM1667.5 1037.5l2.77 1.55v3.1l-2.77 1.55l-2.77 -1.55v-3.1zM1670.1 1042l2.77 1.55v3.1l-2.77 1.55l-2.77 -1.55v-3.1zM1667.5 1046.5l2.77 1.55v3.1l-2.77 1.55l-2.77 -1.55v-3.1zM1675.4 1086.7l2.77 1.55v3.1l-2.77 1.55l-2.77 -1.55v-3.1zM1672.8 1091.2l2.77 1.55v3.1l-2.77 1.55l-2.77 -1.55v-3.1zM1675.4 1140.3l2.77 1.55v3.1l-2.77 1.55l-2.77 -1.55v-3.1zM1678.1 921.4l2.77 1.55v3.1l-2.77 1.55l-2.77 -1.55v-3.1zM1680.7 925.8l2.77 1.55v3.1l-2.77 1.55l-2.77 -1.55v-3.1zM1678.1 930.3l2.77 1.55v3.1l-2.77 1.55l-2.77 -1.55v-3.1zM1680.7 934.8l2.77 1.55v3.1l-2.77 1.55l-2.77 -1.55v-3.1zM1680.7 1033.1l2.77 1.55v3.1l-2.77 1.55l-2.77 -1.55v-3.1zM1678.1 1037.5l2.77 1.55v3.1l-2.77 1.55l-2.77 -1.55v-3.1zM1678.1 1091.2l2.77 1.55v3.1l-2.77 1.55l-2.77 -1.55v-3.1zM1678.1 1144.8l2.77 1.55v3.1l-2.77 1.55l-2.77 -1.55v-3.1zM1680.7 1149.2l2.77 1.55v3.1l-2.77 1.55l-2.77 -1.55v-3.1zM1680.7 1158.2l2.77 1.55v3.1l-2.77 1.55l-2.77 -1.55v-3.1zM1683.4 930.3l2.77 1.55v3.1l-2.77 1.55l-2.77 -1.55v-3.1zM1686 943.7l2.77 1.55v3.1l-2.77 1.55l-2.77 -1.55v-3.1zM1683.4 1001.8l2.77 1.55v3.1l-2.77 1.55l-2.77 -1.55v-3.1zM1686 1086.7l2.77 1.55v3.1l-2.77 1.55l-2.77 -1.55v-3.1zM1686 1149.2l2.77 1.55v3.1l-2.77 1.55l-2.77 -1.55v-3.1zM1686 1158.2l2.77 1.55v3.1l-2.77 1.55l-2.77 -1.55v-3.1zM1688.6 832l2.77 1.55v3.1l-2.77 1.55l-2.77 -1.55v-3.1zM1688.6 894.6l2.77 1.55v3.1l-2.77 1.55l-2.77 -1.55v-3.1zM1691.3 934.8l2.77 1.55v3.1l-2.77 1.55l-2.77 -1.55v-3.1zM1688.6 948.2l2.77 1.55v3.1l-2.77 1.55l-2.77 -1.55v-3.1zM1691.3 1095.6l2.77 1.55v3.1l-2.77 1.55l-2.77 -1.55v-3.1zM1688.6 1153.7l2.77 1.55v3.1l-2.77 1.55l-2.77 -1.55v-3.1zM1693.9 939.2l2.77 1.55v3.1l-2.77 1.55l-2.77 -1.55v-3.1zM1693.9 948.2l2.77 1.55v3.1l-2.77 1.55l-2.77 -1.55v-3.1zM1693.9 1091.2l2.77 1.55v3.1l-2.77 1.55l-2.77 -1.55v-3.1zM1699.2 939.2l2.77 1.55v3.1l-2.77 1.55l-2.77 -1.55v-3.1zM1701.9 1086.7l2.77 1.55v3.1l-2.77 1.55l-2.77 -1.55v-3.1zM1699.2 1091.2l2.77 1.55v3.1l-2.77 1.55l-2.77 -1.55v-3.1zM1707.2 1086.7l2.77 1.55v3.1l-2.77 1.55l-2.77 -1.55v-3.1zM1709.8 1091.2l2.77 1.55v3.1l-2.77 1.55l-2.77 -1.55v-3.1zM1715.1 1019.7l2.77 1.55v3.1l-2.77 1.55l-2.77 -1.55v-3.1zM1717.8 1095.6l2.77 1.55v3.1l-2.77 1.55l-2.77 -1.55v-3.1zM1720.4 1091.2l2.77 1.55v3.1l-2.77 1.55l-2.77 -1.55v-3.1zM1725.7 1001.8l2.77 1.55v3.1l-2.77 1.55l-2.77 -1.55v-3.1zM1728.3 1077.8l2.77 1.55v3.1l-2.77 1.55l-2.77 -1.55v-3.1zM1725.7 1091.2l2.77 1.55v3.1l-2.77 1.55l-2.77 -1.55v-3.1zM1731 1082.2l2.77 1.55v3.1l-2.77 1.55l-2.77 -1.55v-3.1zM1731 1091.2l2.77 1.55v3.1l-2.77 1.55l-2.77 -1.55v-3.1zM1741.6 983.9l2.77 1.55v3.1l-2.77 1.55l-2.77 -1.55v-3.1zM1749.5 970.5l2.77 1.55v3.1l-2.77 1.55l-2.77 -1.55v-3.1zM1746.9 975l2.77 1.55v3.1l-2.77 1.55l-2.77 -1.55v-3.1zM1749.5 979.5l2.77 1.55v3.1l-2.77 1.55l-2.77 -1.55v-3.1zM1746.9 983.9l2.77 1.55v3.1l-2.77 1.55l-2.77 -1.55v-3.1zM1752.2 903.5l2.77 1.55v3.1l-2.77 1.55l-2.77 -1.55v-3.1zM1754.8 908l2.77 1.55v3.1l-2.77 1.55l-2.77 -1.55v-3.1zM1752.2 966.1l2.77 1.55v3.1l-2.77 1.55l-2.77 -1.55v-3.1zM1752.2 983.9l2.77 1.55v3.1l-2.77 1.55l-2.77 -1.55v-3.1zM1752.2 992.9l2.77 1.55v3.1l-2.77 1.55l-2.77 -1.55v-3.1zM1760.1 899l2.77 1.55v3.1l-2.77 1.55l-2.77 -1.55v-3.1zM1757.5 903.5l2.77 1.55v3.1l-2.77 1.55l-2.77 -1.55v-3.1zM1757.5 912.4l2.77 1.55v3.1l-2.77 1.55l-2.77 -1.55v-3.1zM1757.5 966.1l2.77 1.55v3.1l-2.77 1.55l-2.77 -1.55v-3.1zM1760.1 970.5l2.77 1.55v3.1l-2.77 1.55l-2.77 -1.55v-3.1zM1762.7 894.6l2.77 1.55v3.1l-2.77 1.55l-2.77 -1.55v-3.1zM1765.4 908l2.77 1.55v3.1l-2.77 1.55l-2.77 -1.55v-3.1zM1762.7 912.4l2.77 1.55v3.1l-2.77 1.55l-2.77 -1.55v-3.1zM1765.4 916.9l2.77 1.55v3.1l-2.77 1.55l-2.77 -1.55v-3.1zM1765.4 961.6l2.77 1.55v3.1l-2.77 1.55l-2.77 -1.55v-3.1zM1765.4 970.5l2.77 1.55v3.1l-2.77 1.55l-2.77 -1.55v-3.1zM1765.4 1015.2l2.77 1.55v3.1l-2.77 1.55l-2.77 -1.55v-3.1zM1768 903.5l2.77 1.55v3.1l-2.77 1.55l-2.77 -1.55v-3.1zM1770.7 916.9l2.77 1.55v3.1l-2.77 1.55l-2.77 -1.55v-3.1zM1768 921.4l2.77 1.55v3.1l-2.77 1.55l-2.77 -1.55v-3.1zM1768 966.1l2.77 1.55v3.1l-2.77 1.55l-2.77 -1.55v-3.1zM1770.7 970.5l2.77 1.55v3.1l-2.77 1.55l-2.77 -1.55v-3.1zM1770.7 1006.3l2.77 1.55v3.1l-2.77 1.55l-2.77 -1.55v-3.1zM1768 1010.7l2.77 1.55v3.1l-2.77 1.55l-2.77 -1.55v-3.1zM1776 970.5l2.77 1.55v3.1l-2.77 1.55l-2.77 -1.55v-3.1zM1776 979.5l2.77 1.55v3.1l-2.77 1.55l-2.77 -1.55v-3.1zM1781.3 800.7l2.77 1.55v3.1l-2.77 1.55l-2.77 -1.55v-3.1zM1778.6 957.1l2.77 1.55v3.1l-2.77 1.55l-2.77 -1.55v-3.1zM1781.3 961.6l2.77 1.55v3.1l-2.77 1.55l-2.77 -1.55v-3.1zM1778.6 966.1l2.77 1.55v3.1l-2.77 1.55l-2.77 -1.55v-3.1zM1781.3 970.5l2.77 1.55v3.1l-2.77 1.55l-2.77 -1.55v-3.1zM1781.3 979.5l2.77 1.55v3.1l-2.77 1.55l-2.77 -1.55v-3.1zM1778.6 1001.8l2.77 1.55v3.1l-2.77 1.55l-2.77 -1.55v-3.1zM1781.3 1006.3l2.77 1.55v3.1l-2.77 1.55l-2.77 -1.55v-3.1zM1781.3 1015.2l2.77 1.55v3.1l-2.77 1.55l-2.77 -1.55v-3.1zM1781.3 1104.6l2.77 1.55v3.1l-2.77 1.55l-2.77 -1.55v-3.1zM1778.6 1109l2.77 1.55v3.1l-2.77 1.55l-2.77 -1.55v-3.1zM1783.9 805.2l2.77 1.55v3.1l-2.77 1.55l-2.77 -1.55v-3.1zM1786.6 961.6l2.77 1.55v3.1l-2.77 1.55l-2.77 -1.55v-3.1zM1783.9 975l2.77 1.55v3.1l-2.77 1.55l-2.77 -1.55v-3.1zM1783.9 1010.7l2.77 1.55v3.1l-2.77 1.55l-2.77 -1.55v-3.1zM1791.9 782.9l2.77 1.55v3.1l-2.77 1.55l-2.77 -1.55v-3.1zM1791.9 809.7l2.77 1.55v3.1l-2.77 1.55l-2.77 -1.55v-3.1zM1789.2 957.1l2.77 1.55v3.1l-2.77 1.55l-2.77 -1.55v-3.1zM1797.2 773.9l2.77 1.55v3.1l-2.77 1.55l-2.77 -1.55v-3.1zM1794.5 778.4l2.77 1.55v3.1l-2.77 1.55l-2.77 -1.55v-3.1zM1797.2 782.9l2.77 1.55v3.1l-2.77 1.55l-2.77 -1.55v-3.1zM1794.5 814.1l2.77 1.55v3.1l-2.77 1.55l-2.77 -1.55v-3.1zM1797.2 952.7l2.77 1.55v3.1l-2.77 1.55l-2.77 -1.55v-3.1zM1797.2 1006.3l2.77 1.55v3.1l-2.77 1.55l-2.77 -1.55v-3.1zM1797.2 1024.1l2.77 1.55v3.1l-2.77 1.55l-2.77 -1.55v-3.1zM1797.2 1122.4l2.77 1.55v3.1l-2.77 1.55l-2.77 -1.55v-3.1zM1799.8 787.3l2.77 1.55v3.1l-2.77 1.55l-2.77 -1.55v-3.1zM1802.4 791.8l2.77 1.55v3.1l-2.77 1.55l-2.77 -1.55v-3.1zM1802.4 809.7l2.77 1.55v3.1l-2.77 1.55l-2.77 -1.55v-3.1zM1802.4 818.6l2.77 1.55v3.1l-2.77 1.55l-2.77 -1.55v-3.1zM1799.8 823.1l2.77 1.55v3.1l-2.77 1.55l-2.77 -1.55v-3.1zM1802.4 943.7l2.77 1.55v3.1l-2.77 1.55l-2.77 -1.55v-3.1zM1799.8 948.2l2.77 1.55v3.1l-2.77 1.55l-2.77 -1.55v-3.1zM1799.8 1001.8l2.77 1.55v3.1l-2.77 1.55l-2.77 -1.55v-3.1zM1799.8 1010.7l2.77 1.55v3.1l-2.77 1.55l-2.77 -1.55v-3.1zM1802.4 1024.1l2.77 1.55v3.1l-2.77 1.55l-2.77 -1.55v-3.1zM1805.1 796.3l2.77 1.55v3.1l-2.77 1.55l-2.77 -1.55v-3.1zM1805.1 805.2l2.77 1.55v3.1l-2.77 1.55l-2.77 -1.55v-3.1zM1805.1 823.1l2.77 1.55v3.1l-2.77 1.55l-2.77 -1.55v-3.1zM1805.1 939.2l2.77 1.55v3.1l-2.77 1.55l-2.77 -1.55v-3.1zM1805.1 1001.8l2.77 1.55v3.1l-2.77 1.55l-2.77 -1.55v-3.1zM1807.7 1006.3l2.77 1.55v3.1l-2.77 1.55l-2.77 -1.55v-3.1zM1805.1 1010.7l2.77 1.55v3.1l-2.77 1.55l-2.77 -1.55v-3.1zM1810.4 823.1l2.77 1.55v3.1l-2.77 1.55l-2.77 -1.55v-3.1zM1813 1015.2l2.77 1.55v3.1l-2.77 1.55l-2.77 -1.55v-3.1zM1810.4 1019.7l2.77 1.55v3.1l-2.77 1.55l-2.77 -1.55v-3.1zM1818.3 1015.2l2.77 1.55v3.1l-2.77 1.55l-2.77 -1.55v-3.1zM1821 823.1l2.77 1.55v3.1l-2.77 1.55l-2.77 -1.55v-3.1zM1823.6 1006.3l2.77 1.55v3.1l-2.77 1.55l-2.77 -1.55v-3.1zM1821 1010.7l2.77 1.55v3.1l-2.77 1.55l-2.77 -1.55v-3.1zM1821 1019.7l2.77 1.55v3.1l-2.77 1.55l-2.77 -1.55v-3.1zM1826.3 823.1l2.77 1.55v3.1l-2.77 1.55l-2.77 -1.55v-3.1zM1828.9 997.3l2.77 1.55v3.1l-2.77 1.55l-2.77 -1.55v-3.1zM1826.3 1001.8l2.77 1.55v3.1l-2.77 1.55l-2.77 -1.55v-3.1zM1826.3 1010.7l2.77 1.55v3.1l-2.77 1.55l-2.77 -1.55v-3.1zM1834.2 997.3l2.77 1.55v3.1l-2.77 1.55l-2.77 -1.55v-3.1zM1839.5 979.5l2.77 1.55v3.1l-2.77 1.55l-2.77 -1.55v-3.1zM1839.5 988.4l2.77 1.55v3.1l-2.77 1.55l-2.77 -1.55v-3.1zM1842.1 983.9l2.77 1.55v3.1l-2.77 1.55l-2.77 -1.55v-3.1zM1844.8 988.4l2.77 1.55v3.1l-2.77 1.55l-2.77 -1.55v-3.1zM1852.7 930.3l2.77 1.55v3.1l-2.77 1.55l-2.77 -1.55v-3.1zM1852.7 975l2.77 1.55v3.1l-2.77 1.55l-2.77 -1.55v-3.1zM1855.4 979.5l2.77 1.55v3.1l-2.77 1.55l-2.77 -1.55v-3.1zM1858 975l2.77 1.55v3.1l-2.77 1.55l-2.77 -1.55v-3.1zM1863.3 975l2.77 1.55v3.1l-2.77 1.55l-2.77 -1.55v-3.1zM1876.5 970.5l2.77 1.55v3.1l-2.77 1.55l-2.77 -1.55v-3.1zM1892.4 925.8l2.77 1.55v3.1l-2.77 1.55l-2.77 -1.55v-3.1zM1889.8 930.3l2.77 1.55v3.1l-2.77 1.55l-2.77 -1.55v-3.1zM1889.8 939.2l2.77 1.55v3.1l-2.77 1.55l-2.77 -1.55v-3.1zM1889.8 966.1l2.77 1.55v3.1l-2.77 1.55l-2.77 -1.55v-3.1zM1897.7 925.8l2.77 1.55v3.1l-2.77 1.55l-2.77 -1.55v-3.1zM1895.1 939.2l2.77 1.55v3.1l-2.77 1.55l-2.77 -1.55v-3.1zM1895.1 966.1l2.77 1.55v3.1l-2.77 1.55l-2.77 -1.55v-3.1zM1897.7 970.5l2.77 1.55v3.1l-2.77 1.55l-2.77 -1.55v-3.1zM1905.7 912.4l2.77 1.55v3.1l-2.77 1.55l-2.77 -1.55v-3.1zM1905.7 966.1l2.77 1.55v3.1l-2.77 1.55l-2.77 -1.55v-3.1zM1908.3 970.5l2.77 1.55v3.1l-2.77 1.55l-2.77 -1.55v-3.1zM1911 912.4l2.77 1.55v3.1l-2.77 1.55l-2.77 -1.55v-3.1zM1913.6 970.5l2.77 1.55v3.1l-2.77 1.55l-2.77 -1.55v-3.1zM1916.2 912.4l2.77 1.55v3.1l-2.77 1.55l-2.77 -1.55v-3.1zM1916.2 975l2.77 1.55v3.1l-2.77 1.55l-2.77 -1.55v-3.1zM1921.5 912.4l2.77 1.55v3.1l-2.77 1.55l-2.77 -1.55v-3.1zM1926.8 912.4l2.77 1.55v3.1l-2.77 1.55l-2.77 -1.55v-3.1zM1926.8 983.9l2.77 1.55v3.1l-2.77 1.55l-2.77 -1.55v-3.1zM1932.1 912.4l2.77 1.55v3.1l-2.77 1.55l-2.77 -1.55v-3.1zM1932.1 983.9l2.77 1.55v3.1l-2.77 1.55l-2.77 -1.55v-3.1zM1937.4 983.9l2.77 1.55v3.1l-2.77 1.55l-2.77 -1.55v-3.1zM1948 948.2l2.77 1.55v3.1l-2.77 1.55l-2.77 -1.55v-3.1zM1948 957.1l2.77 1.55v3.1l-2.77 1.55l-2.77 -1.55v-3.1zM1950.6 979.5l2.77 1.55v3.1l-2.77 1.55l-2.77 -1.55v-3.1zM1953.3 930.3l2.77 1.55v3.1l-2.77 1.55l-2.77 -1.55v-3.1zM1953.3 948.2l2.77 1.55v3.1l-2.77 1.55l-2.77 -1.55v-3.1zM1955.9 952.7l2.77 1.55v3.1l-2.77 1.55l-2.77 -1.55v-3.1zM1953.3 957.1l2.77 1.55v3.1l-2.77 1.55l-2.77 -1.55v-3.1zM1955.9 970.5l2.77 1.55v3.1l-2.77 1.55l-2.77 -1.55v-3.1zM1961.2 943.7l2.77 1.55v3.1l-2.77 1.55l-2.77 -1.55v-3.1zM1961.2 970.5l2.77 1.55v3.1l-2.77 1.55l-2.77 -1.55v-3.1zM1963.9 948.2l2.77 1.55v3.1l-2.77 1.55l-2.77 -1.55v-3.1zM1966.5 952.7l2.77 1.55v3.1l-2.77 1.55l-2.77 -1.55v-3.1zM1966.5 961.6l2.77 1.55v3.1l-2.77 1.55l-2.77 -1.55v-3.1z"/><path fill="#3F1B5E" d="M1572.2 858.8l2.77 1.55v3.1l-2.77 1.55l-2.77 -1.55v-3.1zM1577.5 876.7l2.77 1.55v3.1l-2.77 1.55l-2.77 -1.55v-3.1zM1580.1 881.2l2.77 1.55v3.1l-2.77 1.55l-2.77 -1.55v-3.1zM1577.5 903.5l2.77 1.55v3.1l-2.77 1.55l-2.77 -1.55v-3.1zM1580.1 908l2.77 1.55v3.1l-2.77 1.55l-2.77 -1.55v-3.1zM1580.1 1050.9l2.77 1.55v3.1l-2.77 1.55l-2.77 -1.55v-3.1zM1582.8 885.6l2.77 1.55v3.1l-2.77 1.55l-2.77 -1.55v-3.1zM1582.8 912.4l2.77 1.55v3.1l-2.77 1.55l-2.77 -1.55v-3.1zM1585.4 943.7l2.77 1.55v3.1l-2.77 1.55l-2.77 -1.55v-3.1zM1588.1 930.3l2.77 1.55v3.1l-2.77 1.55l-2.77 -1.55v-3.1zM1590.7 961.6l2.77 1.55v3.1l-2.77 1.55l-2.77 -1.55v-3.1zM1596 827.5l2.77 1.55v3.1l-2.77 1.55l-2.77 -1.55v-3.1zM1593.4 930.3l2.77 1.55v3.1l-2.77 1.55l-2.77 -1.55v-3.1zM1593.4 948.2l2.77 1.55v3.1l-2.77 1.55l-2.77 -1.55v-3.1zM1596 952.7l2.77 1.55v3.1l-2.77 1.55l-2.77 -1.55v-3.1zM1593.4 957.1l2.77 1.55v3.1l-2.77 1.55l-2.77 -1.55v-3.1zM1598.7 823.1l2.77 1.55v3.1l-2.77 1.55l-2.77 -1.55v-3.1zM1604 823.1l2.77 1.55v3.1l-2.77 1.55l-2.77 -1.55v-3.1zM1604 957.1l2.77 1.55v3.1l-2.77 1.55l-2.77 -1.55v-3.1zM1609.2 823.1l2.77 1.55v3.1l-2.77 1.55l-2.77 -1.55v-3.1zM1609.2 957.1l2.77 1.55v3.1l-2.77 1.55l-2.77 -1.55v-3.1zM1619.8 957.1l2.77 1.55v3.1l-2.77 1.55l-2.77 -1.55v-3.1zM1625.1 1001.8l2.77 1.55v3.1l-2.77 1.55l-2.77 -1.55v-3.1zM1643.7 934.8l2.77 1.55v3.1l-2.77 1.55l-2.77 -1.55v-3.1zM1641 992.9l2.77 1.55v3.1l-2.77 1.55l-2.77 -1.55v-3.1zM1643.7 997.3l2.77 1.55v3.1l-2.77 1.55l-2.77 -1.55v-3.1zM1641 1028.6l2.77 1.55v3.1l-2.77 1.55l-2.77 -1.55v-3.1zM1643.7 1042l2.77 1.55v3.1l-2.77 1.55l-2.77 -1.55v-3.1zM1641 1126.9l2.77 1.55v3.1l-2.77 1.55l-2.77 -1.55v-3.1zM1643.7 1140.3l2.77 1.55v3.1l-2.77 1.55l-2.77 -1.55v-3.1zM1648.9 934.8l2.77 1.55v3.1l-2.77 1.55l-2.77 -1.55v-3.1zM1651.6 921.4l2.77 1.55v3.1l-2.77 1.55l-2.77 -1.55v-3.1zM1654.2 1042l2.77 1.55v3.1l-2.77 1.55l-2.77 -1.55v-3.1zM1656.9 939.2l2.77 1.55v3.1l-2.77 1.55l-2.77 -1.55v-3.1zM1656.9 1019.7l2.77 1.55v3.1l-2.77 1.55l-2.77 -1.55v-3.1zM1659.5 1033.1l2.77 1.55v3.1l-2.77 1.55l-2.77 -1.55v-3.1zM1659.5 1042l2.77 1.55v3.1l-2.77 1.55l-2.77 -1.55v-3.1zM1659.5 1077.8l2.77 1.55v3.1l-2.77 1.55l-2.77 -1.55v-3.1zM1664.8 1006.3l2.77 1.55v3.1l-2.77 1.55l-2.77 -1.55v-3.1zM1664.8 1015.2l2.77 1.55v3.1l-2.77 1.55l-2.77 -1.55v-3.1zM1662.2 1037.5l2.77 1.55v3.1l-2.77 1.55l-2.77 -1.55v-3.1zM1670.1 925.8l2.77 1.55v3.1l-2.77 1.55l-2.77 -1.55v-3.1zM1667.5 1001.8l2.77 1.55v3.1l-2.77 1.55l-2.77 -1.55v-3.1zM1670.1 1006.3l2.77 1.55v3.1l-2.77 1.55l-2.77 -1.55v-3.1zM1670.1 1050.9l2.77 1.55v3.1l-2.77 1.55l-2.77 -1.55v-3.1zM1670.1 1086.7l2.77 1.55v3.1l-2.77 1.55l-2.77 -1.55v-3.1zM1675.4 925.8l2.77 1.55v3.1l-2.77 1.55l-2.77 -1.55v-3.1zM1675.4 1042l2.77 1.55v3.1l-2.77 1.55l-2.77 -1.55v-3.1zM1680.7 836.5l2.77 1.55v3.1l-2.77 1.55l-2.77 -1.55v-3.1zM1678.1 894.6l2.77 1.55v3.1l-2.77 1.55l-2.77 -1.55v-3.1zM1680.7 916.9l2.77 1.55v3.1l-2.77 1.55l-2.77 -1.55v-3.1zM1678.1 939.2l2.77 1.55v3.1l-2.77 1.55l-2.77 -1.55v-3.1zM1678.1 1082.2l2.77 1.55v3.1l-2.77 1.55l-2.77 -1.55v-3.1zM1683.4 832l2.77 1.55v3.1l-2.77 1.55l-2.77 -1.55v-3.1zM1683.4 885.6l2.77 1.55v3.1l-2.77 1.55l-2.77 -1.55v-3.1zM1686 890.1l2.77 1.55v3.1l-2.77 1.55l-2.77 -1.55v-3.1zM1683.4 1082.2l2.77 1.55v3.1l-2.77 1.55l-2.77 -1.55v-3.1zM1691.3 827.5l2.77 1.55v3.1l-2.77 1.55l-2.77 -1.55v-3.1zM1691.3 863.3l2.77 1.55v3.1l-2.77 1.55l-2.77 -1.55v-3.1zM1688.6 930.3l2.77 1.55v3.1l-2.77 1.55l-2.77 -1.55v-3.1zM1688.6 1001.8l2.77 1.55v3.1l-2.77 1.55l-2.77 -1.55v-3.1zM1691.3 1086.7l2.77 1.55v3.1l-2.77 1.55l-2.77 -1.55v-3.1zM1693.9 832l2.77 1.55v3.1l-2.77 1.55l-2.77 -1.55v-3.1zM1696.6 836.5l2.77 1.55v3.1l-2.77 1.55l-2.77 -1.55v-3.1zM1693.9 841l2.77 1.55v3.1l-2.77 1.55l-2.77 -1.55v-3.1zM1696.6 952.7l2.77 1.55v3.1l-2.77 1.55l-2.77 -1.55v-3.1zM1693.9 957.1l2.77 1.55v3.1l-2.77 1.55l-2.77 -1.55v-3.1zM1712.5 997.3l2.77 1.55v3.1l-2.77 1.55l-2.77 -1.55v-3.1zM1709.8 1001.8l2.77 1.55v3.1l-2.77 1.55l-2.77 -1.55v-3.1zM1712.5 1015.2l2.77 1.55v3.1l-2.77 1.55l-2.77 -1.55v-3.1zM1712.5 1086.7l2.77 1.55v3.1l-2.77 1.55l-2.77 -1.55v-3.1zM1717.8 1006.3l2.77 1.55v3.1l-2.77 1.55l-2.77 -1.55v-3.1zM1715.1 1028.6l2.77 1.55v3.1l-2.77 1.55l-2.77 -1.55v-3.1zM1717.8 1033.1l2.77 1.55v3.1l-2.77 1.55l-2.77 -1.55v-3.1zM1715.1 1091.2l2.77 1.55v3.1l-2.77 1.55l-2.77 -1.55v-3.1zM1723 997.3l2.77 1.55v3.1l-2.77 1.55l-2.77 -1.55v-3.1zM1723 1006.3l2.77 1.55v3.1l-2.77 1.55l-2.77 -1.55v-3.1zM1723 1033.1l2.77 1.55v3.1l-2.77 1.55l-2.77 -1.55v-3.1zM1723 1059.9l2.77 1.55v3.1l-2.77 1.55l-2.77 -1.55v-3.1zM1728.3 988.4l2.77 1.55v3.1l-2.77 1.55l-2.77 -1.55v-3.1zM1725.7 1037.5l2.77 1.55v3.1l-2.77 1.55l-2.77 -1.55v-3.1zM1725.7 1055.4l2.77 1.55v3.1l-2.77 1.55l-2.77 -1.55v-3.1zM1725.7 1064.4l2.77 1.55v3.1l-2.77 1.55l-2.77 -1.55v-3.1zM1728.3 1068.8l2.77 1.55v3.1l-2.77 1.55l-2.77 -1.55v-3.1zM1725.7 1073.3l2.77 1.55v3.1l-2.77 1.55l-2.77 -1.55v-3.1zM1731 983.9l2.77 1.55v3.1l-2.77 1.55l-2.77 -1.55v-3.1zM1733.6 1086.7l2.77 1.55v3.1l-2.77 1.55l-2.77 -1.55v-3.1zM1736.3 983.9l2.77 1.55v3.1l-2.77 1.55l-2.77 -1.55v-3.1zM1744.2 961.6l2.77 1.55v3.1l-2.77 1.55l-2.77 -1.55v-3.1zM1749.5 961.6l2.77 1.55v3.1l-2.77 1.55l-2.77 -1.55v-3.1zM1754.8 997.3l2.77 1.55v3.1l-2.77 1.55l-2.77 -1.55v-3.1zM1760.1 988.4l2.77 1.55v3.1l-2.77 1.55l-2.77 -1.55v-3.1zM1757.5 1001.8l2.77 1.55v3.1l-2.77 1.55l-2.77 -1.55v-3.1zM1760.1 1006.3l2.77 1.55v3.1l-2.77 1.55l-2.77 -1.55v-3.1zM1765.4 899l2.77 1.55v3.1l-2.77 1.55l-2.77 -1.55v-3.1zM1762.7 903.5l2.77 1.55v3.1l-2.77 1.55l-2.77 -1.55v-3.1zM1762.7 921.4l2.77 1.55v3.1l-2.77 1.55l-2.77 -1.55v-3.1zM1762.7 1010.7l2.77 1.55v3.1l-2.77 1.55l-2.77 -1.55v-3.1zM1770.7 908l2.77 1.55v3.1l-2.77 1.55l-2.77 -1.55v-3.1zM1770.7 988.4l2.77 1.55v3.1l-2.77 1.55l-2.77 -1.55v-3.1zM1773.3 975l2.77 1.55v3.1l-2.77 1.55l-2.77 -1.55v-3.1zM1773.3 983.9l2.77 1.55v3.1l-2.77 1.55l-2.77 -1.55v-3.1zM1776 988.4l2.77 1.55v3.1l-2.77 1.55l-2.77 -1.55v-3.1zM1773.3 1001.8l2.77 1.55v3.1l-2.77 1.55l-2.77 -1.55v-3.1zM1773.3 1010.7l2.77 1.55v3.1l-2.77 1.55l-2.77 -1.55v-3.1zM1783.9 796.3l2.77 1.55v3.1l-2.77 1.55l-2.77 -1.55v-3.1zM1783.9 966.1l2.77 1.55v3.1l-2.77 1.55l-2.77 -1.55v-3.1zM1783.9 1109l2.77 1.55v3.1l-2.77 1.55l-2.77 -1.55v-3.1zM1789.2 787.3l2.77 1.55v3.1l-2.77 1.55l-2.77 -1.55v-3.1zM1791.9 952.7l2.77 1.55v3.1l-2.77 1.55l-2.77 -1.55v-3.1zM1791.9 1006.3l2.77 1.55v3.1l-2.77 1.55l-2.77 -1.55v-3.1zM1797.2 791.8l2.77 1.55v3.1l-2.77 1.55l-2.77 -1.55v-3.1zM1797.2 818.6l2.77 1.55v3.1l-2.77 1.55l-2.77 -1.55v-3.1zM1794.5 1001.8l2.77 1.55v3.1l-2.77 1.55l-2.77 -1.55v-3.1zM1794.5 1010.7l2.77 1.55v3.1l-2.77 1.55l-2.77 -1.55v-3.1zM1802.4 1015.2l2.77 1.55v3.1l-2.77 1.55l-2.77 -1.55v-3.1zM1799.8 1019.7l2.77 1.55v3.1l-2.77 1.55l-2.77 -1.55v-3.1zM1805.1 1019.7l2.77 1.55v3.1l-2.77 1.55l-2.77 -1.55v-3.1zM1810.4 930.3l2.77 1.55v3.1l-2.77 1.55l-2.77 -1.55v-3.1zM1810.4 939.2l2.77 1.55v3.1l-2.77 1.55l-2.77 -1.55v-3.1zM1818.3 818.6l2.77 1.55v3.1l-2.77 1.55l-2.77 -1.55v-3.1zM1818.3 1006.3l2.77 1.55v3.1l-2.77 1.55l-2.77 -1.55v-3.1zM1834.2 970.5l2.77 1.55v3.1l-2.77 1.55l-2.77 -1.55v-3.1zM1836.8 975l2.77 1.55v3.1l-2.77 1.55l-2.77 -1.55v-3.1zM1836.8 992.9l2.77 1.55v3.1l-2.77 1.55l-2.77 -1.55v-3.1zM1842.1 966.1l2.77 1.55v3.1l-2.77 1.55l-2.77 -1.55v-3.1zM1847.4 966.1l2.77 1.55v3.1l-2.77 1.55l-2.77 -1.55v-3.1zM1850.1 970.5l2.77 1.55v3.1l-2.77 1.55l-2.77 -1.55v-3.1zM1852.7 939.2l2.77 1.55v3.1l-2.77 1.55l-2.77 -1.55v-3.1zM1858 939.2l2.77 1.55v3.1l-2.77 1.55l-2.77 -1.55v-3.1zM1866 970.5l2.77 1.55v3.1l-2.77 1.55l-2.77 -1.55v-3.1zM1871.3 970.5l2.77 1.55v3.1l-2.77 1.55l-2.77 -1.55v-3.1zM1881.8 970.5l2.77 1.55v3.1l-2.77 1.55l-2.77 -1.55v-3.1zM1884.5 930.3l2.77 1.55v3.1l-2.77 1.55l-2.77 -1.55v-3.1zM1887.1 943.7l2.77 1.55v3.1l-2.77 1.55l-2.77 -1.55v-3.1zM1887.1 970.5l2.77 1.55v3.1l-2.77 1.55l-2.77 -1.55v-3.1zM1889.8 948.2l2.77 1.55v3.1l-2.77 1.55l-2.77 -1.55v-3.1zM1897.7 934.8l2.77 1.55v3.1l-2.77 1.55l-2.77 -1.55v-3.1zM1897.7 943.7l2.77 1.55v3.1l-2.77 1.55l-2.77 -1.55v-3.1zM1895.1 948.2l2.77 1.55v3.1l-2.77 1.55l-2.77 -1.55v-3.1zM1903 916.9l2.77 1.55v3.1l-2.77 1.55l-2.77 -1.55v-3.1zM1900.4 930.3l2.77 1.55v3.1l-2.77 1.55l-2.77 -1.55v-3.1zM1900.4 966.1l2.77 1.55v3.1l-2.77 1.55l-2.77 -1.55v-3.1zM1903 979.5l2.77 1.55v3.1l-2.77 1.55l-2.77 -1.55v-3.1zM1905.7 975l2.77 1.55v3.1l-2.77 1.55l-2.77 -1.55v-3.1zM1918.9 979.5l2.77 1.55v3.1l-2.77 1.55l-2.77 -1.55v-3.1zM1921.5 983.9l2.77 1.55v3.1l-2.77 1.55l-2.77 -1.55v-3.1zM1937.4 912.4l2.77 1.55v3.1l-2.77 1.55l-2.77 -1.55v-3.1zM1937.4 975l2.77 1.55v3.1l-2.77 1.55l-2.77 -1.55v-3.1zM1940.1 979.5l2.77 1.55v3.1l-2.77 1.55l-2.77 -1.55v-3.1zM1942.7 912.4l2.77 1.55v3.1l-2.77 1.55l-2.77 -1.55v-3.1zM1945.4 952.7l2.77 1.55v3.1l-2.77 1.55l-2.77 -1.55v-3.1zM1950.6 934.8l2.77 1.55v3.1l-2.77 1.55l-2.77 -1.55v-3.1zM1953.3 939.2l2.77 1.55v3.1l-2.77 1.55l-2.77 -1.55v-3.1zM1955.9 943.7l2.77 1.55v3.1l-2.77 1.55l-2.77 -1.55v-3.1zM1953.3 975l2.77 1.55v3.1l-2.77 1.55l-2.77 -1.55v-3.1zM1963.9 966.1l2.77 1.55v3.1l-2.77 1.55l-2.77 -1.55v-3.1z"/><path fill="#422164" d="M1574.8 1042l2.77 1.55v3.1l-2.77 1.55l-2.77 -1.55v-3.1zM1574.8 1050.9l2.77 1.55v3.1l-2.77 1.55l-2.77 -1.55v-3.1zM1580.1 872.2l2.77 1.55v3.1l-2.77 1.55l-2.77 -1.55v-3.1zM1585.4 854.4l2.77 1.55v3.1l-2.77 1.55l-2.77 -1.55v-3.1zM1582.8 867.8l2.77 1.55v3.1l-2.77 1.55l-2.77 -1.55v-3.1zM1585.4 872.2l2.77 1.55v3.1l-2.77 1.55l-2.77 -1.55v-3.1zM1582.8 876.7l2.77 1.55v3.1l-2.77 1.55l-2.77 -1.55v-3.1zM1585.4 890.1l2.77 1.55v3.1l-2.77 1.55l-2.77 -1.55v-3.1zM1585.4 934.8l2.77 1.55v3.1l-2.77 1.55l-2.77 -1.55v-3.1zM1582.8 1028.6l2.77 1.55v3.1l-2.77 1.55l-2.77 -1.55v-3.1zM1582.8 1046.5l2.77 1.55v3.1l-2.77 1.55l-2.77 -1.55v-3.1zM1590.7 863.3l2.77 1.55v3.1l-2.77 1.55l-2.77 -1.55v-3.1zM1590.7 872.2l2.77 1.55v3.1l-2.77 1.55l-2.77 -1.55v-3.1zM1588.1 876.7l2.77 1.55v3.1l-2.77 1.55l-2.77 -1.55v-3.1zM1588.1 885.6l2.77 1.55v3.1l-2.77 1.55l-2.77 -1.55v-3.1zM1588.1 894.6l2.77 1.55v3.1l-2.77 1.55l-2.77 -1.55v-3.1zM1590.7 908l2.77 1.55v3.1l-2.77 1.55l-2.77 -1.55v-3.1zM1590.7 916.9l2.77 1.55v3.1l-2.77 1.55l-2.77 -1.55v-3.1zM1590.7 943.7l2.77 1.55v3.1l-2.77 1.55l-2.77 -1.55v-3.1zM1588.1 1028.6l2.77 1.55v3.1l-2.77 1.55l-2.77 -1.55v-3.1zM1596 836.5l2.77 1.55v3.1l-2.77 1.55l-2.77 -1.55v-3.1zM1596 845.4l2.77 1.55v3.1l-2.77 1.55l-2.77 -1.55v-3.1zM1593.4 876.7l2.77 1.55v3.1l-2.77 1.55l-2.77 -1.55v-3.1zM1593.4 912.4l2.77 1.55v3.1l-2.77 1.55l-2.77 -1.55v-3.1zM1593.4 921.4l2.77 1.55v3.1l-2.77 1.55l-2.77 -1.55v-3.1zM1596 925.8l2.77 1.55v3.1l-2.77 1.55l-2.77 -1.55v-3.1zM1593.4 939.2l2.77 1.55v3.1l-2.77 1.55l-2.77 -1.55v-3.1zM1601.3 827.5l2.77 1.55v3.1l-2.77 1.55l-2.77 -1.55v-3.1zM1601.3 934.8l2.77 1.55v3.1l-2.77 1.55l-2.77 -1.55v-3.1zM1598.7 948.2l2.77 1.55v3.1l-2.77 1.55l-2.77 -1.55v-3.1zM1601.3 952.7l2.77 1.55v3.1l-2.77 1.55l-2.77 -1.55v-3.1zM1606.6 952.7l2.77 1.55v3.1l-2.77 1.55l-2.77 -1.55v-3.1zM1622.5 952.7l2.77 1.55v3.1l-2.77 1.55l-2.77 -1.55v-3.1zM1627.8 952.7l2.77 1.55v3.1l-2.77 1.55l-2.77 -1.55v-3.1zM1638.4 943.7l2.77 1.55v3.1l-2.77 1.55l-2.77 -1.55v-3.1zM1641 823.1l2.77 1.55v3.1l-2.77 1.55l-2.77 -1.55v-3.1zM1641 930.3l2.77 1.55v3.1l-2.77 1.55l-2.77 -1.55v-3.1zM1641 939.2l2.77 1.55v3.1l-2.77 1.55l-2.77 -1.55v-3.1zM1643.7 1033.1l2.77 1.55v3.1l-2.77 1.55l-2.77 -1.55v-3.1zM1646.3 823.1l2.77 1.55v3.1l-2.77 1.55l-2.77 -1.55v-3.1zM1648.9 1024.1l2.77 1.55v3.1l-2.77 1.55l-2.77 -1.55v-3.1zM1648.9 1033.1l2.77 1.55v3.1l-2.77 1.55l-2.77 -1.55v-3.1zM1651.6 823.1l2.77 1.55v3.1l-2.77 1.55l-2.77 -1.55v-3.1zM1654.2 1033.1l2.77 1.55v3.1l-2.77 1.55l-2.77 -1.55v-3.1zM1656.9 823.1l2.77 1.55v3.1l-2.77 1.55l-2.77 -1.55v-3.1zM1659.5 1059.9l2.77 1.55v3.1l-2.77 1.55l-2.77 -1.55v-3.1zM1664.8 1033.1l2.77 1.55v3.1l-2.77 1.55l-2.77 -1.55v-3.1zM1664.8 1077.8l2.77 1.55v3.1l-2.77 1.55l-2.77 -1.55v-3.1zM1670.1 836.5l2.77 1.55v3.1l-2.77 1.55l-2.77 -1.55v-3.1zM1667.5 1010.7l2.77 1.55v3.1l-2.77 1.55l-2.77 -1.55v-3.1zM1670.1 1015.2l2.77 1.55v3.1l-2.77 1.55l-2.77 -1.55v-3.1zM1667.5 1082.2l2.77 1.55v3.1l-2.77 1.55l-2.77 -1.55v-3.1zM1675.4 836.5l2.77 1.55v3.1l-2.77 1.55l-2.77 -1.55v-3.1zM1675.4 899l2.77 1.55v3.1l-2.77 1.55l-2.77 -1.55v-3.1zM1672.8 1028.6l2.77 1.55v3.1l-2.77 1.55l-2.77 -1.55v-3.1zM1672.8 1046.5l2.77 1.55v3.1l-2.77 1.55l-2.77 -1.55v-3.1zM1675.4 1077.8l2.77 1.55v3.1l-2.77 1.55l-2.77 -1.55v-3.1zM1672.8 1082.2l2.77 1.55v3.1l-2.77 1.55l-2.77 -1.55v-3.1zM1680.7 881.2l2.77 1.55v3.1l-2.77 1.55l-2.77 -1.55v-3.1zM1678.1 1046.5l2.77 1.55v3.1l-2.77 1.55l-2.77 -1.55v-3.1zM1686 934.8l2.77 1.55v3.1l-2.77 1.55l-2.77 -1.55v-3.1zM1688.6 939.2l2.77 1.55v3.1l-2.77 1.55l-2.77 -1.55v-3.1zM1691.3 943.7l2.77 1.55v3.1l-2.77 1.55l-2.77 -1.55v-3.1zM1688.6 1082.2l2.77 1.55v3.1l-2.77 1.55l-2.77 -1.55v-3.1zM1696.6 943.7l2.77 1.55v3.1l-2.77 1.55l-2.77 -1.55v-3.1zM1701.9 970.5l2.77 1.55v3.1l-2.77 1.55l-2.77 -1.55v-3.1zM1707.2 1015.2l2.77 1.55v3.1l-2.77 1.55l-2.77 -1.55v-3.1zM1704.5 1082.2l2.77 1.55v3.1l-2.77 1.55l-2.77 -1.55v-3.1zM1712.5 934.8l2.77 1.55v3.1l-2.77 1.55l-2.77 -1.55v-3.1zM1712.5 988.4l2.77 1.55v3.1l-2.77 1.55l-2.77 -1.55v-3.1zM1709.8 1019.7l2.77 1.55v3.1l-2.77 1.55l-2.77 -1.55v-3.1zM1709.8 1082.2l2.77 1.55v3.1l-2.77 1.55l-2.77 -1.55v-3.1zM1715.1 930.3l2.77 1.55v3.1l-2.77 1.55l-2.77 -1.55v-3.1zM1715.1 992.9l2.77 1.55v3.1l-2.77 1.55l-2.77 -1.55v-3.1zM1717.8 1050.9l2.77 1.55v3.1l-2.77 1.55l-2.77 -1.55v-3.1zM1720.4 1001.8l2.77 1.55v3.1l-2.77 1.55l-2.77 -1.55v-3.1zM1723 1042l2.77 1.55v3.1l-2.77 1.55l-2.77 -1.55v-3.1zM1720.4 1046.5l2.77 1.55v3.1l-2.77 1.55l-2.77 -1.55v-3.1zM1720.4 1073.3l2.77 1.55v3.1l-2.77 1.55l-2.77 -1.55v-3.1zM1723 1086.7l2.77 1.55v3.1l-2.77 1.55l-2.77 -1.55v-3.1zM1725.7 921.4l2.77 1.55v3.1l-2.77 1.55l-2.77 -1.55v-3.1zM1731 921.4l2.77 1.55v3.1l-2.77 1.55l-2.77 -1.55v-3.1zM1733.6 925.8l2.77 1.55v3.1l-2.77 1.55l-2.77 -1.55v-3.1zM1736.3 930.3l2.77 1.55v3.1l-2.77 1.55l-2.77 -1.55v-3.1zM1741.6 957.1l2.77 1.55v3.1l-2.77 1.55l-2.77 -1.55v-3.1zM1760.1 908l2.77 1.55v3.1l-2.77 1.55l-2.77 -1.55v-3.1zM1760.1 997.3l2.77 1.55v3.1l-2.77 1.55l-2.77 -1.55v-3.1zM1776 997.3l2.77 1.55v3.1l-2.77 1.55l-2.77 -1.55v-3.1zM1781.3 988.4l2.77 1.55v3.1l-2.77 1.55l-2.77 -1.55v-3.1zM1778.6 992.9l2.77 1.55v3.1l-2.77 1.55l-2.77 -1.55v-3.1zM1781.3 997.3l2.77 1.55v3.1l-2.77 1.55l-2.77 -1.55v-3.1zM1783.9 992.9l2.77 1.55v3.1l-2.77 1.55l-2.77 -1.55v-3.1zM1786.6 997.3l2.77 1.55v3.1l-2.77 1.55l-2.77 -1.55v-3.1zM1791.9 961.6l2.77 1.55v3.1l-2.77 1.55l-2.77 -1.55v-3.1zM1791.9 970.5l2.77 1.55v3.1l-2.77 1.55l-2.77 -1.55v-3.1zM1789.2 975l2.77 1.55v3.1l-2.77 1.55l-2.77 -1.55v-3.1zM1791.9 997.3l2.77 1.55v3.1l-2.77 1.55l-2.77 -1.55v-3.1zM1791.9 1024.1l2.77 1.55v3.1l-2.77 1.55l-2.77 -1.55v-3.1zM1794.5 805.2l2.77 1.55v3.1l-2.77 1.55l-2.77 -1.55v-3.1zM1794.5 966.1l2.77 1.55v3.1l-2.77 1.55l-2.77 -1.55v-3.1zM1797.2 970.5l2.77 1.55v3.1l-2.77 1.55l-2.77 -1.55v-3.1zM1794.5 983.9l2.77 1.55v3.1l-2.77 1.55l-2.77 -1.55v-3.1zM1797.2 988.4l2.77 1.55v3.1l-2.77 1.55l-2.77 -1.55v-3.1zM1799.8 796.3l2.77 1.55v3.1l-2.77 1.55l-2.77 -1.55v-3.1zM1799.8 957.1l2.77 1.55v3.1l-2.77 1.55l-2.77 -1.55v-3.1zM1802.4 961.6l2.77 1.55v3.1l-2.77 1.55l-2.77 -1.55v-3.1zM1799.8 966.1l2.77 1.55v3.1l-2.77 1.55l-2.77 -1.55v-3.1zM1799.8 983.9l2.77 1.55v3.1l-2.77 1.55l-2.77 -1.55v-3.1zM1799.8 992.9l2.77 1.55v3.1l-2.77 1.55l-2.77 -1.55v-3.1zM1805.1 948.2l2.77 1.55v3.1l-2.77 1.55l-2.77 -1.55v-3.1zM1807.7 952.7l2.77 1.55v3.1l-2.77 1.55l-2.77 -1.55v-3.1zM1807.7 961.6l2.77 1.55v3.1l-2.77 1.55l-2.77 -1.55v-3.1zM1805.1 966.1l2.77 1.55v3.1l-2.77 1.55l-2.77 -1.55v-3.1zM1805.1 975l2.77 1.55v3.1l-2.77 1.55l-2.77 -1.55v-3.1zM1807.7 979.5l2.77 1.55v3.1l-2.77 1.55l-2.77 -1.55v-3.1zM1810.4 966.1l2.77 1.55v3.1l-2.77 1.55l-2.77 -1.55v-3.1zM1813 970.5l2.77 1.55v3.1l-2.77 1.55l-2.77 -1.55v-3.1zM1810.4 992.9l2.77 1.55v3.1l-2.77 1.55l-2.77 -1.55v-3.1zM1813 1006.3l2.77 1.55v3.1l-2.77 1.55l-2.77 -1.55v-3.1zM1815.7 823.1l2.77 1.55v3.1l-2.77 1.55l-2.77 -1.55v-3.1zM1815.7 930.3l2.77 1.55v3.1l-2.77 1.55l-2.77 -1.55v-3.1zM1815.7 966.1l2.77 1.55v3.1l-2.77 1.55l-2.77 -1.55v-3.1zM1818.3 970.5l2.77 1.55v3.1l-2.77 1.55l-2.77 -1.55v-3.1zM1815.7 975l2.77 1.55v3.1l-2.77 1.55l-2.77 -1.55v-3.1zM1818.3 988.4l2.77 1.55v3.1l-2.77 1.55l-2.77 -1.55v-3.1zM1815.7 1001.8l2.77 1.55v3.1l-2.77 1.55l-2.77 -1.55v-3.1zM1823.6 916.9l2.77 1.55v3.1l-2.77 1.55l-2.77 -1.55v-3.1zM1821 966.1l2.77 1.55v3.1l-2.77 1.55l-2.77 -1.55v-3.1zM1823.6 970.5l2.77 1.55v3.1l-2.77 1.55l-2.77 -1.55v-3.1zM1821 992.9l2.77 1.55v3.1l-2.77 1.55l-2.77 -1.55v-3.1zM1823.6 997.3l2.77 1.55v3.1l-2.77 1.55l-2.77 -1.55v-3.1zM1826.3 921.4l2.77 1.55v3.1l-2.77 1.55l-2.77 -1.55v-3.1zM1828.9 970.5l2.77 1.55v3.1l-2.77 1.55l-2.77 -1.55v-3.1zM1831.6 921.4l2.77 1.55v3.1l-2.77 1.55l-2.77 -1.55v-3.1zM1834.2 979.5l2.77 1.55v3.1l-2.77 1.55l-2.77 -1.55v-3.1zM1844.8 925.8l2.77 1.55v3.1l-2.77 1.55l-2.77 -1.55v-3.1zM1852.7 966.1l2.77 1.55v3.1l-2.77 1.55l-2.77 -1.55v-3.1zM1860.7 970.5l2.77 1.55v3.1l-2.77 1.55l-2.77 -1.55v-3.1zM1866 925.8l2.77 1.55v3.1l-2.77 1.55l-2.77 -1.55v-3.1zM1873.9 921.4l2.77 1.55v3.1l-2.77 1.55l-2.77 -1.55v-3.1zM1884.5 966.1l2.77 1.55v3.1l-2.77 1.55l-2.77 -1.55v-3.1zM1892.4 961.6l2.77 1.55v3.1l-2.77 1.55l-2.77 -1.55v-3.1zM1903 925.8l2.77 1.55v3.1l-2.77 1.55l-2.77 -1.55v-3.1zM1903 934.8l2.77 1.55v3.1l-2.77 1.55l-2.77 -1.55v-3.1zM1903 943.7l2.77 1.55v3.1l-2.77 1.55l-2.77 -1.55v-3.1zM1905.7 921.4l2.77 1.55v3.1l-2.77 1.55l-2.77 -1.55v-3.1zM1913.6 916.9l2.77 1.55v3.1l-2.77 1.55l-2.77 -1.55v-3.1zM1918.9 916.9l2.77 1.55v3.1l-2.77 1.55l-2.77 -1.55v-3.1zM1916.2 921.4l2.77 1.55v3.1l-2.77 1.55l-2.77 -1.55v-3.1zM1916.2 966.1l2.77 1.55v3.1l-2.77 1.55l-2.77 -1.55v-3.1zM1918.9 970.5l2.77 1.55v3.1l-2.77 1.55l-2.77 -1.55v-3.1zM1924.2 916.9l2.77 1.55v3.1l-2.77 1.55l-2.77 -1.55v-3.1zM1924.2 970.5l2.77 1.55v3.1l-2.77 1.55l-2.77 -1.55v-3.1zM1924.2 979.5l2.77 1.55v3.1l-2.77 1.55l-2.77 -1.55v-3.1zM1934.8 970.5l2.77 1.55v3.1l-2.77 1.55l-2.77 -1.55v-3.1zM1934.8 979.5l2.77 1.55v3.1l-2.77 1.55l-2.77 -1.55v-3.1zM1945.4 916.9l2.77 1.55v3.1l-2.77 1.55l-2.77 -1.55v-3.1zM1945.4 943.7l2.77 1.55v3.1l-2.77 1.55l-2.77 -1.55v-3.1zM1945.4 961.6l2.77 1.55v3.1l-2.77 1.55l-2.77 -1.55v-3.1zM1948 939.2l2.77 1.55v3.1l-2.77 1.55l-2.77 -1.55v-3.1zM1950.6 943.7l2.77 1.55v3.1l-2.77 1.55l-2.77 -1.55v-3.1zM1950.6 961.6l2.77 1.55v3.1l-2.77 1.55l-2.77 -1.55v-3.1zM1948 966.1l2.77 1.55v3.1l-2.77 1.55l-2.77 -1.55v-3.1zM1950.6 970.5l2.77 1.55v3.1l-2.77 1.55l-2.77 -1.55v-3.1zM1948 975l2.77 1.55v3.1l-2.77 1.55l-2.77 -1.55v-3.1zM1953.3 921.4l2.77 1.55v3.1l-2.77 1.55l-2.77 -1.55v-3.1zM1958.6 948.2l2.77 1.55v3.1l-2.77 1.55l-2.77 -1.55v-3.1zM1961.2 952.7l2.77 1.55v3.1l-2.77 1.55l-2.77 -1.55v-3.1zM1961.2 961.6l2.77 1.55v3.1l-2.77 1.55l-2.77 -1.55v-3.1zM1958.6 966.1l2.77 1.55v3.1l-2.77 1.55l-2.77 -1.55v-3.1z"/><path fill="#411E61" d="M1572.2 1046.5l2.77 1.55v3.1l-2.77 1.55l-2.77 -1.55v-3.1zM1580.1 854.4l2.77 1.55v3.1l-2.77 1.55l-2.77 -1.55v-3.1zM1577.5 858.8l2.77 1.55v3.1l-2.77 1.55l-2.77 -1.55v-3.1zM1580.1 863.3l2.77 1.55v3.1l-2.77 1.55l-2.77 -1.55v-3.1zM1577.5 867.8l2.77 1.55v3.1l-2.77 1.55l-2.77 -1.55v-3.1zM1582.8 849.9l2.77 1.55v3.1l-2.77 1.55l-2.77 -1.55v-3.1zM1585.4 863.3l2.77 1.55v3.1l-2.77 1.55l-2.77 -1.55v-3.1zM1585.4 881.2l2.77 1.55v3.1l-2.77 1.55l-2.77 -1.55v-3.1zM1585.4 908l2.77 1.55v3.1l-2.77 1.55l-2.77 -1.55v-3.1zM1585.4 916.9l2.77 1.55v3.1l-2.77 1.55l-2.77 -1.55v-3.1zM1590.7 845.4l2.77 1.55v3.1l-2.77 1.55l-2.77 -1.55v-3.1zM1588.1 849.9l2.77 1.55v3.1l-2.77 1.55l-2.77 -1.55v-3.1zM1588.1 921.4l2.77 1.55v3.1l-2.77 1.55l-2.77 -1.55v-3.1zM1590.7 934.8l2.77 1.55v3.1l-2.77 1.55l-2.77 -1.55v-3.1zM1588.1 939.2l2.77 1.55v3.1l-2.77 1.55l-2.77 -1.55v-3.1zM1590.7 1033.1l2.77 1.55v3.1l-2.77 1.55l-2.77 -1.55v-3.1zM1593.4 841l2.77 1.55v3.1l-2.77 1.55l-2.77 -1.55v-3.1zM1596 934.8l2.77 1.55v3.1l-2.77 1.55l-2.77 -1.55v-3.1zM1593.4 1028.6l2.77 1.55v3.1l-2.77 1.55l-2.77 -1.55v-3.1zM1598.7 832l2.77 1.55v3.1l-2.77 1.55l-2.77 -1.55v-3.1zM1614.5 823.1l2.77 1.55v3.1l-2.77 1.55l-2.77 -1.55v-3.1zM1619.8 823.1l2.77 1.55v3.1l-2.77 1.55l-2.77 -1.55v-3.1zM1625.1 823.1l2.77 1.55v3.1l-2.77 1.55l-2.77 -1.55v-3.1zM1627.8 997.3l2.77 1.55v3.1l-2.77 1.55l-2.77 -1.55v-3.1zM1630.4 823.1l2.77 1.55v3.1l-2.77 1.55l-2.77 -1.55v-3.1zM1643.7 925.8l2.77 1.55v3.1l-2.77 1.55l-2.77 -1.55v-3.1zM1641 1037.5l2.77 1.55v3.1l-2.77 1.55l-2.77 -1.55v-3.1zM1643.7 1131.4l2.77 1.55v3.1l-2.77 1.55l-2.77 -1.55v-3.1zM1641 1135.8l2.77 1.55v3.1l-2.77 1.55l-2.77 -1.55v-3.1zM1648.9 925.8l2.77 1.55v3.1l-2.77 1.55l-2.77 -1.55v-3.1zM1648.9 1042l2.77 1.55v3.1l-2.77 1.55l-2.77 -1.55v-3.1zM1646.3 1126.9l2.77 1.55v3.1l-2.77 1.55l-2.77 -1.55v-3.1zM1651.6 1019.7l2.77 1.55v3.1l-2.77 1.55l-2.77 -1.55v-3.1zM1654.2 1059.9l2.77 1.55v3.1l-2.77 1.55l-2.77 -1.55v-3.1zM1656.9 921.4l2.77 1.55v3.1l-2.77 1.55l-2.77 -1.55v-3.1zM1656.9 1037.5l2.77 1.55v3.1l-2.77 1.55l-2.77 -1.55v-3.1zM1664.8 925.8l2.77 1.55v3.1l-2.77 1.55l-2.77 -1.55v-3.1zM1662.2 1019.7l2.77 1.55v3.1l-2.77 1.55l-2.77 -1.55v-3.1zM1662.2 1055.4l2.77 1.55v3.1l-2.77 1.55l-2.77 -1.55v-3.1zM1664.8 1068.8l2.77 1.55v3.1l-2.77 1.55l-2.77 -1.55v-3.1zM1662.2 1073.3l2.77 1.55v3.1l-2.77 1.55l-2.77 -1.55v-3.1zM1667.5 1055.4l2.77 1.55v3.1l-2.77 1.55l-2.77 -1.55v-3.1zM1667.5 1073.3l2.77 1.55v3.1l-2.77 1.55l-2.77 -1.55v-3.1zM1670.1 1158.2l2.77 1.55v3.1l-2.77 1.55l-2.77 -1.55v-3.1zM1675.4 1006.3l2.77 1.55v3.1l-2.77 1.55l-2.77 -1.55v-3.1zM1675.4 1158.2l2.77 1.55v3.1l-2.77 1.55l-2.77 -1.55v-3.1zM1680.7 890.1l2.77 1.55v3.1l-2.77 1.55l-2.77 -1.55v-3.1zM1678.1 912.4l2.77 1.55v3.1l-2.77 1.55l-2.77 -1.55v-3.1zM1680.7 1077.8l2.77 1.55v3.1l-2.77 1.55l-2.77 -1.55v-3.1zM1686 872.2l2.77 1.55v3.1l-2.77 1.55l-2.77 -1.55v-3.1zM1683.4 876.7l2.77 1.55v3.1l-2.77 1.55l-2.77 -1.55v-3.1zM1686 1033.1l2.77 1.55v3.1l-2.77 1.55l-2.77 -1.55v-3.1zM1683.4 1153.7l2.77 1.55v3.1l-2.77 1.55l-2.77 -1.55v-3.1zM1691.3 836.5l2.77 1.55v3.1l-2.77 1.55l-2.77 -1.55v-3.1zM1688.6 867.8l2.77 1.55v3.1l-2.77 1.55l-2.77 -1.55v-3.1zM1696.6 845.4l2.77 1.55v3.1l-2.77 1.55l-2.77 -1.55v-3.1zM1693.9 858.8l2.77 1.55v3.1l-2.77 1.55l-2.77 -1.55v-3.1zM1696.6 961.6l2.77 1.55v3.1l-2.77 1.55l-2.77 -1.55v-3.1zM1696.6 1086.7l2.77 1.55v3.1l-2.77 1.55l-2.77 -1.55v-3.1zM1699.2 966.1l2.77 1.55v3.1l-2.77 1.55l-2.77 -1.55v-3.1zM1704.5 939.2l2.77 1.55v3.1l-2.77 1.55l-2.77 -1.55v-3.1zM1707.2 979.5l2.77 1.55v3.1l-2.77 1.55l-2.77 -1.55v-3.1zM1709.8 983.9l2.77 1.55v3.1l-2.77 1.55l-2.77 -1.55v-3.1zM1712.5 1024.1l2.77 1.55v3.1l-2.77 1.55l-2.77 -1.55v-3.1zM1715.1 1010.7l2.77 1.55v3.1l-2.77 1.55l-2.77 -1.55v-3.1zM1717.8 1086.7l2.77 1.55v3.1l-2.77 1.55l-2.77 -1.55v-3.1zM1720.4 1055.4l2.77 1.55v3.1l-2.77 1.55l-2.77 -1.55v-3.1zM1723 1077.8l2.77 1.55v3.1l-2.77 1.55l-2.77 -1.55v-3.1zM1725.7 992.9l2.77 1.55v3.1l-2.77 1.55l-2.77 -1.55v-3.1zM1725.7 1046.5l2.77 1.55v3.1l-2.77 1.55l-2.77 -1.55v-3.1zM1725.7 1082.2l2.77 1.55v3.1l-2.77 1.55l-2.77 -1.55v-3.1zM1728.3 1086.7l2.77 1.55v3.1l-2.77 1.55l-2.77 -1.55v-3.1zM1736.3 921.4l2.77 1.55v3.1l-2.77 1.55l-2.77 -1.55v-3.1zM1744.2 970.5l2.77 1.55v3.1l-2.77 1.55l-2.77 -1.55v-3.1zM1744.2 979.5l2.77 1.55v3.1l-2.77 1.55l-2.77 -1.55v-3.1zM1765.4 988.4l2.77 1.55v3.1l-2.77 1.55l-2.77 -1.55v-3.1zM1778.6 983.9l2.77 1.55v3.1l-2.77 1.55l-2.77 -1.55v-3.1zM1786.6 970.5l2.77 1.55v3.1l-2.77 1.55l-2.77 -1.55v-3.1zM1786.6 979.5l2.77 1.55v3.1l-2.77 1.55l-2.77 -1.55v-3.1zM1783.9 983.9l2.77 1.55v3.1l-2.77 1.55l-2.77 -1.55v-3.1zM1783.9 1001.8l2.77 1.55v3.1l-2.77 1.55l-2.77 -1.55v-3.1zM1786.6 1006.3l2.77 1.55v3.1l-2.77 1.55l-2.77 -1.55v-3.1zM1789.2 805.2l2.77 1.55v3.1l-2.77 1.55l-2.77 -1.55v-3.1zM1789.2 966.1l2.77 1.55v3.1l-2.77 1.55l-2.77 -1.55v-3.1zM1791.9 979.5l2.77 1.55v3.1l-2.77 1.55l-2.77 -1.55v-3.1zM1789.2 1010.7l2.77 1.55v3.1l-2.77 1.55l-2.77 -1.55v-3.1zM1797.2 800.7l2.77 1.55v3.1l-2.77 1.55l-2.77 -1.55v-3.1zM1794.5 957.1l2.77 1.55v3.1l-2.77 1.55l-2.77 -1.55v-3.1zM1797.2 997.3l2.77 1.55v3.1l-2.77 1.55l-2.77 -1.55v-3.1zM1797.2 1015.2l2.77 1.55v3.1l-2.77 1.55l-2.77 -1.55v-3.1zM1794.5 1118l2.77 1.55v3.1l-2.77 1.55l-2.77 -1.55v-3.1zM1802.4 952.7l2.77 1.55v3.1l-2.77 1.55l-2.77 -1.55v-3.1zM1802.4 997.3l2.77 1.55v3.1l-2.77 1.55l-2.77 -1.55v-3.1zM1807.7 943.7l2.77 1.55v3.1l-2.77 1.55l-2.77 -1.55v-3.1zM1805.1 957.1l2.77 1.55v3.1l-2.77 1.55l-2.77 -1.55v-3.1zM1807.7 997.3l2.77 1.55v3.1l-2.77 1.55l-2.77 -1.55v-3.1zM1807.7 1015.2l2.77 1.55v3.1l-2.77 1.55l-2.77 -1.55v-3.1zM1813 934.8l2.77 1.55v3.1l-2.77 1.55l-2.77 -1.55v-3.1zM1813 997.3l2.77 1.55v3.1l-2.77 1.55l-2.77 -1.55v-3.1zM1810.4 1001.8l2.77 1.55v3.1l-2.77 1.55l-2.77 -1.55v-3.1zM1810.4 1010.7l2.77 1.55v3.1l-2.77 1.55l-2.77 -1.55v-3.1zM1818.3 997.3l2.77 1.55v3.1l-2.77 1.55l-2.77 -1.55v-3.1zM1815.7 1010.7l2.77 1.55v3.1l-2.77 1.55l-2.77 -1.55v-3.1zM1821 1001.8l2.77 1.55v3.1l-2.77 1.55l-2.77 -1.55v-3.1zM1831.6 975l2.77 1.55v3.1l-2.77 1.55l-2.77 -1.55v-3.1zM1836.8 966.1l2.77 1.55v3.1l-2.77 1.55l-2.77 -1.55v-3.1zM1842.1 921.4l2.77 1.55v3.1l-2.77 1.55l-2.77 -1.55v-3.1zM1847.4 930.3l2.77 1.55v3.1l-2.77 1.55l-2.77 -1.55v-3.1zM1850.1 934.8l2.77 1.55v3.1l-2.77 1.55l-2.77 -1.55v-3.1zM1855.4 970.5l2.77 1.55v3.1l-2.77 1.55l-2.77 -1.55v-3.1zM1863.3 930.3l2.77 1.55v3.1l-2.77 1.55l-2.77 -1.55v-3.1zM1863.3 939.2l2.77 1.55v3.1l-2.77 1.55l-2.77 -1.55v-3.1zM1881.8 934.8l2.77 1.55v3.1l-2.77 1.55l-2.77 -1.55v-3.1zM1884.5 939.2l2.77 1.55v3.1l-2.77 1.55l-2.77 -1.55v-3.1zM1908.3 916.9l2.77 1.55v3.1l-2.77 1.55l-2.77 -1.55v-3.1zM1905.7 930.3l2.77 1.55v3.1l-2.77 1.55l-2.77 -1.55v-3.1zM1921.5 975l2.77 1.55v3.1l-2.77 1.55l-2.77 -1.55v-3.1zM1929.5 979.5l2.77 1.55v3.1l-2.77 1.55l-2.77 -1.55v-3.1zM1942.7 957.1l2.77 1.55v3.1l-2.77 1.55l-2.77 -1.55v-3.1zM1942.7 975l2.77 1.55v3.1l-2.77 1.55l-2.77 -1.55v-3.1zM1955.9 961.6l2.77 1.55v3.1l-2.77 1.55l-2.77 -1.55v-3.1zM1953.3 966.1l2.77 1.55v3.1l-2.77 1.55l-2.77 -1.55v-3.1zM1958.6 957.1l2.77 1.55v3.1l-2.77 1.55l-2.77 -1.55v-3.1z"/><path fill="#432D6F" d="M1572.2 1055.4l2.77 1.55v3.1l-2.77 1.55l-2.77 -1.55v-3.1zM1593.4 858.8l2.77 1.55v3.1l-2.77 1.55l-2.77 -1.55v-3.1zM1593.4 867.8l2.77 1.55v3.1l-2.77 1.55l-2.77 -1.55v-3.1zM1596 872.2l2.77 1.55v3.1l-2.77 1.55l-2.77 -1.55v-3.1zM1593.4 894.6l2.77 1.55v3.1l-2.77 1.55l-2.77 -1.55v-3.1zM1596 908l2.77 1.55v3.1l-2.77 1.55l-2.77 -1.55v-3.1zM1601.3 836.5l2.77 1.55v3.1l-2.77 1.55l-2.77 -1.55v-3.1zM1601.3 854.4l2.77 1.55v3.1l-2.77 1.55l-2.77 -1.55v-3.1zM1598.7 858.8l2.77 1.55v3.1l-2.77 1.55l-2.77 -1.55v-3.1zM1598.7 876.7l2.77 1.55v3.1l-2.77 1.55l-2.77 -1.55v-3.1zM1598.7 885.6l2.77 1.55v3.1l-2.77 1.55l-2.77 -1.55v-3.1zM1604 832l2.77 1.55v3.1l-2.77 1.55l-2.77 -1.55v-3.1zM1604 841l2.77 1.55v3.1l-2.77 1.55l-2.77 -1.55v-3.1zM1604 858.8l2.77 1.55v3.1l-2.77 1.55l-2.77 -1.55v-3.1zM1606.6 863.3l2.77 1.55v3.1l-2.77 1.55l-2.77 -1.55v-3.1zM1604 867.8l2.77 1.55v3.1l-2.77 1.55l-2.77 -1.55v-3.1zM1606.6 872.2l2.77 1.55v3.1l-2.77 1.55l-2.77 -1.55v-3.1zM1606.6 881.2l2.77 1.55v3.1l-2.77 1.55l-2.77 -1.55v-3.1zM1606.6 943.7l2.77 1.55v3.1l-2.77 1.55l-2.77 -1.55v-3.1zM1609.2 832l2.77 1.55v3.1l-2.77 1.55l-2.77 -1.55v-3.1zM1611.9 890.1l2.77 1.55v3.1l-2.77 1.55l-2.77 -1.55v-3.1zM1609.2 939.2l2.77 1.55v3.1l-2.77 1.55l-2.77 -1.55v-3.1zM1617.2 827.5l2.77 1.55v3.1l-2.77 1.55l-2.77 -1.55v-3.1zM1617.2 952.7l2.77 1.55v3.1l-2.77 1.55l-2.77 -1.55v-3.1zM1648.9 1140.3l2.77 1.55v3.1l-2.77 1.55l-2.77 -1.55v-3.1zM1656.9 1144.8l2.77 1.55v3.1l-2.77 1.55l-2.77 -1.55v-3.1zM1662.2 1064.4l2.77 1.55v3.1l-2.77 1.55l-2.77 -1.55v-3.1zM1675.4 890.1l2.77 1.55v3.1l-2.77 1.55l-2.77 -1.55v-3.1zM1675.4 916.9l2.77 1.55v3.1l-2.77 1.55l-2.77 -1.55v-3.1zM1675.4 1015.2l2.77 1.55v3.1l-2.77 1.55l-2.77 -1.55v-3.1zM1675.4 1068.8l2.77 1.55v3.1l-2.77 1.55l-2.77 -1.55v-3.1zM1675.4 1149.2l2.77 1.55v3.1l-2.77 1.55l-2.77 -1.55v-3.1zM1680.7 872.2l2.77 1.55v3.1l-2.77 1.55l-2.77 -1.55v-3.1zM1680.7 1015.2l2.77 1.55v3.1l-2.77 1.55l-2.77 -1.55v-3.1zM1680.7 1050.9l2.77 1.55v3.1l-2.77 1.55l-2.77 -1.55v-3.1zM1686 863.3l2.77 1.55v3.1l-2.77 1.55l-2.77 -1.55v-3.1zM1683.4 867.8l2.77 1.55v3.1l-2.77 1.55l-2.77 -1.55v-3.1zM1686 1015.2l2.77 1.55v3.1l-2.77 1.55l-2.77 -1.55v-3.1zM1686 1042l2.77 1.55v3.1l-2.77 1.55l-2.77 -1.55v-3.1zM1683.4 1073.3l2.77 1.55v3.1l-2.77 1.55l-2.77 -1.55v-3.1zM1691.3 1006.3l2.77 1.55v3.1l-2.77 1.55l-2.77 -1.55v-3.1zM1688.6 1019.7l2.77 1.55v3.1l-2.77 1.55l-2.77 -1.55v-3.1zM1691.3 1042l2.77 1.55v3.1l-2.77 1.55l-2.77 -1.55v-3.1zM1693.9 849.9l2.77 1.55v3.1l-2.77 1.55l-2.77 -1.55v-3.1zM1701.9 943.7l2.77 1.55v3.1l-2.77 1.55l-2.77 -1.55v-3.1zM1699.2 948.2l2.77 1.55v3.1l-2.77 1.55l-2.77 -1.55v-3.1zM1699.2 957.1l2.77 1.55v3.1l-2.77 1.55l-2.77 -1.55v-3.1zM1701.9 1015.2l2.77 1.55v3.1l-2.77 1.55l-2.77 -1.55v-3.1zM1699.2 1019.7l2.77 1.55v3.1l-2.77 1.55l-2.77 -1.55v-3.1zM1701.9 1033.1l2.77 1.55v3.1l-2.77 1.55l-2.77 -1.55v-3.1zM1699.2 1037.5l2.77 1.55v3.1l-2.77 1.55l-2.77 -1.55v-3.1zM1707.2 1077.8l2.77 1.55v3.1l-2.77 1.55l-2.77 -1.55v-3.1zM1712.5 1006.3l2.77 1.55v3.1l-2.77 1.55l-2.77 -1.55v-3.1zM1712.5 1050.9l2.77 1.55v3.1l-2.77 1.55l-2.77 -1.55v-3.1zM1712.5 1077.8l2.77 1.55v3.1l-2.77 1.55l-2.77 -1.55v-3.1zM1715.1 1055.4l2.77 1.55v3.1l-2.77 1.55l-2.77 -1.55v-3.1zM1728.3 979.5l2.77 1.55v3.1l-2.77 1.55l-2.77 -1.55v-3.1zM1783.9 1019.7l2.77 1.55v3.1l-2.77 1.55l-2.77 -1.55v-3.1zM1789.2 1118l2.77 1.55v3.1l-2.77 1.55l-2.77 -1.55v-3.1zM1815.7 939.2l2.77 1.55v3.1l-2.77 1.55l-2.77 -1.55v-3.1zM1823.6 961.6l2.77 1.55v3.1l-2.77 1.55l-2.77 -1.55v-3.1zM1826.3 992.9l2.77 1.55v3.1l-2.77 1.55l-2.77 -1.55v-3.1zM1834.2 988.4l2.77 1.55v3.1l-2.77 1.55l-2.77 -1.55v-3.1zM1839.5 961.6l2.77 1.55v3.1l-2.77 1.55l-2.77 -1.55v-3.1zM1852.7 957.1l2.77 1.55v3.1l-2.77 1.55l-2.77 -1.55v-3.1zM1860.7 943.7l2.77 1.55v3.1l-2.77 1.55l-2.77 -1.55v-3.1zM1860.7 952.7l2.77 1.55v3.1l-2.77 1.55l-2.77 -1.55v-3.1zM1858 957.1l2.77 1.55v3.1l-2.77 1.55l-2.77 -1.55v-3.1zM1873.9 966.1l2.77 1.55v3.1l-2.77 1.55l-2.77 -1.55v-3.1zM1884.5 948.2l2.77 1.55v3.1l-2.77 1.55l-2.77 -1.55v-3.1zM1913.6 934.8l2.77 1.55v3.1l-2.77 1.55l-2.77 -1.55v-3.1zM1916.2 930.3l2.77 1.55v3.1l-2.77 1.55l-2.77 -1.55v-3.1zM1921.5 921.4l2.77 1.55v3.1l-2.77 1.55l-2.77 -1.55v-3.1zM1924.2 961.6l2.77 1.55v3.1l-2.77 1.55l-2.77 -1.55v-3.1zM1926.8 966.1l2.77 1.55v3.1l-2.77 1.55l-2.77 -1.55v-3.1zM1932.1 966.1l2.77 1.55v3.1l-2.77 1.55l-2.77 -1.55v-3.1zM1940.1 943.7l2.77 1.55v3.1l-2.77 1.55l-2.77 -1.55v-3.1z"/><path fill="#3D1558" d="M1580.1 845.4l2.77 1.55v3.1l-2.77 1.55l-2.77 -1.55v-3.1zM1619.8 1001.8l2.77 1.55v3.1l-2.77 1.55l-2.77 -1.55v-3.1zM1641 1046.5l2.77 1.55v3.1l-2.77 1.55l-2.77 -1.55v-3.1zM1656.9 1073.3l2.77 1.55v3.1l-2.77 1.55l-2.77 -1.55v-3.1zM1786.6 809.7l2.77 1.55v3.1l-2.77 1.55l-2.77 -1.55v-3.1zM1799.8 778.4l2.77 1.55v3.1l-2.77 1.55l-2.77 -1.55v-3.1zM1900.4 921.4l2.77 1.55v3.1l-2.77 1.55l-2.77 -1.55v-3.1zM1945.4 979.5l2.77 1.55v3.1l-2.77 1.55l-2.77 -1.55v-3.1zM1963.9 957.1l2.77 1.55v3.1l-2.77 1.55l-2.77 -1.55v-3.1z"/><path fill="#43286B" d="M1580.1 1033.1l2.77 1.55v3.1l-2.77 1.55l-2.77 -1.55v-3.1zM1585.4 899l2.77 1.55v3.1l-2.77 1.55l-2.77 -1.55v-3.1zM1585.4 1042l2.77 1.55v3.1l-2.77 1.55l-2.77 -1.55v-3.1zM1590.7 854.4l2.77 1.55v3.1l-2.77 1.55l-2.77 -1.55v-3.1zM1590.7 890.1l2.77 1.55v3.1l-2.77 1.55l-2.77 -1.55v-3.1zM1588.1 903.5l2.77 1.55v3.1l-2.77 1.55l-2.77 -1.55v-3.1zM1596 854.4l2.77 1.55v3.1l-2.77 1.55l-2.77 -1.55v-3.1zM1598.7 841l2.77 1.55v3.1l-2.77 1.55l-2.77 -1.55v-3.1zM1598.7 849.9l2.77 1.55v3.1l-2.77 1.55l-2.77 -1.55v-3.1zM1601.3 863.3l2.77 1.55v3.1l-2.77 1.55l-2.77 -1.55v-3.1zM1601.3 943.7l2.77 1.55v3.1l-2.77 1.55l-2.77 -1.55v-3.1zM1604 849.9l2.77 1.55v3.1l-2.77 1.55l-2.77 -1.55v-3.1zM1604 876.7l2.77 1.55v3.1l-2.77 1.55l-2.77 -1.55v-3.1zM1604 930.3l2.77 1.55v3.1l-2.77 1.55l-2.77 -1.55v-3.1zM1606.6 934.8l2.77 1.55v3.1l-2.77 1.55l-2.77 -1.55v-3.1zM1604 939.2l2.77 1.55v3.1l-2.77 1.55l-2.77 -1.55v-3.1zM1609.2 876.7l2.77 1.55v3.1l-2.77 1.55l-2.77 -1.55v-3.1zM1609.2 885.6l2.77 1.55v3.1l-2.77 1.55l-2.77 -1.55v-3.1zM1609.2 948.2l2.77 1.55v3.1l-2.77 1.55l-2.77 -1.55v-3.1zM1633.1 827.5l2.77 1.55v3.1l-2.77 1.55l-2.77 -1.55v-3.1zM1638.4 827.5l2.77 1.55v3.1l-2.77 1.55l-2.77 -1.55v-3.1zM1638.4 934.8l2.77 1.55v3.1l-2.77 1.55l-2.77 -1.55v-3.1zM1641 921.4l2.77 1.55v3.1l-2.77 1.55l-2.77 -1.55v-3.1zM1646.3 1028.6l2.77 1.55v3.1l-2.77 1.55l-2.77 -1.55v-3.1zM1651.6 1028.6l2.77 1.55v3.1l-2.77 1.55l-2.77 -1.55v-3.1zM1651.6 1037.5l2.77 1.55v3.1l-2.77 1.55l-2.77 -1.55v-3.1zM1659.5 827.5l2.77 1.55v3.1l-2.77 1.55l-2.77 -1.55v-3.1zM1659.5 1149.2l2.77 1.55v3.1l-2.77 1.55l-2.77 -1.55v-3.1zM1664.8 836.5l2.77 1.55v3.1l-2.77 1.55l-2.77 -1.55v-3.1zM1664.8 1131.4l2.77 1.55v3.1l-2.77 1.55l-2.77 -1.55v-3.1zM1667.5 1019.7l2.77 1.55v3.1l-2.77 1.55l-2.77 -1.55v-3.1zM1670.1 1068.8l2.77 1.55v3.1l-2.77 1.55l-2.77 -1.55v-3.1zM1667.5 1135.8l2.77 1.55v3.1l-2.77 1.55l-2.77 -1.55v-3.1zM1670.1 1140.3l2.77 1.55v3.1l-2.77 1.55l-2.77 -1.55v-3.1zM1675.4 908l2.77 1.55v3.1l-2.77 1.55l-2.77 -1.55v-3.1zM1672.8 921.4l2.77 1.55v3.1l-2.77 1.55l-2.77 -1.55v-3.1zM1672.8 1073.3l2.77 1.55v3.1l-2.77 1.55l-2.77 -1.55v-3.1zM1678.1 841l2.77 1.55v3.1l-2.77 1.55l-2.77 -1.55v-3.1zM1678.1 885.6l2.77 1.55v3.1l-2.77 1.55l-2.77 -1.55v-3.1zM1683.4 939.2l2.77 1.55v3.1l-2.77 1.55l-2.77 -1.55v-3.1zM1686 1077.8l2.77 1.55v3.1l-2.77 1.55l-2.77 -1.55v-3.1zM1691.3 1015.2l2.77 1.55v3.1l-2.77 1.55l-2.77 -1.55v-3.1zM1691.3 1033.1l2.77 1.55v3.1l-2.77 1.55l-2.77 -1.55v-3.1zM1688.6 1037.5l2.77 1.55v3.1l-2.77 1.55l-2.77 -1.55v-3.1zM1696.6 1006.3l2.77 1.55v3.1l-2.77 1.55l-2.77 -1.55v-3.1zM1701.9 1006.3l2.77 1.55v3.1l-2.77 1.55l-2.77 -1.55v-3.1zM1701.9 1077.8l2.77 1.55v3.1l-2.77 1.55l-2.77 -1.55v-3.1zM1707.2 970.5l2.77 1.55v3.1l-2.77 1.55l-2.77 -1.55v-3.1zM1709.8 975l2.77 1.55v3.1l-2.77 1.55l-2.77 -1.55v-3.1zM1717.8 997.3l2.77 1.55v3.1l-2.77 1.55l-2.77 -1.55v-3.1zM1717.8 1059.9l2.77 1.55v3.1l-2.77 1.55l-2.77 -1.55v-3.1zM1715.1 1073.3l2.77 1.55v3.1l-2.77 1.55l-2.77 -1.55v-3.1zM1715.1 1082.2l2.77 1.55v3.1l-2.77 1.55l-2.77 -1.55v-3.1zM1723 1068.8l2.77 1.55v3.1l-2.77 1.55l-2.77 -1.55v-3.1zM1720.4 1082.2l2.77 1.55v3.1l-2.77 1.55l-2.77 -1.55v-3.1zM1736.3 948.2l2.77 1.55v3.1l-2.77 1.55l-2.77 -1.55v-3.1zM1736.3 957.1l2.77 1.55v3.1l-2.77 1.55l-2.77 -1.55v-3.1zM1738.9 979.5l2.77 1.55v3.1l-2.77 1.55l-2.77 -1.55v-3.1zM1762.7 992.9l2.77 1.55v3.1l-2.77 1.55l-2.77 -1.55v-3.1zM1794.5 975l2.77 1.55v3.1l-2.77 1.55l-2.77 -1.55v-3.1zM1797.2 979.5l2.77 1.55v3.1l-2.77 1.55l-2.77 -1.55v-3.1zM1794.5 1019.7l2.77 1.55v3.1l-2.77 1.55l-2.77 -1.55v-3.1zM1802.4 979.5l2.77 1.55v3.1l-2.77 1.55l-2.77 -1.55v-3.1zM1802.4 988.4l2.77 1.55v3.1l-2.77 1.55l-2.77 -1.55v-3.1zM1807.7 970.5l2.77 1.55v3.1l-2.77 1.55l-2.77 -1.55v-3.1zM1807.7 988.4l2.77 1.55v3.1l-2.77 1.55l-2.77 -1.55v-3.1zM1805.1 992.9l2.77 1.55v3.1l-2.77 1.55l-2.77 -1.55v-3.1zM1810.4 948.2l2.77 1.55v3.1l-2.77 1.55l-2.77 -1.55v-3.1zM1813 952.7l2.77 1.55v3.1l-2.77 1.55l-2.77 -1.55v-3.1zM1813 961.6l2.77 1.55v3.1l-2.77 1.55l-2.77 -1.55v-3.1zM1810.4 975l2.77 1.55v3.1l-2.77 1.55l-2.77 -1.55v-3.1zM1815.7 948.2l2.77 1.55v3.1l-2.77 1.55l-2.77 -1.55v-3.1zM1815.7 957.1l2.77 1.55v3.1l-2.77 1.55l-2.77 -1.55v-3.1zM1818.3 961.6l2.77 1.55v3.1l-2.77 1.55l-2.77 -1.55v-3.1zM1818.3 979.5l2.77 1.55v3.1l-2.77 1.55l-2.77 -1.55v-3.1zM1815.7 983.9l2.77 1.55v3.1l-2.77 1.55l-2.77 -1.55v-3.1zM1815.7 992.9l2.77 1.55v3.1l-2.77 1.55l-2.77 -1.55v-3.1zM1821 975l2.77 1.55v3.1l-2.77 1.55l-2.77 -1.55v-3.1zM1823.6 979.5l2.77 1.55v3.1l-2.77 1.55l-2.77 -1.55v-3.1zM1826.3 983.9l2.77 1.55v3.1l-2.77 1.55l-2.77 -1.55v-3.1zM1834.2 961.6l2.77 1.55v3.1l-2.77 1.55l-2.77 -1.55v-3.1zM1831.6 992.9l2.77 1.55v3.1l-2.77 1.55l-2.77 -1.55v-3.1zM1844.8 961.6l2.77 1.55v3.1l-2.77 1.55l-2.77 -1.55v-3.1zM1850.1 961.6l2.77 1.55v3.1l-2.77 1.55l-2.77 -1.55v-3.1zM1852.7 948.2l2.77 1.55v3.1l-2.77 1.55l-2.77 -1.55v-3.1zM1855.4 961.6l2.77 1.55v3.1l-2.77 1.55l-2.77 -1.55v-3.1zM1858 966.1l2.77 1.55v3.1l-2.77 1.55l-2.77 -1.55v-3.1zM1887.1 952.7l2.77 1.55v3.1l-2.77 1.55l-2.77 -1.55v-3.1zM1884.5 957.1l2.77 1.55v3.1l-2.77 1.55l-2.77 -1.55v-3.1zM1897.7 952.7l2.77 1.55v3.1l-2.77 1.55l-2.77 -1.55v-3.1zM1895.1 957.1l2.77 1.55v3.1l-2.77 1.55l-2.77 -1.55v-3.1zM1905.7 939.2l2.77 1.55v3.1l-2.77 1.55l-2.77 -1.55v-3.1zM1908.3 961.6l2.77 1.55v3.1l-2.77 1.55l-2.77 -1.55v-3.1zM1918.9 925.8l2.77 1.55v3.1l-2.77 1.55l-2.77 -1.55v-3.1zM1918.9 961.6l2.77 1.55v3.1l-2.77 1.55l-2.77 -1.55v-3.1zM1921.5 966.1l2.77 1.55v3.1l-2.77 1.55l-2.77 -1.55v-3.1zM1929.5 916.9l2.77 1.55v3.1l-2.77 1.55l-2.77 -1.55v-3.1zM1929.5 961.6l2.77 1.55v3.1l-2.77 1.55l-2.77 -1.55v-3.1zM1926.8 975l2.77 1.55v3.1l-2.77 1.55l-2.77 -1.55v-3.1zM1934.8 952.7l2.77 1.55v3.1l-2.77 1.55l-2.77 -1.55v-3.1zM1932.1 957.1l2.77 1.55v3.1l-2.77 1.55l-2.77 -1.55v-3.1zM1934.8 961.6l2.77 1.55v3.1l-2.77 1.55l-2.77 -1.55v-3.1zM1932.1 975l2.77 1.55v3.1l-2.77 1.55l-2.77 -1.55v-3.1zM1937.4 948.2l2.77 1.55v3.1l-2.77 1.55l-2.77 -1.55v-3.1zM1937.4 957.1l2.77 1.55v3.1l-2.77 1.55l-2.77 -1.55v-3.1zM1940.1 961.6l2.77 1.55v3.1l-2.77 1.55l-2.77 -1.55v-3.1zM1940.1 970.5l2.77 1.55v3.1l-2.77 1.55l-2.77 -1.55v-3.1zM1950.6 925.8l2.77 1.55v3.1l-2.77 1.55l-2.77 -1.55v-3.1zM1948 930.3l2.77 1.55v3.1l-2.77 1.55l-2.77 -1.55v-3.1z"/><path fill="#433174" d="M1577.5 1037.5l2.77 1.55v3.1l-2.77 1.55l-2.77 -1.55v-3.1zM1590.7 899l2.77 1.55v3.1l-2.77 1.55l-2.77 -1.55v-3.1zM1596 890.1l2.77 1.55v3.1l-2.77 1.55l-2.77 -1.55v-3.1zM1593.4 903.5l2.77 1.55v3.1l-2.77 1.55l-2.77 -1.55v-3.1zM1596 916.9l2.77 1.55v3.1l-2.77 1.55l-2.77 -1.55v-3.1zM1601.3 845.4l2.77 1.55v3.1l-2.77 1.55l-2.77 -1.55v-3.1zM1601.3 890.1l2.77 1.55v3.1l-2.77 1.55l-2.77 -1.55v-3.1zM1606.6 854.4l2.77 1.55v3.1l-2.77 1.55l-2.77 -1.55v-3.1zM1606.6 890.1l2.77 1.55v3.1l-2.77 1.55l-2.77 -1.55v-3.1zM1609.2 841l2.77 1.55v3.1l-2.77 1.55l-2.77 -1.55v-3.1zM1611.9 872.2l2.77 1.55v3.1l-2.77 1.55l-2.77 -1.55v-3.1zM1611.9 881.2l2.77 1.55v3.1l-2.77 1.55l-2.77 -1.55v-3.1zM1609.2 894.6l2.77 1.55v3.1l-2.77 1.55l-2.77 -1.55v-3.1zM1611.9 934.8l2.77 1.55v3.1l-2.77 1.55l-2.77 -1.55v-3.1zM1611.9 943.7l2.77 1.55v3.1l-2.77 1.55l-2.77 -1.55v-3.1zM1614.5 832l2.77 1.55v3.1l-2.77 1.55l-2.77 -1.55v-3.1zM1614.5 876.7l2.77 1.55v3.1l-2.77 1.55l-2.77 -1.55v-3.1zM1617.2 934.8l2.77 1.55v3.1l-2.77 1.55l-2.77 -1.55v-3.1zM1614.5 939.2l2.77 1.55v3.1l-2.77 1.55l-2.77 -1.55v-3.1zM1614.5 948.2l2.77 1.55v3.1l-2.77 1.55l-2.77 -1.55v-3.1zM1622.5 827.5l2.77 1.55v3.1l-2.77 1.55l-2.77 -1.55v-3.1zM1619.8 885.6l2.77 1.55v3.1l-2.77 1.55l-2.77 -1.55v-3.1zM1627.8 827.5l2.77 1.55v3.1l-2.77 1.55l-2.77 -1.55v-3.1zM1635.7 921.4l2.77 1.55v3.1l-2.77 1.55l-2.77 -1.55v-3.1zM1648.9 916.9l2.77 1.55v3.1l-2.77 1.55l-2.77 -1.55v-3.1zM1654.2 1140.3l2.77 1.55v3.1l-2.77 1.55l-2.77 -1.55v-3.1zM1656.9 1126.9l2.77 1.55v3.1l-2.77 1.55l-2.77 -1.55v-3.1zM1659.5 1131.4l2.77 1.55v3.1l-2.77 1.55l-2.77 -1.55v-3.1zM1662.2 832l2.77 1.55v3.1l-2.77 1.55l-2.77 -1.55v-3.1zM1672.8 1010.7l2.77 1.55v3.1l-2.77 1.55l-2.77 -1.55v-3.1zM1672.8 1019.7l2.77 1.55v3.1l-2.77 1.55l-2.77 -1.55v-3.1zM1678.1 1019.7l2.77 1.55v3.1l-2.77 1.55l-2.77 -1.55v-3.1zM1680.7 1068.8l2.77 1.55v3.1l-2.77 1.55l-2.77 -1.55v-3.1zM1683.4 1019.7l2.77 1.55v3.1l-2.77 1.55l-2.77 -1.55v-3.1zM1683.4 1046.5l2.77 1.55v3.1l-2.77 1.55l-2.77 -1.55v-3.1zM1688.6 841l2.77 1.55v3.1l-2.77 1.55l-2.77 -1.55v-3.1zM1691.3 854.4l2.77 1.55v3.1l-2.77 1.55l-2.77 -1.55v-3.1zM1688.6 858.8l2.77 1.55v3.1l-2.77 1.55l-2.77 -1.55v-3.1zM1693.9 1019.7l2.77 1.55v3.1l-2.77 1.55l-2.77 -1.55v-3.1zM1696.6 1033.1l2.77 1.55v3.1l-2.77 1.55l-2.77 -1.55v-3.1zM1699.2 1028.6l2.77 1.55v3.1l-2.77 1.55l-2.77 -1.55v-3.1zM1704.5 1028.6l2.77 1.55v3.1l-2.77 1.55l-2.77 -1.55v-3.1zM1738.9 961.6l2.77 1.55v3.1l-2.77 1.55l-2.77 -1.55v-3.1zM1738.9 970.5l2.77 1.55v3.1l-2.77 1.55l-2.77 -1.55v-3.1zM1768 992.9l2.77 1.55v3.1l-2.77 1.55l-2.77 -1.55v-3.1zM1802.4 800.7l2.77 1.55v3.1l-2.77 1.55l-2.77 -1.55v-3.1zM1818.3 943.7l2.77 1.55v3.1l-2.77 1.55l-2.77 -1.55v-3.1zM1818.3 952.7l2.77 1.55v3.1l-2.77 1.55l-2.77 -1.55v-3.1zM1821 948.2l2.77 1.55v3.1l-2.77 1.55l-2.77 -1.55v-3.1zM1821 957.1l2.77 1.55v3.1l-2.77 1.55l-2.77 -1.55v-3.1zM1823.6 988.4l2.77 1.55v3.1l-2.77 1.55l-2.77 -1.55v-3.1zM1826.3 957.1l2.77 1.55v3.1l-2.77 1.55l-2.77 -1.55v-3.1zM1828.9 961.6l2.77 1.55v3.1l-2.77 1.55l-2.77 -1.55v-3.1zM1831.6 983.9l2.77 1.55v3.1l-2.77 1.55l-2.77 -1.55v-3.1zM1850.1 943.7l2.77 1.55v3.1l-2.77 1.55l-2.77 -1.55v-3.1zM1855.4 952.7l2.77 1.55v3.1l-2.77 1.55l-2.77 -1.55v-3.1zM1863.3 957.1l2.77 1.55v3.1l-2.77 1.55l-2.77 -1.55v-3.1zM1889.8 957.1l2.77 1.55v3.1l-2.77 1.55l-2.77 -1.55v-3.1zM1900.4 957.1l2.77 1.55v3.1l-2.77 1.55l-2.77 -1.55v-3.1zM1911 939.2l2.77 1.55v3.1l-2.77 1.55l-2.77 -1.55v-3.1zM1911 957.1l2.77 1.55v3.1l-2.77 1.55l-2.77 -1.55v-3.1zM1921.5 930.3l2.77 1.55v3.1l-2.77 1.55l-2.77 -1.55v-3.1zM1940.1 916.9l2.77 1.55v3.1l-2.77 1.55l-2.77 -1.55v-3.1zM1942.7 939.2l2.77 1.55v3.1l-2.77 1.55l-2.77 -1.55v-3.1z"/><path fill="#3F518C" d="M1580.1 1042l2.77 1.55v3.1l-2.77 1.55l-2.77 -1.55v-3.1zM1627.8 908l2.77 1.55v3.1l-2.77 1.55l-2.77 -1.55v-3.1zM1633.1 881.2l2.77 1.55v3.1l-2.77 1.55l-2.77 -1.55v-3.1zM1633.1 890.1l2.77 1.55v3.1l-2.77 1.55l-2.77 -1.55v-3.1zM1630.4 912.4l2.77 1.55v3.1l-2.77 1.55l-2.77 -1.55v-3.1zM1633.1 925.8l2.77 1.55v3.1l-2.77 1.55l-2.77 -1.55v-3.1zM1648.9 827.5l2.77 1.55v3.1l-2.77 1.55l-2.77 -1.55v-3.1zM1646.3 912.4l2.77 1.55v3.1l-2.77 1.55l-2.77 -1.55v-3.1zM1654.2 1131.4l2.77 1.55v3.1l-2.77 1.55l-2.77 -1.55v-3.1zM1656.9 832l2.77 1.55v3.1l-2.77 1.55l-2.77 -1.55v-3.1zM1664.8 881.2l2.77 1.55v3.1l-2.77 1.55l-2.77 -1.55v-3.1zM1664.8 890.1l2.77 1.55v3.1l-2.77 1.55l-2.77 -1.55v-3.1zM1664.8 1024.1l2.77 1.55v3.1l-2.77 1.55l-2.77 -1.55v-3.1zM1670.1 1149.2l2.77 1.55v3.1l-2.77 1.55l-2.77 -1.55v-3.1zM1675.4 854.4l2.77 1.55v3.1l-2.77 1.55l-2.77 -1.55v-3.1zM1672.8 858.8l2.77 1.55v3.1l-2.77 1.55l-2.77 -1.55v-3.1zM1675.4 863.3l2.77 1.55v3.1l-2.77 1.55l-2.77 -1.55v-3.1zM1683.4 1010.7l2.77 1.55v3.1l-2.77 1.55l-2.77 -1.55v-3.1zM1696.6 1024.1l2.77 1.55v3.1l-2.77 1.55l-2.77 -1.55v-3.1zM1699.2 1073.3l2.77 1.55v3.1l-2.77 1.55l-2.77 -1.55v-3.1zM1707.2 952.7l2.77 1.55v3.1l-2.77 1.55l-2.77 -1.55v-3.1zM1717.8 979.5l2.77 1.55v3.1l-2.77 1.55l-2.77 -1.55v-3.1zM1715.1 1037.5l2.77 1.55v3.1l-2.77 1.55l-2.77 -1.55v-3.1zM1728.3 943.7l2.77 1.55v3.1l-2.77 1.55l-2.77 -1.55v-3.1zM1789.2 796.3l2.77 1.55v3.1l-2.77 1.55l-2.77 -1.55v-3.1zM1834.2 925.8l2.77 1.55v3.1l-2.77 1.55l-2.77 -1.55v-3.1zM1842.1 948.2l2.77 1.55v3.1l-2.77 1.55l-2.77 -1.55v-3.1zM1918.9 943.7l2.77 1.55v3.1l-2.77 1.55l-2.77 -1.55v-3.1zM1916.2 948.2l2.77 1.55v3.1l-2.77 1.55l-2.77 -1.55v-3.1zM1921.5 939.2l2.77 1.55v3.1l-2.77 1.55l-2.77 -1.55v-3.1zM1926.8 939.2l2.77 1.55v3.1l-2.77 1.55l-2.77 -1.55v-3.1zM1934.8 934.8l2.77 1.55v3.1l-2.77 1.55l-2.77 -1.55v-3.1zM1932.1 939.2l2.77 1.55v3.1l-2.77 1.55l-2.77 -1.55v-3.1zM1945.4 925.8l2.77 1.55v3.1l-2.77 1.55l-2.77 -1.55v-3.1z"/><path fill="#433578" d="M1577.5 1046.5l2.77 1.55v3.1l-2.77 1.55l-2.77 -1.55v-3.1zM1596 899l2.77 1.55v3.1l-2.77 1.55l-2.77 -1.55v-3.1zM1598.7 894.6l2.77 1.55v3.1l-2.77 1.55l-2.77 -1.55v-3.1zM1598.7 903.5l2.77 1.55v3.1l-2.77 1.55l-2.77 -1.55v-3.1zM1598.7 912.4l2.77 1.55v3.1l-2.77 1.55l-2.77 -1.55v-3.1zM1598.7 921.4l2.77 1.55v3.1l-2.77 1.55l-2.77 -1.55v-3.1zM1601.3 925.8l2.77 1.55v3.1l-2.77 1.55l-2.77 -1.55v-3.1zM1606.6 836.5l2.77 1.55v3.1l-2.77 1.55l-2.77 -1.55v-3.1zM1606.6 845.4l2.77 1.55v3.1l-2.77 1.55l-2.77 -1.55v-3.1zM1604 894.6l2.77 1.55v3.1l-2.77 1.55l-2.77 -1.55v-3.1zM1609.2 858.8l2.77 1.55v3.1l-2.77 1.55l-2.77 -1.55v-3.1zM1609.2 867.8l2.77 1.55v3.1l-2.77 1.55l-2.77 -1.55v-3.1zM1609.2 903.5l2.77 1.55v3.1l-2.77 1.55l-2.77 -1.55v-3.1zM1614.5 867.8l2.77 1.55v3.1l-2.77 1.55l-2.77 -1.55v-3.1zM1614.5 885.6l2.77 1.55v3.1l-2.77 1.55l-2.77 -1.55v-3.1zM1617.2 890.1l2.77 1.55v3.1l-2.77 1.55l-2.77 -1.55v-3.1zM1614.5 894.6l2.77 1.55v3.1l-2.77 1.55l-2.77 -1.55v-3.1zM1633.1 916.9l2.77 1.55v3.1l-2.77 1.55l-2.77 -1.55v-3.1zM1638.4 925.8l2.77 1.55v3.1l-2.77 1.55l-2.77 -1.55v-3.1zM1648.9 1131.4l2.77 1.55v3.1l-2.77 1.55l-2.77 -1.55v-3.1zM1646.3 1135.8l2.77 1.55v3.1l-2.77 1.55l-2.77 -1.55v-3.1zM1654.2 916.9l2.77 1.55v3.1l-2.77 1.55l-2.77 -1.55v-3.1zM1659.5 916.9l2.77 1.55v3.1l-2.77 1.55l-2.77 -1.55v-3.1zM1656.9 1028.6l2.77 1.55v3.1l-2.77 1.55l-2.77 -1.55v-3.1zM1667.5 1028.6l2.77 1.55v3.1l-2.77 1.55l-2.77 -1.55v-3.1zM1667.5 1153.7l2.77 1.55v3.1l-2.77 1.55l-2.77 -1.55v-3.1zM1672.8 841l2.77 1.55v3.1l-2.77 1.55l-2.77 -1.55v-3.1zM1675.4 881.2l2.77 1.55v3.1l-2.77 1.55l-2.77 -1.55v-3.1zM1672.8 903.5l2.77 1.55v3.1l-2.77 1.55l-2.77 -1.55v-3.1zM1672.8 1055.4l2.77 1.55v3.1l-2.77 1.55l-2.77 -1.55v-3.1zM1672.8 1153.7l2.77 1.55v3.1l-2.77 1.55l-2.77 -1.55v-3.1zM1680.7 863.3l2.77 1.55v3.1l-2.77 1.55l-2.77 -1.55v-3.1zM1683.4 841l2.77 1.55v3.1l-2.77 1.55l-2.77 -1.55v-3.1zM1688.6 1028.6l2.77 1.55v3.1l-2.77 1.55l-2.77 -1.55v-3.1zM1696.6 1015.2l2.77 1.55v3.1l-2.77 1.55l-2.77 -1.55v-3.1zM1693.9 1037.5l2.77 1.55v3.1l-2.77 1.55l-2.77 -1.55v-3.1zM1696.6 1042l2.77 1.55v3.1l-2.77 1.55l-2.77 -1.55v-3.1zM1701.9 952.7l2.77 1.55v3.1l-2.77 1.55l-2.77 -1.55v-3.1zM1707.2 943.7l2.77 1.55v3.1l-2.77 1.55l-2.77 -1.55v-3.1zM1704.5 948.2l2.77 1.55v3.1l-2.77 1.55l-2.77 -1.55v-3.1zM1707.2 1024.1l2.77 1.55v3.1l-2.77 1.55l-2.77 -1.55v-3.1zM1712.5 1033.1l2.77 1.55v3.1l-2.77 1.55l-2.77 -1.55v-3.1zM1709.8 1055.4l2.77 1.55v3.1l-2.77 1.55l-2.77 -1.55v-3.1zM1709.8 1073.3l2.77 1.55v3.1l-2.77 1.55l-2.77 -1.55v-3.1zM1717.8 934.8l2.77 1.55v3.1l-2.77 1.55l-2.77 -1.55v-3.1zM1717.8 1068.8l2.77 1.55v3.1l-2.77 1.55l-2.77 -1.55v-3.1zM1733.6 943.7l2.77 1.55v3.1l-2.77 1.55l-2.77 -1.55v-3.1zM1733.6 952.7l2.77 1.55v3.1l-2.77 1.55l-2.77 -1.55v-3.1zM1770.7 997.3l2.77 1.55v3.1l-2.77 1.55l-2.77 -1.55v-3.1zM1797.2 809.7l2.77 1.55v3.1l-2.77 1.55l-2.77 -1.55v-3.1zM1818.3 934.8l2.77 1.55v3.1l-2.77 1.55l-2.77 -1.55v-3.1zM1821 921.4l2.77 1.55v3.1l-2.77 1.55l-2.77 -1.55v-3.1zM1821 930.3l2.77 1.55v3.1l-2.77 1.55l-2.77 -1.55v-3.1zM1847.4 939.2l2.77 1.55v3.1l-2.77 1.55l-2.77 -1.55v-3.1zM1850.1 952.7l2.77 1.55v3.1l-2.77 1.55l-2.77 -1.55v-3.1zM1847.4 957.1l2.77 1.55v3.1l-2.77 1.55l-2.77 -1.55v-3.1zM1863.3 948.2l2.77 1.55v3.1l-2.77 1.55l-2.77 -1.55v-3.1zM1866 961.6l2.77 1.55v3.1l-2.77 1.55l-2.77 -1.55v-3.1zM1871.3 961.6l2.77 1.55v3.1l-2.77 1.55l-2.77 -1.55v-3.1zM1881.8 943.7l2.77 1.55v3.1l-2.77 1.55l-2.77 -1.55v-3.1zM1903 952.7l2.77 1.55v3.1l-2.77 1.55l-2.77 -1.55v-3.1zM1908.3 943.7l2.77 1.55v3.1l-2.77 1.55l-2.77 -1.55v-3.1zM1918.9 934.8l2.77 1.55v3.1l-2.77 1.55l-2.77 -1.55v-3.1zM1916.2 939.2l2.77 1.55v3.1l-2.77 1.55l-2.77 -1.55v-3.1zM1916.2 957.1l2.77 1.55v3.1l-2.77 1.55l-2.77 -1.55v-3.1zM1924.2 925.8l2.77 1.55v3.1l-2.77 1.55l-2.77 -1.55v-3.1zM1926.8 930.3l2.77 1.55v3.1l-2.77 1.55l-2.77 -1.55v-3.1zM1929.5 952.7l2.77 1.55v3.1l-2.77 1.55l-2.77 -1.55v-3.1zM1926.8 957.1l2.77 1.55v3.1l-2.77 1.55l-2.77 -1.55v-3.1zM1934.8 916.9l2.77 1.55v3.1l-2.77 1.55l-2.77 -1.55v-3.1zM1942.7 930.3l2.77 1.55v3.1l-2.77 1.55l-2.77 -1.55v-3.1z"/><path fill="#432467" d="M1582.8 858.8l2.77 1.55v3.1l-2.77 1.55l-2.77 -1.55v-3.1zM1582.8 903.5l2.77 1.55v3.1l-2.77 1.55l-2.77 -1.55v-3.1zM1588.1 858.8l2.77 1.55v3.1l-2.77 1.55l-2.77 -1.55v-3.1zM1588.1 867.8l2.77 1.55v3.1l-2.77 1.55l-2.77 -1.55v-3.1zM1590.7 881.2l2.77 1.55v3.1l-2.77 1.55l-2.77 -1.55v-3.1zM1588.1 1037.5l2.77 1.55v3.1l-2.77 1.55l-2.77 -1.55v-3.1zM1593.4 849.9l2.77 1.55v3.1l-2.77 1.55l-2.77 -1.55v-3.1zM1596 863.3l2.77 1.55v3.1l-2.77 1.55l-2.77 -1.55v-3.1zM1596 881.2l2.77 1.55v3.1l-2.77 1.55l-2.77 -1.55v-3.1zM1593.4 885.6l2.77 1.55v3.1l-2.77 1.55l-2.77 -1.55v-3.1zM1596 943.7l2.77 1.55v3.1l-2.77 1.55l-2.77 -1.55v-3.1zM1598.7 867.8l2.77 1.55v3.1l-2.77 1.55l-2.77 -1.55v-3.1zM1601.3 872.2l2.77 1.55v3.1l-2.77 1.55l-2.77 -1.55v-3.1zM1601.3 881.2l2.77 1.55v3.1l-2.77 1.55l-2.77 -1.55v-3.1zM1598.7 930.3l2.77 1.55v3.1l-2.77 1.55l-2.77 -1.55v-3.1zM1598.7 939.2l2.77 1.55v3.1l-2.77 1.55l-2.77 -1.55v-3.1zM1606.6 827.5l2.77 1.55v3.1l-2.77 1.55l-2.77 -1.55v-3.1zM1604 885.6l2.77 1.55v3.1l-2.77 1.55l-2.77 -1.55v-3.1zM1604 948.2l2.77 1.55v3.1l-2.77 1.55l-2.77 -1.55v-3.1zM1611.9 827.5l2.77 1.55v3.1l-2.77 1.55l-2.77 -1.55v-3.1zM1611.9 952.7l2.77 1.55v3.1l-2.77 1.55l-2.77 -1.55v-3.1zM1630.4 948.2l2.77 1.55v3.1l-2.77 1.55l-2.77 -1.55v-3.1zM1633.1 997.3l2.77 1.55v3.1l-2.77 1.55l-2.77 -1.55v-3.1zM1635.7 948.2l2.77 1.55v3.1l-2.77 1.55l-2.77 -1.55v-3.1zM1638.4 997.3l2.77 1.55v3.1l-2.77 1.55l-2.77 -1.55v-3.1zM1643.7 1024.1l2.77 1.55v3.1l-2.77 1.55l-2.77 -1.55v-3.1zM1646.3 921.4l2.77 1.55v3.1l-2.77 1.55l-2.77 -1.55v-3.1zM1646.3 1037.5l2.77 1.55v3.1l-2.77 1.55l-2.77 -1.55v-3.1zM1651.6 1126.9l2.77 1.55v3.1l-2.77 1.55l-2.77 -1.55v-3.1zM1662.2 921.4l2.77 1.55v3.1l-2.77 1.55l-2.77 -1.55v-3.1zM1670.1 1077.8l2.77 1.55v3.1l-2.77 1.55l-2.77 -1.55v-3.1zM1675.4 1050.9l2.77 1.55v3.1l-2.77 1.55l-2.77 -1.55v-3.1zM1680.7 1006.3l2.77 1.55v3.1l-2.77 1.55l-2.77 -1.55v-3.1zM1678.1 1028.6l2.77 1.55v3.1l-2.77 1.55l-2.77 -1.55v-3.1zM1680.7 1042l2.77 1.55v3.1l-2.77 1.55l-2.77 -1.55v-3.1zM1678.1 1073.3l2.77 1.55v3.1l-2.77 1.55l-2.77 -1.55v-3.1zM1678.1 1153.7l2.77 1.55v3.1l-2.77 1.55l-2.77 -1.55v-3.1zM1686 836.5l2.77 1.55v3.1l-2.77 1.55l-2.77 -1.55v-3.1zM1683.4 1037.5l2.77 1.55v3.1l-2.77 1.55l-2.77 -1.55v-3.1zM1693.9 1082.2l2.77 1.55v3.1l-2.77 1.55l-2.77 -1.55v-3.1zM1699.2 1082.2l2.77 1.55v3.1l-2.77 1.55l-2.77 -1.55v-3.1zM1707.2 1006.3l2.77 1.55v3.1l-2.77 1.55l-2.77 -1.55v-3.1zM1704.5 1019.7l2.77 1.55v3.1l-2.77 1.55l-2.77 -1.55v-3.1zM1709.8 939.2l2.77 1.55v3.1l-2.77 1.55l-2.77 -1.55v-3.1zM1709.8 1028.6l2.77 1.55v3.1l-2.77 1.55l-2.77 -1.55v-3.1zM1715.1 1001.8l2.77 1.55v3.1l-2.77 1.55l-2.77 -1.55v-3.1zM1717.8 1077.8l2.77 1.55v3.1l-2.77 1.55l-2.77 -1.55v-3.1zM1723 925.8l2.77 1.55v3.1l-2.77 1.55l-2.77 -1.55v-3.1zM1720.4 930.3l2.77 1.55v3.1l-2.77 1.55l-2.77 -1.55v-3.1zM1720.4 1064.4l2.77 1.55v3.1l-2.77 1.55l-2.77 -1.55v-3.1zM1733.6 934.8l2.77 1.55v3.1l-2.77 1.55l-2.77 -1.55v-3.1zM1733.6 979.5l2.77 1.55v3.1l-2.77 1.55l-2.77 -1.55v-3.1zM1736.3 939.2l2.77 1.55v3.1l-2.77 1.55l-2.77 -1.55v-3.1zM1741.6 966.1l2.77 1.55v3.1l-2.77 1.55l-2.77 -1.55v-3.1zM1741.6 975l2.77 1.55v3.1l-2.77 1.55l-2.77 -1.55v-3.1zM1746.9 966.1l2.77 1.55v3.1l-2.77 1.55l-2.77 -1.55v-3.1zM1765.4 1006.3l2.77 1.55v3.1l-2.77 1.55l-2.77 -1.55v-3.1zM1773.3 992.9l2.77 1.55v3.1l-2.77 1.55l-2.77 -1.55v-3.1zM1786.6 791.8l2.77 1.55v3.1l-2.77 1.55l-2.77 -1.55v-3.1zM1786.6 988.4l2.77 1.55v3.1l-2.77 1.55l-2.77 -1.55v-3.1zM1786.6 1015.2l2.77 1.55v3.1l-2.77 1.55l-2.77 -1.55v-3.1zM1791.9 791.8l2.77 1.55v3.1l-2.77 1.55l-2.77 -1.55v-3.1zM1791.9 800.7l2.77 1.55v3.1l-2.77 1.55l-2.77 -1.55v-3.1zM1789.2 983.9l2.77 1.55v3.1l-2.77 1.55l-2.77 -1.55v-3.1zM1791.9 988.4l2.77 1.55v3.1l-2.77 1.55l-2.77 -1.55v-3.1zM1789.2 992.9l2.77 1.55v3.1l-2.77 1.55l-2.77 -1.55v-3.1zM1789.2 1001.8l2.77 1.55v3.1l-2.77 1.55l-2.77 -1.55v-3.1zM1791.9 1015.2l2.77 1.55v3.1l-2.77 1.55l-2.77 -1.55v-3.1zM1794.5 796.3l2.77 1.55v3.1l-2.77 1.55l-2.77 -1.55v-3.1zM1797.2 961.6l2.77 1.55v3.1l-2.77 1.55l-2.77 -1.55v-3.1zM1794.5 992.9l2.77 1.55v3.1l-2.77 1.55l-2.77 -1.55v-3.1zM1802.4 970.5l2.77 1.55v3.1l-2.77 1.55l-2.77 -1.55v-3.1zM1799.8 975l2.77 1.55v3.1l-2.77 1.55l-2.77 -1.55v-3.1zM1805.1 983.9l2.77 1.55v3.1l-2.77 1.55l-2.77 -1.55v-3.1zM1813 943.7l2.77 1.55v3.1l-2.77 1.55l-2.77 -1.55v-3.1zM1810.4 957.1l2.77 1.55v3.1l-2.77 1.55l-2.77 -1.55v-3.1zM1813 979.5l2.77 1.55v3.1l-2.77 1.55l-2.77 -1.55v-3.1zM1810.4 983.9l2.77 1.55v3.1l-2.77 1.55l-2.77 -1.55v-3.1zM1813 988.4l2.77 1.55v3.1l-2.77 1.55l-2.77 -1.55v-3.1zM1818.3 925.8l2.77 1.55v3.1l-2.77 1.55l-2.77 -1.55v-3.1zM1821 983.9l2.77 1.55v3.1l-2.77 1.55l-2.77 -1.55v-3.1zM1826.3 966.1l2.77 1.55v3.1l-2.77 1.55l-2.77 -1.55v-3.1zM1826.3 975l2.77 1.55v3.1l-2.77 1.55l-2.77 -1.55v-3.1zM1828.9 979.5l2.77 1.55v3.1l-2.77 1.55l-2.77 -1.55v-3.1zM1831.6 966.1l2.77 1.55v3.1l-2.77 1.55l-2.77 -1.55v-3.1zM1836.8 921.4l2.77 1.55v3.1l-2.77 1.55l-2.77 -1.55v-3.1zM1836.8 983.9l2.77 1.55v3.1l-2.77 1.55l-2.77 -1.55v-3.1zM1855.4 943.7l2.77 1.55v3.1l-2.77 1.55l-2.77 -1.55v-3.1zM1858 948.2l2.77 1.55v3.1l-2.77 1.55l-2.77 -1.55v-3.1zM1860.7 961.6l2.77 1.55v3.1l-2.77 1.55l-2.77 -1.55v-3.1zM1866 934.8l2.77 1.55v3.1l-2.77 1.55l-2.77 -1.55v-3.1zM1863.3 966.1l2.77 1.55v3.1l-2.77 1.55l-2.77 -1.55v-3.1zM1871.3 925.8l2.77 1.55v3.1l-2.77 1.55l-2.77 -1.55v-3.1zM1868.6 966.1l2.77 1.55v3.1l-2.77 1.55l-2.77 -1.55v-3.1zM1876.5 925.8l2.77 1.55v3.1l-2.77 1.55l-2.77 -1.55v-3.1zM1879.2 930.3l2.77 1.55v3.1l-2.77 1.55l-2.77 -1.55v-3.1zM1881.8 961.6l2.77 1.55v3.1l-2.77 1.55l-2.77 -1.55v-3.1zM1879.2 966.1l2.77 1.55v3.1l-2.77 1.55l-2.77 -1.55v-3.1zM1887.1 961.6l2.77 1.55v3.1l-2.77 1.55l-2.77 -1.55v-3.1zM1892.4 952.7l2.77 1.55v3.1l-2.77 1.55l-2.77 -1.55v-3.1zM1897.7 961.6l2.77 1.55v3.1l-2.77 1.55l-2.77 -1.55v-3.1zM1900.4 939.2l2.77 1.55v3.1l-2.77 1.55l-2.77 -1.55v-3.1zM1900.4 948.2l2.77 1.55v3.1l-2.77 1.55l-2.77 -1.55v-3.1zM1903 961.6l2.77 1.55v3.1l-2.77 1.55l-2.77 -1.55v-3.1zM1908.3 925.8l2.77 1.55v3.1l-2.77 1.55l-2.77 -1.55v-3.1zM1908.3 934.8l2.77 1.55v3.1l-2.77 1.55l-2.77 -1.55v-3.1zM1911 921.4l2.77 1.55v3.1l-2.77 1.55l-2.77 -1.55v-3.1zM1913.6 925.8l2.77 1.55v3.1l-2.77 1.55l-2.77 -1.55v-3.1zM1911 930.3l2.77 1.55v3.1l-2.77 1.55l-2.77 -1.55v-3.1zM1913.6 961.6l2.77 1.55v3.1l-2.77 1.55l-2.77 -1.55v-3.1zM1911 966.1l2.77 1.55v3.1l-2.77 1.55l-2.77 -1.55v-3.1zM1929.5 970.5l2.77 1.55v3.1l-2.77 1.55l-2.77 -1.55v-3.1zM1940.1 952.7l2.77 1.55v3.1l-2.77 1.55l-2.77 -1.55v-3.1zM1937.4 966.1l2.77 1.55v3.1l-2.77 1.55l-2.77 -1.55v-3.1zM1945.4 934.8l2.77 1.55v3.1l-2.77 1.55l-2.77 -1.55v-3.1zM1942.7 948.2l2.77 1.55v3.1l-2.77 1.55l-2.77 -1.55v-3.1zM1942.7 966.1l2.77 1.55v3.1l-2.77 1.55l-2.77 -1.55v-3.1zM1945.4 970.5l2.77 1.55v3.1l-2.77 1.55l-2.77 -1.55v-3.1zM1950.6 916.9l2.77 1.55v3.1l-2.77 1.55l-2.77 -1.55v-3.1z"/><path fill="#414685" d="M1585.4 1033.1l2.77 1.55v3.1l-2.77 1.55l-2.77 -1.55v-3.1zM1611.9 845.4l2.77 1.55v3.1l-2.77 1.55l-2.77 -1.55v-3.1zM1617.2 854.4l2.77 1.55v3.1l-2.77 1.55l-2.77 -1.55v-3.1zM1614.5 858.8l2.77 1.55v3.1l-2.77 1.55l-2.77 -1.55v-3.1zM1614.5 903.5l2.77 1.55v3.1l-2.77 1.55l-2.77 -1.55v-3.1zM1614.5 921.4l2.77 1.55v3.1l-2.77 1.55l-2.77 -1.55v-3.1zM1617.2 925.8l2.77 1.55v3.1l-2.77 1.55l-2.77 -1.55v-3.1zM1619.8 876.7l2.77 1.55v3.1l-2.77 1.55l-2.77 -1.55v-3.1zM1622.5 908l2.77 1.55v3.1l-2.77 1.55l-2.77 -1.55v-3.1zM1627.8 881.2l2.77 1.55v3.1l-2.77 1.55l-2.77 -1.55v-3.1zM1625.1 885.6l2.77 1.55v3.1l-2.77 1.55l-2.77 -1.55v-3.1zM1627.8 890.1l2.77 1.55v3.1l-2.77 1.55l-2.77 -1.55v-3.1zM1625.1 903.5l2.77 1.55v3.1l-2.77 1.55l-2.77 -1.55v-3.1zM1630.4 939.2l2.77 1.55v3.1l-2.77 1.55l-2.77 -1.55v-3.1zM1643.7 916.9l2.77 1.55v3.1l-2.77 1.55l-2.77 -1.55v-3.1zM1654.2 827.5l2.77 1.55v3.1l-2.77 1.55l-2.77 -1.55v-3.1zM1659.5 836.5l2.77 1.55v3.1l-2.77 1.55l-2.77 -1.55v-3.1zM1656.9 912.4l2.77 1.55v3.1l-2.77 1.55l-2.77 -1.55v-3.1zM1659.5 1024.1l2.77 1.55v3.1l-2.77 1.55l-2.77 -1.55v-3.1zM1670.1 845.4l2.77 1.55v3.1l-2.77 1.55l-2.77 -1.55v-3.1zM1670.1 881.2l2.77 1.55v3.1l-2.77 1.55l-2.77 -1.55v-3.1zM1675.4 845.4l2.77 1.55v3.1l-2.77 1.55l-2.77 -1.55v-3.1zM1672.8 876.7l2.77 1.55v3.1l-2.77 1.55l-2.77 -1.55v-3.1zM1678.1 867.8l2.77 1.55v3.1l-2.77 1.55l-2.77 -1.55v-3.1zM1678.1 1010.7l2.77 1.55v3.1l-2.77 1.55l-2.77 -1.55v-3.1zM1683.4 858.8l2.77 1.55v3.1l-2.77 1.55l-2.77 -1.55v-3.1zM1683.4 1064.4l2.77 1.55v3.1l-2.77 1.55l-2.77 -1.55v-3.1zM1688.6 1073.3l2.77 1.55v3.1l-2.77 1.55l-2.77 -1.55v-3.1zM1701.9 1050.9l2.77 1.55v3.1l-2.77 1.55l-2.77 -1.55v-3.1zM1715.1 975l2.77 1.55v3.1l-2.77 1.55l-2.77 -1.55v-3.1zM1715.1 983.9l2.77 1.55v3.1l-2.77 1.55l-2.77 -1.55v-3.1zM1723 979.5l2.77 1.55v3.1l-2.77 1.55l-2.77 -1.55v-3.1zM1723 988.4l2.77 1.55v3.1l-2.77 1.55l-2.77 -1.55v-3.1zM1786.6 800.7l2.77 1.55v3.1l-2.77 1.55l-2.77 -1.55v-3.1zM1789.2 1019.7l2.77 1.55v3.1l-2.77 1.55l-2.77 -1.55v-3.1zM1823.6 925.8l2.77 1.55v3.1l-2.77 1.55l-2.77 -1.55v-3.1zM1828.9 925.8l2.77 1.55v3.1l-2.77 1.55l-2.77 -1.55v-3.1zM1842.1 930.3l2.77 1.55v3.1l-2.77 1.55l-2.77 -1.55v-3.1zM1844.8 952.7l2.77 1.55v3.1l-2.77 1.55l-2.77 -1.55v-3.1zM1868.6 930.3l2.77 1.55v3.1l-2.77 1.55l-2.77 -1.55v-3.1zM1868.6 939.2l2.77 1.55v3.1l-2.77 1.55l-2.77 -1.55v-3.1zM1934.8 925.8l2.77 1.55v3.1l-2.77 1.55l-2.77 -1.55v-3.1zM1932.1 930.3l2.77 1.55v3.1l-2.77 1.55l-2.77 -1.55v-3.1zM1937.4 930.3l2.77 1.55v3.1l-2.77 1.55l-2.77 -1.55v-3.1z"/><path fill="#414987" d="M1582.8 1037.5l2.77 1.55v3.1l-2.77 1.55l-2.77 -1.55v-3.1zM1604 921.4l2.77 1.55v3.1l-2.77 1.55l-2.77 -1.55v-3.1zM1611.9 908l2.77 1.55v3.1l-2.77 1.55l-2.77 -1.55v-3.1zM1617.2 836.5l2.77 1.55v3.1l-2.77 1.55l-2.77 -1.55v-3.1zM1617.2 916.9l2.77 1.55v3.1l-2.77 1.55l-2.77 -1.55v-3.1zM1619.8 858.8l2.77 1.55v3.1l-2.77 1.55l-2.77 -1.55v-3.1zM1619.8 867.8l2.77 1.55v3.1l-2.77 1.55l-2.77 -1.55v-3.1zM1619.8 921.4l2.77 1.55v3.1l-2.77 1.55l-2.77 -1.55v-3.1zM1622.5 925.8l2.77 1.55v3.1l-2.77 1.55l-2.77 -1.55v-3.1zM1625.1 832l2.77 1.55v3.1l-2.77 1.55l-2.77 -1.55v-3.1zM1625.1 876.7l2.77 1.55v3.1l-2.77 1.55l-2.77 -1.55v-3.1zM1627.8 899l2.77 1.55v3.1l-2.77 1.55l-2.77 -1.55v-3.1zM1625.1 921.4l2.77 1.55v3.1l-2.77 1.55l-2.77 -1.55v-3.1zM1627.8 934.8l2.77 1.55v3.1l-2.77 1.55l-2.77 -1.55v-3.1zM1625.1 939.2l2.77 1.55v3.1l-2.77 1.55l-2.77 -1.55v-3.1zM1630.4 832l2.77 1.55v3.1l-2.77 1.55l-2.77 -1.55v-3.1zM1630.4 894.6l2.77 1.55v3.1l-2.77 1.55l-2.77 -1.55v-3.1zM1635.7 832l2.77 1.55v3.1l-2.77 1.55l-2.77 -1.55v-3.1zM1641 832l2.77 1.55v3.1l-2.77 1.55l-2.77 -1.55v-3.1zM1672.8 849.9l2.77 1.55v3.1l-2.77 1.55l-2.77 -1.55v-3.1zM1672.8 867.8l2.77 1.55v3.1l-2.77 1.55l-2.77 -1.55v-3.1zM1672.8 1064.4l2.77 1.55v3.1l-2.77 1.55l-2.77 -1.55v-3.1zM1678.1 1064.4l2.77 1.55v3.1l-2.77 1.55l-2.77 -1.55v-3.1zM1688.6 1010.7l2.77 1.55v3.1l-2.77 1.55l-2.77 -1.55v-3.1zM1699.2 1010.7l2.77 1.55v3.1l-2.77 1.55l-2.77 -1.55v-3.1zM1707.2 961.6l2.77 1.55v3.1l-2.77 1.55l-2.77 -1.55v-3.1zM1723 934.8l2.77 1.55v3.1l-2.77 1.55l-2.77 -1.55v-3.1zM1728.3 934.8l2.77 1.55v3.1l-2.77 1.55l-2.77 -1.55v-3.1zM1725.7 975l2.77 1.55v3.1l-2.77 1.55l-2.77 -1.55v-3.1zM1828.9 988.4l2.77 1.55v3.1l-2.77 1.55l-2.77 -1.55v-3.1zM1834.2 952.7l2.77 1.55v3.1l-2.77 1.55l-2.77 -1.55v-3.1zM1839.5 952.7l2.77 1.55v3.1l-2.77 1.55l-2.77 -1.55v-3.1zM1873.9 930.3l2.77 1.55v3.1l-2.77 1.55l-2.77 -1.55v-3.1zM1876.5 952.7l2.77 1.55v3.1l-2.77 1.55l-2.77 -1.55v-3.1zM1913.6 952.7l2.77 1.55v3.1l-2.77 1.55l-2.77 -1.55v-3.1zM1929.5 943.7l2.77 1.55v3.1l-2.77 1.55l-2.77 -1.55v-3.1z"/><path fill="#433A7C" d="M1601.3 899l2.77 1.55v3.1l-2.77 1.55l-2.77 -1.55v-3.1zM1606.6 899l2.77 1.55v3.1l-2.77 1.55l-2.77 -1.55v-3.1zM1604 903.5l2.77 1.55v3.1l-2.77 1.55l-2.77 -1.55v-3.1zM1604 912.4l2.77 1.55v3.1l-2.77 1.55l-2.77 -1.55v-3.1zM1609.2 912.4l2.77 1.55v3.1l-2.77 1.55l-2.77 -1.55v-3.1zM1609.2 930.3l2.77 1.55v3.1l-2.77 1.55l-2.77 -1.55v-3.1zM1617.2 863.3l2.77 1.55v3.1l-2.77 1.55l-2.77 -1.55v-3.1zM1617.2 881.2l2.77 1.55v3.1l-2.77 1.55l-2.77 -1.55v-3.1zM1617.2 908l2.77 1.55v3.1l-2.77 1.55l-2.77 -1.55v-3.1zM1614.5 930.3l2.77 1.55v3.1l-2.77 1.55l-2.77 -1.55v-3.1zM1617.2 943.7l2.77 1.55v3.1l-2.77 1.55l-2.77 -1.55v-3.1zM1619.8 894.6l2.77 1.55v3.1l-2.77 1.55l-2.77 -1.55v-3.1zM1622.5 899l2.77 1.55v3.1l-2.77 1.55l-2.77 -1.55v-3.1zM1619.8 939.2l2.77 1.55v3.1l-2.77 1.55l-2.77 -1.55v-3.1zM1619.8 948.2l2.77 1.55v3.1l-2.77 1.55l-2.77 -1.55v-3.1zM1627.8 943.7l2.77 1.55v3.1l-2.77 1.55l-2.77 -1.55v-3.1zM1630.4 921.4l2.77 1.55v3.1l-2.77 1.55l-2.77 -1.55v-3.1zM1635.7 939.2l2.77 1.55v3.1l-2.77 1.55l-2.77 -1.55v-3.1zM1664.8 1059.9l2.77 1.55v3.1l-2.77 1.55l-2.77 -1.55v-3.1zM1667.5 841l2.77 1.55v3.1l-2.77 1.55l-2.77 -1.55v-3.1zM1667.5 921.4l2.77 1.55v3.1l-2.77 1.55l-2.77 -1.55v-3.1zM1672.8 894.6l2.77 1.55v3.1l-2.77 1.55l-2.77 -1.55v-3.1zM1678.1 876.7l2.77 1.55v3.1l-2.77 1.55l-2.77 -1.55v-3.1zM1686 1006.3l2.77 1.55v3.1l-2.77 1.55l-2.77 -1.55v-3.1zM1683.4 1028.6l2.77 1.55v3.1l-2.77 1.55l-2.77 -1.55v-3.1zM1688.6 1046.5l2.77 1.55v3.1l-2.77 1.55l-2.77 -1.55v-3.1zM1691.3 1077.8l2.77 1.55v3.1l-2.77 1.55l-2.77 -1.55v-3.1zM1693.9 1028.6l2.77 1.55v3.1l-2.77 1.55l-2.77 -1.55v-3.1zM1707.2 1033.1l2.77 1.55v3.1l-2.77 1.55l-2.77 -1.55v-3.1zM1709.8 1010.7l2.77 1.55v3.1l-2.77 1.55l-2.77 -1.55v-3.1zM1709.8 1046.5l2.77 1.55v3.1l-2.77 1.55l-2.77 -1.55v-3.1zM1712.5 1068.8l2.77 1.55v3.1l-2.77 1.55l-2.77 -1.55v-3.1zM1715.1 1046.5l2.77 1.55v3.1l-2.77 1.55l-2.77 -1.55v-3.1zM1720.4 1037.5l2.77 1.55v3.1l-2.77 1.55l-2.77 -1.55v-3.1zM1725.7 983.9l2.77 1.55v3.1l-2.77 1.55l-2.77 -1.55v-3.1zM1768 1001.8l2.77 1.55v3.1l-2.77 1.55l-2.77 -1.55v-3.1zM1786.6 1113.5l2.77 1.55v3.1l-2.77 1.55l-2.77 -1.55v-3.1zM1831.6 957.1l2.77 1.55v3.1l-2.77 1.55l-2.77 -1.55v-3.1zM1842.1 957.1l2.77 1.55v3.1l-2.77 1.55l-2.77 -1.55v-3.1zM1866 943.7l2.77 1.55v3.1l-2.77 1.55l-2.77 -1.55v-3.1zM1876.5 961.6l2.77 1.55v3.1l-2.77 1.55l-2.77 -1.55v-3.1zM1905.7 948.2l2.77 1.55v3.1l-2.77 1.55l-2.77 -1.55v-3.1zM1905.7 957.1l2.77 1.55v3.1l-2.77 1.55l-2.77 -1.55v-3.1zM1924.2 934.8l2.77 1.55v3.1l-2.77 1.55l-2.77 -1.55v-3.1zM1924.2 952.7l2.77 1.55v3.1l-2.77 1.55l-2.77 -1.55v-3.1zM1921.5 957.1l2.77 1.55v3.1l-2.77 1.55l-2.77 -1.55v-3.1zM1926.8 921.4l2.77 1.55v3.1l-2.77 1.55l-2.77 -1.55v-3.1zM1929.5 925.8l2.77 1.55v3.1l-2.77 1.55l-2.77 -1.55v-3.1zM1934.8 943.7l2.77 1.55v3.1l-2.77 1.55l-2.77 -1.55v-3.1zM1932.1 948.2l2.77 1.55v3.1l-2.77 1.55l-2.77 -1.55v-3.1zM1937.4 939.2l2.77 1.55v3.1l-2.77 1.55l-2.77 -1.55v-3.1z"/><path fill="#433E80" d="M1601.3 908l2.77 1.55v3.1l-2.77 1.55l-2.77 -1.55v-3.1zM1606.6 908l2.77 1.55v3.1l-2.77 1.55l-2.77 -1.55v-3.1zM1611.9 836.5l2.77 1.55v3.1l-2.77 1.55l-2.77 -1.55v-3.1zM1609.2 849.9l2.77 1.55v3.1l-2.77 1.55l-2.77 -1.55v-3.1zM1611.9 899l2.77 1.55v3.1l-2.77 1.55l-2.77 -1.55v-3.1zM1614.5 849.9l2.77 1.55v3.1l-2.77 1.55l-2.77 -1.55v-3.1zM1617.2 872.2l2.77 1.55v3.1l-2.77 1.55l-2.77 -1.55v-3.1zM1617.2 899l2.77 1.55v3.1l-2.77 1.55l-2.77 -1.55v-3.1zM1614.5 912.4l2.77 1.55v3.1l-2.77 1.55l-2.77 -1.55v-3.1zM1622.5 881.2l2.77 1.55v3.1l-2.77 1.55l-2.77 -1.55v-3.1zM1619.8 903.5l2.77 1.55v3.1l-2.77 1.55l-2.77 -1.55v-3.1zM1619.8 912.4l2.77 1.55v3.1l-2.77 1.55l-2.77 -1.55v-3.1zM1622.5 916.9l2.77 1.55v3.1l-2.77 1.55l-2.77 -1.55v-3.1zM1625.1 912.4l2.77 1.55v3.1l-2.77 1.55l-2.77 -1.55v-3.1zM1627.8 916.9l2.77 1.55v3.1l-2.77 1.55l-2.77 -1.55v-3.1zM1625.1 948.2l2.77 1.55v3.1l-2.77 1.55l-2.77 -1.55v-3.1zM1633.1 934.8l2.77 1.55v3.1l-2.77 1.55l-2.77 -1.55v-3.1zM1633.1 943.7l2.77 1.55v3.1l-2.77 1.55l-2.77 -1.55v-3.1zM1643.7 827.5l2.77 1.55v3.1l-2.77 1.55l-2.77 -1.55v-3.1zM1651.6 1135.8l2.77 1.55v3.1l-2.77 1.55l-2.77 -1.55v-3.1zM1662.2 841l2.77 1.55v3.1l-2.77 1.55l-2.77 -1.55v-3.1zM1662.2 1028.6l2.77 1.55v3.1l-2.77 1.55l-2.77 -1.55v-3.1zM1664.8 1149.2l2.77 1.55v3.1l-2.77 1.55l-2.77 -1.55v-3.1zM1667.5 1064.4l2.77 1.55v3.1l-2.77 1.55l-2.77 -1.55v-3.1zM1675.4 872.2l2.77 1.55v3.1l-2.77 1.55l-2.77 -1.55v-3.1zM1672.8 885.6l2.77 1.55v3.1l-2.77 1.55l-2.77 -1.55v-3.1zM1672.8 1144.8l2.77 1.55v3.1l-2.77 1.55l-2.77 -1.55v-3.1zM1686 1068.8l2.77 1.55v3.1l-2.77 1.55l-2.77 -1.55v-3.1zM1696.6 1077.8l2.77 1.55v3.1l-2.77 1.55l-2.77 -1.55v-3.1zM1701.9 1042l2.77 1.55v3.1l-2.77 1.55l-2.77 -1.55v-3.1zM1699.2 1046.5l2.77 1.55v3.1l-2.77 1.55l-2.77 -1.55v-3.1zM1707.2 1050.9l2.77 1.55v3.1l-2.77 1.55l-2.77 -1.55v-3.1zM1712.5 943.7l2.77 1.55v3.1l-2.77 1.55l-2.77 -1.55v-3.1zM1712.5 979.5l2.77 1.55v3.1l-2.77 1.55l-2.77 -1.55v-3.1zM1712.5 1059.9l2.77 1.55v3.1l-2.77 1.55l-2.77 -1.55v-3.1zM1715.1 939.2l2.77 1.55v3.1l-2.77 1.55l-2.77 -1.55v-3.1zM1715.1 1064.4l2.77 1.55v3.1l-2.77 1.55l-2.77 -1.55v-3.1zM1720.4 992.9l2.77 1.55v3.1l-2.77 1.55l-2.77 -1.55v-3.1zM1725.7 930.3l2.77 1.55v3.1l-2.77 1.55l-2.77 -1.55v-3.1zM1736.3 966.1l2.77 1.55v3.1l-2.77 1.55l-2.77 -1.55v-3.1zM1762.7 1001.8l2.77 1.55v3.1l-2.77 1.55l-2.77 -1.55v-3.1zM1786.6 1024.1l2.77 1.55v3.1l-2.77 1.55l-2.77 -1.55v-3.1zM1794.5 787.3l2.77 1.55v3.1l-2.77 1.55l-2.77 -1.55v-3.1zM1821 939.2l2.77 1.55v3.1l-2.77 1.55l-2.77 -1.55v-3.1zM1823.6 952.7l2.77 1.55v3.1l-2.77 1.55l-2.77 -1.55v-3.1zM1828.9 952.7l2.77 1.55v3.1l-2.77 1.55l-2.77 -1.55v-3.1zM1866 952.7l2.77 1.55v3.1l-2.77 1.55l-2.77 -1.55v-3.1zM1868.6 957.1l2.77 1.55v3.1l-2.77 1.55l-2.77 -1.55v-3.1zM1879.2 939.2l2.77 1.55v3.1l-2.77 1.55l-2.77 -1.55v-3.1zM1881.8 952.7l2.77 1.55v3.1l-2.77 1.55l-2.77 -1.55v-3.1zM1913.6 943.7l2.77 1.55v3.1l-2.77 1.55l-2.77 -1.55v-3.1zM1918.9 952.7l2.77 1.55v3.1l-2.77 1.55l-2.77 -1.55v-3.1zM1940.1 934.8l2.77 1.55v3.1l-2.77 1.55l-2.77 -1.55v-3.1z"/><path fill="#424282" d="M1601.3 916.9l2.77 1.55v3.1l-2.77 1.55l-2.77 -1.55v-3.1zM1606.6 925.8l2.77 1.55v3.1l-2.77 1.55l-2.77 -1.55v-3.1zM1611.9 854.4l2.77 1.55v3.1l-2.77 1.55l-2.77 -1.55v-3.1zM1611.9 863.3l2.77 1.55v3.1l-2.77 1.55l-2.77 -1.55v-3.1zM1611.9 925.8l2.77 1.55v3.1l-2.77 1.55l-2.77 -1.55v-3.1zM1614.5 841l2.77 1.55v3.1l-2.77 1.55l-2.77 -1.55v-3.1zM1619.8 832l2.77 1.55v3.1l-2.77 1.55l-2.77 -1.55v-3.1zM1622.5 890.1l2.77 1.55v3.1l-2.77 1.55l-2.77 -1.55v-3.1zM1619.8 930.3l2.77 1.55v3.1l-2.77 1.55l-2.77 -1.55v-3.1zM1622.5 934.8l2.77 1.55v3.1l-2.77 1.55l-2.77 -1.55v-3.1zM1622.5 943.7l2.77 1.55v3.1l-2.77 1.55l-2.77 -1.55v-3.1zM1625.1 894.6l2.77 1.55v3.1l-2.77 1.55l-2.77 -1.55v-3.1zM1630.4 885.6l2.77 1.55v3.1l-2.77 1.55l-2.77 -1.55v-3.1zM1638.4 916.9l2.77 1.55v3.1l-2.77 1.55l-2.77 -1.55v-3.1zM1664.8 845.4l2.77 1.55v3.1l-2.77 1.55l-2.77 -1.55v-3.1zM1670.1 890.1l2.77 1.55v3.1l-2.77 1.55l-2.77 -1.55v-3.1zM1670.1 1059.9l2.77 1.55v3.1l-2.77 1.55l-2.77 -1.55v-3.1zM1678.1 1055.4l2.77 1.55v3.1l-2.77 1.55l-2.77 -1.55v-3.1zM1686 1050.9l2.77 1.55v3.1l-2.77 1.55l-2.77 -1.55v-3.1zM1693.9 1046.5l2.77 1.55v3.1l-2.77 1.55l-2.77 -1.55v-3.1zM1701.9 961.6l2.77 1.55v3.1l-2.77 1.55l-2.77 -1.55v-3.1zM1701.9 1024.1l2.77 1.55v3.1l-2.77 1.55l-2.77 -1.55v-3.1zM1704.5 966.1l2.77 1.55v3.1l-2.77 1.55l-2.77 -1.55v-3.1zM1704.5 1046.5l2.77 1.55v3.1l-2.77 1.55l-2.77 -1.55v-3.1zM1704.5 1073.3l2.77 1.55v3.1l-2.77 1.55l-2.77 -1.55v-3.1zM1731 930.3l2.77 1.55v3.1l-2.77 1.55l-2.77 -1.55v-3.1zM1731 939.2l2.77 1.55v3.1l-2.77 1.55l-2.77 -1.55v-3.1zM1733.6 961.6l2.77 1.55v3.1l-2.77 1.55l-2.77 -1.55v-3.1zM1731 975l2.77 1.55v3.1l-2.77 1.55l-2.77 -1.55v-3.1zM1823.6 943.7l2.77 1.55v3.1l-2.77 1.55l-2.77 -1.55v-3.1zM1839.5 925.8l2.77 1.55v3.1l-2.77 1.55l-2.77 -1.55v-3.1zM1836.8 957.1l2.77 1.55v3.1l-2.77 1.55l-2.77 -1.55v-3.1zM1844.8 934.8l2.77 1.55v3.1l-2.77 1.55l-2.77 -1.55v-3.1zM1847.4 948.2l2.77 1.55v3.1l-2.77 1.55l-2.77 -1.55v-3.1zM1873.9 957.1l2.77 1.55v3.1l-2.77 1.55l-2.77 -1.55v-3.1zM1879.2 948.2l2.77 1.55v3.1l-2.77 1.55l-2.77 -1.55v-3.1zM1879.2 957.1l2.77 1.55v3.1l-2.77 1.55l-2.77 -1.55v-3.1zM1908.3 952.7l2.77 1.55v3.1l-2.77 1.55l-2.77 -1.55v-3.1zM1911 948.2l2.77 1.55v3.1l-2.77 1.55l-2.77 -1.55v-3.1zM1921.5 948.2l2.77 1.55v3.1l-2.77 1.55l-2.77 -1.55v-3.1zM1926.8 948.2l2.77 1.55v3.1l-2.77 1.55l-2.77 -1.55v-3.1zM1932.1 921.4l2.77 1.55v3.1l-2.77 1.55l-2.77 -1.55v-3.1zM1940.1 925.8l2.77 1.55v3.1l-2.77 1.55l-2.77 -1.55v-3.1z"/><path fill="#404D8A" d="M1606.6 916.9l2.77 1.55v3.1l-2.77 1.55l-2.77 -1.55v-3.1zM1611.9 916.9l2.77 1.55v3.1l-2.77 1.55l-2.77 -1.55v-3.1zM1609.2 921.4l2.77 1.55v3.1l-2.77 1.55l-2.77 -1.55v-3.1zM1617.2 845.4l2.77 1.55v3.1l-2.77 1.55l-2.77 -1.55v-3.1zM1622.5 863.3l2.77 1.55v3.1l-2.77 1.55l-2.77 -1.55v-3.1zM1622.5 872.2l2.77 1.55v3.1l-2.77 1.55l-2.77 -1.55v-3.1zM1635.7 885.6l2.77 1.55v3.1l-2.77 1.55l-2.77 -1.55v-3.1zM1635.7 930.3l2.77 1.55v3.1l-2.77 1.55l-2.77 -1.55v-3.1zM1654.2 1024.1l2.77 1.55v3.1l-2.77 1.55l-2.77 -1.55v-3.1zM1656.9 1135.8l2.77 1.55v3.1l-2.77 1.55l-2.77 -1.55v-3.1zM1664.8 916.9l2.77 1.55v3.1l-2.77 1.55l-2.77 -1.55v-3.1zM1667.5 849.9l2.77 1.55v3.1l-2.77 1.55l-2.77 -1.55v-3.1zM1678.1 858.8l2.77 1.55v3.1l-2.77 1.55l-2.77 -1.55v-3.1zM1683.4 1055.4l2.77 1.55v3.1l-2.77 1.55l-2.77 -1.55v-3.1zM1691.3 845.4l2.77 1.55v3.1l-2.77 1.55l-2.77 -1.55v-3.1zM1704.5 1010.7l2.77 1.55v3.1l-2.77 1.55l-2.77 -1.55v-3.1zM1704.5 1055.4l2.77 1.55v3.1l-2.77 1.55l-2.77 -1.55v-3.1zM1733.6 970.5l2.77 1.55v3.1l-2.77 1.55l-2.77 -1.55v-3.1zM1799.8 805.2l2.77 1.55v3.1l-2.77 1.55l-2.77 -1.55v-3.1zM1823.6 934.8l2.77 1.55v3.1l-2.77 1.55l-2.77 -1.55v-3.1zM1826.3 930.3l2.77 1.55v3.1l-2.77 1.55l-2.77 -1.55v-3.1zM1826.3 948.2l2.77 1.55v3.1l-2.77 1.55l-2.77 -1.55v-3.1zM1844.8 943.7l2.77 1.55v3.1l-2.77 1.55l-2.77 -1.55v-3.1zM1868.6 948.2l2.77 1.55v3.1l-2.77 1.55l-2.77 -1.55v-3.1zM1924.2 943.7l2.77 1.55v3.1l-2.77 1.55l-2.77 -1.55v-3.1zM1929.5 934.8l2.77 1.55v3.1l-2.77 1.55l-2.77 -1.55v-3.1zM1937.4 921.4l2.77 1.55v3.1l-2.77 1.55l-2.77 -1.55v-3.1zM1942.7 921.4l2.77 1.55v3.1l-2.77 1.55l-2.77 -1.55v-3.1z"/><path fill="#3B5A8D" d="M1622.5 836.5l2.77 1.55v3.1l-2.77 1.55l-2.77 -1.55v-3.1zM1619.8 849.9l2.77 1.55v3.1l-2.77 1.55l-2.77 -1.55v-3.1zM1627.8 863.3l2.77 1.55v3.1l-2.77 1.55l-2.77 -1.55v-3.1zM1651.6 885.6l2.77 1.55v3.1l-2.77 1.55l-2.77 -1.55v-3.1zM1656.9 841l2.77 1.55v3.1l-2.77 1.55l-2.77 -1.55v-3.1zM1659.5 890.1l2.77 1.55v3.1l-2.77 1.55l-2.77 -1.55v-3.1zM1656.9 894.6l2.77 1.55v3.1l-2.77 1.55l-2.77 -1.55v-3.1zM1659.5 1140.3l2.77 1.55v3.1l-2.77 1.55l-2.77 -1.55v-3.1zM1662.2 894.6l2.77 1.55v3.1l-2.77 1.55l-2.77 -1.55v-3.1zM1664.8 1140.3l2.77 1.55v3.1l-2.77 1.55l-2.77 -1.55v-3.1zM1662.2 1144.8l2.77 1.55v3.1l-2.77 1.55l-2.77 -1.55v-3.1zM1670.1 872.2l2.77 1.55v3.1l-2.77 1.55l-2.77 -1.55v-3.1zM1675.4 1024.1l2.77 1.55v3.1l-2.77 1.55l-2.77 -1.55v-3.1zM1680.7 1024.1l2.77 1.55v3.1l-2.77 1.55l-2.77 -1.55v-3.1zM1686 854.4l2.77 1.55v3.1l-2.77 1.55l-2.77 -1.55v-3.1zM1693.9 1010.7l2.77 1.55v3.1l-2.77 1.55l-2.77 -1.55v-3.1zM1704.5 1037.5l2.77 1.55v3.1l-2.77 1.55l-2.77 -1.55v-3.1zM1717.8 988.4l2.77 1.55v3.1l-2.77 1.55l-2.77 -1.55v-3.1zM1717.8 1042l2.77 1.55v3.1l-2.77 1.55l-2.77 -1.55v-3.1zM1725.7 939.2l2.77 1.55v3.1l-2.77 1.55l-2.77 -1.55v-3.1zM1731 948.2l2.77 1.55v3.1l-2.77 1.55l-2.77 -1.55v-3.1zM1736.3 975l2.77 1.55v3.1l-2.77 1.55l-2.77 -1.55v-3.1zM1826.3 939.2l2.77 1.55v3.1l-2.77 1.55l-2.77 -1.55v-3.1zM1828.9 943.7l2.77 1.55v3.1l-2.77 1.55l-2.77 -1.55v-3.1zM1834.2 943.7l2.77 1.55v3.1l-2.77 1.55l-2.77 -1.55v-3.1zM1831.6 948.2l2.77 1.55v3.1l-2.77 1.55l-2.77 -1.55v-3.1z"/><path fill="#3A5F8E" d="M1619.8 841l2.77 1.55v3.1l-2.77 1.55l-2.77 -1.55v-3.1zM1622.5 854.4l2.77 1.55v3.1l-2.77 1.55l-2.77 -1.55v-3.1zM1627.8 836.5l2.77 1.55v3.1l-2.77 1.55l-2.77 -1.55v-3.1zM1627.8 872.2l2.77 1.55v3.1l-2.77 1.55l-2.77 -1.55v-3.1zM1630.4 876.7l2.77 1.55v3.1l-2.77 1.55l-2.77 -1.55v-3.1zM1630.4 930.3l2.77 1.55v3.1l-2.77 1.55l-2.77 -1.55v-3.1zM1638.4 881.2l2.77 1.55v3.1l-2.77 1.55l-2.77 -1.55v-3.1zM1646.3 832l2.77 1.55v3.1l-2.77 1.55l-2.77 -1.55v-3.1zM1648.9 890.1l2.77 1.55v3.1l-2.77 1.55l-2.77 -1.55v-3.1zM1654.2 890.1l2.77 1.55v3.1l-2.77 1.55l-2.77 -1.55v-3.1zM1659.5 845.4l2.77 1.55v3.1l-2.77 1.55l-2.77 -1.55v-3.1zM1667.5 876.7l2.77 1.55v3.1l-2.77 1.55l-2.77 -1.55v-3.1zM1670.1 1024.1l2.77 1.55v3.1l-2.77 1.55l-2.77 -1.55v-3.1zM1680.7 854.4l2.77 1.55v3.1l-2.77 1.55l-2.77 -1.55v-3.1zM1686 1024.1l2.77 1.55v3.1l-2.77 1.55l-2.77 -1.55v-3.1zM1688.6 1064.4l2.77 1.55v3.1l-2.77 1.55l-2.77 -1.55v-3.1zM1693.9 1073.3l2.77 1.55v3.1l-2.77 1.55l-2.77 -1.55v-3.1zM1707.2 1059.9l2.77 1.55v3.1l-2.77 1.55l-2.77 -1.55v-3.1zM1728.3 970.5l2.77 1.55v3.1l-2.77 1.55l-2.77 -1.55v-3.1zM1828.9 934.8l2.77 1.55v3.1l-2.77 1.55l-2.77 -1.55v-3.1zM1839.5 943.7l2.77 1.55v3.1l-2.77 1.55l-2.77 -1.55v-3.1zM1836.8 948.2l2.77 1.55v3.1l-2.77 1.55l-2.77 -1.55v-3.1zM1876.5 934.8l2.77 1.55v3.1l-2.77 1.55l-2.77 -1.55v-3.1z"/><path fill="#36688F" d="M1622.5 845.4l2.77 1.55v3.1l-2.77 1.55l-2.77 -1.55v-3.1zM1627.8 925.8l2.77 1.55v3.1l-2.77 1.55l-2.77 -1.55v-3.1zM1630.4 858.8l2.77 1.55v3.1l-2.77 1.55l-2.77 -1.55v-3.1zM1633.1 863.3l2.77 1.55v3.1l-2.77 1.55l-2.77 -1.55v-3.1zM1630.4 867.8l2.77 1.55v3.1l-2.77 1.55l-2.77 -1.55v-3.1zM1638.4 836.5l2.77 1.55v3.1l-2.77 1.55l-2.77 -1.55v-3.1zM1635.7 912.4l2.77 1.55v3.1l-2.77 1.55l-2.77 -1.55v-3.1zM1641 876.7l2.77 1.55v3.1l-2.77 1.55l-2.77 -1.55v-3.1zM1641 885.6l2.77 1.55v3.1l-2.77 1.55l-2.77 -1.55v-3.1zM1641 912.4l2.77 1.55v3.1l-2.77 1.55l-2.77 -1.55v-3.1zM1651.6 841l2.77 1.55v3.1l-2.77 1.55l-2.77 -1.55v-3.1zM1654.2 908l2.77 1.55v3.1l-2.77 1.55l-2.77 -1.55v-3.1zM1662.2 912.4l2.77 1.55v3.1l-2.77 1.55l-2.77 -1.55v-3.1zM1667.5 867.8l2.77 1.55v3.1l-2.77 1.55l-2.77 -1.55v-3.1zM1670.1 916.9l2.77 1.55v3.1l-2.77 1.55l-2.77 -1.55v-3.1zM1688.6 1055.4l2.77 1.55v3.1l-2.77 1.55l-2.77 -1.55v-3.1zM1701.9 1068.8l2.77 1.55v3.1l-2.77 1.55l-2.77 -1.55v-3.1zM1712.5 961.6l2.77 1.55v3.1l-2.77 1.55l-2.77 -1.55v-3.1zM1765.4 997.3l2.77 1.55v3.1l-2.77 1.55l-2.77 -1.55v-3.1zM1871.3 943.7l2.77 1.55v3.1l-2.77 1.55l-2.77 -1.55v-3.1zM1873.9 948.2l2.77 1.55v3.1l-2.77 1.55l-2.77 -1.55v-3.1zM1948 921.4l2.77 1.55v3.1l-2.77 1.55l-2.77 -1.55v-3.1z"/><path fill="#23908B" d="M1625.1 841l2.77 1.55v3.1l-2.77 1.55l-2.77 -1.55v-3.1zM1638.4 845.4l2.77 1.55v3.1l-2.77 1.55l-2.77 -1.55v-3.1zM1635.7 849.9l2.77 1.55v3.1l-2.77 1.55l-2.77 -1.55v-3.1zM1641 841l2.77 1.55v3.1l-2.77 1.55l-2.77 -1.55v-3.1zM1643.7 863.3l2.77 1.55v3.1l-2.77 1.55l-2.77 -1.55v-3.1zM1646.3 894.6l2.77 1.55v3.1l-2.77 1.55l-2.77 -1.55v-3.1zM1648.9 899l2.77 1.55v3.1l-2.77 1.55l-2.77 -1.55v-3.1zM1654.2 845.4l2.77 1.55v3.1l-2.77 1.55l-2.77 -1.55v-3.1zM1662.2 867.8l2.77 1.55v3.1l-2.77 1.55l-2.77 -1.55v-3.1zM1662.2 903.5l2.77 1.55v3.1l-2.77 1.55l-2.77 -1.55v-3.1zM1723 952.7l2.77 1.55v3.1l-2.77 1.55l-2.77 -1.55v-3.1zM1720.4 983.9l2.77 1.55v3.1l-2.77 1.55l-2.77 -1.55v-3.1z"/><path fill="#25A383" d="M1627.8 845.4l2.77 1.55v3.1l-2.77 1.55l-2.77 -1.55v-3.1zM1633.1 845.4l2.77 1.55v3.1l-2.77 1.55l-2.77 -1.55v-3.1zM1635.7 841l2.77 1.55v3.1l-2.77 1.55l-2.77 -1.55v-3.1zM1638.4 854.4l2.77 1.55v3.1l-2.77 1.55l-2.77 -1.55v-3.1zM1646.3 858.8l2.77 1.55v3.1l-2.77 1.55l-2.77 -1.55v-3.1zM1648.9 863.3l2.77 1.55v3.1l-2.77 1.55l-2.77 -1.55v-3.1zM1651.6 867.8l2.77 1.55v3.1l-2.77 1.55l-2.77 -1.55v-3.1zM1659.5 863.3l2.77 1.55v3.1l-2.77 1.55l-2.77 -1.55v-3.1zM1728.3 925.8l2.77 1.55v3.1l-2.77 1.55l-2.77 -1.55v-3.1z"/><path fill="#31728F" d="M1625.1 849.9l2.77 1.55v3.1l-2.77 1.55l-2.77 -1.55v-3.1zM1633.1 836.5l2.77 1.55v3.1l-2.77 1.55l-2.77 -1.55v-3.1zM1633.1 908l2.77 1.55v3.1l-2.77 1.55l-2.77 -1.55v-3.1zM1648.9 881.2l2.77 1.55v3.1l-2.77 1.55l-2.77 -1.55v-3.1zM1654.2 881.2l2.77 1.55v3.1l-2.77 1.55l-2.77 -1.55v-3.1zM1651.6 894.6l2.77 1.55v3.1l-2.77 1.55l-2.77 -1.55v-3.1zM1656.9 903.5l2.77 1.55v3.1l-2.77 1.55l-2.77 -1.55v-3.1zM1664.8 899l2.77 1.55v3.1l-2.77 1.55l-2.77 -1.55v-3.1zM1678.1 849.9l2.77 1.55v3.1l-2.77 1.55l-2.77 -1.55v-3.1zM1686 845.4l2.77 1.55v3.1l-2.77 1.55l-2.77 -1.55v-3.1zM1691.3 1068.8l2.77 1.55v3.1l-2.77 1.55l-2.77 -1.55v-3.1zM1707.2 1042l2.77 1.55v3.1l-2.77 1.55l-2.77 -1.55v-3.1zM1707.2 1068.8l2.77 1.55v3.1l-2.77 1.55l-2.77 -1.55v-3.1zM1709.8 957.1l2.77 1.55v3.1l-2.77 1.55l-2.77 -1.55v-3.1zM1715.1 948.2l2.77 1.55v3.1l-2.77 1.55l-2.77 -1.55v-3.1zM1723 970.5l2.77 1.55v3.1l-2.77 1.55l-2.77 -1.55v-3.1zM1725.7 966.1l2.77 1.55v3.1l-2.77 1.55l-2.77 -1.55v-3.1z"/><path fill="#2F768E" d="M1627.8 854.4l2.77 1.55v3.1l-2.77 1.55l-2.77 -1.55v-3.1zM1633.1 899l2.77 1.55v3.1l-2.77 1.55l-2.77 -1.55v-3.1zM1635.7 858.8l2.77 1.55v3.1l-2.77 1.55l-2.77 -1.55v-3.1zM1664.8 863.3l2.77 1.55v3.1l-2.77 1.55l-2.77 -1.55v-3.1zM1696.6 1068.8l2.77 1.55v3.1l-2.77 1.55l-2.77 -1.55v-3.1zM1701.9 1059.9l2.77 1.55v3.1l-2.77 1.55l-2.77 -1.55v-3.1zM1712.5 1042l2.77 1.55v3.1l-2.77 1.55l-2.77 -1.55v-3.1zM1723 961.6l2.77 1.55v3.1l-2.77 1.55l-2.77 -1.55v-3.1zM1725.7 957.1l2.77 1.55v3.1l-2.77 1.55l-2.77 -1.55v-3.1zM1834.2 934.8l2.77 1.55v3.1l-2.77 1.55l-2.77 -1.55v-3.1zM1836.8 930.3l2.77 1.55v3.1l-2.77 1.55l-2.77 -1.55v-3.1z"/><path fill="#346D8F" d="M1625.1 858.8l2.77 1.55v3.1l-2.77 1.55l-2.77 -1.55v-3.1zM1635.7 894.6l2.77 1.55v3.1l-2.77 1.55l-2.77 -1.55v-3.1zM1643.7 836.5l2.77 1.55v3.1l-2.77 1.55l-2.77 -1.55v-3.1zM1643.7 881.2l2.77 1.55v3.1l-2.77 1.55l-2.77 -1.55v-3.1zM1643.7 890.1l2.77 1.55v3.1l-2.77 1.55l-2.77 -1.55v-3.1zM1648.9 836.5l2.77 1.55v3.1l-2.77 1.55l-2.77 -1.55v-3.1zM1651.6 832l2.77 1.55v3.1l-2.77 1.55l-2.77 -1.55v-3.1zM1659.5 881.2l2.77 1.55v3.1l-2.77 1.55l-2.77 -1.55v-3.1zM1664.8 854.4l2.77 1.55v3.1l-2.77 1.55l-2.77 -1.55v-3.1zM1670.1 908l2.77 1.55v3.1l-2.77 1.55l-2.77 -1.55v-3.1zM1717.8 943.7l2.77 1.55v3.1l-2.77 1.55l-2.77 -1.55v-3.1zM1725.7 948.2l2.77 1.55v3.1l-2.77 1.55l-2.77 -1.55v-3.1zM1728.3 952.7l2.77 1.55v3.1l-2.77 1.55l-2.77 -1.55v-3.1zM1839.5 934.8l2.77 1.55v3.1l-2.77 1.55l-2.77 -1.55v-3.1zM1842.1 939.2l2.77 1.55v3.1l-2.77 1.55l-2.77 -1.55v-3.1z"/><path fill="#3D568D" d="M1625.1 867.8l2.77 1.55v3.1l-2.77 1.55l-2.77 -1.55v-3.1zM1633.1 872.2l2.77 1.55v3.1l-2.77 1.55l-2.77 -1.55v-3.1zM1638.4 890.1l2.77 1.55v3.1l-2.77 1.55l-2.77 -1.55v-3.1zM1654.2 836.5l2.77 1.55v3.1l-2.77 1.55l-2.77 -1.55v-3.1zM1651.6 912.4l2.77 1.55v3.1l-2.77 1.55l-2.77 -1.55v-3.1zM1656.9 885.6l2.77 1.55v3.1l-2.77 1.55l-2.77 -1.55v-3.1zM1662.2 849.9l2.77 1.55v3.1l-2.77 1.55l-2.77 -1.55v-3.1zM1662.2 885.6l2.77 1.55v3.1l-2.77 1.55l-2.77 -1.55v-3.1zM1670.1 854.4l2.77 1.55v3.1l-2.77 1.55l-2.77 -1.55v-3.1zM1667.5 858.8l2.77 1.55v3.1l-2.77 1.55l-2.77 -1.55v-3.1zM1667.5 885.6l2.77 1.55v3.1l-2.77 1.55l-2.77 -1.55v-3.1zM1667.5 894.6l2.77 1.55v3.1l-2.77 1.55l-2.77 -1.55v-3.1zM1670.1 899l2.77 1.55v3.1l-2.77 1.55l-2.77 -1.55v-3.1zM1667.5 1144.8l2.77 1.55v3.1l-2.77 1.55l-2.77 -1.55v-3.1zM1672.8 912.4l2.77 1.55v3.1l-2.77 1.55l-2.77 -1.55v-3.1zM1675.4 1059.9l2.77 1.55v3.1l-2.77 1.55l-2.77 -1.55v-3.1zM1680.7 845.4l2.77 1.55v3.1l-2.77 1.55l-2.77 -1.55v-3.1zM1680.7 1059.9l2.77 1.55v3.1l-2.77 1.55l-2.77 -1.55v-3.1zM1691.3 1024.1l2.77 1.55v3.1l-2.77 1.55l-2.77 -1.55v-3.1zM1691.3 1050.9l2.77 1.55v3.1l-2.77 1.55l-2.77 -1.55v-3.1zM1709.8 948.2l2.77 1.55v3.1l-2.77 1.55l-2.77 -1.55v-3.1zM1720.4 939.2l2.77 1.55v3.1l-2.77 1.55l-2.77 -1.55v-3.1zM1720.4 975l2.77 1.55v3.1l-2.77 1.55l-2.77 -1.55v-3.1zM1728.3 961.6l2.77 1.55v3.1l-2.77 1.55l-2.77 -1.55v-3.1zM1731 957.1l2.77 1.55v3.1l-2.77 1.55l-2.77 -1.55v-3.1zM1731 966.1l2.77 1.55v3.1l-2.77 1.55l-2.77 -1.55v-3.1zM1871.3 952.7l2.77 1.55v3.1l-2.77 1.55l-2.77 -1.55v-3.1z"/><path fill="#38638E" d="M1625.1 930.3l2.77 1.55v3.1l-2.77 1.55l-2.77 -1.55v-3.1zM1630.4 903.5l2.77 1.55v3.1l-2.77 1.55l-2.77 -1.55v-3.1zM1635.7 876.7l2.77 1.55v3.1l-2.77 1.55l-2.77 -1.55v-3.1zM1646.3 885.6l2.77 1.55v3.1l-2.77 1.55l-2.77 -1.55v-3.1zM1654.2 899l2.77 1.55v3.1l-2.77 1.55l-2.77 -1.55v-3.1zM1659.5 899l2.77 1.55v3.1l-2.77 1.55l-2.77 -1.55v-3.1zM1659.5 908l2.77 1.55v3.1l-2.77 1.55l-2.77 -1.55v-3.1zM1662.2 876.7l2.77 1.55v3.1l-2.77 1.55l-2.77 -1.55v-3.1zM1662.2 1135.8l2.77 1.55v3.1l-2.77 1.55l-2.77 -1.55v-3.1zM1670.1 863.3l2.77 1.55v3.1l-2.77 1.55l-2.77 -1.55v-3.1zM1686 1059.9l2.77 1.55v3.1l-2.77 1.55l-2.77 -1.55v-3.1zM1696.6 1050.9l2.77 1.55v3.1l-2.77 1.55l-2.77 -1.55v-3.1zM1709.8 966.1l2.77 1.55v3.1l-2.77 1.55l-2.77 -1.55v-3.1zM1712.5 970.5l2.77 1.55v3.1l-2.77 1.55l-2.77 -1.55v-3.1zM1723 943.7l2.77 1.55v3.1l-2.77 1.55l-2.77 -1.55v-3.1zM1831.6 930.3l2.77 1.55v3.1l-2.77 1.55l-2.77 -1.55v-3.1zM1831.6 939.2l2.77 1.55v3.1l-2.77 1.55l-2.77 -1.55v-3.1zM1871.3 934.8l2.77 1.55v3.1l-2.77 1.55l-2.77 -1.55v-3.1zM1876.5 943.7l2.77 1.55v3.1l-2.77 1.55l-2.77 -1.55v-3.1z"/><path fill="#4EB970" d="M1630.4 841l2.77 1.55v3.1l-2.77 1.55l-2.77 -1.55v-3.1zM1651.6 849.9l2.77 1.55v3.1l-2.77 1.55l-2.77 -1.55v-3.1z"/><path fill="#2A808E" d="M1630.4 849.9l2.77 1.55v3.1l-2.77 1.55l-2.77 -1.55v-3.1zM1641 867.8l2.77 1.55v3.1l-2.77 1.55l-2.77 -1.55v-3.1zM1646.3 841l2.77 1.55v3.1l-2.77 1.55l-2.77 -1.55v-3.1zM1646.3 876.7l2.77 1.55v3.1l-2.77 1.55l-2.77 -1.55v-3.1zM1656.9 876.7l2.77 1.55v3.1l-2.77 1.55l-2.77 -1.55v-3.1zM1688.6 849.9l2.77 1.55v3.1l-2.77 1.55l-2.77 -1.55v-3.1zM1720.4 948.2l2.77 1.55v3.1l-2.77 1.55l-2.77 -1.55v-3.1z"/><path fill="#2C7B8E" d="M1633.1 854.4l2.77 1.55v3.1l-2.77 1.55l-2.77 -1.55v-3.1zM1635.7 867.8l2.77 1.55v3.1l-2.77 1.55l-2.77 -1.55v-3.1zM1638.4 872.2l2.77 1.55v3.1l-2.77 1.55l-2.77 -1.55v-3.1zM1643.7 872.2l2.77 1.55v3.1l-2.77 1.55l-2.77 -1.55v-3.1zM1667.5 903.5l2.77 1.55v3.1l-2.77 1.55l-2.77 -1.55v-3.1zM1704.5 957.1l2.77 1.55v3.1l-2.77 1.55l-2.77 -1.55v-3.1zM1709.8 1064.4l2.77 1.55v3.1l-2.77 1.55l-2.77 -1.55v-3.1zM1720.4 957.1l2.77 1.55v3.1l-2.77 1.55l-2.77 -1.55v-3.1zM1873.9 939.2l2.77 1.55v3.1l-2.77 1.55l-2.77 -1.55v-3.1z"/><path fill="#28858D" d="M1638.4 863.3l2.77 1.55v3.1l-2.77 1.55l-2.77 -1.55v-3.1zM1641 894.6l2.77 1.55v3.1l-2.77 1.55l-2.77 -1.55v-3.1zM1646.3 867.8l2.77 1.55v3.1l-2.77 1.55l-2.77 -1.55v-3.1zM1656.9 849.9l2.77 1.55v3.1l-2.77 1.55l-2.77 -1.55v-3.1zM1659.5 854.4l2.77 1.55v3.1l-2.77 1.55l-2.77 -1.55v-3.1zM1662.2 858.8l2.77 1.55v3.1l-2.77 1.55l-2.77 -1.55v-3.1zM1664.8 872.2l2.77 1.55v3.1l-2.77 1.55l-2.77 -1.55v-3.1zM1717.8 952.7l2.77 1.55v3.1l-2.77 1.55l-2.77 -1.55v-3.1zM1717.8 961.6l2.77 1.55v3.1l-2.77 1.55l-2.77 -1.55v-3.1zM1836.8 939.2l2.77 1.55v3.1l-2.77 1.55l-2.77 -1.55v-3.1z"/><path fill="#21958A" d="M1638.4 899l2.77 1.55v3.1l-2.77 1.55l-2.77 -1.55v-3.1zM1641 858.8l2.77 1.55v3.1l-2.77 1.55l-2.77 -1.55v-3.1zM1648.9 908l2.77 1.55v3.1l-2.77 1.55l-2.77 -1.55v-3.1zM1651.6 903.5l2.77 1.55v3.1l-2.77 1.55l-2.77 -1.55v-3.1zM1683.4 849.9l2.77 1.55v3.1l-2.77 1.55l-2.77 -1.55v-3.1zM1693.9 1064.4l2.77 1.55v3.1l-2.77 1.55l-2.77 -1.55v-3.1zM1699.2 1055.4l2.77 1.55v3.1l-2.77 1.55l-2.77 -1.55v-3.1zM1699.2 1064.4l2.77 1.55v3.1l-2.77 1.55l-2.77 -1.55v-3.1z"/><path fill="#268A8C" d="M1635.7 903.5l2.77 1.55v3.1l-2.77 1.55l-2.77 -1.55v-3.1zM1651.6 876.7l2.77 1.55v3.1l-2.77 1.55l-2.77 -1.55v-3.1z"/><path fill="#2CAC7E" d="M1638.4 908l2.77 1.55v3.1l-2.77 1.55l-2.77 -1.55v-3.1zM1641 849.9l2.77 1.55v3.1l-2.77 1.55l-2.77 -1.55v-3.1zM1643.7 854.4l2.77 1.55v3.1l-2.77 1.55l-2.77 -1.55v-3.1zM1667.5 912.4l2.77 1.55v3.1l-2.77 1.55l-2.77 -1.55v-3.1zM1712.5 952.7l2.77 1.55v3.1l-2.77 1.55l-2.77 -1.55v-3.1z"/><path fill="#1F9A89" d="M1643.7 845.4l2.77 1.55v3.1l-2.77 1.55l-2.77 -1.55v-3.1zM1654.2 872.2l2.77 1.55v3.1l-2.77 1.55l-2.77 -1.55v-3.1zM1715.1 957.1l2.77 1.55v3.1l-2.77 1.55l-2.77 -1.55v-3.1zM1717.8 970.5l2.77 1.55v3.1l-2.77 1.55l-2.77 -1.55v-3.1z"/><path fill="#2FB07B" d="M1643.7 899l2.77 1.55v3.1l-2.77 1.55l-2.77 -1.55v-3.1zM1646.3 849.9l2.77 1.55v3.1l-2.77 1.55l-2.77 -1.55v-3.1zM1691.3 1059.9l2.77 1.55v3.1l-2.77 1.55l-2.77 -1.55v-3.1zM1696.6 1059.9l2.77 1.55v3.1l-2.77 1.55l-2.77 -1.55v-3.1z"/><path fill="#70C263" d="M1641 903.5l2.77 1.55v3.1l-2.77 1.55l-2.77 -1.55v-3.1z"/><path fill="#58BC6C" d="M1643.7 908l2.77 1.55v3.1l-2.77 1.55l-2.77 -1.55v-3.1zM1651.6 858.8l2.77 1.55v3.1l-2.77 1.55l-2.77 -1.55v-3.1z"/><path fill="#229E86" d="M1648.9 845.4l2.77 1.55v3.1l-2.77 1.55l-2.77 -1.55v-3.1zM1648.9 854.4l2.77 1.55v3.1l-2.77 1.55l-2.77 -1.55v-3.1zM1654.2 863.3l2.77 1.55v3.1l-2.77 1.55l-2.77 -1.55v-3.1zM1659.5 872.2l2.77 1.55v3.1l-2.77 1.55l-2.77 -1.55v-3.1zM1693.9 1055.4l2.77 1.55v3.1l-2.77 1.55l-2.77 -1.55v-3.1zM1704.5 1064.4l2.77 1.55v3.1l-2.77 1.55l-2.77 -1.55v-3.1zM1720.4 966.1l2.77 1.55v3.1l-2.77 1.55l-2.77 -1.55v-3.1z"/><path fill="#29A781" d="M1648.9 872.2l2.77 1.55v3.1l-2.77 1.55l-2.77 -1.55v-3.1zM1656.9 858.8l2.77 1.55v3.1l-2.77 1.55l-2.77 -1.55v-3.1zM1664.8 908l2.77 1.55v3.1l-2.77 1.55l-2.77 -1.55v-3.1z"/><path fill="#F2E030" d="M1646.3 903.5l2.77 1.55v3.1l-2.77 1.55l-2.77 -1.55v-3.1z"/><path fill="#39B377" d="M1654.2 854.4l2.77 1.55v3.1l-2.77 1.55l-2.77 -1.55v-3.1zM1656.9 867.8l2.77 1.55v3.1l-2.77 1.55l-2.77 -1.55v-3.1z"/><path fill="#7FC55E" d="M1709.8 1037.5l2.77 1.55v3.1l-2.77 1.55l-2.77 -1.55v-3.1z"/><path fill="#BED346" d="M1715.1 966.1l2.77 1.55v3.1l-2.77 1.55l-2.77 -1.55v-3.1z"/></g>
</g>
<rect x="1549.5" y="757.7" width="439.1" height="422.9" fill="none" stroke="#333" stroke-width="1.5"/>
<rect x="1549.5" y="726" width="439.1" height="31.7" fill="#D1D5D5" stroke="#333" stroke-width="1.5"/>
<text x="1797.3" y="749.6" class="b" font-size="23.4" fill="#1A1A1A" text-anchor="middle">Omentum with Metastasis</text>
<text x="1587.5" y="1205.3" font-size="19.6" fill="#4D4D4D" text-anchor="middle">&#8722;10</text>
<text x="1736.5" y="1205.3" font-size="19.6" fill="#4D4D4D" text-anchor="middle">0</text>
<text x="1886.5" y="1205.3" font-size="19.6" fill="#4D4D4D" text-anchor="middle">10</text>
<path d="M1586.5 1180.6v5M1736.5 1180.6v5M1886.5 1180.6v5M1549.5 799.2h-5M1549.5 874.2h-5M1549.5 949.2h-5M1549.5 1024.2h-5M1549.5 1099.2h-5M1549.5 1174.2h-5" stroke="#333" stroke-width="1.7" fill="none"/>
<path d="M526.6 1164V1194.5H558" stroke="#111" stroke-width="0.9" fill="none"/>
<path d="M526.6 1161l-2.6 5h5.2zM561.4 1194.5l-5-2.6v5.2z" fill="#111"/>
<text x="561.6" y="1202" font-size="20.1">UMAP 1</text>
<text transform="translate(534.4 1159.8) rotate(-90)" font-size="20.8">UMAP 2</text>
</g>
</svg>
</body>
</html>
